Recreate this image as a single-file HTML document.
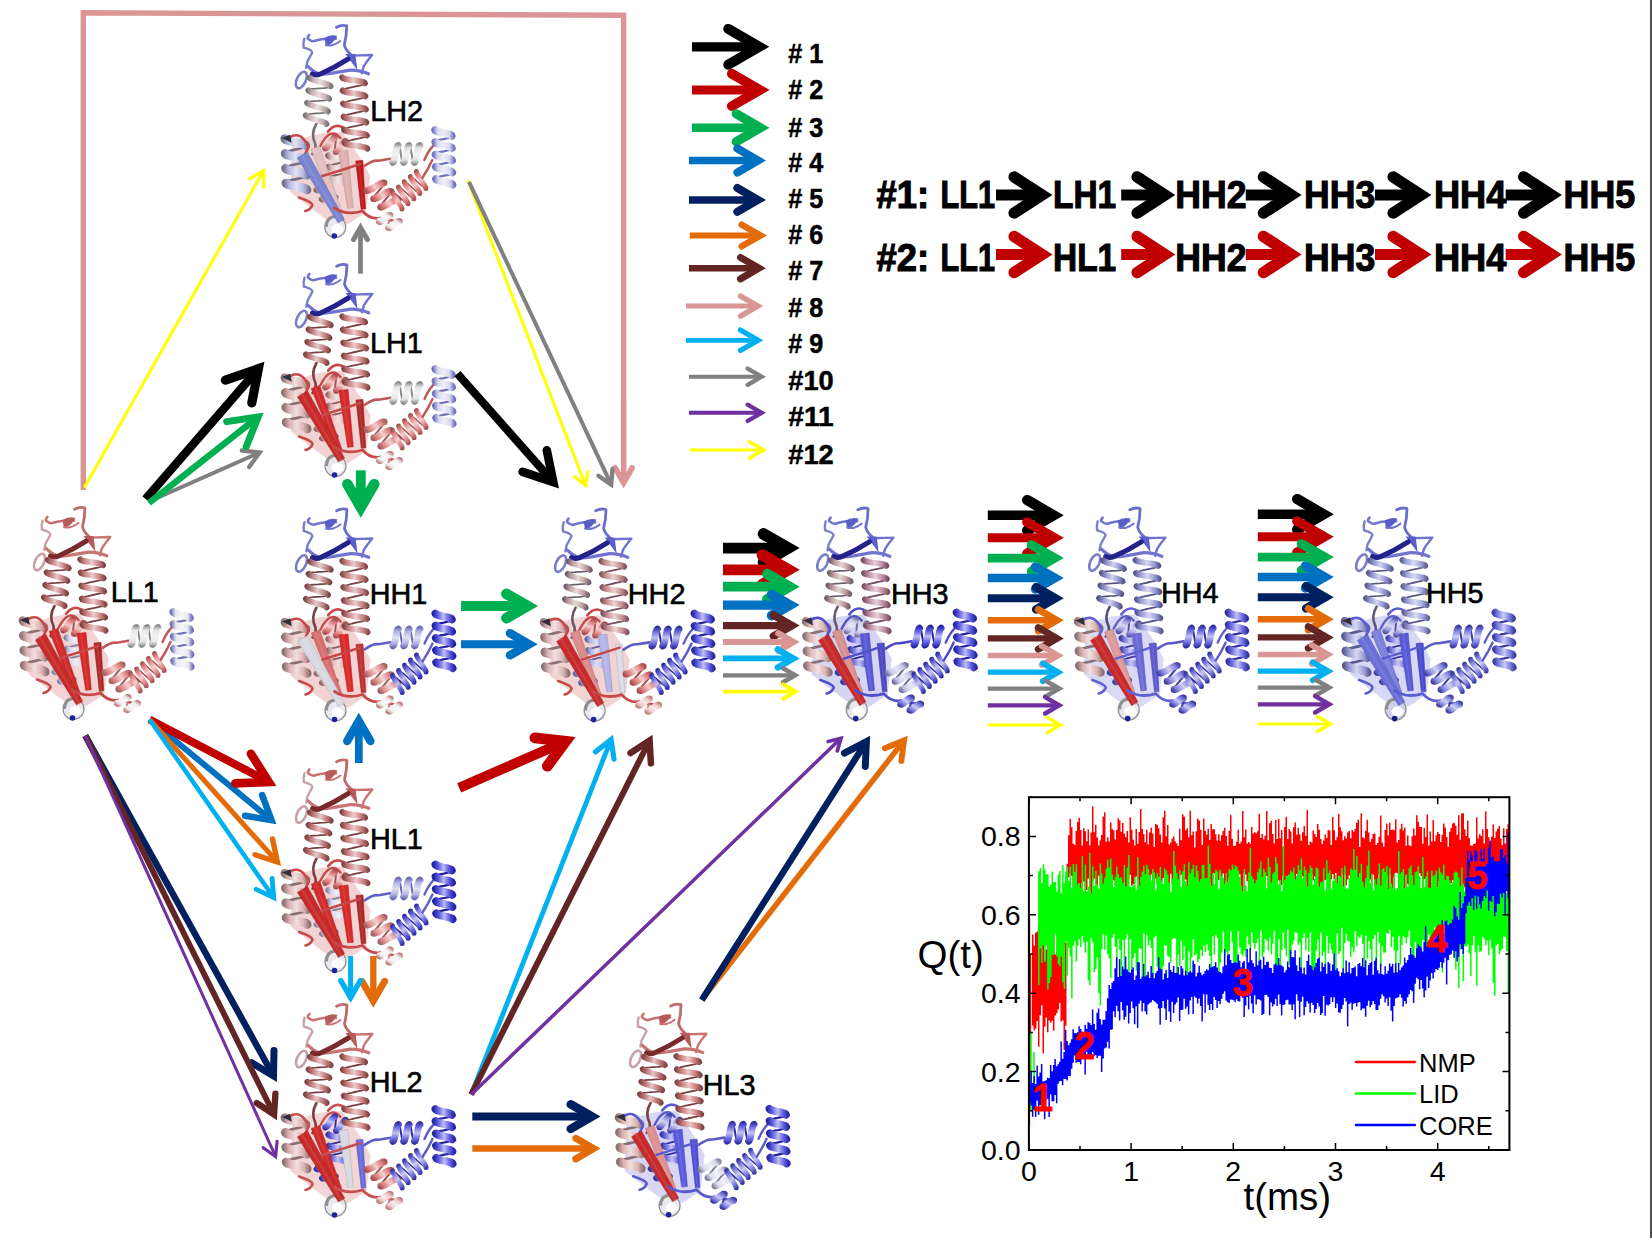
<!DOCTYPE html><html><head><meta charset="utf-8"><style>html,body{margin:0;padding:0;background:#fff;width:1652px;height:1238px;overflow:hidden}svg{display:block;font-family:"Liberation Sans",sans-serif}</style></head><body><svg width="1652" height="1238" viewBox="0 0 1652 1238"><defs><linearGradient id="h1" gradientUnits="userSpaceOnUse" x1="23.3" y1="76.2" x2="48.2" y2="78.8"><stop offset="0" stop-color="#707070"/><stop offset="0.22" stop-color="#c8b0b0"/><stop offset="0.5" stop-color="#e9dfdf"/><stop offset="0.78" stop-color="#c8b0b0"/><stop offset="1" stop-color="#707070"/></linearGradient><linearGradient id="h2" gradientUnits="userSpaceOnUse" x1="45" y1="148.5" x2="65" y2="147.5"><stop offset="0" stop-color="#806060"/><stop offset="0.22" stop-color="#dcc0c0"/><stop offset="0.5" stop-color="#f1e6e6"/><stop offset="0.78" stop-color="#dcc0c0"/><stop offset="1" stop-color="#806060"/></linearGradient><linearGradient id="h3" gradientUnits="userSpaceOnUse" x1="49.8" y1="128.6" x2="55.2" y2="112.4"><stop offset="0" stop-color="#a06060"/><stop offset="0.22" stop-color="#e09090"/><stop offset="0.5" stop-color="#f3d3d3"/><stop offset="0.78" stop-color="#e09090"/><stop offset="1" stop-color="#a06060"/></linearGradient><linearGradient id="h4" gradientUnits="userSpaceOnUse" x1="0.7" y1="144.4" x2="26.6" y2="143.6"><stop offset="0" stop-color="#70708a"/><stop offset="0.22" stop-color="#b4b8e0"/><stop offset="0.5" stop-color="#e1e3f3"/><stop offset="0.78" stop-color="#b4b8e0"/><stop offset="1" stop-color="#70708a"/></linearGradient><linearGradient id="h5" gradientUnits="userSpaceOnUse" x1="38.1" y1="176" x2="51.9" y2="168"><stop offset="0" stop-color="#806060"/><stop offset="0.22" stop-color="#dcc0c0"/><stop offset="0.5" stop-color="#f1e6e6"/><stop offset="0.78" stop-color="#dcc0c0"/><stop offset="1" stop-color="#806060"/></linearGradient><linearGradient id="h6" gradientUnits="userSpaceOnUse" x1="59.5" y1="91.5" x2="85.5" y2="90.5"><stop offset="0" stop-color="#7a4444"/><stop offset="0.22" stop-color="#c88080"/><stop offset="0.5" stop-color="#e9cccc"/><stop offset="0.78" stop-color="#c88080"/><stop offset="1" stop-color="#7a4444"/></linearGradient><linearGradient id="h7" gradientUnits="userSpaceOnUse" x1="91.6" y1="178.1" x2="108.4" y2="163.9"><stop offset="0" stop-color="#a05050"/><stop offset="0.22" stop-color="#e08080"/><stop offset="0.5" stop-color="#f3cccc"/><stop offset="0.78" stop-color="#e08080"/><stop offset="1" stop-color="#a05050"/></linearGradient><linearGradient id="h8" gradientUnits="userSpaceOnUse" x1="102.9" y1="203.8" x2="111.1" y2="191.2"><stop offset="0" stop-color="#c08080"/><stop offset="0.22" stop-color="#eeeeee"/><stop offset="0.5" stop-color="#f8f8f8"/><stop offset="0.78" stop-color="#eeeeee"/><stop offset="1" stop-color="#c08080"/></linearGradient><linearGradient id="h9" gradientUnits="userSpaceOnUse" x1="133.4" y1="175" x2="119.1" y2="158.4"><stop offset="0" stop-color="#a05050"/><stop offset="0.22" stop-color="#e47878"/><stop offset="0.5" stop-color="#f4c9c9"/><stop offset="0.78" stop-color="#e47878"/><stop offset="1" stop-color="#a05050"/></linearGradient><linearGradient id="h10" gradientUnits="userSpaceOnUse" x1="125" y1="140.5" x2="125" y2="119.5"><stop offset="0" stop-color="#8a8a8a"/><stop offset="0.22" stop-color="#e4e4e4"/><stop offset="0.5" stop-color="#f4f4f4"/><stop offset="0.78" stop-color="#e4e4e4"/><stop offset="1" stop-color="#8a8a8a"/></linearGradient><linearGradient id="h11" gradientUnits="userSpaceOnUse" x1="151" y1="134.2" x2="172" y2="133.8"><stop offset="0" stop-color="#7070c0"/><stop offset="0.22" stop-color="#d8d8f0"/><stop offset="0.5" stop-color="#efeff9"/><stop offset="0.78" stop-color="#d8d8f0"/><stop offset="1" stop-color="#7070c0"/></linearGradient><linearGradient id="h12" gradientUnits="userSpaceOnUse" x1="23.3" y1="76.2" x2="48.2" y2="78.8"><stop offset="0" stop-color="#7a4040"/><stop offset="0.22" stop-color="#c07a7a"/><stop offset="0.5" stop-color="#e6caca"/><stop offset="0.78" stop-color="#c07a7a"/><stop offset="1" stop-color="#7a4040"/></linearGradient><linearGradient id="h13" gradientUnits="userSpaceOnUse" x1="45" y1="148.5" x2="65" y2="147.5"><stop offset="0" stop-color="#906060"/><stop offset="0.22" stop-color="#e0b8b8"/><stop offset="0.5" stop-color="#f3e3e3"/><stop offset="0.78" stop-color="#e0b8b8"/><stop offset="1" stop-color="#906060"/></linearGradient><linearGradient id="h14" gradientUnits="userSpaceOnUse" x1="49.8" y1="128.6" x2="55.2" y2="112.4"><stop offset="0" stop-color="#a05050"/><stop offset="0.22" stop-color="#e07a7a"/><stop offset="0.5" stop-color="#f3caca"/><stop offset="0.78" stop-color="#e07a7a"/><stop offset="1" stop-color="#a05050"/></linearGradient><linearGradient id="h15" gradientUnits="userSpaceOnUse" x1="0.7" y1="144.4" x2="26.6" y2="143.6"><stop offset="0" stop-color="#8a7070"/><stop offset="0.22" stop-color="#dcb0b0"/><stop offset="0.5" stop-color="#f1dfdf"/><stop offset="0.78" stop-color="#dcb0b0"/><stop offset="1" stop-color="#8a7070"/></linearGradient><linearGradient id="h16" gradientUnits="userSpaceOnUse" x1="38.1" y1="176" x2="51.9" y2="168"><stop offset="0" stop-color="#906060"/><stop offset="0.22" stop-color="#e0b8b8"/><stop offset="0.5" stop-color="#f3e3e3"/><stop offset="0.78" stop-color="#e0b8b8"/><stop offset="1" stop-color="#906060"/></linearGradient><linearGradient id="h17" gradientUnits="userSpaceOnUse" x1="59.5" y1="91.5" x2="85.5" y2="90.5"><stop offset="0" stop-color="#7a4040"/><stop offset="0.22" stop-color="#cc7e7e"/><stop offset="0.5" stop-color="#ebcbcb"/><stop offset="0.78" stop-color="#cc7e7e"/><stop offset="1" stop-color="#7a4040"/></linearGradient><linearGradient id="h18" gradientUnits="userSpaceOnUse" x1="91.6" y1="178.1" x2="108.4" y2="163.9"><stop offset="0" stop-color="#a06060"/><stop offset="0.22" stop-color="#e08888"/><stop offset="0.5" stop-color="#f3cfcf"/><stop offset="0.78" stop-color="#e08888"/><stop offset="1" stop-color="#a06060"/></linearGradient><linearGradient id="h19" gradientUnits="userSpaceOnUse" x1="102.9" y1="203.8" x2="111.1" y2="191.2"><stop offset="0" stop-color="#c08080"/><stop offset="0.22" stop-color="#eeeeee"/><stop offset="0.5" stop-color="#f8f8f8"/><stop offset="0.78" stop-color="#eeeeee"/><stop offset="1" stop-color="#c08080"/></linearGradient><linearGradient id="h20" gradientUnits="userSpaceOnUse" x1="133.4" y1="175" x2="119.1" y2="158.4"><stop offset="0" stop-color="#a05050"/><stop offset="0.22" stop-color="#e48888"/><stop offset="0.5" stop-color="#f4cfcf"/><stop offset="0.78" stop-color="#e48888"/><stop offset="1" stop-color="#a05050"/></linearGradient><linearGradient id="h21" gradientUnits="userSpaceOnUse" x1="125" y1="140.5" x2="125" y2="119.5"><stop offset="0" stop-color="#8a8a8a"/><stop offset="0.22" stop-color="#e4e4e4"/><stop offset="0.5" stop-color="#f4f4f4"/><stop offset="0.78" stop-color="#e4e4e4"/><stop offset="1" stop-color="#8a8a8a"/></linearGradient><linearGradient id="h22" gradientUnits="userSpaceOnUse" x1="151" y1="134.2" x2="172" y2="133.8"><stop offset="0" stop-color="#7070c0"/><stop offset="0.22" stop-color="#d8d8f0"/><stop offset="0.5" stop-color="#efeff9"/><stop offset="0.78" stop-color="#d8d8f0"/><stop offset="1" stop-color="#7070c0"/></linearGradient><linearGradient id="h23" gradientUnits="userSpaceOnUse" x1="23.3" y1="76.2" x2="48.2" y2="78.8"><stop offset="0" stop-color="#7a4040"/><stop offset="0.22" stop-color="#c07676"/><stop offset="0.5" stop-color="#e6c8c8"/><stop offset="0.78" stop-color="#c07676"/><stop offset="1" stop-color="#7a4040"/></linearGradient><linearGradient id="h24" gradientUnits="userSpaceOnUse" x1="45" y1="148.5" x2="65" y2="147.5"><stop offset="0" stop-color="#8080a0"/><stop offset="0.22" stop-color="#d8d8ec"/><stop offset="0.5" stop-color="#efeff7"/><stop offset="0.78" stop-color="#d8d8ec"/><stop offset="1" stop-color="#8080a0"/></linearGradient><linearGradient id="h25" gradientUnits="userSpaceOnUse" x1="49.8" y1="128.6" x2="55.2" y2="112.4"><stop offset="0" stop-color="#a05050"/><stop offset="0.22" stop-color="#e07a7a"/><stop offset="0.5" stop-color="#f3caca"/><stop offset="0.78" stop-color="#e07a7a"/><stop offset="1" stop-color="#a05050"/></linearGradient><linearGradient id="h26" gradientUnits="userSpaceOnUse" x1="0.7" y1="144.4" x2="26.6" y2="143.6"><stop offset="0" stop-color="#8a7070"/><stop offset="0.22" stop-color="#dcb0b0"/><stop offset="0.5" stop-color="#f1dfdf"/><stop offset="0.78" stop-color="#dcb0b0"/><stop offset="1" stop-color="#8a7070"/></linearGradient><linearGradient id="h27" gradientUnits="userSpaceOnUse" x1="38.1" y1="176" x2="51.9" y2="168"><stop offset="0" stop-color="#8080a0"/><stop offset="0.22" stop-color="#d8d8ec"/><stop offset="0.5" stop-color="#efeff7"/><stop offset="0.78" stop-color="#d8d8ec"/><stop offset="1" stop-color="#8080a0"/></linearGradient><linearGradient id="h28" gradientUnits="userSpaceOnUse" x1="59.5" y1="91.5" x2="85.5" y2="90.5"><stop offset="0" stop-color="#7a4040"/><stop offset="0.22" stop-color="#cc8080"/><stop offset="0.5" stop-color="#ebcccc"/><stop offset="0.78" stop-color="#cc8080"/><stop offset="1" stop-color="#7a4040"/></linearGradient><linearGradient id="h29" gradientUnits="userSpaceOnUse" x1="91.6" y1="178.1" x2="108.4" y2="163.9"><stop offset="0" stop-color="#a06060"/><stop offset="0.22" stop-color="#e08888"/><stop offset="0.5" stop-color="#f3cfcf"/><stop offset="0.78" stop-color="#e08888"/><stop offset="1" stop-color="#a06060"/></linearGradient><linearGradient id="h30" gradientUnits="userSpaceOnUse" x1="102.9" y1="203.8" x2="111.1" y2="191.2"><stop offset="0" stop-color="#c08080"/><stop offset="0.22" stop-color="#eeeeee"/><stop offset="0.5" stop-color="#f8f8f8"/><stop offset="0.78" stop-color="#eeeeee"/><stop offset="1" stop-color="#c08080"/></linearGradient><linearGradient id="h31" gradientUnits="userSpaceOnUse" x1="133.4" y1="175" x2="119.1" y2="158.4"><stop offset="0" stop-color="#a05050"/><stop offset="0.22" stop-color="#e48888"/><stop offset="0.5" stop-color="#f4cfcf"/><stop offset="0.78" stop-color="#e48888"/><stop offset="1" stop-color="#a05050"/></linearGradient><linearGradient id="h32" gradientUnits="userSpaceOnUse" x1="125" y1="140.5" x2="125" y2="119.5"><stop offset="0" stop-color="#8a8a8a"/><stop offset="0.22" stop-color="#e4e4e4"/><stop offset="0.5" stop-color="#f4f4f4"/><stop offset="0.78" stop-color="#e4e4e4"/><stop offset="1" stop-color="#8a8a8a"/></linearGradient><linearGradient id="h33" gradientUnits="userSpaceOnUse" x1="151" y1="134.2" x2="172" y2="133.8"><stop offset="0" stop-color="#7070c0"/><stop offset="0.22" stop-color="#e8e8f0"/><stop offset="0.5" stop-color="#f6f6f9"/><stop offset="0.78" stop-color="#e8e8f0"/><stop offset="1" stop-color="#7070c0"/></linearGradient><linearGradient id="h34" gradientUnits="userSpaceOnUse" x1="23.3" y1="76.2" x2="48.2" y2="78.8"><stop offset="0" stop-color="#704444"/><stop offset="0.22" stop-color="#bc8282"/><stop offset="0.5" stop-color="#e4cdcd"/><stop offset="0.78" stop-color="#bc8282"/><stop offset="1" stop-color="#704444"/></linearGradient><linearGradient id="h35" gradientUnits="userSpaceOnUse" x1="45" y1="148.5" x2="65" y2="147.5"><stop offset="0" stop-color="#906060"/><stop offset="0.22" stop-color="#e0b0b0"/><stop offset="0.5" stop-color="#f3dfdf"/><stop offset="0.78" stop-color="#e0b0b0"/><stop offset="1" stop-color="#906060"/></linearGradient><linearGradient id="h36" gradientUnits="userSpaceOnUse" x1="49.8" y1="128.6" x2="55.2" y2="112.4"><stop offset="0" stop-color="#a05050"/><stop offset="0.22" stop-color="#e07a7a"/><stop offset="0.5" stop-color="#f3caca"/><stop offset="0.78" stop-color="#e07a7a"/><stop offset="1" stop-color="#a05050"/></linearGradient><linearGradient id="h37" gradientUnits="userSpaceOnUse" x1="0.7" y1="144.4" x2="26.6" y2="143.6"><stop offset="0" stop-color="#8a7070"/><stop offset="0.22" stop-color="#dcb0b0"/><stop offset="0.5" stop-color="#f1dfdf"/><stop offset="0.78" stop-color="#dcb0b0"/><stop offset="1" stop-color="#8a7070"/></linearGradient><linearGradient id="h38" gradientUnits="userSpaceOnUse" x1="38.1" y1="176" x2="51.9" y2="168"><stop offset="0" stop-color="#906060"/><stop offset="0.22" stop-color="#e0b0b0"/><stop offset="0.5" stop-color="#f3dfdf"/><stop offset="0.78" stop-color="#e0b0b0"/><stop offset="1" stop-color="#906060"/></linearGradient><linearGradient id="h39" gradientUnits="userSpaceOnUse" x1="59.5" y1="91.5" x2="85.5" y2="90.5"><stop offset="0" stop-color="#7a4444"/><stop offset="0.22" stop-color="#c88282"/><stop offset="0.5" stop-color="#e9cdcd"/><stop offset="0.78" stop-color="#c88282"/><stop offset="1" stop-color="#7a4444"/></linearGradient><linearGradient id="h40" gradientUnits="userSpaceOnUse" x1="91.6" y1="178.1" x2="108.4" y2="163.9"><stop offset="0" stop-color="#a06060"/><stop offset="0.22" stop-color="#e49090"/><stop offset="0.5" stop-color="#f4d3d3"/><stop offset="0.78" stop-color="#e49090"/><stop offset="1" stop-color="#a06060"/></linearGradient><linearGradient id="h41" gradientUnits="userSpaceOnUse" x1="102.9" y1="203.8" x2="111.1" y2="191.2"><stop offset="0" stop-color="#c08080"/><stop offset="0.22" stop-color="#eeeeee"/><stop offset="0.5" stop-color="#f8f8f8"/><stop offset="0.78" stop-color="#eeeeee"/><stop offset="1" stop-color="#c08080"/></linearGradient><linearGradient id="h42" gradientUnits="userSpaceOnUse" x1="133.4" y1="175" x2="119.1" y2="158.4"><stop offset="0" stop-color="#2a2aa0"/><stop offset="0.22" stop-color="#6464dc"/><stop offset="0.5" stop-color="#c1c1f1"/><stop offset="0.78" stop-color="#6464dc"/><stop offset="1" stop-color="#2a2aa0"/></linearGradient><linearGradient id="h43" gradientUnits="userSpaceOnUse" x1="125" y1="140.5" x2="125" y2="119.5"><stop offset="0" stop-color="#6a6ab0"/><stop offset="0.22" stop-color="#b4b4e6"/><stop offset="0.5" stop-color="#e1e1f5"/><stop offset="0.78" stop-color="#b4b4e6"/><stop offset="1" stop-color="#6a6ab0"/></linearGradient><linearGradient id="h44" gradientUnits="userSpaceOnUse" x1="151" y1="134.2" x2="172" y2="133.8"><stop offset="0" stop-color="#2020a0"/><stop offset="0.22" stop-color="#5a5ae0"/><stop offset="0.5" stop-color="#bdbdf3"/><stop offset="0.78" stop-color="#5a5ae0"/><stop offset="1" stop-color="#2020a0"/></linearGradient><linearGradient id="h45" gradientUnits="userSpaceOnUse" x1="23.3" y1="76.2" x2="48.2" y2="78.8"><stop offset="0" stop-color="#6a5a6a"/><stop offset="0.22" stop-color="#c0a0a0"/><stop offset="0.5" stop-color="#e6d9d9"/><stop offset="0.78" stop-color="#c0a0a0"/><stop offset="1" stop-color="#6a5a6a"/></linearGradient><linearGradient id="h46" gradientUnits="userSpaceOnUse" x1="45" y1="148.5" x2="65" y2="147.5"><stop offset="0" stop-color="#6060a0"/><stop offset="0.22" stop-color="#b0b4e8"/><stop offset="0.5" stop-color="#dfe1f6"/><stop offset="0.78" stop-color="#b0b4e8"/><stop offset="1" stop-color="#6060a0"/></linearGradient><linearGradient id="h47" gradientUnits="userSpaceOnUse" x1="49.8" y1="128.6" x2="55.2" y2="112.4"><stop offset="0" stop-color="#a05050"/><stop offset="0.22" stop-color="#e07a7a"/><stop offset="0.5" stop-color="#f3caca"/><stop offset="0.78" stop-color="#e07a7a"/><stop offset="1" stop-color="#a05050"/></linearGradient><linearGradient id="h48" gradientUnits="userSpaceOnUse" x1="0.7" y1="144.4" x2="26.6" y2="143.6"><stop offset="0" stop-color="#8a7070"/><stop offset="0.22" stop-color="#dcb4b4"/><stop offset="0.5" stop-color="#f1e1e1"/><stop offset="0.78" stop-color="#dcb4b4"/><stop offset="1" stop-color="#8a7070"/></linearGradient><linearGradient id="h49" gradientUnits="userSpaceOnUse" x1="38.1" y1="176" x2="51.9" y2="168"><stop offset="0" stop-color="#6060a0"/><stop offset="0.22" stop-color="#b0b4e8"/><stop offset="0.5" stop-color="#dfe1f6"/><stop offset="0.78" stop-color="#b0b4e8"/><stop offset="1" stop-color="#6060a0"/></linearGradient><linearGradient id="h50" gradientUnits="userSpaceOnUse" x1="59.5" y1="91.5" x2="85.5" y2="90.5"><stop offset="0" stop-color="#7a5060"/><stop offset="0.22" stop-color="#c89090"/><stop offset="0.5" stop-color="#e9d3d3"/><stop offset="0.78" stop-color="#c89090"/><stop offset="1" stop-color="#7a5060"/></linearGradient><linearGradient id="h51" gradientUnits="userSpaceOnUse" x1="91.6" y1="178.1" x2="108.4" y2="163.9"><stop offset="0" stop-color="#a05050"/><stop offset="0.22" stop-color="#e08080"/><stop offset="0.5" stop-color="#f3cccc"/><stop offset="0.78" stop-color="#e08080"/><stop offset="1" stop-color="#a05050"/></linearGradient><linearGradient id="h52" gradientUnits="userSpaceOnUse" x1="102.9" y1="203.8" x2="111.1" y2="191.2"><stop offset="0" stop-color="#c08080"/><stop offset="0.22" stop-color="#eecaca"/><stop offset="0.5" stop-color="#f8eaea"/><stop offset="0.78" stop-color="#eecaca"/><stop offset="1" stop-color="#c08080"/></linearGradient><linearGradient id="h53" gradientUnits="userSpaceOnUse" x1="133.4" y1="175" x2="119.1" y2="158.4"><stop offset="0" stop-color="#2a2aa0"/><stop offset="0.22" stop-color="#6a6ae0"/><stop offset="0.5" stop-color="#c3c3f3"/><stop offset="0.78" stop-color="#6a6ae0"/><stop offset="1" stop-color="#2a2aa0"/></linearGradient><linearGradient id="h54" gradientUnits="userSpaceOnUse" x1="125" y1="140.5" x2="125" y2="119.5"><stop offset="0" stop-color="#30309a"/><stop offset="0.22" stop-color="#6a6ad8"/><stop offset="0.5" stop-color="#c3c3ef"/><stop offset="0.78" stop-color="#6a6ad8"/><stop offset="1" stop-color="#30309a"/></linearGradient><linearGradient id="h55" gradientUnits="userSpaceOnUse" x1="151" y1="134.2" x2="172" y2="133.8"><stop offset="0" stop-color="#2525a0"/><stop offset="0.22" stop-color="#6060e0"/><stop offset="0.5" stop-color="#bfbff3"/><stop offset="0.78" stop-color="#6060e0"/><stop offset="1" stop-color="#2525a0"/></linearGradient><linearGradient id="h56" gradientUnits="userSpaceOnUse" x1="23.3" y1="76.2" x2="48.2" y2="78.8"><stop offset="0" stop-color="#6a5a6a"/><stop offset="0.22" stop-color="#bc9a9a"/><stop offset="0.5" stop-color="#e4d7d7"/><stop offset="0.78" stop-color="#bc9a9a"/><stop offset="1" stop-color="#6a5a6a"/></linearGradient><linearGradient id="h57" gradientUnits="userSpaceOnUse" x1="45" y1="148.5" x2="65" y2="147.5"><stop offset="0" stop-color="#3030a0"/><stop offset="0.22" stop-color="#6a6ae0"/><stop offset="0.5" stop-color="#c3c3f3"/><stop offset="0.78" stop-color="#6a6ae0"/><stop offset="1" stop-color="#3030a0"/></linearGradient><linearGradient id="h58" gradientUnits="userSpaceOnUse" x1="49.8" y1="128.6" x2="55.2" y2="112.4"><stop offset="0" stop-color="#7070a0"/><stop offset="0.22" stop-color="#c8c8e8"/><stop offset="0.5" stop-color="#e9e9f6"/><stop offset="0.78" stop-color="#c8c8e8"/><stop offset="1" stop-color="#7070a0"/></linearGradient><linearGradient id="h59" gradientUnits="userSpaceOnUse" x1="0.7" y1="144.4" x2="26.6" y2="143.6"><stop offset="0" stop-color="#8a7070"/><stop offset="0.22" stop-color="#dcb4b4"/><stop offset="0.5" stop-color="#f1e1e1"/><stop offset="0.78" stop-color="#dcb4b4"/><stop offset="1" stop-color="#8a7070"/></linearGradient><linearGradient id="h60" gradientUnits="userSpaceOnUse" x1="38.1" y1="176" x2="51.9" y2="168"><stop offset="0" stop-color="#3030a0"/><stop offset="0.22" stop-color="#6a6ae0"/><stop offset="0.5" stop-color="#c3c3f3"/><stop offset="0.78" stop-color="#6a6ae0"/><stop offset="1" stop-color="#3030a0"/></linearGradient><linearGradient id="h61" gradientUnits="userSpaceOnUse" x1="59.5" y1="91.5" x2="85.5" y2="90.5"><stop offset="0" stop-color="#704a60"/><stop offset="0.22" stop-color="#c08aa0"/><stop offset="0.5" stop-color="#e6d0d9"/><stop offset="0.78" stop-color="#c08aa0"/><stop offset="1" stop-color="#704a60"/></linearGradient><linearGradient id="h62" gradientUnits="userSpaceOnUse" x1="91.6" y1="178.1" x2="108.4" y2="163.9"><stop offset="0" stop-color="#7070a0"/><stop offset="0.22" stop-color="#c8c8ea"/><stop offset="0.5" stop-color="#e9e9f7"/><stop offset="0.78" stop-color="#c8c8ea"/><stop offset="1" stop-color="#7070a0"/></linearGradient><linearGradient id="h63" gradientUnits="userSpaceOnUse" x1="102.9" y1="203.8" x2="111.1" y2="191.2"><stop offset="0" stop-color="#3a3aa0"/><stop offset="0.22" stop-color="#7a7ae0"/><stop offset="0.5" stop-color="#cacaf3"/><stop offset="0.78" stop-color="#7a7ae0"/><stop offset="1" stop-color="#3a3aa0"/></linearGradient><linearGradient id="h64" gradientUnits="userSpaceOnUse" x1="133.4" y1="175" x2="119.1" y2="158.4"><stop offset="0" stop-color="#2a2aa0"/><stop offset="0.22" stop-color="#7070e0"/><stop offset="0.5" stop-color="#c6c6f3"/><stop offset="0.78" stop-color="#7070e0"/><stop offset="1" stop-color="#2a2aa0"/></linearGradient><linearGradient id="h65" gradientUnits="userSpaceOnUse" x1="125" y1="140.5" x2="125" y2="119.5"><stop offset="0" stop-color="#2525a0"/><stop offset="0.22" stop-color="#5a5ae0"/><stop offset="0.5" stop-color="#bdbdf3"/><stop offset="0.78" stop-color="#5a5ae0"/><stop offset="1" stop-color="#2525a0"/></linearGradient><linearGradient id="h66" gradientUnits="userSpaceOnUse" x1="151" y1="134.2" x2="172" y2="133.8"><stop offset="0" stop-color="#2525a0"/><stop offset="0.22" stop-color="#5a5ae0"/><stop offset="0.5" stop-color="#bdbdf3"/><stop offset="0.78" stop-color="#5a5ae0"/><stop offset="1" stop-color="#2525a0"/></linearGradient><linearGradient id="h67" gradientUnits="userSpaceOnUse" x1="23.3" y1="76.2" x2="48.2" y2="78.8"><stop offset="0" stop-color="#50507a"/><stop offset="0.22" stop-color="#8e90d0"/><stop offset="0.5" stop-color="#d2d3ec"/><stop offset="0.78" stop-color="#8e90d0"/><stop offset="1" stop-color="#50507a"/></linearGradient><linearGradient id="h68" gradientUnits="userSpaceOnUse" x1="45" y1="148.5" x2="65" y2="147.5"><stop offset="0" stop-color="#3a3aa0"/><stop offset="0.22" stop-color="#7a7ae0"/><stop offset="0.5" stop-color="#cacaf3"/><stop offset="0.78" stop-color="#7a7ae0"/><stop offset="1" stop-color="#3a3aa0"/></linearGradient><linearGradient id="h69" gradientUnits="userSpaceOnUse" x1="49.8" y1="128.6" x2="55.2" y2="112.4"><stop offset="0" stop-color="#5050a0"/><stop offset="0.22" stop-color="#9a9ae0"/><stop offset="0.5" stop-color="#d7d7f3"/><stop offset="0.78" stop-color="#9a9ae0"/><stop offset="1" stop-color="#5050a0"/></linearGradient><linearGradient id="h70" gradientUnits="userSpaceOnUse" x1="0.7" y1="144.4" x2="26.6" y2="143.6"><stop offset="0" stop-color="#8a7070"/><stop offset="0.22" stop-color="#dcb0b0"/><stop offset="0.5" stop-color="#f1dfdf"/><stop offset="0.78" stop-color="#dcb0b0"/><stop offset="1" stop-color="#8a7070"/></linearGradient><linearGradient id="h71" gradientUnits="userSpaceOnUse" x1="38.1" y1="176" x2="51.9" y2="168"><stop offset="0" stop-color="#3a3aa0"/><stop offset="0.22" stop-color="#7a7ae0"/><stop offset="0.5" stop-color="#cacaf3"/><stop offset="0.78" stop-color="#7a7ae0"/><stop offset="1" stop-color="#3a3aa0"/></linearGradient><linearGradient id="h72" gradientUnits="userSpaceOnUse" x1="59.5" y1="91.5" x2="85.5" y2="90.5"><stop offset="0" stop-color="#50508a"/><stop offset="0.22" stop-color="#9a9cd8"/><stop offset="0.5" stop-color="#d7d7ef"/><stop offset="0.78" stop-color="#9a9cd8"/><stop offset="1" stop-color="#50508a"/></linearGradient><linearGradient id="h73" gradientUnits="userSpaceOnUse" x1="91.6" y1="178.1" x2="108.4" y2="163.9"><stop offset="0" stop-color="#4040a0"/><stop offset="0.22" stop-color="#8a8ae0"/><stop offset="0.5" stop-color="#d0d0f3"/><stop offset="0.78" stop-color="#8a8ae0"/><stop offset="1" stop-color="#4040a0"/></linearGradient><linearGradient id="h74" gradientUnits="userSpaceOnUse" x1="102.9" y1="203.8" x2="111.1" y2="191.2"><stop offset="0" stop-color="#3a3aa0"/><stop offset="0.22" stop-color="#7a7ae0"/><stop offset="0.5" stop-color="#cacaf3"/><stop offset="0.78" stop-color="#7a7ae0"/><stop offset="1" stop-color="#3a3aa0"/></linearGradient><linearGradient id="h75" gradientUnits="userSpaceOnUse" x1="133.4" y1="175" x2="119.1" y2="158.4"><stop offset="0" stop-color="#3030a0"/><stop offset="0.22" stop-color="#7878e0"/><stop offset="0.5" stop-color="#c9c9f3"/><stop offset="0.78" stop-color="#7878e0"/><stop offset="1" stop-color="#3030a0"/></linearGradient><linearGradient id="h76" gradientUnits="userSpaceOnUse" x1="125" y1="140.5" x2="125" y2="119.5"><stop offset="0" stop-color="#3030a0"/><stop offset="0.22" stop-color="#6a6ae0"/><stop offset="0.5" stop-color="#c3c3f3"/><stop offset="0.78" stop-color="#6a6ae0"/><stop offset="1" stop-color="#3030a0"/></linearGradient><linearGradient id="h77" gradientUnits="userSpaceOnUse" x1="151" y1="134.2" x2="172" y2="133.8"><stop offset="0" stop-color="#3030a0"/><stop offset="0.22" stop-color="#6a6ae0"/><stop offset="0.5" stop-color="#c3c3f3"/><stop offset="0.78" stop-color="#6a6ae0"/><stop offset="1" stop-color="#3030a0"/></linearGradient><linearGradient id="h78" gradientUnits="userSpaceOnUse" x1="23.3" y1="76.2" x2="48.2" y2="78.8"><stop offset="0" stop-color="#5a5a80"/><stop offset="0.22" stop-color="#9094d4"/><stop offset="0.5" stop-color="#d3d4ee"/><stop offset="0.78" stop-color="#9094d4"/><stop offset="1" stop-color="#5a5a80"/></linearGradient><linearGradient id="h79" gradientUnits="userSpaceOnUse" x1="45" y1="148.5" x2="65" y2="147.5"><stop offset="0" stop-color="#3a3aa0"/><stop offset="0.22" stop-color="#7a7ee0"/><stop offset="0.5" stop-color="#cacbf3"/><stop offset="0.78" stop-color="#7a7ee0"/><stop offset="1" stop-color="#3a3aa0"/></linearGradient><linearGradient id="h80" gradientUnits="userSpaceOnUse" x1="49.8" y1="128.6" x2="55.2" y2="112.4"><stop offset="0" stop-color="#5050a0"/><stop offset="0.22" stop-color="#9a9ee0"/><stop offset="0.5" stop-color="#d7d8f3"/><stop offset="0.78" stop-color="#9a9ee0"/><stop offset="1" stop-color="#5050a0"/></linearGradient><linearGradient id="h81" gradientUnits="userSpaceOnUse" x1="0.7" y1="144.4" x2="26.6" y2="143.6"><stop offset="0" stop-color="#5a5a8a"/><stop offset="0.22" stop-color="#9a9ed8"/><stop offset="0.5" stop-color="#d7d8ef"/><stop offset="0.78" stop-color="#9a9ed8"/><stop offset="1" stop-color="#5a5a8a"/></linearGradient><linearGradient id="h82" gradientUnits="userSpaceOnUse" x1="38.1" y1="176" x2="51.9" y2="168"><stop offset="0" stop-color="#3a3aa0"/><stop offset="0.22" stop-color="#7a7ee0"/><stop offset="0.5" stop-color="#cacbf3"/><stop offset="0.78" stop-color="#7a7ee0"/><stop offset="1" stop-color="#3a3aa0"/></linearGradient><linearGradient id="h83" gradientUnits="userSpaceOnUse" x1="59.5" y1="91.5" x2="85.5" y2="90.5"><stop offset="0" stop-color="#5a5a8a"/><stop offset="0.22" stop-color="#a0a4dc"/><stop offset="0.5" stop-color="#d9dbf1"/><stop offset="0.78" stop-color="#a0a4dc"/><stop offset="1" stop-color="#5a5a8a"/></linearGradient><linearGradient id="h84" gradientUnits="userSpaceOnUse" x1="91.6" y1="178.1" x2="108.4" y2="163.9"><stop offset="0" stop-color="#4040a0"/><stop offset="0.22" stop-color="#8a8ee0"/><stop offset="0.5" stop-color="#d0d2f3"/><stop offset="0.78" stop-color="#8a8ee0"/><stop offset="1" stop-color="#4040a0"/></linearGradient><linearGradient id="h85" gradientUnits="userSpaceOnUse" x1="102.9" y1="203.8" x2="111.1" y2="191.2"><stop offset="0" stop-color="#4040a0"/><stop offset="0.22" stop-color="#8a8ee0"/><stop offset="0.5" stop-color="#d0d2f3"/><stop offset="0.78" stop-color="#8a8ee0"/><stop offset="1" stop-color="#4040a0"/></linearGradient><linearGradient id="h86" gradientUnits="userSpaceOnUse" x1="133.4" y1="175" x2="119.1" y2="158.4"><stop offset="0" stop-color="#3a3aa0"/><stop offset="0.22" stop-color="#7a7ee0"/><stop offset="0.5" stop-color="#cacbf3"/><stop offset="0.78" stop-color="#7a7ee0"/><stop offset="1" stop-color="#3a3aa0"/></linearGradient><linearGradient id="h87" gradientUnits="userSpaceOnUse" x1="125" y1="140.5" x2="125" y2="119.5"><stop offset="0" stop-color="#3a3aa0"/><stop offset="0.22" stop-color="#7a7ee0"/><stop offset="0.5" stop-color="#cacbf3"/><stop offset="0.78" stop-color="#7a7ee0"/><stop offset="1" stop-color="#3a3aa0"/></linearGradient><linearGradient id="h88" gradientUnits="userSpaceOnUse" x1="151" y1="134.2" x2="172" y2="133.8"><stop offset="0" stop-color="#3a3aa0"/><stop offset="0.22" stop-color="#7a7ee0"/><stop offset="0.5" stop-color="#cacbf3"/><stop offset="0.78" stop-color="#7a7ee0"/><stop offset="1" stop-color="#3a3aa0"/></linearGradient><linearGradient id="h89" gradientUnits="userSpaceOnUse" x1="23.3" y1="76.2" x2="48.2" y2="78.8"><stop offset="0" stop-color="#7a4040"/><stop offset="0.22" stop-color="#c07676"/><stop offset="0.5" stop-color="#e6c8c8"/><stop offset="0.78" stop-color="#c07676"/><stop offset="1" stop-color="#7a4040"/></linearGradient><linearGradient id="h90" gradientUnits="userSpaceOnUse" x1="45" y1="148.5" x2="65" y2="147.5"><stop offset="0" stop-color="#8080a0"/><stop offset="0.22" stop-color="#d8d8ec"/><stop offset="0.5" stop-color="#efeff7"/><stop offset="0.78" stop-color="#d8d8ec"/><stop offset="1" stop-color="#8080a0"/></linearGradient><linearGradient id="h91" gradientUnits="userSpaceOnUse" x1="49.8" y1="128.6" x2="55.2" y2="112.4"><stop offset="0" stop-color="#a05050"/><stop offset="0.22" stop-color="#e07a7a"/><stop offset="0.5" stop-color="#f3caca"/><stop offset="0.78" stop-color="#e07a7a"/><stop offset="1" stop-color="#a05050"/></linearGradient><linearGradient id="h92" gradientUnits="userSpaceOnUse" x1="0.7" y1="144.4" x2="26.6" y2="143.6"><stop offset="0" stop-color="#8a7070"/><stop offset="0.22" stop-color="#dcb0b0"/><stop offset="0.5" stop-color="#f1dfdf"/><stop offset="0.78" stop-color="#dcb0b0"/><stop offset="1" stop-color="#8a7070"/></linearGradient><linearGradient id="h93" gradientUnits="userSpaceOnUse" x1="38.1" y1="176" x2="51.9" y2="168"><stop offset="0" stop-color="#8080a0"/><stop offset="0.22" stop-color="#d8d8ec"/><stop offset="0.5" stop-color="#efeff7"/><stop offset="0.78" stop-color="#d8d8ec"/><stop offset="1" stop-color="#8080a0"/></linearGradient><linearGradient id="h94" gradientUnits="userSpaceOnUse" x1="59.5" y1="91.5" x2="85.5" y2="90.5"><stop offset="0" stop-color="#7a4040"/><stop offset="0.22" stop-color="#cc7e7e"/><stop offset="0.5" stop-color="#ebcbcb"/><stop offset="0.78" stop-color="#cc7e7e"/><stop offset="1" stop-color="#7a4040"/></linearGradient><linearGradient id="h95" gradientUnits="userSpaceOnUse" x1="91.6" y1="178.1" x2="108.4" y2="163.9"><stop offset="0" stop-color="#a06060"/><stop offset="0.22" stop-color="#e49090"/><stop offset="0.5" stop-color="#f4d3d3"/><stop offset="0.78" stop-color="#e49090"/><stop offset="1" stop-color="#a06060"/></linearGradient><linearGradient id="h96" gradientUnits="userSpaceOnUse" x1="102.9" y1="203.8" x2="111.1" y2="191.2"><stop offset="0" stop-color="#c08080"/><stop offset="0.22" stop-color="#eeeeee"/><stop offset="0.5" stop-color="#f8f8f8"/><stop offset="0.78" stop-color="#eeeeee"/><stop offset="1" stop-color="#c08080"/></linearGradient><linearGradient id="h97" gradientUnits="userSpaceOnUse" x1="133.4" y1="175" x2="119.1" y2="158.4"><stop offset="0" stop-color="#2a2aa0"/><stop offset="0.22" stop-color="#6a6ae0"/><stop offset="0.5" stop-color="#c3c3f3"/><stop offset="0.78" stop-color="#6a6ae0"/><stop offset="1" stop-color="#2a2aa0"/></linearGradient><linearGradient id="h98" gradientUnits="userSpaceOnUse" x1="125" y1="140.5" x2="125" y2="119.5"><stop offset="0" stop-color="#6a6ab0"/><stop offset="0.22" stop-color="#b4b4e6"/><stop offset="0.5" stop-color="#e1e1f5"/><stop offset="0.78" stop-color="#b4b4e6"/><stop offset="1" stop-color="#6a6ab0"/></linearGradient><linearGradient id="h99" gradientUnits="userSpaceOnUse" x1="151" y1="134.2" x2="172" y2="133.8"><stop offset="0" stop-color="#2020a0"/><stop offset="0.22" stop-color="#5050e0"/><stop offset="0.5" stop-color="#b9b9f3"/><stop offset="0.78" stop-color="#5050e0"/><stop offset="1" stop-color="#2020a0"/></linearGradient><linearGradient id="h100" gradientUnits="userSpaceOnUse" x1="23.3" y1="76.2" x2="48.2" y2="78.8"><stop offset="0" stop-color="#7a4040"/><stop offset="0.22" stop-color="#c07676"/><stop offset="0.5" stop-color="#e6c8c8"/><stop offset="0.78" stop-color="#c07676"/><stop offset="1" stop-color="#7a4040"/></linearGradient><linearGradient id="h101" gradientUnits="userSpaceOnUse" x1="45" y1="148.5" x2="65" y2="147.5"><stop offset="0" stop-color="#3030a0"/><stop offset="0.22" stop-color="#6a6ae0"/><stop offset="0.5" stop-color="#c3c3f3"/><stop offset="0.78" stop-color="#6a6ae0"/><stop offset="1" stop-color="#3030a0"/></linearGradient><linearGradient id="h102" gradientUnits="userSpaceOnUse" x1="49.8" y1="128.6" x2="55.2" y2="112.4"><stop offset="0" stop-color="#3030a0"/><stop offset="0.22" stop-color="#6a6ae0"/><stop offset="0.5" stop-color="#c3c3f3"/><stop offset="0.78" stop-color="#6a6ae0"/><stop offset="1" stop-color="#3030a0"/></linearGradient><linearGradient id="h103" gradientUnits="userSpaceOnUse" x1="0.7" y1="144.4" x2="26.6" y2="143.6"><stop offset="0" stop-color="#8a7070"/><stop offset="0.22" stop-color="#dcb0b0"/><stop offset="0.5" stop-color="#f1dfdf"/><stop offset="0.78" stop-color="#dcb0b0"/><stop offset="1" stop-color="#8a7070"/></linearGradient><linearGradient id="h104" gradientUnits="userSpaceOnUse" x1="38.1" y1="176" x2="51.9" y2="168"><stop offset="0" stop-color="#3030a0"/><stop offset="0.22" stop-color="#6a6ae0"/><stop offset="0.5" stop-color="#c3c3f3"/><stop offset="0.78" stop-color="#6a6ae0"/><stop offset="1" stop-color="#3030a0"/></linearGradient><linearGradient id="h105" gradientUnits="userSpaceOnUse" x1="59.5" y1="91.5" x2="85.5" y2="90.5"><stop offset="0" stop-color="#7a4040"/><stop offset="0.22" stop-color="#cc7e7e"/><stop offset="0.5" stop-color="#ebcbcb"/><stop offset="0.78" stop-color="#cc7e7e"/><stop offset="1" stop-color="#7a4040"/></linearGradient><linearGradient id="h106" gradientUnits="userSpaceOnUse" x1="91.6" y1="178.1" x2="108.4" y2="163.9"><stop offset="0" stop-color="#a05050"/><stop offset="0.22" stop-color="#e08080"/><stop offset="0.5" stop-color="#f3cccc"/><stop offset="0.78" stop-color="#e08080"/><stop offset="1" stop-color="#a05050"/></linearGradient><linearGradient id="h107" gradientUnits="userSpaceOnUse" x1="102.9" y1="203.8" x2="111.1" y2="191.2"><stop offset="0" stop-color="#c08080"/><stop offset="0.22" stop-color="#eecaca"/><stop offset="0.5" stop-color="#f8eaea"/><stop offset="0.78" stop-color="#eecaca"/><stop offset="1" stop-color="#c08080"/></linearGradient><linearGradient id="h108" gradientUnits="userSpaceOnUse" x1="133.4" y1="175" x2="119.1" y2="158.4"><stop offset="0" stop-color="#3030a0"/><stop offset="0.22" stop-color="#7a7ae0"/><stop offset="0.5" stop-color="#cacaf3"/><stop offset="0.78" stop-color="#7a7ae0"/><stop offset="1" stop-color="#3030a0"/></linearGradient><linearGradient id="h109" gradientUnits="userSpaceOnUse" x1="125" y1="140.5" x2="125" y2="119.5"><stop offset="0" stop-color="#3030a0"/><stop offset="0.22" stop-color="#6a6ae0"/><stop offset="0.5" stop-color="#c3c3f3"/><stop offset="0.78" stop-color="#6a6ae0"/><stop offset="1" stop-color="#3030a0"/></linearGradient><linearGradient id="h110" gradientUnits="userSpaceOnUse" x1="151" y1="134.2" x2="172" y2="133.8"><stop offset="0" stop-color="#2525a0"/><stop offset="0.22" stop-color="#5a5ae0"/><stop offset="0.5" stop-color="#bdbdf3"/><stop offset="0.78" stop-color="#5a5ae0"/><stop offset="1" stop-color="#2525a0"/></linearGradient><linearGradient id="h111" gradientUnits="userSpaceOnUse" x1="23.3" y1="76.2" x2="48.2" y2="78.8"><stop offset="0" stop-color="#7a4040"/><stop offset="0.22" stop-color="#bc7070"/><stop offset="0.5" stop-color="#e4c6c6"/><stop offset="0.78" stop-color="#bc7070"/><stop offset="1" stop-color="#7a4040"/></linearGradient><linearGradient id="h112" gradientUnits="userSpaceOnUse" x1="45" y1="148.5" x2="65" y2="147.5"><stop offset="0" stop-color="#3030a0"/><stop offset="0.22" stop-color="#6a6ae0"/><stop offset="0.5" stop-color="#c3c3f3"/><stop offset="0.78" stop-color="#6a6ae0"/><stop offset="1" stop-color="#3030a0"/></linearGradient><linearGradient id="h113" gradientUnits="userSpaceOnUse" x1="49.8" y1="128.6" x2="55.2" y2="112.4"><stop offset="0" stop-color="#4040a0"/><stop offset="0.22" stop-color="#8a8ae0"/><stop offset="0.5" stop-color="#d0d0f3"/><stop offset="0.78" stop-color="#8a8ae0"/><stop offset="1" stop-color="#4040a0"/></linearGradient><linearGradient id="h114" gradientUnits="userSpaceOnUse" x1="0.7" y1="144.4" x2="26.6" y2="143.6"><stop offset="0" stop-color="#8a7070"/><stop offset="0.22" stop-color="#dcb0b0"/><stop offset="0.5" stop-color="#f1dfdf"/><stop offset="0.78" stop-color="#dcb0b0"/><stop offset="1" stop-color="#8a7070"/></linearGradient><linearGradient id="h115" gradientUnits="userSpaceOnUse" x1="38.1" y1="176" x2="51.9" y2="168"><stop offset="0" stop-color="#3030a0"/><stop offset="0.22" stop-color="#6a6ae0"/><stop offset="0.5" stop-color="#c3c3f3"/><stop offset="0.78" stop-color="#6a6ae0"/><stop offset="1" stop-color="#3030a0"/></linearGradient><linearGradient id="h116" gradientUnits="userSpaceOnUse" x1="59.5" y1="91.5" x2="85.5" y2="90.5"><stop offset="0" stop-color="#7a4040"/><stop offset="0.22" stop-color="#cc7a7a"/><stop offset="0.5" stop-color="#ebcaca"/><stop offset="0.78" stop-color="#cc7a7a"/><stop offset="1" stop-color="#7a4040"/></linearGradient><linearGradient id="h117" gradientUnits="userSpaceOnUse" x1="91.6" y1="178.1" x2="108.4" y2="163.9"><stop offset="0" stop-color="#8080a0"/><stop offset="0.22" stop-color="#dcdcee"/><stop offset="0.5" stop-color="#f1f1f8"/><stop offset="0.78" stop-color="#dcdcee"/><stop offset="1" stop-color="#8080a0"/></linearGradient><linearGradient id="h118" gradientUnits="userSpaceOnUse" x1="102.9" y1="203.8" x2="111.1" y2="191.2"><stop offset="0" stop-color="#3a3aa0"/><stop offset="0.22" stop-color="#7a7ae0"/><stop offset="0.5" stop-color="#cacaf3"/><stop offset="0.78" stop-color="#7a7ae0"/><stop offset="1" stop-color="#3a3aa0"/></linearGradient><linearGradient id="h119" gradientUnits="userSpaceOnUse" x1="133.4" y1="175" x2="119.1" y2="158.4"><stop offset="0" stop-color="#3030a0"/><stop offset="0.22" stop-color="#7a7ae0"/><stop offset="0.5" stop-color="#cacaf3"/><stop offset="0.78" stop-color="#7a7ae0"/><stop offset="1" stop-color="#3030a0"/></linearGradient><linearGradient id="h120" gradientUnits="userSpaceOnUse" x1="125" y1="140.5" x2="125" y2="119.5"><stop offset="0" stop-color="#3030a0"/><stop offset="0.22" stop-color="#6a6ae0"/><stop offset="0.5" stop-color="#c3c3f3"/><stop offset="0.78" stop-color="#6a6ae0"/><stop offset="1" stop-color="#3030a0"/></linearGradient><linearGradient id="h121" gradientUnits="userSpaceOnUse" x1="151" y1="134.2" x2="172" y2="133.8"><stop offset="0" stop-color="#2525a0"/><stop offset="0.22" stop-color="#5a5ae0"/><stop offset="0.5" stop-color="#bdbdf3"/><stop offset="0.78" stop-color="#5a5ae0"/><stop offset="1" stop-color="#2525a0"/></linearGradient></defs><rect width="1652" height="1238" fill="#fff"/><g transform="translate(282.3 24)"><path d="M22 14.7Q20.5 20 21.4 23.7Q30 26 29.9 28.6Q27 34 25 37.7L23.8 43.7" fill="none" stroke="#7a7ec8" stroke-width="2.4" stroke-linecap="round" stroke-linejoin="round"/><ellipse cx="19" cy="56" rx="4.5" ry="8.8" fill="none" stroke="#7a7ec8" stroke-width="2.6" transform="rotate(25 19 56)"/><path d="M26.9 11Q24.5 14 25.7 14.7Q30 18 31.7 17.1Q38 15 43.8 14.7L53.5 14.7" fill="none" stroke="#7074d0" stroke-width="2.6" stroke-linecap="round" stroke-linejoin="round"/><path d="M42 14Q48 10 55 12Q50 21 43.5 22Z" fill="#5a5ec8"/><path d="M43.5 21Q50 23 58 17" fill="none" stroke="#7074d0" stroke-width="2.0" stroke-linecap="round" stroke-linejoin="round"/><path d="M54.1 3.2Q59 0.5 64.4 1.9L63.8 11.6L62 20.7Q63 26 69.8 31.6" fill="none" stroke="#6a6ec8" stroke-width="2.8" stroke-linecap="round" stroke-linejoin="round"/><path d="M69.8 31.6L89.8 31Q84 38 81.3 42.5L79.5 49.2" fill="none" stroke="#7074d0" stroke-width="2.4" stroke-linecap="round" stroke-linejoin="round"/><path d="M63 30L75 46L73 30Z" fill="#5a5ec8"/><path d="M25.7 42.5Q31 48 37.8 50.4Q44 50 49.9 49.2L68 46.1Q78 46 86.2 49.8" fill="none" stroke="#7074d0" stroke-width="3.2" stroke-linecap="round" stroke-linejoin="round"/><path d="M30 50Q34 52 38 50Q52 44 65.6 35.2" fill="none" stroke="#22228a" stroke-width="5.0" stroke-linecap="round" stroke-linejoin="round"/><path d="M10 120Q28 108 60 108L78 134L88 152L84 188L66 200L46 197L26 182L8 168Z" fill="#de9191" opacity="0.4"/><path d="M34 100Q28 110 33 120Q34 126 30 130" fill="none" stroke="#707070" stroke-width="2.6" stroke-linecap="round" stroke-linejoin="round"/><g stroke-linejoin="round"><path d="M48.9 62.4L48.3 63L46.6 63.4L44 63.8L40.8 64.1L37.2 64.3L33.6 64.6L30.3 64.8L27.7 65.2L26 65.6L25.4 66.2" fill="none" stroke="#707070" stroke-width="1.7"/><path d="M47.6 75L47 75.5L45.3 76L42.7 76.3L39.4 76.6L35.8 76.9L32.2 77.1L29 77.4L26.4 77.8L24.7 78.2L24 78.8" fill="none" stroke="#707070" stroke-width="1.7"/><path d="M46.2 87.5L45.6 88.1L43.9 88.5L41.3 88.9L38.1 89.2L34.5 89.4L30.9 89.7L27.6 90L25 90.3L23.3 90.8L22.7 91.3" fill="none" stroke="#707070" stroke-width="1.7"/><path d="M27.5 53.7L27.9 54.4L29.4 55.2L31.7 56.1L34.6 57L37.8 58L41.1 59L44 60L46.3 60.8L47.7 61.6L48.2 62.3" fill="none" stroke="url(#h1)" stroke-width="5.8" stroke-linecap="round"/><path d="M26.1 66.3L26.6 67L28 67.8L30.3 68.7L33.3 69.6L36.5 70.6L39.7 71.6L42.6 72.5L44.9 73.4L46.4 74.2L46.9 74.9" fill="none" stroke="url(#h1)" stroke-width="5.8" stroke-linecap="round"/><path d="M24.8 78.9L25.2 79.5L26.7 80.3L29 81.2L31.9 82.2L35.1 83.2L38.4 84.1L41.3 85.1L43.6 86L45 86.8L45.5 87.4" fill="none" stroke="url(#h1)" stroke-width="5.8" stroke-linecap="round"/><path d="M23.4 91.4L23.9 92.1L25.3 92.9L27.6 93.8L30.5 94.7L33.8 95.7L37 96.7L39.9 97.6L42.2 98.5L43.7 99.3L44.1 100" fill="none" stroke="url(#h1)" stroke-width="5.8" stroke-linecap="round"/></g><path d="M45.6 107.7Q55.3 96 65 107.7" fill="none" stroke="#c84848" stroke-width="2.6" stroke-linecap="round" stroke-linejoin="round"/><path d="M38 122Q48 102 58 114" fill="none" stroke="#c84848" stroke-width="2.4" stroke-linecap="round" stroke-linejoin="round"/><g stroke-linejoin="round"><path d="M63.6 136.3L63.2 136.9L61.9 137.5L59.9 138.2L57.4 138.9L54.6 139.6L51.8 140.3L49.2 141L47.2 141.6L46 142.3L45.5 142.8" fill="none" stroke="#806060" stroke-width="1.9"/><path d="M64.2 147.5L63.8 148.1L62.5 148.8L60.5 149.4L58 150.1L55.1 150.8L52.3 151.5L49.8 152.2L47.8 152.9L46.5 153.5L46.1 154.1" fill="none" stroke="#806060" stroke-width="1.9"/><path d="M46.1 131.6L46.5 132.1L47.7 132.6L49.5 133.1L51.8 133.5L54.3 134L56.8 134.4L59.1 134.8L60.9 135.3L62.1 135.8L62.5 136.4" fill="none" stroke="url(#h2)" stroke-width="6.3" stroke-linecap="round"/><path d="M46.6 142.8L47 143.3L48.2 143.8L50 144.3L52.3 144.8L54.9 145.2L57.4 145.6L59.7 146.1L61.5 146.5L62.7 147.1L63.1 147.6" fill="none" stroke="url(#h2)" stroke-width="6.3" stroke-linecap="round"/><path d="M47.2 154L47.6 154.6L48.8 155.1L50.6 155.5L52.9 156L55.4 156.4L58 156.9L60.2 157.3L62.1 157.8L63.2 158.3L63.7 158.8" fill="none" stroke="url(#h2)" stroke-width="6.3" stroke-linecap="round"/></g><g stroke-linejoin="round"><path d="M52.8 112.4L53.2 112.9L53.4 114.1L53.4 116L53.3 118.2L53 120.7L52.8 123.1L52.7 125.4L52.6 127.2L52.8 128.4L53.2 129" fill="none" stroke="#a06060" stroke-width="1.9"/><path d="M42.9 124.3L43.5 124.1L44.4 123.4L45.4 122.2L46.5 120.6L47.7 118.9L48.9 117.1L50 115.6L51 114.4L51.8 113.6L52.4 113.5" fill="none" stroke="url(#h3)" stroke-width="6.3" stroke-linecap="round"/><path d="M53.6 127.8L54.3 127.7L55.1 127L56.1 125.8L57.2 124.2L58.4 122.5L59.6 120.7L60.7 119.1L61.7 117.9L62.5 117.2L63.2 117.1" fill="none" stroke="url(#h3)" stroke-width="6.3" stroke-linecap="round"/></g><g stroke-linejoin="round"><path d="M25 121.5L24.4 122.2L22.7 123L20.1 123.8L16.8 124.7L13.1 125.5L9.5 126.4L6.1 127.2L3.5 128L1.8 128.8L1.3 129.6" fill="none" stroke="#70708a" stroke-width="2.7"/><path d="M25.4 136.3L24.8 137L23.2 137.8L20.5 138.6L17.2 139.5L13.5 140.3L9.9 141.1L6.6 142L3.9 142.8L2.3 143.6L1.7 144.3" fill="none" stroke="#70708a" stroke-width="2.7"/><path d="M25.8 151.1L25.2 151.8L23.6 152.6L20.9 153.4L17.6 154.2L14 155.1L10.3 155.9L7 156.8L4.3 157.6L2.7 158.4L2.1 159.1" fill="none" stroke="#70708a" stroke-width="2.7"/><path d="M2.5 114.7L3 115.4L4.5 116.1L6.8 116.8L9.7 117.5L12.9 118.1L16.1 118.8L19 119.4L21.3 120.1L22.8 120.8L23.4 121.5" fill="none" stroke="url(#h4)" stroke-width="8.9" stroke-linecap="round"/><path d="M2.9 129.5L3.4 130.2L4.9 130.9L7.2 131.6L10.1 132.3L13.3 132.9L16.6 133.6L19.5 134.2L21.8 134.9L23.3 135.6L23.8 136.3" fill="none" stroke="url(#h4)" stroke-width="8.9" stroke-linecap="round"/><path d="M3.3 144.3L3.8 145L5.3 145.7L7.6 146.4L10.5 147L13.8 147.7L17 148.3L19.9 149L22.2 149.7L23.7 150.4L24.2 151.1" fill="none" stroke="url(#h4)" stroke-width="8.9" stroke-linecap="round"/><path d="M3.7 159.1L4.3 159.8L5.7 160.5L8.1 161.2L11 161.8L14.2 162.5L17.4 163.1L20.3 163.8L22.6 164.5L24.1 165.2L24.6 165.9" fill="none" stroke="url(#h4)" stroke-width="8.9" stroke-linecap="round"/></g><path d="M6.9 113.5Q18.5 106 26.3 123.2L22.4 131" fill="none" stroke="#c84848" stroke-width="2.6" stroke-linecap="round" stroke-linejoin="round"/><path d="M2 114L7 112L8 117Z" fill="#303040" stroke="#303040" stroke-width="2"/><path d="M16.6 173.5Q30 178 30.1 181Q28 186 23 187" fill="none" stroke="#c84848" stroke-width="2.6" stroke-linecap="round" stroke-linejoin="round"/><circle cx="53" cy="203" r="10.5" fill="#e8e8ee" stroke="#909090" stroke-width="1.2"/><path d="M44 203Q44 193 53 192.5" fill="none" stroke="#909090" stroke-width="3"/><ellipse cx="55" cy="205" rx="6" ry="5" fill="#ffffff"/><circle cx="52" cy="212" r="2.8" fill="#2020a0"/><g stroke-linejoin="round"><path d="M48.7 163.7L48.6 164.3L48 165.3L46.9 166.6L45.3 168.1L43.7 169.7L42 171.3L40.5 172.8L39.3 174.1L38.7 175.1L38.6 175.7" fill="none" stroke="#806060" stroke-width="1.9"/><path d="M34.4 165.8L34.9 166.1L35.9 166.2L37.3 166L39.1 165.6L41 165.1L42.9 164.6L44.6 164.2L46 164L47 164L47.6 164.3" fill="none" stroke="url(#h5)" stroke-width="6.4" stroke-linecap="round"/><path d="M39.8 175.1L40.3 175.4L41.3 175.4L42.7 175.2L44.5 174.8L46.3 174.3L48.2 173.8L50 173.4L51.4 173.2L52.4 173.2L52.9 173.6" fill="none" stroke="url(#h5)" stroke-width="6.4" stroke-linecap="round"/></g><path d="M28.8 125.6L54.4 189L59.6 187L37.2 122.4Z" fill="#e4c0c0" stroke="#c2a3a3" stroke-width="0.6" stroke-linejoin="round"/><path d="M32.6 124.2L56.7 188.1" stroke="#ebd0d0" stroke-width="2" stroke-linecap="round" opacity="0.35"/><path d="M15 133.9L55.9 198.8L62.1 195.2L25 128.1Z" fill="#7a84d0" stroke="#6870b1" stroke-width="0.6" stroke-linejoin="round"/><path d="M19.5 131.3L58.7 197.2" stroke="#9ba3dc" stroke-width="2.5" stroke-linecap="round" opacity="0.35"/><path d="M56.5 127.5L65.2 184.3L70.8 183.7L65.5 126.5Z" fill="#e0b0b0" stroke="#be9696" stroke-width="0.6" stroke-linejoin="round"/><path d="M60.6 127.1L67.7 184" stroke="#e8c4c4" stroke-width="2" stroke-linecap="round" opacity="0.35"/><path d="M73.5 137L78.8 185.2L83.2 184.8L80.5 136.4Z" fill="#c01818" stroke="#a31414" stroke-width="0.6" stroke-linejoin="round"/><path d="M76.7 136.7L80.8 185" stroke="#d05252" stroke-width="1.5" stroke-linecap="round" opacity="0.35"/><path d="M40 152Q60 146 78 140" fill="none" stroke="#c84848" stroke-width="2.4" stroke-linecap="round" stroke-linejoin="round"/><path d="M52 184Q64 192 80 187Q88 196 98 194L112 197" fill="none" stroke="#c84848" stroke-width="2.8" stroke-linecap="round" stroke-linejoin="round"/><g stroke-linejoin="round"><path d="M83.3 59.1L82.7 59.8L81.1 60.5L78.4 61.3L75.1 62L71.5 62.8L67.8 63.6L64.5 64.4L61.9 65.2L60.2 65.9L59.6 66.5" fill="none" stroke="#7a4444" stroke-width="1.8"/><path d="M83.8 72.2L83.2 72.9L81.5 73.6L78.9 74.4L75.6 75.1L71.9 75.9L68.3 76.7L65 77.5L62.4 78.3L60.7 79L60.1 79.6" fill="none" stroke="#7a4444" stroke-width="1.8"/><path d="M84.3 85.3L83.7 86L82 86.7L79.4 87.5L76.1 88.2L72.4 89L68.8 89.8L65.5 90.6L62.8 91.4L61.2 92.1L60.6 92.7" fill="none" stroke="#7a4444" stroke-width="1.8"/><path d="M84.7 98.4L84.2 99.1L82.5 99.8L79.9 100.6L76.6 101.3L72.9 102.1L69.2 102.9L65.9 103.7L63.3 104.5L61.6 105.2L61.1 105.8" fill="none" stroke="#7a4444" stroke-width="1.8"/><path d="M85.2 111.5L84.7 112.2L83 112.9L80.4 113.7L77.1 114.4L73.4 115.2L69.7 116L66.4 116.8L63.8 117.6L62.1 118.3L61.6 118.9" fill="none" stroke="#7a4444" stroke-width="1.8"/><path d="M59.9 53.4L60.5 54.1L62.1 54.7L64.6 55.2L67.8 55.8L71.2 56.3L74.7 56.8L77.9 57.4L80.3 57.9L82 58.5L82.5 59.2" fill="none" stroke="url(#h6)" stroke-width="6" stroke-linecap="round"/><path d="M60.4 66.5L61 67.2L62.6 67.8L65.1 68.3L68.2 68.9L71.7 69.4L75.2 69.9L78.3 70.5L80.8 71L82.4 71.6L83 72.3" fill="none" stroke="url(#h6)" stroke-width="6" stroke-linecap="round"/><path d="M60.9 79.6L61.5 80.3L63.1 80.9L65.6 81.4L68.7 82L72.2 82.5L75.7 83L78.8 83.6L81.3 84.1L82.9 84.7L83.5 85.4" fill="none" stroke="url(#h6)" stroke-width="6" stroke-linecap="round"/><path d="M61.4 92.7L61.9 93.4L63.5 94L66 94.5L69.2 95.1L72.7 95.6L76.1 96.1L79.3 96.7L81.8 97.2L83.4 97.8L84 98.5" fill="none" stroke="url(#h6)" stroke-width="6" stroke-linecap="round"/><path d="M61.8 105.8L62.4 106.5L64 107L66.5 107.6L69.7 108.2L73.1 108.7L76.6 109.2L79.8 109.8L82.3 110.3L83.9 110.9L84.5 111.5" fill="none" stroke="url(#h6)" stroke-width="6" stroke-linecap="round"/><path d="M62.3 118.9L62.9 119.6L64.5 120.1L67 120.7L70.1 121.3L73.6 121.8L77.1 122.3L80.2 122.9L82.7 123.4L84.4 124L84.9 124.6" fill="none" stroke="url(#h6)" stroke-width="6" stroke-linecap="round"/></g><path d="M82 142Q90 136 96 136.7L108 134.8" fill="none" stroke="#c05858" stroke-width="2.6" stroke-linecap="round" stroke-linejoin="round"/><g stroke-linejoin="round"><path d="M102.5 158.3L102.4 159L101.7 160.3L100.3 162.2L98.5 164.4L96.5 166.9L94.5 169.3L92.7 171.5L91.3 173.4L90.6 174.7L90.5 175.5" fill="none" stroke="#a05050" stroke-width="2.1"/><path d="M109.5 166.5L109.4 167.3L108.7 168.6L107.3 170.5L105.5 172.7L103.5 175.1L101.5 177.6L99.7 179.8L98.3 181.7L97.6 183L97.5 183.7" fill="none" stroke="#a05050" stroke-width="2.1"/><path d="M84.4 166.4L85.1 166.5L86.4 166.1L88.3 165.3L90.5 164.1L93 162.7L95.4 161.4L97.7 160.2L99.6 159.3L100.9 158.9L101.6 159" fill="none" stroke="url(#h7)" stroke-width="6.9" stroke-linecap="round"/><path d="M91.4 174.7L92.1 174.8L93.4 174.4L95.3 173.6L97.5 172.4L100 171L102.5 169.6L104.7 168.4L106.6 167.6L107.9 167.2L108.6 167.3" fill="none" stroke="url(#h7)" stroke-width="6.9" stroke-linecap="round"/><path d="M98.4 183L99.1 183.1L100.4 182.7L102.3 181.8L104.6 180.6L107 179.3L109.5 177.9L111.7 176.7L113.6 175.9L114.9 175.5L115.6 175.6" fill="none" stroke="url(#h7)" stroke-width="6.9" stroke-linecap="round"/></g><g stroke-linejoin="round"><path d="M108.4 190.2L108.7 190.8L108.6 191.9L108.3 193.5L107.7 195.4L107 197.5L106.3 199.6L105.7 201.5L105.4 203.1L105.3 204.2L105.6 204.8" fill="none" stroke="#c08080" stroke-width="2.1"/><path d="M97.1 197.4L97.7 197.5L98.6 197.2L99.7 196.5L101 195.5L102.3 194.5L103.7 193.4L105 192.4L106.1 191.7L107 191.4L107.6 191.5" fill="none" stroke="url(#h8)" stroke-width="7.1" stroke-linecap="round"/><path d="M106.4 203.5L107 203.6L107.9 203.3L109 202.6L110.3 201.6L111.7 200.5L113 199.5L114.3 198.5L115.4 197.8L116.3 197.5L116.9 197.6" fill="none" stroke="url(#h8)" stroke-width="7.1" stroke-linecap="round"/></g><g stroke-linejoin="round"><path d="M109.8 167.5L110.4 167.6L111.7 168.5L113.4 169.9L115.6 171.8L117.9 173.9L120.2 176L122.4 177.9L124.1 179.3L125.4 180.2L126 180.3" fill="none" stroke="#a05050" stroke-width="1.5"/><path d="M115.8 162.4L116.4 162.5L117.6 163.3L119.4 164.8L121.5 166.6L123.9 168.8L126.2 170.9L128.3 172.8L130.1 174.2L131.3 175L132 175.1" fill="none" stroke="#a05050" stroke-width="1.5"/><path d="M121.7 157.2L122.4 157.3L123.6 158.2L125.4 159.6L127.5 161.5L129.8 163.6L132.2 165.7L134.3 167.6L136.1 169L137.3 169.9L137.9 170" fill="none" stroke="#a05050" stroke-width="1.5"/><path d="M127.7 152.1L128.3 152.2L129.6 153L131.3 154.5L133.5 156.4L135.8 158.5L138.1 160.6L140.3 162.5L142 163.9L143.3 164.7L143.9 164.9" fill="none" stroke="#a05050" stroke-width="1.5"/><path d="M119.6 184.9L119.6 184.3L119 183.1L117.9 181.2L116.5 178.9L114.9 176.5L113.3 174L111.9 171.7L110.8 169.9L110.2 168.6L110.2 168" fill="none" stroke="url(#h9)" stroke-width="5" stroke-linecap="round"/><path d="M125.6 179.8L125.6 179.2L125 177.9L123.9 176.1L122.5 173.8L120.9 171.3L119.3 168.8L117.8 166.6L116.8 164.7L116.2 163.5L116.2 162.9" fill="none" stroke="url(#h9)" stroke-width="5" stroke-linecap="round"/><path d="M131.5 174.7L131.5 174.1L131 172.8L129.9 170.9L128.5 168.7L126.8 166.2L125.2 163.7L123.8 161.4L122.7 159.6L122.2 158.3L122.1 157.7" fill="none" stroke="url(#h9)" stroke-width="5" stroke-linecap="round"/><path d="M137.5 169.5L137.5 168.9L136.9 167.6L135.9 165.8L134.4 163.5L132.8 161L131.2 158.6L129.8 156.3L128.7 154.5L128.1 153.2L128.1 152.6" fill="none" stroke="url(#h9)" stroke-width="5" stroke-linecap="round"/><path d="M143.5 164.4L143.5 163.8L142.9 162.5L141.8 160.6L140.4 158.4L138.8 155.9L137.2 153.4L135.7 151.2L134.7 149.3L134.1 148L134.1 147.4" fill="none" stroke="url(#h9)" stroke-width="5" stroke-linecap="round"/></g><path d="M140 154Q146 145 150 136" fill="none" stroke="#c05858" stroke-width="2.4" stroke-linecap="round" stroke-linejoin="round"/><g stroke-linejoin="round"><path d="M115.8 120.3L116.4 120.8L116.9 122.2L117.5 124.3L118 127L118.5 130L119.1 133L119.6 135.7L120.1 137.8L120.7 139.2L121.2 139.7" fill="none" stroke="#8a8a8a" stroke-width="2.1"/><path d="M126.6 120.3L127.2 120.8L127.7 122.2L128.2 124.3L128.8 127L129.3 130L129.9 133L130.4 135.7L130.9 137.8L131.5 139.2L132 139.7" fill="none" stroke="#8a8a8a" stroke-width="2.1"/><path d="M110.4 138.4L111 138L111.5 136.8L112.1 135L112.6 132.6L113.1 130L113.7 127.4L114.2 125L114.8 123.2L115.3 122L115.8 121.6" fill="none" stroke="url(#h10)" stroke-width="6.9" stroke-linecap="round"/><path d="M121.2 138.4L121.8 138L122.3 136.8L122.8 135L123.4 132.6L123.9 130L124.5 127.4L125 125L125.5 123.2L126.1 122L126.6 121.6" fill="none" stroke="url(#h10)" stroke-width="6.9" stroke-linecap="round"/><path d="M132 138.4L132.5 138L133.1 136.8L133.6 135L134.2 132.6L134.7 130L135.2 127.4L135.8 125L136.3 123.2L136.9 122L137.4 121.6" fill="none" stroke="url(#h10)" stroke-width="6.9" stroke-linecap="round"/></g><path d="M142 136Q147 124 155 118" fill="none" stroke="#c05858" stroke-width="2.4" stroke-linecap="round" stroke-linejoin="round"/><g stroke-linejoin="round"><path d="M170.8 111.9L170.4 112.5L169 113.1L166.9 113.8L164.2 114.4L161.2 115.1L158.2 115.7L155.5 116.4L153.4 117L152.1 117.7L151.6 118.3" fill="none" stroke="#7070c0" stroke-width="2.3"/><path d="M171 124.1L170.5 124.7L169.2 125.3L167.1 126L164.4 126.6L161.4 127.3L158.4 127.9L155.7 128.6L153.6 129.2L152.2 129.9L151.8 130.5" fill="none" stroke="#7070c0" stroke-width="2.3"/><path d="M171.2 136.3L170.7 136.9L169.4 137.5L167.2 138.2L164.6 138.8L161.6 139.5L158.6 140.2L155.9 140.8L153.8 141.5L152.4 142.1L152 142.7" fill="none" stroke="#7070c0" stroke-width="2.3"/><path d="M171.4 148.5L170.9 149.1L169.6 149.8L167.4 150.4L164.8 151.1L161.8 151.7L158.8 152.4L156.1 153L154 153.7L152.6 154.3L152.2 154.9" fill="none" stroke="#7070c0" stroke-width="2.3"/><path d="M152.9 106L153.3 106.6L154.5 107.2L156.3 107.8L158.6 108.4L161.1 109L163.6 109.5L165.9 110.1L167.7 110.7L168.9 111.3L169.3 111.9" fill="none" stroke="url(#h11)" stroke-width="7.8" stroke-linecap="round"/><path d="M153.1 118.2L153.5 118.9L154.7 119.4L156.5 120L158.8 120.6L161.3 121.2L163.8 121.7L166.1 122.3L167.9 122.9L169.1 123.5L169.5 124.1" fill="none" stroke="url(#h11)" stroke-width="7.8" stroke-linecap="round"/><path d="M153.3 130.5L153.7 131.1L154.9 131.7L156.7 132.2L159 132.8L161.5 133.4L164 134L166.3 134.5L168.1 135.1L169.3 135.7L169.7 136.3" fill="none" stroke="url(#h11)" stroke-width="7.8" stroke-linecap="round"/><path d="M153.5 142.7L153.9 143.3L155.1 143.9L156.9 144.5L159.2 145L161.7 145.6L164.2 146.2L166.5 146.7L168.3 147.3L169.5 147.9L169.9 148.5" fill="none" stroke="url(#h11)" stroke-width="7.8" stroke-linecap="round"/><path d="M153.7 154.9L154.1 155.5L155.2 156.1L157.1 156.7L159.3 157.2L161.9 157.8L164.4 158.4L166.7 159L168.5 159.5L169.7 160.1L170.1 160.7" fill="none" stroke="url(#h11)" stroke-width="7.8" stroke-linecap="round"/></g></g><g transform="translate(282.5 263)"><path d="M22 14.7Q20.5 20 21.4 23.7Q30 26 29.9 28.6Q27 34 25 37.7L23.8 43.7" fill="none" stroke="#7a7ec8" stroke-width="2.4" stroke-linecap="round" stroke-linejoin="round"/><ellipse cx="19" cy="56" rx="4.5" ry="8.8" fill="none" stroke="#7a7ec8" stroke-width="2.6" transform="rotate(25 19 56)"/><path d="M26.9 11Q24.5 14 25.7 14.7Q30 18 31.7 17.1Q38 15 43.8 14.7L53.5 14.7" fill="none" stroke="#7074d0" stroke-width="2.6" stroke-linecap="round" stroke-linejoin="round"/><path d="M42 14Q48 10 55 12Q50 21 43.5 22Z" fill="#5a5ec8"/><path d="M43.5 21Q50 23 58 17" fill="none" stroke="#7074d0" stroke-width="2.0" stroke-linecap="round" stroke-linejoin="round"/><path d="M54.1 3.2Q59 0.5 64.4 1.9L63.8 11.6L62 20.7Q63 26 69.8 31.6" fill="none" stroke="#6a6ec8" stroke-width="2.8" stroke-linecap="round" stroke-linejoin="round"/><path d="M69.8 31.6L89.8 31Q84 38 81.3 42.5L79.5 49.2" fill="none" stroke="#7074d0" stroke-width="2.4" stroke-linecap="round" stroke-linejoin="round"/><path d="M63 30L75 46L73 30Z" fill="#5a5ec8"/><path d="M25.7 42.5Q31 48 37.8 50.4Q44 50 49.9 49.2L68 46.1Q78 46 86.2 49.8" fill="none" stroke="#7074d0" stroke-width="3.2" stroke-linecap="round" stroke-linejoin="round"/><path d="M30 50Q34 52 38 50Q52 44 65.6 35.2" fill="none" stroke="#22228a" stroke-width="5.0" stroke-linecap="round" stroke-linejoin="round"/><path d="M10 120Q28 108 60 108L78 134L88 152L84 188L66 200L46 197L26 182L8 168Z" fill="#de9191" opacity="0.4"/><path d="M34 100Q28 110 33 120Q34 126 30 130" fill="none" stroke="#7a4040" stroke-width="2.6" stroke-linecap="round" stroke-linejoin="round"/><g stroke-linejoin="round"><path d="M48.9 62.4L48.3 63L46.6 63.4L44 63.8L40.8 64.1L37.2 64.3L33.6 64.6L30.3 64.8L27.7 65.2L26 65.6L25.4 66.2" fill="none" stroke="#7a4040" stroke-width="1.7"/><path d="M47.6 75L47 75.5L45.3 76L42.7 76.3L39.4 76.6L35.8 76.9L32.2 77.1L29 77.4L26.4 77.8L24.7 78.2L24 78.8" fill="none" stroke="#7a4040" stroke-width="1.7"/><path d="M46.2 87.5L45.6 88.1L43.9 88.5L41.3 88.9L38.1 89.2L34.5 89.4L30.9 89.7L27.6 90L25 90.3L23.3 90.8L22.7 91.3" fill="none" stroke="#7a4040" stroke-width="1.7"/><path d="M27.5 53.7L27.9 54.4L29.4 55.2L31.7 56.1L34.6 57L37.8 58L41.1 59L44 60L46.3 60.8L47.7 61.6L48.2 62.3" fill="none" stroke="url(#h12)" stroke-width="5.8" stroke-linecap="round"/><path d="M26.1 66.3L26.6 67L28 67.8L30.3 68.7L33.3 69.6L36.5 70.6L39.7 71.6L42.6 72.5L44.9 73.4L46.4 74.2L46.9 74.9" fill="none" stroke="url(#h12)" stroke-width="5.8" stroke-linecap="round"/><path d="M24.8 78.9L25.2 79.5L26.7 80.3L29 81.2L31.9 82.2L35.1 83.2L38.4 84.1L41.3 85.1L43.6 86L45 86.8L45.5 87.4" fill="none" stroke="url(#h12)" stroke-width="5.8" stroke-linecap="round"/><path d="M23.4 91.4L23.9 92.1L25.3 92.9L27.6 93.8L30.5 94.7L33.8 95.7L37 96.7L39.9 97.6L42.2 98.5L43.7 99.3L44.1 100" fill="none" stroke="url(#h12)" stroke-width="5.8" stroke-linecap="round"/></g><path d="M45.6 107.7Q55.3 96 65 107.7" fill="none" stroke="#c84848" stroke-width="2.6" stroke-linecap="round" stroke-linejoin="round"/><path d="M38 122Q48 102 58 114" fill="none" stroke="#c84848" stroke-width="2.4" stroke-linecap="round" stroke-linejoin="round"/><g stroke-linejoin="round"><path d="M63.6 136.3L63.2 136.9L61.9 137.5L59.9 138.2L57.4 138.9L54.6 139.6L51.8 140.3L49.2 141L47.2 141.6L46 142.3L45.5 142.8" fill="none" stroke="#906060" stroke-width="1.9"/><path d="M64.2 147.5L63.8 148.1L62.5 148.8L60.5 149.4L58 150.1L55.1 150.8L52.3 151.5L49.8 152.2L47.8 152.9L46.5 153.5L46.1 154.1" fill="none" stroke="#906060" stroke-width="1.9"/><path d="M46.1 131.6L46.5 132.1L47.7 132.6L49.5 133.1L51.8 133.5L54.3 134L56.8 134.4L59.1 134.8L60.9 135.3L62.1 135.8L62.5 136.4" fill="none" stroke="url(#h13)" stroke-width="6.3" stroke-linecap="round"/><path d="M46.6 142.8L47 143.3L48.2 143.8L50 144.3L52.3 144.8L54.9 145.2L57.4 145.6L59.7 146.1L61.5 146.5L62.7 147.1L63.1 147.6" fill="none" stroke="url(#h13)" stroke-width="6.3" stroke-linecap="round"/><path d="M47.2 154L47.6 154.6L48.8 155.1L50.6 155.5L52.9 156L55.4 156.4L58 156.9L60.2 157.3L62.1 157.8L63.2 158.3L63.7 158.8" fill="none" stroke="url(#h13)" stroke-width="6.3" stroke-linecap="round"/></g><g stroke-linejoin="round"><path d="M52.8 112.4L53.2 112.9L53.4 114.1L53.4 116L53.3 118.2L53 120.7L52.8 123.1L52.7 125.4L52.6 127.2L52.8 128.4L53.2 129" fill="none" stroke="#a05050" stroke-width="1.9"/><path d="M42.9 124.3L43.5 124.1L44.4 123.4L45.4 122.2L46.5 120.6L47.7 118.9L48.9 117.1L50 115.6L51 114.4L51.8 113.6L52.4 113.5" fill="none" stroke="url(#h14)" stroke-width="6.3" stroke-linecap="round"/><path d="M53.6 127.8L54.3 127.7L55.1 127L56.1 125.8L57.2 124.2L58.4 122.5L59.6 120.7L60.7 119.1L61.7 117.9L62.5 117.2L63.2 117.1" fill="none" stroke="url(#h14)" stroke-width="6.3" stroke-linecap="round"/></g><g stroke-linejoin="round"><path d="M25 121.5L24.4 122.2L22.7 123L20.1 123.8L16.8 124.7L13.1 125.5L9.5 126.4L6.1 127.2L3.5 128L1.8 128.8L1.3 129.6" fill="none" stroke="#8a7070" stroke-width="2.7"/><path d="M25.4 136.3L24.8 137L23.2 137.8L20.5 138.6L17.2 139.5L13.5 140.3L9.9 141.1L6.6 142L3.9 142.8L2.3 143.6L1.7 144.3" fill="none" stroke="#8a7070" stroke-width="2.7"/><path d="M25.8 151.1L25.2 151.8L23.6 152.6L20.9 153.4L17.6 154.2L14 155.1L10.3 155.9L7 156.8L4.3 157.6L2.7 158.4L2.1 159.1" fill="none" stroke="#8a7070" stroke-width="2.7"/><path d="M2.5 114.7L3 115.4L4.5 116.1L6.8 116.8L9.7 117.5L12.9 118.1L16.1 118.8L19 119.4L21.3 120.1L22.8 120.8L23.4 121.5" fill="none" stroke="url(#h15)" stroke-width="8.9" stroke-linecap="round"/><path d="M2.9 129.5L3.4 130.2L4.9 130.9L7.2 131.6L10.1 132.3L13.3 132.9L16.6 133.6L19.5 134.2L21.8 134.9L23.3 135.6L23.8 136.3" fill="none" stroke="url(#h15)" stroke-width="8.9" stroke-linecap="round"/><path d="M3.3 144.3L3.8 145L5.3 145.7L7.6 146.4L10.5 147L13.8 147.7L17 148.3L19.9 149L22.2 149.7L23.7 150.4L24.2 151.1" fill="none" stroke="url(#h15)" stroke-width="8.9" stroke-linecap="round"/><path d="M3.7 159.1L4.3 159.8L5.7 160.5L8.1 161.2L11 161.8L14.2 162.5L17.4 163.1L20.3 163.8L22.6 164.5L24.1 165.2L24.6 165.9" fill="none" stroke="url(#h15)" stroke-width="8.9" stroke-linecap="round"/></g><path d="M6.9 113.5Q18.5 106 26.3 123.2L22.4 131" fill="none" stroke="#c84848" stroke-width="2.6" stroke-linecap="round" stroke-linejoin="round"/><path d="M2 114L7 112L8 117Z" fill="#303040" stroke="#303040" stroke-width="2"/><path d="M16.6 173.5Q30 178 30.1 181Q28 186 23 187" fill="none" stroke="#c84848" stroke-width="2.6" stroke-linecap="round" stroke-linejoin="round"/><circle cx="53" cy="203" r="10.5" fill="#e8e8ee" stroke="#909090" stroke-width="1.2"/><path d="M44 203Q44 193 53 192.5" fill="none" stroke="#909090" stroke-width="3"/><ellipse cx="55" cy="205" rx="6" ry="5" fill="#ffffff"/><circle cx="52" cy="212" r="2.8" fill="#2020a0"/><g stroke-linejoin="round"><path d="M48.7 163.7L48.6 164.3L48 165.3L46.9 166.6L45.3 168.1L43.7 169.7L42 171.3L40.5 172.8L39.3 174.1L38.7 175.1L38.6 175.7" fill="none" stroke="#906060" stroke-width="1.9"/><path d="M34.4 165.8L34.9 166.1L35.9 166.2L37.3 166L39.1 165.6L41 165.1L42.9 164.6L44.6 164.2L46 164L47 164L47.6 164.3" fill="none" stroke="url(#h16)" stroke-width="6.4" stroke-linecap="round"/><path d="M39.8 175.1L40.3 175.4L41.3 175.4L42.7 175.2L44.5 174.8L46.3 174.3L48.2 173.8L50 173.4L51.4 173.2L52.4 173.2L52.9 173.6" fill="none" stroke="url(#h16)" stroke-width="6.4" stroke-linecap="round"/></g><path d="M28.8 125.6L54.4 189L59.6 187L37.2 122.4Z" fill="#d22a2a" stroke="#b22424" stroke-width="0.6" stroke-linejoin="round"/><path d="M32.6 124.2L56.7 188.1" stroke="#dd5f5f" stroke-width="2" stroke-linecap="round" opacity="0.35"/><path d="M15 133.9L55.9 198.8L62.1 195.2L25 128.1Z" fill="#c82a2a" stroke="#aa2424" stroke-width="0.6" stroke-linejoin="round"/><path d="M19.5 131.3L58.7 197.2" stroke="#d65f5f" stroke-width="2.5" stroke-linecap="round" opacity="0.35"/><path d="M56.5 127.5L65.2 184.3L70.8 183.7L65.5 126.5Z" fill="#d82828" stroke="#b82222" stroke-width="0.6" stroke-linejoin="round"/><path d="M60.6 127.1L67.7 184" stroke="#e25e5e" stroke-width="2" stroke-linecap="round" opacity="0.35"/><path d="M73.5 137L78.8 185.2L83.2 184.8L80.5 136.4Z" fill="#b02828" stroke="#962222" stroke-width="0.6" stroke-linejoin="round"/><path d="M76.7 136.7L80.8 185" stroke="#c45e5e" stroke-width="1.5" stroke-linecap="round" opacity="0.35"/><path d="M40 152Q60 146 78 140" fill="none" stroke="#c84848" stroke-width="2.4" stroke-linecap="round" stroke-linejoin="round"/><path d="M52 184Q64 192 80 187Q88 196 98 194L112 197" fill="none" stroke="#c84848" stroke-width="2.8" stroke-linecap="round" stroke-linejoin="round"/><g stroke-linejoin="round"><path d="M83.3 59.1L82.7 59.8L81.1 60.5L78.4 61.3L75.1 62L71.5 62.8L67.8 63.6L64.5 64.4L61.9 65.2L60.2 65.9L59.6 66.5" fill="none" stroke="#7a4040" stroke-width="1.8"/><path d="M83.8 72.2L83.2 72.9L81.5 73.6L78.9 74.4L75.6 75.1L71.9 75.9L68.3 76.7L65 77.5L62.4 78.3L60.7 79L60.1 79.6" fill="none" stroke="#7a4040" stroke-width="1.8"/><path d="M84.3 85.3L83.7 86L82 86.7L79.4 87.5L76.1 88.2L72.4 89L68.8 89.8L65.5 90.6L62.8 91.4L61.2 92.1L60.6 92.7" fill="none" stroke="#7a4040" stroke-width="1.8"/><path d="M84.7 98.4L84.2 99.1L82.5 99.8L79.9 100.6L76.6 101.3L72.9 102.1L69.2 102.9L65.9 103.7L63.3 104.5L61.6 105.2L61.1 105.8" fill="none" stroke="#7a4040" stroke-width="1.8"/><path d="M85.2 111.5L84.7 112.2L83 112.9L80.4 113.7L77.1 114.4L73.4 115.2L69.7 116L66.4 116.8L63.8 117.6L62.1 118.3L61.6 118.9" fill="none" stroke="#7a4040" stroke-width="1.8"/><path d="M59.9 53.4L60.5 54.1L62.1 54.7L64.6 55.2L67.8 55.8L71.2 56.3L74.7 56.8L77.9 57.4L80.3 57.9L82 58.5L82.5 59.2" fill="none" stroke="url(#h17)" stroke-width="6" stroke-linecap="round"/><path d="M60.4 66.5L61 67.2L62.6 67.8L65.1 68.3L68.2 68.9L71.7 69.4L75.2 69.9L78.3 70.5L80.8 71L82.4 71.6L83 72.3" fill="none" stroke="url(#h17)" stroke-width="6" stroke-linecap="round"/><path d="M60.9 79.6L61.5 80.3L63.1 80.9L65.6 81.4L68.7 82L72.2 82.5L75.7 83L78.8 83.6L81.3 84.1L82.9 84.7L83.5 85.4" fill="none" stroke="url(#h17)" stroke-width="6" stroke-linecap="round"/><path d="M61.4 92.7L61.9 93.4L63.5 94L66 94.5L69.2 95.1L72.7 95.6L76.1 96.1L79.3 96.7L81.8 97.2L83.4 97.8L84 98.5" fill="none" stroke="url(#h17)" stroke-width="6" stroke-linecap="round"/><path d="M61.8 105.8L62.4 106.5L64 107L66.5 107.6L69.7 108.2L73.1 108.7L76.6 109.2L79.8 109.8L82.3 110.3L83.9 110.9L84.5 111.5" fill="none" stroke="url(#h17)" stroke-width="6" stroke-linecap="round"/><path d="M62.3 118.9L62.9 119.6L64.5 120.1L67 120.7L70.1 121.3L73.6 121.8L77.1 122.3L80.2 122.9L82.7 123.4L84.4 124L84.9 124.6" fill="none" stroke="url(#h17)" stroke-width="6" stroke-linecap="round"/></g><path d="M82 142Q90 136 96 136.7L108 134.8" fill="none" stroke="#c05858" stroke-width="2.6" stroke-linecap="round" stroke-linejoin="round"/><g stroke-linejoin="round"><path d="M102.5 158.3L102.4 159L101.7 160.3L100.3 162.2L98.5 164.4L96.5 166.9L94.5 169.3L92.7 171.5L91.3 173.4L90.6 174.7L90.5 175.5" fill="none" stroke="#a06060" stroke-width="2.1"/><path d="M109.5 166.5L109.4 167.3L108.7 168.6L107.3 170.5L105.5 172.7L103.5 175.1L101.5 177.6L99.7 179.8L98.3 181.7L97.6 183L97.5 183.7" fill="none" stroke="#a06060" stroke-width="2.1"/><path d="M84.4 166.4L85.1 166.5L86.4 166.1L88.3 165.3L90.5 164.1L93 162.7L95.4 161.4L97.7 160.2L99.6 159.3L100.9 158.9L101.6 159" fill="none" stroke="url(#h18)" stroke-width="6.9" stroke-linecap="round"/><path d="M91.4 174.7L92.1 174.8L93.4 174.4L95.3 173.6L97.5 172.4L100 171L102.5 169.6L104.7 168.4L106.6 167.6L107.9 167.2L108.6 167.3" fill="none" stroke="url(#h18)" stroke-width="6.9" stroke-linecap="round"/><path d="M98.4 183L99.1 183.1L100.4 182.7L102.3 181.8L104.6 180.6L107 179.3L109.5 177.9L111.7 176.7L113.6 175.9L114.9 175.5L115.6 175.6" fill="none" stroke="url(#h18)" stroke-width="6.9" stroke-linecap="round"/></g><g stroke-linejoin="round"><path d="M108.4 190.2L108.7 190.8L108.6 191.9L108.3 193.5L107.7 195.4L107 197.5L106.3 199.6L105.7 201.5L105.4 203.1L105.3 204.2L105.6 204.8" fill="none" stroke="#c08080" stroke-width="2.1"/><path d="M97.1 197.4L97.7 197.5L98.6 197.2L99.7 196.5L101 195.5L102.3 194.5L103.7 193.4L105 192.4L106.1 191.7L107 191.4L107.6 191.5" fill="none" stroke="url(#h19)" stroke-width="7.1" stroke-linecap="round"/><path d="M106.4 203.5L107 203.6L107.9 203.3L109 202.6L110.3 201.6L111.7 200.5L113 199.5L114.3 198.5L115.4 197.8L116.3 197.5L116.9 197.6" fill="none" stroke="url(#h19)" stroke-width="7.1" stroke-linecap="round"/></g><g stroke-linejoin="round"><path d="M109.8 167.5L110.4 167.6L111.7 168.5L113.4 169.9L115.6 171.8L117.9 173.9L120.2 176L122.4 177.9L124.1 179.3L125.4 180.2L126 180.3" fill="none" stroke="#a05050" stroke-width="1.5"/><path d="M115.8 162.4L116.4 162.5L117.6 163.3L119.4 164.8L121.5 166.6L123.9 168.8L126.2 170.9L128.3 172.8L130.1 174.2L131.3 175L132 175.1" fill="none" stroke="#a05050" stroke-width="1.5"/><path d="M121.7 157.2L122.4 157.3L123.6 158.2L125.4 159.6L127.5 161.5L129.8 163.6L132.2 165.7L134.3 167.6L136.1 169L137.3 169.9L137.9 170" fill="none" stroke="#a05050" stroke-width="1.5"/><path d="M127.7 152.1L128.3 152.2L129.6 153L131.3 154.5L133.5 156.4L135.8 158.5L138.1 160.6L140.3 162.5L142 163.9L143.3 164.7L143.9 164.9" fill="none" stroke="#a05050" stroke-width="1.5"/><path d="M119.6 184.9L119.6 184.3L119 183.1L117.9 181.2L116.5 178.9L114.9 176.5L113.3 174L111.9 171.7L110.8 169.9L110.2 168.6L110.2 168" fill="none" stroke="url(#h20)" stroke-width="5" stroke-linecap="round"/><path d="M125.6 179.8L125.6 179.2L125 177.9L123.9 176.1L122.5 173.8L120.9 171.3L119.3 168.8L117.8 166.6L116.8 164.7L116.2 163.5L116.2 162.9" fill="none" stroke="url(#h20)" stroke-width="5" stroke-linecap="round"/><path d="M131.5 174.7L131.5 174.1L131 172.8L129.9 170.9L128.5 168.7L126.8 166.2L125.2 163.7L123.8 161.4L122.7 159.6L122.2 158.3L122.1 157.7" fill="none" stroke="url(#h20)" stroke-width="5" stroke-linecap="round"/><path d="M137.5 169.5L137.5 168.9L136.9 167.6L135.9 165.8L134.4 163.5L132.8 161L131.2 158.6L129.8 156.3L128.7 154.5L128.1 153.2L128.1 152.6" fill="none" stroke="url(#h20)" stroke-width="5" stroke-linecap="round"/><path d="M143.5 164.4L143.5 163.8L142.9 162.5L141.8 160.6L140.4 158.4L138.8 155.9L137.2 153.4L135.7 151.2L134.7 149.3L134.1 148L134.1 147.4" fill="none" stroke="url(#h20)" stroke-width="5" stroke-linecap="round"/></g><path d="M140 154Q146 145 150 136" fill="none" stroke="#c05858" stroke-width="2.4" stroke-linecap="round" stroke-linejoin="round"/><g stroke-linejoin="round"><path d="M115.8 120.3L116.4 120.8L116.9 122.2L117.5 124.3L118 127L118.5 130L119.1 133L119.6 135.7L120.1 137.8L120.7 139.2L121.2 139.7" fill="none" stroke="#8a8a8a" stroke-width="2.1"/><path d="M126.6 120.3L127.2 120.8L127.7 122.2L128.2 124.3L128.8 127L129.3 130L129.9 133L130.4 135.7L130.9 137.8L131.5 139.2L132 139.7" fill="none" stroke="#8a8a8a" stroke-width="2.1"/><path d="M110.4 138.4L111 138L111.5 136.8L112.1 135L112.6 132.6L113.1 130L113.7 127.4L114.2 125L114.8 123.2L115.3 122L115.8 121.6" fill="none" stroke="url(#h21)" stroke-width="6.9" stroke-linecap="round"/><path d="M121.2 138.4L121.8 138L122.3 136.8L122.8 135L123.4 132.6L123.9 130L124.5 127.4L125 125L125.5 123.2L126.1 122L126.6 121.6" fill="none" stroke="url(#h21)" stroke-width="6.9" stroke-linecap="round"/><path d="M132 138.4L132.5 138L133.1 136.8L133.6 135L134.2 132.6L134.7 130L135.2 127.4L135.8 125L136.3 123.2L136.9 122L137.4 121.6" fill="none" stroke="url(#h21)" stroke-width="6.9" stroke-linecap="round"/></g><path d="M142 136Q147 124 155 118" fill="none" stroke="#c05858" stroke-width="2.4" stroke-linecap="round" stroke-linejoin="round"/><g stroke-linejoin="round"><path d="M170.8 111.9L170.4 112.5L169 113.1L166.9 113.8L164.2 114.4L161.2 115.1L158.2 115.7L155.5 116.4L153.4 117L152.1 117.7L151.6 118.3" fill="none" stroke="#7070c0" stroke-width="2.3"/><path d="M171 124.1L170.5 124.7L169.2 125.3L167.1 126L164.4 126.6L161.4 127.3L158.4 127.9L155.7 128.6L153.6 129.2L152.2 129.9L151.8 130.5" fill="none" stroke="#7070c0" stroke-width="2.3"/><path d="M171.2 136.3L170.7 136.9L169.4 137.5L167.2 138.2L164.6 138.8L161.6 139.5L158.6 140.2L155.9 140.8L153.8 141.5L152.4 142.1L152 142.7" fill="none" stroke="#7070c0" stroke-width="2.3"/><path d="M171.4 148.5L170.9 149.1L169.6 149.8L167.4 150.4L164.8 151.1L161.8 151.7L158.8 152.4L156.1 153L154 153.7L152.6 154.3L152.2 154.9" fill="none" stroke="#7070c0" stroke-width="2.3"/><path d="M152.9 106L153.3 106.6L154.5 107.2L156.3 107.8L158.6 108.4L161.1 109L163.6 109.5L165.9 110.1L167.7 110.7L168.9 111.3L169.3 111.9" fill="none" stroke="url(#h22)" stroke-width="7.8" stroke-linecap="round"/><path d="M153.1 118.2L153.5 118.9L154.7 119.4L156.5 120L158.8 120.6L161.3 121.2L163.8 121.7L166.1 122.3L167.9 122.9L169.1 123.5L169.5 124.1" fill="none" stroke="url(#h22)" stroke-width="7.8" stroke-linecap="round"/><path d="M153.3 130.5L153.7 131.1L154.9 131.7L156.7 132.2L159 132.8L161.5 133.4L164 134L166.3 134.5L168.1 135.1L169.3 135.7L169.7 136.3" fill="none" stroke="url(#h22)" stroke-width="7.8" stroke-linecap="round"/><path d="M153.5 142.7L153.9 143.3L155.1 143.9L156.9 144.5L159.2 145L161.7 145.6L164.2 146.2L166.5 146.7L168.3 147.3L169.5 147.9L169.9 148.5" fill="none" stroke="url(#h22)" stroke-width="7.8" stroke-linecap="round"/><path d="M153.7 154.9L154.1 155.5L155.2 156.1L157.1 156.7L159.3 157.2L161.9 157.8L164.4 158.4L166.7 159L168.5 159.5L169.7 160.1L170.1 160.7" fill="none" stroke="url(#h22)" stroke-width="7.8" stroke-linecap="round"/></g></g><g transform="translate(20.5 506)"><path d="M22 14.7Q20.5 20 21.4 23.7Q30 26 29.9 28.6Q27 34 25 37.7L23.8 43.7" fill="none" stroke="#c8a0a8" stroke-width="2.4" stroke-linecap="round" stroke-linejoin="round"/><ellipse cx="19" cy="56" rx="4.5" ry="8.8" fill="none" stroke="#c8a0a8" stroke-width="2.6" transform="rotate(25 19 56)"/><path d="M26.9 11Q24.5 14 25.7 14.7Q30 18 31.7 17.1Q38 15 43.8 14.7L53.5 14.7" fill="none" stroke="#c87272" stroke-width="2.6" stroke-linecap="round" stroke-linejoin="round"/><path d="M42 14Q48 10 55 12Q50 21 43.5 22Z" fill="#b85a5a"/><path d="M43.5 21Q50 23 58 17" fill="none" stroke="#c87272" stroke-width="2.0" stroke-linecap="round" stroke-linejoin="round"/><path d="M54.1 3.2Q59 0.5 64.4 1.9L63.8 11.6L62 20.7Q63 26 69.8 31.6" fill="none" stroke="#c06a6a" stroke-width="2.8" stroke-linecap="round" stroke-linejoin="round"/><path d="M69.8 31.6L89.8 31Q84 38 81.3 42.5L79.5 49.2" fill="none" stroke="#c87272" stroke-width="2.4" stroke-linecap="round" stroke-linejoin="round"/><path d="M63 30L75 46L73 30Z" fill="#b85a5a"/><path d="M25.7 42.5Q31 48 37.8 50.4Q44 50 49.9 49.2L68 46.1Q78 46 86.2 49.8" fill="none" stroke="#c87272" stroke-width="3.2" stroke-linecap="round" stroke-linejoin="round"/><path d="M30 50Q34 52 38 50Q52 44 65.6 35.2" fill="none" stroke="#7a2a2a" stroke-width="5.0" stroke-linecap="round" stroke-linejoin="round"/><path d="M10 120Q28 108 60 108L78 134L88 152L84 188L66 200L46 197L26 182L8 168Z" fill="#de9191" opacity="0.4"/><path d="M34 100Q28 110 33 120Q34 126 30 130" fill="none" stroke="#7a4040" stroke-width="2.6" stroke-linecap="round" stroke-linejoin="round"/><g stroke-linejoin="round"><path d="M48.9 62.4L48.3 63L46.6 63.4L44 63.8L40.8 64.1L37.2 64.3L33.6 64.6L30.3 64.8L27.7 65.2L26 65.6L25.4 66.2" fill="none" stroke="#7a4040" stroke-width="1.7"/><path d="M47.6 75L47 75.5L45.3 76L42.7 76.3L39.4 76.6L35.8 76.9L32.2 77.1L29 77.4L26.4 77.8L24.7 78.2L24 78.8" fill="none" stroke="#7a4040" stroke-width="1.7"/><path d="M46.2 87.5L45.6 88.1L43.9 88.5L41.3 88.9L38.1 89.2L34.5 89.4L30.9 89.7L27.6 90L25 90.3L23.3 90.8L22.7 91.3" fill="none" stroke="#7a4040" stroke-width="1.7"/><path d="M27.5 53.7L27.9 54.4L29.4 55.2L31.7 56.1L34.6 57L37.8 58L41.1 59L44 60L46.3 60.8L47.7 61.6L48.2 62.3" fill="none" stroke="url(#h23)" stroke-width="5.8" stroke-linecap="round"/><path d="M26.1 66.3L26.6 67L28 67.8L30.3 68.7L33.3 69.6L36.5 70.6L39.7 71.6L42.6 72.5L44.9 73.4L46.4 74.2L46.9 74.9" fill="none" stroke="url(#h23)" stroke-width="5.8" stroke-linecap="round"/><path d="M24.8 78.9L25.2 79.5L26.7 80.3L29 81.2L31.9 82.2L35.1 83.2L38.4 84.1L41.3 85.1L43.6 86L45 86.8L45.5 87.4" fill="none" stroke="url(#h23)" stroke-width="5.8" stroke-linecap="round"/><path d="M23.4 91.4L23.9 92.1L25.3 92.9L27.6 93.8L30.5 94.7L33.8 95.7L37 96.7L39.9 97.6L42.2 98.5L43.7 99.3L44.1 100" fill="none" stroke="url(#h23)" stroke-width="5.8" stroke-linecap="round"/></g><path d="M45.6 107.7Q55.3 96 65 107.7" fill="none" stroke="#c84848" stroke-width="2.6" stroke-linecap="round" stroke-linejoin="round"/><path d="M38 122Q48 102 58 114" fill="none" stroke="#c84848" stroke-width="2.4" stroke-linecap="round" stroke-linejoin="round"/><g stroke-linejoin="round"><path d="M63.6 136.3L63.2 136.9L61.9 137.5L59.9 138.2L57.4 138.9L54.6 139.6L51.8 140.3L49.2 141L47.2 141.6L46 142.3L45.5 142.8" fill="none" stroke="#8080a0" stroke-width="1.9"/><path d="M64.2 147.5L63.8 148.1L62.5 148.8L60.5 149.4L58 150.1L55.1 150.8L52.3 151.5L49.8 152.2L47.8 152.9L46.5 153.5L46.1 154.1" fill="none" stroke="#8080a0" stroke-width="1.9"/><path d="M46.1 131.6L46.5 132.1L47.7 132.6L49.5 133.1L51.8 133.5L54.3 134L56.8 134.4L59.1 134.8L60.9 135.3L62.1 135.8L62.5 136.4" fill="none" stroke="url(#h24)" stroke-width="6.3" stroke-linecap="round"/><path d="M46.6 142.8L47 143.3L48.2 143.8L50 144.3L52.3 144.8L54.9 145.2L57.4 145.6L59.7 146.1L61.5 146.5L62.7 147.1L63.1 147.6" fill="none" stroke="url(#h24)" stroke-width="6.3" stroke-linecap="round"/><path d="M47.2 154L47.6 154.6L48.8 155.1L50.6 155.5L52.9 156L55.4 156.4L58 156.9L60.2 157.3L62.1 157.8L63.2 158.3L63.7 158.8" fill="none" stroke="url(#h24)" stroke-width="6.3" stroke-linecap="round"/></g><g stroke-linejoin="round"><path d="M52.8 112.4L53.2 112.9L53.4 114.1L53.4 116L53.3 118.2L53 120.7L52.8 123.1L52.7 125.4L52.6 127.2L52.8 128.4L53.2 129" fill="none" stroke="#a05050" stroke-width="1.9"/><path d="M42.9 124.3L43.5 124.1L44.4 123.4L45.4 122.2L46.5 120.6L47.7 118.9L48.9 117.1L50 115.6L51 114.4L51.8 113.6L52.4 113.5" fill="none" stroke="url(#h25)" stroke-width="6.3" stroke-linecap="round"/><path d="M53.6 127.8L54.3 127.7L55.1 127L56.1 125.8L57.2 124.2L58.4 122.5L59.6 120.7L60.7 119.1L61.7 117.9L62.5 117.2L63.2 117.1" fill="none" stroke="url(#h25)" stroke-width="6.3" stroke-linecap="round"/></g><g stroke-linejoin="round"><path d="M25 121.5L24.4 122.2L22.7 123L20.1 123.8L16.8 124.7L13.1 125.5L9.5 126.4L6.1 127.2L3.5 128L1.8 128.8L1.3 129.6" fill="none" stroke="#8a7070" stroke-width="2.7"/><path d="M25.4 136.3L24.8 137L23.2 137.8L20.5 138.6L17.2 139.5L13.5 140.3L9.9 141.1L6.6 142L3.9 142.8L2.3 143.6L1.7 144.3" fill="none" stroke="#8a7070" stroke-width="2.7"/><path d="M25.8 151.1L25.2 151.8L23.6 152.6L20.9 153.4L17.6 154.2L14 155.1L10.3 155.9L7 156.8L4.3 157.6L2.7 158.4L2.1 159.1" fill="none" stroke="#8a7070" stroke-width="2.7"/><path d="M2.5 114.7L3 115.4L4.5 116.1L6.8 116.8L9.7 117.5L12.9 118.1L16.1 118.8L19 119.4L21.3 120.1L22.8 120.8L23.4 121.5" fill="none" stroke="url(#h26)" stroke-width="8.9" stroke-linecap="round"/><path d="M2.9 129.5L3.4 130.2L4.9 130.9L7.2 131.6L10.1 132.3L13.3 132.9L16.6 133.6L19.5 134.2L21.8 134.9L23.3 135.6L23.8 136.3" fill="none" stroke="url(#h26)" stroke-width="8.9" stroke-linecap="round"/><path d="M3.3 144.3L3.8 145L5.3 145.7L7.6 146.4L10.5 147L13.8 147.7L17 148.3L19.9 149L22.2 149.7L23.7 150.4L24.2 151.1" fill="none" stroke="url(#h26)" stroke-width="8.9" stroke-linecap="round"/><path d="M3.7 159.1L4.3 159.8L5.7 160.5L8.1 161.2L11 161.8L14.2 162.5L17.4 163.1L20.3 163.8L22.6 164.5L24.1 165.2L24.6 165.9" fill="none" stroke="url(#h26)" stroke-width="8.9" stroke-linecap="round"/></g><path d="M6.9 113.5Q18.5 106 26.3 123.2L22.4 131" fill="none" stroke="#c84848" stroke-width="2.6" stroke-linecap="round" stroke-linejoin="round"/><path d="M2 114L7 112L8 117Z" fill="#303040" stroke="#303040" stroke-width="2"/><path d="M16.6 173.5Q30 178 30.1 181Q28 186 23 187" fill="none" stroke="#c84848" stroke-width="2.6" stroke-linecap="round" stroke-linejoin="round"/><circle cx="53" cy="203" r="10.5" fill="#e8e8ee" stroke="#909090" stroke-width="1.2"/><path d="M44 203Q44 193 53 192.5" fill="none" stroke="#909090" stroke-width="3"/><ellipse cx="55" cy="205" rx="6" ry="5" fill="#ffffff"/><circle cx="52" cy="212" r="2.8" fill="#2020a0"/><g stroke-linejoin="round"><path d="M48.7 163.7L48.6 164.3L48 165.3L46.9 166.6L45.3 168.1L43.7 169.7L42 171.3L40.5 172.8L39.3 174.1L38.7 175.1L38.6 175.7" fill="none" stroke="#8080a0" stroke-width="1.9"/><path d="M34.4 165.8L34.9 166.1L35.9 166.2L37.3 166L39.1 165.6L41 165.1L42.9 164.6L44.6 164.2L46 164L47 164L47.6 164.3" fill="none" stroke="url(#h27)" stroke-width="6.4" stroke-linecap="round"/><path d="M39.8 175.1L40.3 175.4L41.3 175.4L42.7 175.2L44.5 174.8L46.3 174.3L48.2 173.8L50 173.4L51.4 173.2L52.4 173.2L52.9 173.6" fill="none" stroke="url(#h27)" stroke-width="6.4" stroke-linecap="round"/></g><path d="M28.8 125.6L54.4 189L59.6 187L37.2 122.4Z" fill="#d22a2a" stroke="#b22424" stroke-width="0.6" stroke-linejoin="round"/><path d="M32.6 124.2L56.7 188.1" stroke="#dd5f5f" stroke-width="2" stroke-linecap="round" opacity="0.35"/><path d="M15 133.9L55.9 198.8L62.1 195.2L25 128.1Z" fill="#c82a2a" stroke="#aa2424" stroke-width="0.6" stroke-linejoin="round"/><path d="M19.5 131.3L58.7 197.2" stroke="#d65f5f" stroke-width="2.5" stroke-linecap="round" opacity="0.35"/><path d="M56.5 127.5L65.2 184.3L70.8 183.7L65.5 126.5Z" fill="#d82828" stroke="#b82222" stroke-width="0.6" stroke-linejoin="round"/><path d="M60.6 127.1L67.7 184" stroke="#e25e5e" stroke-width="2" stroke-linecap="round" opacity="0.35"/><path d="M73.5 137L78.8 185.2L83.2 184.8L80.5 136.4Z" fill="#b02828" stroke="#962222" stroke-width="0.6" stroke-linejoin="round"/><path d="M76.7 136.7L80.8 185" stroke="#c45e5e" stroke-width="1.5" stroke-linecap="round" opacity="0.35"/><path d="M40 152Q60 146 78 140" fill="none" stroke="#c84848" stroke-width="2.4" stroke-linecap="round" stroke-linejoin="round"/><path d="M52 184Q64 192 80 187Q88 196 98 194L112 197" fill="none" stroke="#c84848" stroke-width="2.8" stroke-linecap="round" stroke-linejoin="round"/><g stroke-linejoin="round"><path d="M83.3 59.1L82.7 59.8L81.1 60.5L78.4 61.3L75.1 62L71.5 62.8L67.8 63.6L64.5 64.4L61.9 65.2L60.2 65.9L59.6 66.5" fill="none" stroke="#7a4040" stroke-width="1.8"/><path d="M83.8 72.2L83.2 72.9L81.5 73.6L78.9 74.4L75.6 75.1L71.9 75.9L68.3 76.7L65 77.5L62.4 78.3L60.7 79L60.1 79.6" fill="none" stroke="#7a4040" stroke-width="1.8"/><path d="M84.3 85.3L83.7 86L82 86.7L79.4 87.5L76.1 88.2L72.4 89L68.8 89.8L65.5 90.6L62.8 91.4L61.2 92.1L60.6 92.7" fill="none" stroke="#7a4040" stroke-width="1.8"/><path d="M84.7 98.4L84.2 99.1L82.5 99.8L79.9 100.6L76.6 101.3L72.9 102.1L69.2 102.9L65.9 103.7L63.3 104.5L61.6 105.2L61.1 105.8" fill="none" stroke="#7a4040" stroke-width="1.8"/><path d="M85.2 111.5L84.7 112.2L83 112.9L80.4 113.7L77.1 114.4L73.4 115.2L69.7 116L66.4 116.8L63.8 117.6L62.1 118.3L61.6 118.9" fill="none" stroke="#7a4040" stroke-width="1.8"/><path d="M59.9 53.4L60.5 54.1L62.1 54.7L64.6 55.2L67.8 55.8L71.2 56.3L74.7 56.8L77.9 57.4L80.3 57.9L82 58.5L82.5 59.2" fill="none" stroke="url(#h28)" stroke-width="6" stroke-linecap="round"/><path d="M60.4 66.5L61 67.2L62.6 67.8L65.1 68.3L68.2 68.9L71.7 69.4L75.2 69.9L78.3 70.5L80.8 71L82.4 71.6L83 72.3" fill="none" stroke="url(#h28)" stroke-width="6" stroke-linecap="round"/><path d="M60.9 79.6L61.5 80.3L63.1 80.9L65.6 81.4L68.7 82L72.2 82.5L75.7 83L78.8 83.6L81.3 84.1L82.9 84.7L83.5 85.4" fill="none" stroke="url(#h28)" stroke-width="6" stroke-linecap="round"/><path d="M61.4 92.7L61.9 93.4L63.5 94L66 94.5L69.2 95.1L72.7 95.6L76.1 96.1L79.3 96.7L81.8 97.2L83.4 97.8L84 98.5" fill="none" stroke="url(#h28)" stroke-width="6" stroke-linecap="round"/><path d="M61.8 105.8L62.4 106.5L64 107L66.5 107.6L69.7 108.2L73.1 108.7L76.6 109.2L79.8 109.8L82.3 110.3L83.9 110.9L84.5 111.5" fill="none" stroke="url(#h28)" stroke-width="6" stroke-linecap="round"/><path d="M62.3 118.9L62.9 119.6L64.5 120.1L67 120.7L70.1 121.3L73.6 121.8L77.1 122.3L80.2 122.9L82.7 123.4L84.4 124L84.9 124.6" fill="none" stroke="url(#h28)" stroke-width="6" stroke-linecap="round"/></g><path d="M82 142Q90 136 96 136.7L108 134.8" fill="none" stroke="#c05858" stroke-width="2.6" stroke-linecap="round" stroke-linejoin="round"/><g stroke-linejoin="round"><path d="M102.5 158.3L102.4 159L101.7 160.3L100.3 162.2L98.5 164.4L96.5 166.9L94.5 169.3L92.7 171.5L91.3 173.4L90.6 174.7L90.5 175.5" fill="none" stroke="#a06060" stroke-width="2.1"/><path d="M109.5 166.5L109.4 167.3L108.7 168.6L107.3 170.5L105.5 172.7L103.5 175.1L101.5 177.6L99.7 179.8L98.3 181.7L97.6 183L97.5 183.7" fill="none" stroke="#a06060" stroke-width="2.1"/><path d="M84.4 166.4L85.1 166.5L86.4 166.1L88.3 165.3L90.5 164.1L93 162.7L95.4 161.4L97.7 160.2L99.6 159.3L100.9 158.9L101.6 159" fill="none" stroke="url(#h29)" stroke-width="6.9" stroke-linecap="round"/><path d="M91.4 174.7L92.1 174.8L93.4 174.4L95.3 173.6L97.5 172.4L100 171L102.5 169.6L104.7 168.4L106.6 167.6L107.9 167.2L108.6 167.3" fill="none" stroke="url(#h29)" stroke-width="6.9" stroke-linecap="round"/><path d="M98.4 183L99.1 183.1L100.4 182.7L102.3 181.8L104.6 180.6L107 179.3L109.5 177.9L111.7 176.7L113.6 175.9L114.9 175.5L115.6 175.6" fill="none" stroke="url(#h29)" stroke-width="6.9" stroke-linecap="round"/></g><g stroke-linejoin="round"><path d="M108.4 190.2L108.7 190.8L108.6 191.9L108.3 193.5L107.7 195.4L107 197.5L106.3 199.6L105.7 201.5L105.4 203.1L105.3 204.2L105.6 204.8" fill="none" stroke="#c08080" stroke-width="2.1"/><path d="M97.1 197.4L97.7 197.5L98.6 197.2L99.7 196.5L101 195.5L102.3 194.5L103.7 193.4L105 192.4L106.1 191.7L107 191.4L107.6 191.5" fill="none" stroke="url(#h30)" stroke-width="7.1" stroke-linecap="round"/><path d="M106.4 203.5L107 203.6L107.9 203.3L109 202.6L110.3 201.6L111.7 200.5L113 199.5L114.3 198.5L115.4 197.8L116.3 197.5L116.9 197.6" fill="none" stroke="url(#h30)" stroke-width="7.1" stroke-linecap="round"/></g><g stroke-linejoin="round"><path d="M109.8 167.5L110.4 167.6L111.7 168.5L113.4 169.9L115.6 171.8L117.9 173.9L120.2 176L122.4 177.9L124.1 179.3L125.4 180.2L126 180.3" fill="none" stroke="#a05050" stroke-width="1.5"/><path d="M115.8 162.4L116.4 162.5L117.6 163.3L119.4 164.8L121.5 166.6L123.9 168.8L126.2 170.9L128.3 172.8L130.1 174.2L131.3 175L132 175.1" fill="none" stroke="#a05050" stroke-width="1.5"/><path d="M121.7 157.2L122.4 157.3L123.6 158.2L125.4 159.6L127.5 161.5L129.8 163.6L132.2 165.7L134.3 167.6L136.1 169L137.3 169.9L137.9 170" fill="none" stroke="#a05050" stroke-width="1.5"/><path d="M127.7 152.1L128.3 152.2L129.6 153L131.3 154.5L133.5 156.4L135.8 158.5L138.1 160.6L140.3 162.5L142 163.9L143.3 164.7L143.9 164.9" fill="none" stroke="#a05050" stroke-width="1.5"/><path d="M119.6 184.9L119.6 184.3L119 183.1L117.9 181.2L116.5 178.9L114.9 176.5L113.3 174L111.9 171.7L110.8 169.9L110.2 168.6L110.2 168" fill="none" stroke="url(#h31)" stroke-width="5" stroke-linecap="round"/><path d="M125.6 179.8L125.6 179.2L125 177.9L123.9 176.1L122.5 173.8L120.9 171.3L119.3 168.8L117.8 166.6L116.8 164.7L116.2 163.5L116.2 162.9" fill="none" stroke="url(#h31)" stroke-width="5" stroke-linecap="round"/><path d="M131.5 174.7L131.5 174.1L131 172.8L129.9 170.9L128.5 168.7L126.8 166.2L125.2 163.7L123.8 161.4L122.7 159.6L122.2 158.3L122.1 157.7" fill="none" stroke="url(#h31)" stroke-width="5" stroke-linecap="round"/><path d="M137.5 169.5L137.5 168.9L136.9 167.6L135.9 165.8L134.4 163.5L132.8 161L131.2 158.6L129.8 156.3L128.7 154.5L128.1 153.2L128.1 152.6" fill="none" stroke="url(#h31)" stroke-width="5" stroke-linecap="round"/><path d="M143.5 164.4L143.5 163.8L142.9 162.5L141.8 160.6L140.4 158.4L138.8 155.9L137.2 153.4L135.7 151.2L134.7 149.3L134.1 148L134.1 147.4" fill="none" stroke="url(#h31)" stroke-width="5" stroke-linecap="round"/></g><path d="M140 154Q146 145 150 136" fill="none" stroke="#c05858" stroke-width="2.4" stroke-linecap="round" stroke-linejoin="round"/><g stroke-linejoin="round"><path d="M115.8 120.3L116.4 120.8L116.9 122.2L117.5 124.3L118 127L118.5 130L119.1 133L119.6 135.7L120.1 137.8L120.7 139.2L121.2 139.7" fill="none" stroke="#8a8a8a" stroke-width="2.1"/><path d="M126.6 120.3L127.2 120.8L127.7 122.2L128.2 124.3L128.8 127L129.3 130L129.9 133L130.4 135.7L130.9 137.8L131.5 139.2L132 139.7" fill="none" stroke="#8a8a8a" stroke-width="2.1"/><path d="M110.4 138.4L111 138L111.5 136.8L112.1 135L112.6 132.6L113.1 130L113.7 127.4L114.2 125L114.8 123.2L115.3 122L115.8 121.6" fill="none" stroke="url(#h32)" stroke-width="6.9" stroke-linecap="round"/><path d="M121.2 138.4L121.8 138L122.3 136.8L122.8 135L123.4 132.6L123.9 130L124.5 127.4L125 125L125.5 123.2L126.1 122L126.6 121.6" fill="none" stroke="url(#h32)" stroke-width="6.9" stroke-linecap="round"/><path d="M132 138.4L132.5 138L133.1 136.8L133.6 135L134.2 132.6L134.7 130L135.2 127.4L135.8 125L136.3 123.2L136.9 122L137.4 121.6" fill="none" stroke="url(#h32)" stroke-width="6.9" stroke-linecap="round"/></g><path d="M142 136Q147 124 155 118" fill="none" stroke="#c05858" stroke-width="2.4" stroke-linecap="round" stroke-linejoin="round"/><g stroke-linejoin="round"><path d="M170.8 111.9L170.4 112.5L169 113.1L166.9 113.8L164.2 114.4L161.2 115.1L158.2 115.7L155.5 116.4L153.4 117L152.1 117.7L151.6 118.3" fill="none" stroke="#7070c0" stroke-width="2.3"/><path d="M171 124.1L170.5 124.7L169.2 125.3L167.1 126L164.4 126.6L161.4 127.3L158.4 127.9L155.7 128.6L153.6 129.2L152.2 129.9L151.8 130.5" fill="none" stroke="#7070c0" stroke-width="2.3"/><path d="M171.2 136.3L170.7 136.9L169.4 137.5L167.2 138.2L164.6 138.8L161.6 139.5L158.6 140.2L155.9 140.8L153.8 141.5L152.4 142.1L152 142.7" fill="none" stroke="#7070c0" stroke-width="2.3"/><path d="M171.4 148.5L170.9 149.1L169.6 149.8L167.4 150.4L164.8 151.1L161.8 151.7L158.8 152.4L156.1 153L154 153.7L152.6 154.3L152.2 154.9" fill="none" stroke="#7070c0" stroke-width="2.3"/><path d="M152.9 106L153.3 106.6L154.5 107.2L156.3 107.8L158.6 108.4L161.1 109L163.6 109.5L165.9 110.1L167.7 110.7L168.9 111.3L169.3 111.9" fill="none" stroke="url(#h33)" stroke-width="7.8" stroke-linecap="round"/><path d="M153.1 118.2L153.5 118.9L154.7 119.4L156.5 120L158.8 120.6L161.3 121.2L163.8 121.7L166.1 122.3L167.9 122.9L169.1 123.5L169.5 124.1" fill="none" stroke="url(#h33)" stroke-width="7.8" stroke-linecap="round"/><path d="M153.3 130.5L153.7 131.1L154.9 131.7L156.7 132.2L159 132.8L161.5 133.4L164 134L166.3 134.5L168.1 135.1L169.3 135.7L169.7 136.3" fill="none" stroke="url(#h33)" stroke-width="7.8" stroke-linecap="round"/><path d="M153.5 142.7L153.9 143.3L155.1 143.9L156.9 144.5L159.2 145L161.7 145.6L164.2 146.2L166.5 146.7L168.3 147.3L169.5 147.9L169.9 148.5" fill="none" stroke="url(#h33)" stroke-width="7.8" stroke-linecap="round"/><path d="M153.7 154.9L154.1 155.5L155.2 156.1L157.1 156.7L159.3 157.2L161.9 157.8L164.4 158.4L166.7 159L168.5 159.5L169.7 160.1L170.1 160.7" fill="none" stroke="url(#h33)" stroke-width="7.8" stroke-linecap="round"/></g></g><g transform="translate(282.5 507.5)"><path d="M22 14.7Q20.5 20 21.4 23.7Q30 26 29.9 28.6Q27 34 25 37.7L23.8 43.7" fill="none" stroke="#7a7ec8" stroke-width="2.4" stroke-linecap="round" stroke-linejoin="round"/><ellipse cx="19" cy="56" rx="4.5" ry="8.8" fill="none" stroke="#7a7ec8" stroke-width="2.6" transform="rotate(25 19 56)"/><path d="M26.9 11Q24.5 14 25.7 14.7Q30 18 31.7 17.1Q38 15 43.8 14.7L53.5 14.7" fill="none" stroke="#7074d0" stroke-width="2.6" stroke-linecap="round" stroke-linejoin="round"/><path d="M42 14Q48 10 55 12Q50 21 43.5 22Z" fill="#5a5ec8"/><path d="M43.5 21Q50 23 58 17" fill="none" stroke="#7074d0" stroke-width="2.0" stroke-linecap="round" stroke-linejoin="round"/><path d="M54.1 3.2Q59 0.5 64.4 1.9L63.8 11.6L62 20.7Q63 26 69.8 31.6" fill="none" stroke="#6a6ec8" stroke-width="2.8" stroke-linecap="round" stroke-linejoin="round"/><path d="M69.8 31.6L89.8 31Q84 38 81.3 42.5L79.5 49.2" fill="none" stroke="#7074d0" stroke-width="2.4" stroke-linecap="round" stroke-linejoin="round"/><path d="M63 30L75 46L73 30Z" fill="#5a5ec8"/><path d="M25.7 42.5Q31 48 37.8 50.4Q44 50 49.9 49.2L68 46.1Q78 46 86.2 49.8" fill="none" stroke="#7074d0" stroke-width="3.2" stroke-linecap="round" stroke-linejoin="round"/><path d="M30 50Q34 52 38 50Q52 44 65.6 35.2" fill="none" stroke="#22228a" stroke-width="5.0" stroke-linecap="round" stroke-linejoin="round"/><path d="M10 120Q28 108 60 108L78 134L88 152L84 188L66 200L46 197L26 182L8 168Z" fill="#de9191" opacity="0.4"/><path d="M34 100Q28 110 33 120Q34 126 30 130" fill="none" stroke="#704444" stroke-width="2.6" stroke-linecap="round" stroke-linejoin="round"/><g stroke-linejoin="round"><path d="M48.9 62.4L48.3 63L46.6 63.4L44 63.8L40.8 64.1L37.2 64.3L33.6 64.6L30.3 64.8L27.7 65.2L26 65.6L25.4 66.2" fill="none" stroke="#704444" stroke-width="1.7"/><path d="M47.6 75L47 75.5L45.3 76L42.7 76.3L39.4 76.6L35.8 76.9L32.2 77.1L29 77.4L26.4 77.8L24.7 78.2L24 78.8" fill="none" stroke="#704444" stroke-width="1.7"/><path d="M46.2 87.5L45.6 88.1L43.9 88.5L41.3 88.9L38.1 89.2L34.5 89.4L30.9 89.7L27.6 90L25 90.3L23.3 90.8L22.7 91.3" fill="none" stroke="#704444" stroke-width="1.7"/><path d="M27.5 53.7L27.9 54.4L29.4 55.2L31.7 56.1L34.6 57L37.8 58L41.1 59L44 60L46.3 60.8L47.7 61.6L48.2 62.3" fill="none" stroke="url(#h34)" stroke-width="5.8" stroke-linecap="round"/><path d="M26.1 66.3L26.6 67L28 67.8L30.3 68.7L33.3 69.6L36.5 70.6L39.7 71.6L42.6 72.5L44.9 73.4L46.4 74.2L46.9 74.9" fill="none" stroke="url(#h34)" stroke-width="5.8" stroke-linecap="round"/><path d="M24.8 78.9L25.2 79.5L26.7 80.3L29 81.2L31.9 82.2L35.1 83.2L38.4 84.1L41.3 85.1L43.6 86L45 86.8L45.5 87.4" fill="none" stroke="url(#h34)" stroke-width="5.8" stroke-linecap="round"/><path d="M23.4 91.4L23.9 92.1L25.3 92.9L27.6 93.8L30.5 94.7L33.8 95.7L37 96.7L39.9 97.6L42.2 98.5L43.7 99.3L44.1 100" fill="none" stroke="url(#h34)" stroke-width="5.8" stroke-linecap="round"/></g><path d="M45.6 107.7Q55.3 96 65 107.7" fill="none" stroke="#c84848" stroke-width="2.6" stroke-linecap="round" stroke-linejoin="round"/><path d="M38 122Q48 102 58 114" fill="none" stroke="#c84848" stroke-width="2.4" stroke-linecap="round" stroke-linejoin="round"/><g stroke-linejoin="round"><path d="M63.6 136.3L63.2 136.9L61.9 137.5L59.9 138.2L57.4 138.9L54.6 139.6L51.8 140.3L49.2 141L47.2 141.6L46 142.3L45.5 142.8" fill="none" stroke="#906060" stroke-width="1.9"/><path d="M64.2 147.5L63.8 148.1L62.5 148.8L60.5 149.4L58 150.1L55.1 150.8L52.3 151.5L49.8 152.2L47.8 152.9L46.5 153.5L46.1 154.1" fill="none" stroke="#906060" stroke-width="1.9"/><path d="M46.1 131.6L46.5 132.1L47.7 132.6L49.5 133.1L51.8 133.5L54.3 134L56.8 134.4L59.1 134.8L60.9 135.3L62.1 135.8L62.5 136.4" fill="none" stroke="url(#h35)" stroke-width="6.3" stroke-linecap="round"/><path d="M46.6 142.8L47 143.3L48.2 143.8L50 144.3L52.3 144.8L54.9 145.2L57.4 145.6L59.7 146.1L61.5 146.5L62.7 147.1L63.1 147.6" fill="none" stroke="url(#h35)" stroke-width="6.3" stroke-linecap="round"/><path d="M47.2 154L47.6 154.6L48.8 155.1L50.6 155.5L52.9 156L55.4 156.4L58 156.9L60.2 157.3L62.1 157.8L63.2 158.3L63.7 158.8" fill="none" stroke="url(#h35)" stroke-width="6.3" stroke-linecap="round"/></g><g stroke-linejoin="round"><path d="M52.8 112.4L53.2 112.9L53.4 114.1L53.4 116L53.3 118.2L53 120.7L52.8 123.1L52.7 125.4L52.6 127.2L52.8 128.4L53.2 129" fill="none" stroke="#a05050" stroke-width="1.9"/><path d="M42.9 124.3L43.5 124.1L44.4 123.4L45.4 122.2L46.5 120.6L47.7 118.9L48.9 117.1L50 115.6L51 114.4L51.8 113.6L52.4 113.5" fill="none" stroke="url(#h36)" stroke-width="6.3" stroke-linecap="round"/><path d="M53.6 127.8L54.3 127.7L55.1 127L56.1 125.8L57.2 124.2L58.4 122.5L59.6 120.7L60.7 119.1L61.7 117.9L62.5 117.2L63.2 117.1" fill="none" stroke="url(#h36)" stroke-width="6.3" stroke-linecap="round"/></g><g stroke-linejoin="round"><path d="M25 121.5L24.4 122.2L22.7 123L20.1 123.8L16.8 124.7L13.1 125.5L9.5 126.4L6.1 127.2L3.5 128L1.8 128.8L1.3 129.6" fill="none" stroke="#8a7070" stroke-width="2.7"/><path d="M25.4 136.3L24.8 137L23.2 137.8L20.5 138.6L17.2 139.5L13.5 140.3L9.9 141.1L6.6 142L3.9 142.8L2.3 143.6L1.7 144.3" fill="none" stroke="#8a7070" stroke-width="2.7"/><path d="M25.8 151.1L25.2 151.8L23.6 152.6L20.9 153.4L17.6 154.2L14 155.1L10.3 155.9L7 156.8L4.3 157.6L2.7 158.4L2.1 159.1" fill="none" stroke="#8a7070" stroke-width="2.7"/><path d="M2.5 114.7L3 115.4L4.5 116.1L6.8 116.8L9.7 117.5L12.9 118.1L16.1 118.8L19 119.4L21.3 120.1L22.8 120.8L23.4 121.5" fill="none" stroke="url(#h37)" stroke-width="8.9" stroke-linecap="round"/><path d="M2.9 129.5L3.4 130.2L4.9 130.9L7.2 131.6L10.1 132.3L13.3 132.9L16.6 133.6L19.5 134.2L21.8 134.9L23.3 135.6L23.8 136.3" fill="none" stroke="url(#h37)" stroke-width="8.9" stroke-linecap="round"/><path d="M3.3 144.3L3.8 145L5.3 145.7L7.6 146.4L10.5 147L13.8 147.7L17 148.3L19.9 149L22.2 149.7L23.7 150.4L24.2 151.1" fill="none" stroke="url(#h37)" stroke-width="8.9" stroke-linecap="round"/><path d="M3.7 159.1L4.3 159.8L5.7 160.5L8.1 161.2L11 161.8L14.2 162.5L17.4 163.1L20.3 163.8L22.6 164.5L24.1 165.2L24.6 165.9" fill="none" stroke="url(#h37)" stroke-width="8.9" stroke-linecap="round"/></g><path d="M6.9 113.5Q18.5 106 26.3 123.2L22.4 131" fill="none" stroke="#c84848" stroke-width="2.6" stroke-linecap="round" stroke-linejoin="round"/><path d="M2 114L7 112L8 117Z" fill="#303040" stroke="#303040" stroke-width="2"/><path d="M16.6 173.5Q30 178 30.1 181Q28 186 23 187" fill="none" stroke="#c84848" stroke-width="2.6" stroke-linecap="round" stroke-linejoin="round"/><circle cx="53" cy="203" r="10.5" fill="#e8e8ee" stroke="#909090" stroke-width="1.2"/><path d="M44 203Q44 193 53 192.5" fill="none" stroke="#909090" stroke-width="3"/><ellipse cx="55" cy="205" rx="6" ry="5" fill="#ffffff"/><circle cx="52" cy="212" r="2.8" fill="#2020a0"/><g stroke-linejoin="round"><path d="M48.7 163.7L48.6 164.3L48 165.3L46.9 166.6L45.3 168.1L43.7 169.7L42 171.3L40.5 172.8L39.3 174.1L38.7 175.1L38.6 175.7" fill="none" stroke="#906060" stroke-width="1.9"/><path d="M34.4 165.8L34.9 166.1L35.9 166.2L37.3 166L39.1 165.6L41 165.1L42.9 164.6L44.6 164.2L46 164L47 164L47.6 164.3" fill="none" stroke="url(#h38)" stroke-width="6.4" stroke-linecap="round"/><path d="M39.8 175.1L40.3 175.4L41.3 175.4L42.7 175.2L44.5 174.8L46.3 174.3L48.2 173.8L50 173.4L51.4 173.2L52.4 173.2L52.9 173.6" fill="none" stroke="url(#h38)" stroke-width="6.4" stroke-linecap="round"/></g><path d="M28.8 125.6L54.4 189L59.6 187L37.2 122.4Z" fill="#d87070" stroke="#b85f5f" stroke-width="0.6" stroke-linejoin="round"/><path d="M32.6 124.2L56.7 188.1" stroke="#e29494" stroke-width="2" stroke-linecap="round" opacity="0.35"/><path d="M15 133.9L55.9 198.8L62.1 195.2L25 128.1Z" fill="#d8d8e2" stroke="#b8b8c0" stroke-width="0.6" stroke-linejoin="round"/><path d="M19.5 131.3L58.7 197.2" stroke="#e2e2e9" stroke-width="2.5" stroke-linecap="round" opacity="0.35"/><path d="M56.5 127.5L65.2 184.3L70.8 183.7L65.5 126.5Z" fill="#dc2828" stroke="#bb2222" stroke-width="0.6" stroke-linejoin="round"/><path d="M60.6 127.1L67.7 184" stroke="#e55e5e" stroke-width="2" stroke-linecap="round" opacity="0.35"/><path d="M73.5 137L78.8 185.2L83.2 184.8L80.5 136.4Z" fill="#c03030" stroke="#a32929" stroke-width="0.6" stroke-linejoin="round"/><path d="M76.7 136.7L80.8 185" stroke="#d06464" stroke-width="1.5" stroke-linecap="round" opacity="0.35"/><path d="M40 152Q60 146 78 140" fill="none" stroke="#c84848" stroke-width="2.4" stroke-linecap="round" stroke-linejoin="round"/><path d="M52 184Q64 192 80 187Q88 196 98 194L112 197" fill="none" stroke="#c84848" stroke-width="2.8" stroke-linecap="round" stroke-linejoin="round"/><g stroke-linejoin="round"><path d="M83.3 59.1L82.7 59.8L81.1 60.5L78.4 61.3L75.1 62L71.5 62.8L67.8 63.6L64.5 64.4L61.9 65.2L60.2 65.9L59.6 66.5" fill="none" stroke="#7a4444" stroke-width="1.8"/><path d="M83.8 72.2L83.2 72.9L81.5 73.6L78.9 74.4L75.6 75.1L71.9 75.9L68.3 76.7L65 77.5L62.4 78.3L60.7 79L60.1 79.6" fill="none" stroke="#7a4444" stroke-width="1.8"/><path d="M84.3 85.3L83.7 86L82 86.7L79.4 87.5L76.1 88.2L72.4 89L68.8 89.8L65.5 90.6L62.8 91.4L61.2 92.1L60.6 92.7" fill="none" stroke="#7a4444" stroke-width="1.8"/><path d="M84.7 98.4L84.2 99.1L82.5 99.8L79.9 100.6L76.6 101.3L72.9 102.1L69.2 102.9L65.9 103.7L63.3 104.5L61.6 105.2L61.1 105.8" fill="none" stroke="#7a4444" stroke-width="1.8"/><path d="M85.2 111.5L84.7 112.2L83 112.9L80.4 113.7L77.1 114.4L73.4 115.2L69.7 116L66.4 116.8L63.8 117.6L62.1 118.3L61.6 118.9" fill="none" stroke="#7a4444" stroke-width="1.8"/><path d="M59.9 53.4L60.5 54.1L62.1 54.7L64.6 55.2L67.8 55.8L71.2 56.3L74.7 56.8L77.9 57.4L80.3 57.9L82 58.5L82.5 59.2" fill="none" stroke="url(#h39)" stroke-width="6" stroke-linecap="round"/><path d="M60.4 66.5L61 67.2L62.6 67.8L65.1 68.3L68.2 68.9L71.7 69.4L75.2 69.9L78.3 70.5L80.8 71L82.4 71.6L83 72.3" fill="none" stroke="url(#h39)" stroke-width="6" stroke-linecap="round"/><path d="M60.9 79.6L61.5 80.3L63.1 80.9L65.6 81.4L68.7 82L72.2 82.5L75.7 83L78.8 83.6L81.3 84.1L82.9 84.7L83.5 85.4" fill="none" stroke="url(#h39)" stroke-width="6" stroke-linecap="round"/><path d="M61.4 92.7L61.9 93.4L63.5 94L66 94.5L69.2 95.1L72.7 95.6L76.1 96.1L79.3 96.7L81.8 97.2L83.4 97.8L84 98.5" fill="none" stroke="url(#h39)" stroke-width="6" stroke-linecap="round"/><path d="M61.8 105.8L62.4 106.5L64 107L66.5 107.6L69.7 108.2L73.1 108.7L76.6 109.2L79.8 109.8L82.3 110.3L83.9 110.9L84.5 111.5" fill="none" stroke="url(#h39)" stroke-width="6" stroke-linecap="round"/><path d="M62.3 118.9L62.9 119.6L64.5 120.1L67 120.7L70.1 121.3L73.6 121.8L77.1 122.3L80.2 122.9L82.7 123.4L84.4 124L84.9 124.6" fill="none" stroke="url(#h39)" stroke-width="6" stroke-linecap="round"/></g><path d="M82 142Q90 136 96 136.7L108 134.8" fill="none" stroke="#6060c8" stroke-width="2.6" stroke-linecap="round" stroke-linejoin="round"/><g stroke-linejoin="round"><path d="M102.5 158.3L102.4 159L101.7 160.3L100.3 162.2L98.5 164.4L96.5 166.9L94.5 169.3L92.7 171.5L91.3 173.4L90.6 174.7L90.5 175.5" fill="none" stroke="#a06060" stroke-width="2.1"/><path d="M109.5 166.5L109.4 167.3L108.7 168.6L107.3 170.5L105.5 172.7L103.5 175.1L101.5 177.6L99.7 179.8L98.3 181.7L97.6 183L97.5 183.7" fill="none" stroke="#a06060" stroke-width="2.1"/><path d="M84.4 166.4L85.1 166.5L86.4 166.1L88.3 165.3L90.5 164.1L93 162.7L95.4 161.4L97.7 160.2L99.6 159.3L100.9 158.9L101.6 159" fill="none" stroke="url(#h40)" stroke-width="6.9" stroke-linecap="round"/><path d="M91.4 174.7L92.1 174.8L93.4 174.4L95.3 173.6L97.5 172.4L100 171L102.5 169.6L104.7 168.4L106.6 167.6L107.9 167.2L108.6 167.3" fill="none" stroke="url(#h40)" stroke-width="6.9" stroke-linecap="round"/><path d="M98.4 183L99.1 183.1L100.4 182.7L102.3 181.8L104.6 180.6L107 179.3L109.5 177.9L111.7 176.7L113.6 175.9L114.9 175.5L115.6 175.6" fill="none" stroke="url(#h40)" stroke-width="6.9" stroke-linecap="round"/></g><g stroke-linejoin="round"><path d="M108.4 190.2L108.7 190.8L108.6 191.9L108.3 193.5L107.7 195.4L107 197.5L106.3 199.6L105.7 201.5L105.4 203.1L105.3 204.2L105.6 204.8" fill="none" stroke="#c08080" stroke-width="2.1"/><path d="M97.1 197.4L97.7 197.5L98.6 197.2L99.7 196.5L101 195.5L102.3 194.5L103.7 193.4L105 192.4L106.1 191.7L107 191.4L107.6 191.5" fill="none" stroke="url(#h41)" stroke-width="7.1" stroke-linecap="round"/><path d="M106.4 203.5L107 203.6L107.9 203.3L109 202.6L110.3 201.6L111.7 200.5L113 199.5L114.3 198.5L115.4 197.8L116.3 197.5L116.9 197.6" fill="none" stroke="url(#h41)" stroke-width="7.1" stroke-linecap="round"/></g><g stroke-linejoin="round"><path d="M109.8 167.5L110.4 167.6L111.7 168.5L113.4 169.9L115.6 171.8L117.9 173.9L120.2 176L122.4 177.9L124.1 179.3L125.4 180.2L126 180.3" fill="none" stroke="#2a2aa0" stroke-width="1.5"/><path d="M115.8 162.4L116.4 162.5L117.6 163.3L119.4 164.8L121.5 166.6L123.9 168.8L126.2 170.9L128.3 172.8L130.1 174.2L131.3 175L132 175.1" fill="none" stroke="#2a2aa0" stroke-width="1.5"/><path d="M121.7 157.2L122.4 157.3L123.6 158.2L125.4 159.6L127.5 161.5L129.8 163.6L132.2 165.7L134.3 167.6L136.1 169L137.3 169.9L137.9 170" fill="none" stroke="#2a2aa0" stroke-width="1.5"/><path d="M127.7 152.1L128.3 152.2L129.6 153L131.3 154.5L133.5 156.4L135.8 158.5L138.1 160.6L140.3 162.5L142 163.9L143.3 164.7L143.9 164.9" fill="none" stroke="#2a2aa0" stroke-width="1.5"/><path d="M119.6 184.9L119.6 184.3L119 183.1L117.9 181.2L116.5 178.9L114.9 176.5L113.3 174L111.9 171.7L110.8 169.9L110.2 168.6L110.2 168" fill="none" stroke="url(#h42)" stroke-width="5" stroke-linecap="round"/><path d="M125.6 179.8L125.6 179.2L125 177.9L123.9 176.1L122.5 173.8L120.9 171.3L119.3 168.8L117.8 166.6L116.8 164.7L116.2 163.5L116.2 162.9" fill="none" stroke="url(#h42)" stroke-width="5" stroke-linecap="round"/><path d="M131.5 174.7L131.5 174.1L131 172.8L129.9 170.9L128.5 168.7L126.8 166.2L125.2 163.7L123.8 161.4L122.7 159.6L122.2 158.3L122.1 157.7" fill="none" stroke="url(#h42)" stroke-width="5" stroke-linecap="round"/><path d="M137.5 169.5L137.5 168.9L136.9 167.6L135.9 165.8L134.4 163.5L132.8 161L131.2 158.6L129.8 156.3L128.7 154.5L128.1 153.2L128.1 152.6" fill="none" stroke="url(#h42)" stroke-width="5" stroke-linecap="round"/><path d="M143.5 164.4L143.5 163.8L142.9 162.5L141.8 160.6L140.4 158.4L138.8 155.9L137.2 153.4L135.7 151.2L134.7 149.3L134.1 148L134.1 147.4" fill="none" stroke="url(#h42)" stroke-width="5" stroke-linecap="round"/></g><path d="M140 154Q146 145 150 136" fill="none" stroke="#6060c8" stroke-width="2.4" stroke-linecap="round" stroke-linejoin="round"/><g stroke-linejoin="round"><path d="M115.8 120.3L116.4 120.8L116.9 122.2L117.5 124.3L118 127L118.5 130L119.1 133L119.6 135.7L120.1 137.8L120.7 139.2L121.2 139.7" fill="none" stroke="#6a6ab0" stroke-width="2.1"/><path d="M126.6 120.3L127.2 120.8L127.7 122.2L128.2 124.3L128.8 127L129.3 130L129.9 133L130.4 135.7L130.9 137.8L131.5 139.2L132 139.7" fill="none" stroke="#6a6ab0" stroke-width="2.1"/><path d="M110.4 138.4L111 138L111.5 136.8L112.1 135L112.6 132.6L113.1 130L113.7 127.4L114.2 125L114.8 123.2L115.3 122L115.8 121.6" fill="none" stroke="url(#h43)" stroke-width="6.9" stroke-linecap="round"/><path d="M121.2 138.4L121.8 138L122.3 136.8L122.8 135L123.4 132.6L123.9 130L124.5 127.4L125 125L125.5 123.2L126.1 122L126.6 121.6" fill="none" stroke="url(#h43)" stroke-width="6.9" stroke-linecap="round"/><path d="M132 138.4L132.5 138L133.1 136.8L133.6 135L134.2 132.6L134.7 130L135.2 127.4L135.8 125L136.3 123.2L136.9 122L137.4 121.6" fill="none" stroke="url(#h43)" stroke-width="6.9" stroke-linecap="round"/></g><path d="M142 136Q147 124 155 118" fill="none" stroke="#6060c8" stroke-width="2.4" stroke-linecap="round" stroke-linejoin="round"/><g stroke-linejoin="round"><path d="M170.8 111.9L170.4 112.5L169 113.1L166.9 113.8L164.2 114.4L161.2 115.1L158.2 115.7L155.5 116.4L153.4 117L152.1 117.7L151.6 118.3" fill="none" stroke="#2020a0" stroke-width="2.3"/><path d="M171 124.1L170.5 124.7L169.2 125.3L167.1 126L164.4 126.6L161.4 127.3L158.4 127.9L155.7 128.6L153.6 129.2L152.2 129.9L151.8 130.5" fill="none" stroke="#2020a0" stroke-width="2.3"/><path d="M171.2 136.3L170.7 136.9L169.4 137.5L167.2 138.2L164.6 138.8L161.6 139.5L158.6 140.2L155.9 140.8L153.8 141.5L152.4 142.1L152 142.7" fill="none" stroke="#2020a0" stroke-width="2.3"/><path d="M171.4 148.5L170.9 149.1L169.6 149.8L167.4 150.4L164.8 151.1L161.8 151.7L158.8 152.4L156.1 153L154 153.7L152.6 154.3L152.2 154.9" fill="none" stroke="#2020a0" stroke-width="2.3"/><path d="M152.9 106L153.3 106.6L154.5 107.2L156.3 107.8L158.6 108.4L161.1 109L163.6 109.5L165.9 110.1L167.7 110.7L168.9 111.3L169.3 111.9" fill="none" stroke="url(#h44)" stroke-width="7.8" stroke-linecap="round"/><path d="M153.1 118.2L153.5 118.9L154.7 119.4L156.5 120L158.8 120.6L161.3 121.2L163.8 121.7L166.1 122.3L167.9 122.9L169.1 123.5L169.5 124.1" fill="none" stroke="url(#h44)" stroke-width="7.8" stroke-linecap="round"/><path d="M153.3 130.5L153.7 131.1L154.9 131.7L156.7 132.2L159 132.8L161.5 133.4L164 134L166.3 134.5L168.1 135.1L169.3 135.7L169.7 136.3" fill="none" stroke="url(#h44)" stroke-width="7.8" stroke-linecap="round"/><path d="M153.5 142.7L153.9 143.3L155.1 143.9L156.9 144.5L159.2 145L161.7 145.6L164.2 146.2L166.5 146.7L168.3 147.3L169.5 147.9L169.9 148.5" fill="none" stroke="url(#h44)" stroke-width="7.8" stroke-linecap="round"/><path d="M153.7 154.9L154.1 155.5L155.2 156.1L157.1 156.7L159.3 157.2L161.9 157.8L164.4 158.4L166.7 159L168.5 159.5L169.7 160.1L170.1 160.7" fill="none" stroke="url(#h44)" stroke-width="7.8" stroke-linecap="round"/></g></g><g transform="translate(541.6 507.6)"><path d="M22 14.7Q20.5 20 21.4 23.7Q30 26 29.9 28.6Q27 34 25 37.7L23.8 43.7" fill="none" stroke="#7a7ec8" stroke-width="2.4" stroke-linecap="round" stroke-linejoin="round"/><ellipse cx="19" cy="56" rx="4.5" ry="8.8" fill="none" stroke="#7a7ec8" stroke-width="2.6" transform="rotate(25 19 56)"/><path d="M26.9 11Q24.5 14 25.7 14.7Q30 18 31.7 17.1Q38 15 43.8 14.7L53.5 14.7" fill="none" stroke="#7074d0" stroke-width="2.6" stroke-linecap="round" stroke-linejoin="round"/><path d="M42 14Q48 10 55 12Q50 21 43.5 22Z" fill="#5a5ec8"/><path d="M43.5 21Q50 23 58 17" fill="none" stroke="#7074d0" stroke-width="2.0" stroke-linecap="round" stroke-linejoin="round"/><path d="M54.1 3.2Q59 0.5 64.4 1.9L63.8 11.6L62 20.7Q63 26 69.8 31.6" fill="none" stroke="#6a6ec8" stroke-width="2.8" stroke-linecap="round" stroke-linejoin="round"/><path d="M69.8 31.6L89.8 31Q84 38 81.3 42.5L79.5 49.2" fill="none" stroke="#7074d0" stroke-width="2.4" stroke-linecap="round" stroke-linejoin="round"/><path d="M63 30L75 46L73 30Z" fill="#5a5ec8"/><path d="M25.7 42.5Q31 48 37.8 50.4Q44 50 49.9 49.2L68 46.1Q78 46 86.2 49.8" fill="none" stroke="#7074d0" stroke-width="3.2" stroke-linecap="round" stroke-linejoin="round"/><path d="M30 50Q34 52 38 50Q52 44 65.6 35.2" fill="none" stroke="#22228a" stroke-width="5.0" stroke-linecap="round" stroke-linejoin="round"/><path d="M10 120Q28 108 60 108L78 134L88 152L84 188L66 200L46 197L26 182L8 168Z" fill="#de9191" opacity="0.4"/><path d="M34 100Q28 110 33 120Q34 126 30 130" fill="none" stroke="#6a5a6a" stroke-width="2.6" stroke-linecap="round" stroke-linejoin="round"/><g stroke-linejoin="round"><path d="M48.9 62.4L48.3 63L46.6 63.4L44 63.8L40.8 64.1L37.2 64.3L33.6 64.6L30.3 64.8L27.7 65.2L26 65.6L25.4 66.2" fill="none" stroke="#6a5a6a" stroke-width="1.7"/><path d="M47.6 75L47 75.5L45.3 76L42.7 76.3L39.4 76.6L35.8 76.9L32.2 77.1L29 77.4L26.4 77.8L24.7 78.2L24 78.8" fill="none" stroke="#6a5a6a" stroke-width="1.7"/><path d="M46.2 87.5L45.6 88.1L43.9 88.5L41.3 88.9L38.1 89.2L34.5 89.4L30.9 89.7L27.6 90L25 90.3L23.3 90.8L22.7 91.3" fill="none" stroke="#6a5a6a" stroke-width="1.7"/><path d="M27.5 53.7L27.9 54.4L29.4 55.2L31.7 56.1L34.6 57L37.8 58L41.1 59L44 60L46.3 60.8L47.7 61.6L48.2 62.3" fill="none" stroke="url(#h45)" stroke-width="5.8" stroke-linecap="round"/><path d="M26.1 66.3L26.6 67L28 67.8L30.3 68.7L33.3 69.6L36.5 70.6L39.7 71.6L42.6 72.5L44.9 73.4L46.4 74.2L46.9 74.9" fill="none" stroke="url(#h45)" stroke-width="5.8" stroke-linecap="round"/><path d="M24.8 78.9L25.2 79.5L26.7 80.3L29 81.2L31.9 82.2L35.1 83.2L38.4 84.1L41.3 85.1L43.6 86L45 86.8L45.5 87.4" fill="none" stroke="url(#h45)" stroke-width="5.8" stroke-linecap="round"/><path d="M23.4 91.4L23.9 92.1L25.3 92.9L27.6 93.8L30.5 94.7L33.8 95.7L37 96.7L39.9 97.6L42.2 98.5L43.7 99.3L44.1 100" fill="none" stroke="url(#h45)" stroke-width="5.8" stroke-linecap="round"/></g><path d="M45.6 107.7Q55.3 96 65 107.7" fill="none" stroke="#c84848" stroke-width="2.6" stroke-linecap="round" stroke-linejoin="round"/><path d="M38 122Q48 102 58 114" fill="none" stroke="#c84848" stroke-width="2.4" stroke-linecap="round" stroke-linejoin="round"/><g stroke-linejoin="round"><path d="M63.6 136.3L63.2 136.9L61.9 137.5L59.9 138.2L57.4 138.9L54.6 139.6L51.8 140.3L49.2 141L47.2 141.6L46 142.3L45.5 142.8" fill="none" stroke="#6060a0" stroke-width="1.9"/><path d="M64.2 147.5L63.8 148.1L62.5 148.8L60.5 149.4L58 150.1L55.1 150.8L52.3 151.5L49.8 152.2L47.8 152.9L46.5 153.5L46.1 154.1" fill="none" stroke="#6060a0" stroke-width="1.9"/><path d="M46.1 131.6L46.5 132.1L47.7 132.6L49.5 133.1L51.8 133.5L54.3 134L56.8 134.4L59.1 134.8L60.9 135.3L62.1 135.8L62.5 136.4" fill="none" stroke="url(#h46)" stroke-width="6.3" stroke-linecap="round"/><path d="M46.6 142.8L47 143.3L48.2 143.8L50 144.3L52.3 144.8L54.9 145.2L57.4 145.6L59.7 146.1L61.5 146.5L62.7 147.1L63.1 147.6" fill="none" stroke="url(#h46)" stroke-width="6.3" stroke-linecap="round"/><path d="M47.2 154L47.6 154.6L48.8 155.1L50.6 155.5L52.9 156L55.4 156.4L58 156.9L60.2 157.3L62.1 157.8L63.2 158.3L63.7 158.8" fill="none" stroke="url(#h46)" stroke-width="6.3" stroke-linecap="round"/></g><g stroke-linejoin="round"><path d="M52.8 112.4L53.2 112.9L53.4 114.1L53.4 116L53.3 118.2L53 120.7L52.8 123.1L52.7 125.4L52.6 127.2L52.8 128.4L53.2 129" fill="none" stroke="#a05050" stroke-width="1.9"/><path d="M42.9 124.3L43.5 124.1L44.4 123.4L45.4 122.2L46.5 120.6L47.7 118.9L48.9 117.1L50 115.6L51 114.4L51.8 113.6L52.4 113.5" fill="none" stroke="url(#h47)" stroke-width="6.3" stroke-linecap="round"/><path d="M53.6 127.8L54.3 127.7L55.1 127L56.1 125.8L57.2 124.2L58.4 122.5L59.6 120.7L60.7 119.1L61.7 117.9L62.5 117.2L63.2 117.1" fill="none" stroke="url(#h47)" stroke-width="6.3" stroke-linecap="round"/></g><g stroke-linejoin="round"><path d="M25 121.5L24.4 122.2L22.7 123L20.1 123.8L16.8 124.7L13.1 125.5L9.5 126.4L6.1 127.2L3.5 128L1.8 128.8L1.3 129.6" fill="none" stroke="#8a7070" stroke-width="2.7"/><path d="M25.4 136.3L24.8 137L23.2 137.8L20.5 138.6L17.2 139.5L13.5 140.3L9.9 141.1L6.6 142L3.9 142.8L2.3 143.6L1.7 144.3" fill="none" stroke="#8a7070" stroke-width="2.7"/><path d="M25.8 151.1L25.2 151.8L23.6 152.6L20.9 153.4L17.6 154.2L14 155.1L10.3 155.9L7 156.8L4.3 157.6L2.7 158.4L2.1 159.1" fill="none" stroke="#8a7070" stroke-width="2.7"/><path d="M2.5 114.7L3 115.4L4.5 116.1L6.8 116.8L9.7 117.5L12.9 118.1L16.1 118.8L19 119.4L21.3 120.1L22.8 120.8L23.4 121.5" fill="none" stroke="url(#h48)" stroke-width="8.9" stroke-linecap="round"/><path d="M2.9 129.5L3.4 130.2L4.9 130.9L7.2 131.6L10.1 132.3L13.3 132.9L16.6 133.6L19.5 134.2L21.8 134.9L23.3 135.6L23.8 136.3" fill="none" stroke="url(#h48)" stroke-width="8.9" stroke-linecap="round"/><path d="M3.3 144.3L3.8 145L5.3 145.7L7.6 146.4L10.5 147L13.8 147.7L17 148.3L19.9 149L22.2 149.7L23.7 150.4L24.2 151.1" fill="none" stroke="url(#h48)" stroke-width="8.9" stroke-linecap="round"/><path d="M3.7 159.1L4.3 159.8L5.7 160.5L8.1 161.2L11 161.8L14.2 162.5L17.4 163.1L20.3 163.8L22.6 164.5L24.1 165.2L24.6 165.9" fill="none" stroke="url(#h48)" stroke-width="8.9" stroke-linecap="round"/></g><path d="M6.9 113.5Q18.5 106 26.3 123.2L22.4 131" fill="none" stroke="#c84848" stroke-width="2.6" stroke-linecap="round" stroke-linejoin="round"/><path d="M2 114L7 112L8 117Z" fill="#303040" stroke="#303040" stroke-width="2"/><path d="M16.6 173.5Q30 178 30.1 181Q28 186 23 187" fill="none" stroke="#c84848" stroke-width="2.6" stroke-linecap="round" stroke-linejoin="round"/><circle cx="53" cy="203" r="10.5" fill="#e8e8ee" stroke="#909090" stroke-width="1.2"/><path d="M44 203Q44 193 53 192.5" fill="none" stroke="#909090" stroke-width="3"/><ellipse cx="55" cy="205" rx="6" ry="5" fill="#ffffff"/><circle cx="52" cy="212" r="2.8" fill="#2020a0"/><g stroke-linejoin="round"><path d="M48.7 163.7L48.6 164.3L48 165.3L46.9 166.6L45.3 168.1L43.7 169.7L42 171.3L40.5 172.8L39.3 174.1L38.7 175.1L38.6 175.7" fill="none" stroke="#6060a0" stroke-width="1.9"/><path d="M34.4 165.8L34.9 166.1L35.9 166.2L37.3 166L39.1 165.6L41 165.1L42.9 164.6L44.6 164.2L46 164L47 164L47.6 164.3" fill="none" stroke="url(#h49)" stroke-width="6.4" stroke-linecap="round"/><path d="M39.8 175.1L40.3 175.4L41.3 175.4L42.7 175.2L44.5 174.8L46.3 174.3L48.2 173.8L50 173.4L51.4 173.2L52.4 173.2L52.9 173.6" fill="none" stroke="url(#h49)" stroke-width="6.4" stroke-linecap="round"/></g><path d="M28.8 125.6L54.4 189L59.6 187L37.2 122.4Z" fill="#dc8a8a" stroke="#bb7575" stroke-width="0.6" stroke-linejoin="round"/><path d="M32.6 124.2L56.7 188.1" stroke="#e5a7a7" stroke-width="2" stroke-linecap="round" opacity="0.35"/><path d="M15 133.9L55.9 198.8L62.1 195.2L25 128.1Z" fill="#c82a2a" stroke="#aa2424" stroke-width="0.6" stroke-linejoin="round"/><path d="M19.5 131.3L58.7 197.2" stroke="#d65f5f" stroke-width="2.5" stroke-linecap="round" opacity="0.35"/><path d="M56.5 127.5L65.2 184.3L70.8 183.7L65.5 126.5Z" fill="#b4b4e6" stroke="#9999c4" stroke-width="0.6" stroke-linejoin="round"/><path d="M60.6 127.1L67.7 184" stroke="#c7c7ec" stroke-width="2" stroke-linecap="round" opacity="0.35"/><path d="M73.5 137L78.8 185.2L83.2 184.8L80.5 136.4Z" fill="#dcdce6" stroke="#bbbbc4" stroke-width="0.6" stroke-linejoin="round"/><path d="M76.7 136.7L80.8 185" stroke="#e5e5ec" stroke-width="1.5" stroke-linecap="round" opacity="0.35"/><path d="M40 152Q60 146 78 140" fill="none" stroke="#c84848" stroke-width="2.4" stroke-linecap="round" stroke-linejoin="round"/><path d="M52 184Q64 192 80 187Q88 196 98 194L112 197" fill="none" stroke="#c84848" stroke-width="2.8" stroke-linecap="round" stroke-linejoin="round"/><g stroke-linejoin="round"><path d="M83.3 59.1L82.7 59.8L81.1 60.5L78.4 61.3L75.1 62L71.5 62.8L67.8 63.6L64.5 64.4L61.9 65.2L60.2 65.9L59.6 66.5" fill="none" stroke="#7a5060" stroke-width="1.8"/><path d="M83.8 72.2L83.2 72.9L81.5 73.6L78.9 74.4L75.6 75.1L71.9 75.9L68.3 76.7L65 77.5L62.4 78.3L60.7 79L60.1 79.6" fill="none" stroke="#7a5060" stroke-width="1.8"/><path d="M84.3 85.3L83.7 86L82 86.7L79.4 87.5L76.1 88.2L72.4 89L68.8 89.8L65.5 90.6L62.8 91.4L61.2 92.1L60.6 92.7" fill="none" stroke="#7a5060" stroke-width="1.8"/><path d="M84.7 98.4L84.2 99.1L82.5 99.8L79.9 100.6L76.6 101.3L72.9 102.1L69.2 102.9L65.9 103.7L63.3 104.5L61.6 105.2L61.1 105.8" fill="none" stroke="#7a5060" stroke-width="1.8"/><path d="M85.2 111.5L84.7 112.2L83 112.9L80.4 113.7L77.1 114.4L73.4 115.2L69.7 116L66.4 116.8L63.8 117.6L62.1 118.3L61.6 118.9" fill="none" stroke="#7a5060" stroke-width="1.8"/><path d="M59.9 53.4L60.5 54.1L62.1 54.7L64.6 55.2L67.8 55.8L71.2 56.3L74.7 56.8L77.9 57.4L80.3 57.9L82 58.5L82.5 59.2" fill="none" stroke="url(#h50)" stroke-width="6" stroke-linecap="round"/><path d="M60.4 66.5L61 67.2L62.6 67.8L65.1 68.3L68.2 68.9L71.7 69.4L75.2 69.9L78.3 70.5L80.8 71L82.4 71.6L83 72.3" fill="none" stroke="url(#h50)" stroke-width="6" stroke-linecap="round"/><path d="M60.9 79.6L61.5 80.3L63.1 80.9L65.6 81.4L68.7 82L72.2 82.5L75.7 83L78.8 83.6L81.3 84.1L82.9 84.7L83.5 85.4" fill="none" stroke="url(#h50)" stroke-width="6" stroke-linecap="round"/><path d="M61.4 92.7L61.9 93.4L63.5 94L66 94.5L69.2 95.1L72.7 95.6L76.1 96.1L79.3 96.7L81.8 97.2L83.4 97.8L84 98.5" fill="none" stroke="url(#h50)" stroke-width="6" stroke-linecap="round"/><path d="M61.8 105.8L62.4 106.5L64 107L66.5 107.6L69.7 108.2L73.1 108.7L76.6 109.2L79.8 109.8L82.3 110.3L83.9 110.9L84.5 111.5" fill="none" stroke="url(#h50)" stroke-width="6" stroke-linecap="round"/><path d="M62.3 118.9L62.9 119.6L64.5 120.1L67 120.7L70.1 121.3L73.6 121.8L77.1 122.3L80.2 122.9L82.7 123.4L84.4 124L84.9 124.6" fill="none" stroke="url(#h50)" stroke-width="6" stroke-linecap="round"/></g><path d="M82 142Q90 136 96 136.7L108 134.8" fill="none" stroke="#5a5ac8" stroke-width="2.6" stroke-linecap="round" stroke-linejoin="round"/><g stroke-linejoin="round"><path d="M102.5 158.3L102.4 159L101.7 160.3L100.3 162.2L98.5 164.4L96.5 166.9L94.5 169.3L92.7 171.5L91.3 173.4L90.6 174.7L90.5 175.5" fill="none" stroke="#a05050" stroke-width="2.1"/><path d="M109.5 166.5L109.4 167.3L108.7 168.6L107.3 170.5L105.5 172.7L103.5 175.1L101.5 177.6L99.7 179.8L98.3 181.7L97.6 183L97.5 183.7" fill="none" stroke="#a05050" stroke-width="2.1"/><path d="M84.4 166.4L85.1 166.5L86.4 166.1L88.3 165.3L90.5 164.1L93 162.7L95.4 161.4L97.7 160.2L99.6 159.3L100.9 158.9L101.6 159" fill="none" stroke="url(#h51)" stroke-width="6.9" stroke-linecap="round"/><path d="M91.4 174.7L92.1 174.8L93.4 174.4L95.3 173.6L97.5 172.4L100 171L102.5 169.6L104.7 168.4L106.6 167.6L107.9 167.2L108.6 167.3" fill="none" stroke="url(#h51)" stroke-width="6.9" stroke-linecap="round"/><path d="M98.4 183L99.1 183.1L100.4 182.7L102.3 181.8L104.6 180.6L107 179.3L109.5 177.9L111.7 176.7L113.6 175.9L114.9 175.5L115.6 175.6" fill="none" stroke="url(#h51)" stroke-width="6.9" stroke-linecap="round"/></g><g stroke-linejoin="round"><path d="M108.4 190.2L108.7 190.8L108.6 191.9L108.3 193.5L107.7 195.4L107 197.5L106.3 199.6L105.7 201.5L105.4 203.1L105.3 204.2L105.6 204.8" fill="none" stroke="#c08080" stroke-width="2.1"/><path d="M97.1 197.4L97.7 197.5L98.6 197.2L99.7 196.5L101 195.5L102.3 194.5L103.7 193.4L105 192.4L106.1 191.7L107 191.4L107.6 191.5" fill="none" stroke="url(#h52)" stroke-width="7.1" stroke-linecap="round"/><path d="M106.4 203.5L107 203.6L107.9 203.3L109 202.6L110.3 201.6L111.7 200.5L113 199.5L114.3 198.5L115.4 197.8L116.3 197.5L116.9 197.6" fill="none" stroke="url(#h52)" stroke-width="7.1" stroke-linecap="round"/></g><g stroke-linejoin="round"><path d="M109.8 167.5L110.4 167.6L111.7 168.5L113.4 169.9L115.6 171.8L117.9 173.9L120.2 176L122.4 177.9L124.1 179.3L125.4 180.2L126 180.3" fill="none" stroke="#2a2aa0" stroke-width="1.5"/><path d="M115.8 162.4L116.4 162.5L117.6 163.3L119.4 164.8L121.5 166.6L123.9 168.8L126.2 170.9L128.3 172.8L130.1 174.2L131.3 175L132 175.1" fill="none" stroke="#2a2aa0" stroke-width="1.5"/><path d="M121.7 157.2L122.4 157.3L123.6 158.2L125.4 159.6L127.5 161.5L129.8 163.6L132.2 165.7L134.3 167.6L136.1 169L137.3 169.9L137.9 170" fill="none" stroke="#2a2aa0" stroke-width="1.5"/><path d="M127.7 152.1L128.3 152.2L129.6 153L131.3 154.5L133.5 156.4L135.8 158.5L138.1 160.6L140.3 162.5L142 163.9L143.3 164.7L143.9 164.9" fill="none" stroke="#2a2aa0" stroke-width="1.5"/><path d="M119.6 184.9L119.6 184.3L119 183.1L117.9 181.2L116.5 178.9L114.9 176.5L113.3 174L111.9 171.7L110.8 169.9L110.2 168.6L110.2 168" fill="none" stroke="url(#h53)" stroke-width="5" stroke-linecap="round"/><path d="M125.6 179.8L125.6 179.2L125 177.9L123.9 176.1L122.5 173.8L120.9 171.3L119.3 168.8L117.8 166.6L116.8 164.7L116.2 163.5L116.2 162.9" fill="none" stroke="url(#h53)" stroke-width="5" stroke-linecap="round"/><path d="M131.5 174.7L131.5 174.1L131 172.8L129.9 170.9L128.5 168.7L126.8 166.2L125.2 163.7L123.8 161.4L122.7 159.6L122.2 158.3L122.1 157.7" fill="none" stroke="url(#h53)" stroke-width="5" stroke-linecap="round"/><path d="M137.5 169.5L137.5 168.9L136.9 167.6L135.9 165.8L134.4 163.5L132.8 161L131.2 158.6L129.8 156.3L128.7 154.5L128.1 153.2L128.1 152.6" fill="none" stroke="url(#h53)" stroke-width="5" stroke-linecap="round"/><path d="M143.5 164.4L143.5 163.8L142.9 162.5L141.8 160.6L140.4 158.4L138.8 155.9L137.2 153.4L135.7 151.2L134.7 149.3L134.1 148L134.1 147.4" fill="none" stroke="url(#h53)" stroke-width="5" stroke-linecap="round"/></g><path d="M140 154Q146 145 150 136" fill="none" stroke="#5a5ac8" stroke-width="2.4" stroke-linecap="round" stroke-linejoin="round"/><g stroke-linejoin="round"><path d="M115.8 120.3L116.4 120.8L116.9 122.2L117.5 124.3L118 127L118.5 130L119.1 133L119.6 135.7L120.1 137.8L120.7 139.2L121.2 139.7" fill="none" stroke="#30309a" stroke-width="2.1"/><path d="M126.6 120.3L127.2 120.8L127.7 122.2L128.2 124.3L128.8 127L129.3 130L129.9 133L130.4 135.7L130.9 137.8L131.5 139.2L132 139.7" fill="none" stroke="#30309a" stroke-width="2.1"/><path d="M110.4 138.4L111 138L111.5 136.8L112.1 135L112.6 132.6L113.1 130L113.7 127.4L114.2 125L114.8 123.2L115.3 122L115.8 121.6" fill="none" stroke="url(#h54)" stroke-width="6.9" stroke-linecap="round"/><path d="M121.2 138.4L121.8 138L122.3 136.8L122.8 135L123.4 132.6L123.9 130L124.5 127.4L125 125L125.5 123.2L126.1 122L126.6 121.6" fill="none" stroke="url(#h54)" stroke-width="6.9" stroke-linecap="round"/><path d="M132 138.4L132.5 138L133.1 136.8L133.6 135L134.2 132.6L134.7 130L135.2 127.4L135.8 125L136.3 123.2L136.9 122L137.4 121.6" fill="none" stroke="url(#h54)" stroke-width="6.9" stroke-linecap="round"/></g><path d="M142 136Q147 124 155 118" fill="none" stroke="#5a5ac8" stroke-width="2.4" stroke-linecap="round" stroke-linejoin="round"/><g stroke-linejoin="round"><path d="M170.8 111.9L170.4 112.5L169 113.1L166.9 113.8L164.2 114.4L161.2 115.1L158.2 115.7L155.5 116.4L153.4 117L152.1 117.7L151.6 118.3" fill="none" stroke="#2525a0" stroke-width="2.3"/><path d="M171 124.1L170.5 124.7L169.2 125.3L167.1 126L164.4 126.6L161.4 127.3L158.4 127.9L155.7 128.6L153.6 129.2L152.2 129.9L151.8 130.5" fill="none" stroke="#2525a0" stroke-width="2.3"/><path d="M171.2 136.3L170.7 136.9L169.4 137.5L167.2 138.2L164.6 138.8L161.6 139.5L158.6 140.2L155.9 140.8L153.8 141.5L152.4 142.1L152 142.7" fill="none" stroke="#2525a0" stroke-width="2.3"/><path d="M171.4 148.5L170.9 149.1L169.6 149.8L167.4 150.4L164.8 151.1L161.8 151.7L158.8 152.4L156.1 153L154 153.7L152.6 154.3L152.2 154.9" fill="none" stroke="#2525a0" stroke-width="2.3"/><path d="M152.9 106L153.3 106.6L154.5 107.2L156.3 107.8L158.6 108.4L161.1 109L163.6 109.5L165.9 110.1L167.7 110.7L168.9 111.3L169.3 111.9" fill="none" stroke="url(#h55)" stroke-width="7.8" stroke-linecap="round"/><path d="M153.1 118.2L153.5 118.9L154.7 119.4L156.5 120L158.8 120.6L161.3 121.2L163.8 121.7L166.1 122.3L167.9 122.9L169.1 123.5L169.5 124.1" fill="none" stroke="url(#h55)" stroke-width="7.8" stroke-linecap="round"/><path d="M153.3 130.5L153.7 131.1L154.9 131.7L156.7 132.2L159 132.8L161.5 133.4L164 134L166.3 134.5L168.1 135.1L169.3 135.7L169.7 136.3" fill="none" stroke="url(#h55)" stroke-width="7.8" stroke-linecap="round"/><path d="M153.5 142.7L153.9 143.3L155.1 143.9L156.9 144.5L159.2 145L161.7 145.6L164.2 146.2L166.5 146.7L168.3 147.3L169.5 147.9L169.9 148.5" fill="none" stroke="url(#h55)" stroke-width="7.8" stroke-linecap="round"/><path d="M153.7 154.9L154.1 155.5L155.2 156.1L157.1 156.7L159.3 157.2L161.9 157.8L164.4 158.4L166.7 159L168.5 159.5L169.7 160.1L170.1 160.7" fill="none" stroke="url(#h55)" stroke-width="7.8" stroke-linecap="round"/></g></g><g transform="translate(803.7 506.6)"><path d="M22 14.7Q20.5 20 21.4 23.7Q30 26 29.9 28.6Q27 34 25 37.7L23.8 43.7" fill="none" stroke="#7a7ec8" stroke-width="2.4" stroke-linecap="round" stroke-linejoin="round"/><ellipse cx="19" cy="56" rx="4.5" ry="8.8" fill="none" stroke="#7a7ec8" stroke-width="2.6" transform="rotate(25 19 56)"/><path d="M26.9 11Q24.5 14 25.7 14.7Q30 18 31.7 17.1Q38 15 43.8 14.7L53.5 14.7" fill="none" stroke="#7074d0" stroke-width="2.6" stroke-linecap="round" stroke-linejoin="round"/><path d="M42 14Q48 10 55 12Q50 21 43.5 22Z" fill="#5a5ec8"/><path d="M43.5 21Q50 23 58 17" fill="none" stroke="#7074d0" stroke-width="2.0" stroke-linecap="round" stroke-linejoin="round"/><path d="M54.1 3.2Q59 0.5 64.4 1.9L63.8 11.6L62 20.7Q63 26 69.8 31.6" fill="none" stroke="#6a6ec8" stroke-width="2.8" stroke-linecap="round" stroke-linejoin="round"/><path d="M69.8 31.6L89.8 31Q84 38 81.3 42.5L79.5 49.2" fill="none" stroke="#7074d0" stroke-width="2.4" stroke-linecap="round" stroke-linejoin="round"/><path d="M63 30L75 46L73 30Z" fill="#5a5ec8"/><path d="M25.7 42.5Q31 48 37.8 50.4Q44 50 49.9 49.2L68 46.1Q78 46 86.2 49.8" fill="none" stroke="#7074d0" stroke-width="3.2" stroke-linecap="round" stroke-linejoin="round"/><path d="M30 50Q34 52 38 50Q52 44 65.6 35.2" fill="none" stroke="#22228a" stroke-width="5.0" stroke-linecap="round" stroke-linejoin="round"/><path d="M10 120Q28 108 60 108L78 134L88 152L84 188L66 200L46 197L26 182L8 168Z" fill="#9696de" opacity="0.4"/><path d="M34 100Q28 110 33 120Q34 126 30 130" fill="none" stroke="#6a5a6a" stroke-width="2.6" stroke-linecap="round" stroke-linejoin="round"/><g stroke-linejoin="round"><path d="M48.9 62.4L48.3 63L46.6 63.4L44 63.8L40.8 64.1L37.2 64.3L33.6 64.6L30.3 64.8L27.7 65.2L26 65.6L25.4 66.2" fill="none" stroke="#6a5a6a" stroke-width="1.7"/><path d="M47.6 75L47 75.5L45.3 76L42.7 76.3L39.4 76.6L35.8 76.9L32.2 77.1L29 77.4L26.4 77.8L24.7 78.2L24 78.8" fill="none" stroke="#6a5a6a" stroke-width="1.7"/><path d="M46.2 87.5L45.6 88.1L43.9 88.5L41.3 88.9L38.1 89.2L34.5 89.4L30.9 89.7L27.6 90L25 90.3L23.3 90.8L22.7 91.3" fill="none" stroke="#6a5a6a" stroke-width="1.7"/><path d="M27.5 53.7L27.9 54.4L29.4 55.2L31.7 56.1L34.6 57L37.8 58L41.1 59L44 60L46.3 60.8L47.7 61.6L48.2 62.3" fill="none" stroke="url(#h56)" stroke-width="5.8" stroke-linecap="round"/><path d="M26.1 66.3L26.6 67L28 67.8L30.3 68.7L33.3 69.6L36.5 70.6L39.7 71.6L42.6 72.5L44.9 73.4L46.4 74.2L46.9 74.9" fill="none" stroke="url(#h56)" stroke-width="5.8" stroke-linecap="round"/><path d="M24.8 78.9L25.2 79.5L26.7 80.3L29 81.2L31.9 82.2L35.1 83.2L38.4 84.1L41.3 85.1L43.6 86L45 86.8L45.5 87.4" fill="none" stroke="url(#h56)" stroke-width="5.8" stroke-linecap="round"/><path d="M23.4 91.4L23.9 92.1L25.3 92.9L27.6 93.8L30.5 94.7L33.8 95.7L37 96.7L39.9 97.6L42.2 98.5L43.7 99.3L44.1 100" fill="none" stroke="url(#h56)" stroke-width="5.8" stroke-linecap="round"/></g><path d="M45.6 107.7Q55.3 96 65 107.7" fill="none" stroke="#5050c8" stroke-width="2.6" stroke-linecap="round" stroke-linejoin="round"/><path d="M38 122Q48 102 58 114" fill="none" stroke="#5050c8" stroke-width="2.4" stroke-linecap="round" stroke-linejoin="round"/><g stroke-linejoin="round"><path d="M63.6 136.3L63.2 136.9L61.9 137.5L59.9 138.2L57.4 138.9L54.6 139.6L51.8 140.3L49.2 141L47.2 141.6L46 142.3L45.5 142.8" fill="none" stroke="#3030a0" stroke-width="1.9"/><path d="M64.2 147.5L63.8 148.1L62.5 148.8L60.5 149.4L58 150.1L55.1 150.8L52.3 151.5L49.8 152.2L47.8 152.9L46.5 153.5L46.1 154.1" fill="none" stroke="#3030a0" stroke-width="1.9"/><path d="M46.1 131.6L46.5 132.1L47.7 132.6L49.5 133.1L51.8 133.5L54.3 134L56.8 134.4L59.1 134.8L60.9 135.3L62.1 135.8L62.5 136.4" fill="none" stroke="url(#h57)" stroke-width="6.3" stroke-linecap="round"/><path d="M46.6 142.8L47 143.3L48.2 143.8L50 144.3L52.3 144.8L54.9 145.2L57.4 145.6L59.7 146.1L61.5 146.5L62.7 147.1L63.1 147.6" fill="none" stroke="url(#h57)" stroke-width="6.3" stroke-linecap="round"/><path d="M47.2 154L47.6 154.6L48.8 155.1L50.6 155.5L52.9 156L55.4 156.4L58 156.9L60.2 157.3L62.1 157.8L63.2 158.3L63.7 158.8" fill="none" stroke="url(#h57)" stroke-width="6.3" stroke-linecap="round"/></g><g stroke-linejoin="round"><path d="M52.8 112.4L53.2 112.9L53.4 114.1L53.4 116L53.3 118.2L53 120.7L52.8 123.1L52.7 125.4L52.6 127.2L52.8 128.4L53.2 129" fill="none" stroke="#7070a0" stroke-width="1.9"/><path d="M42.9 124.3L43.5 124.1L44.4 123.4L45.4 122.2L46.5 120.6L47.7 118.9L48.9 117.1L50 115.6L51 114.4L51.8 113.6L52.4 113.5" fill="none" stroke="url(#h58)" stroke-width="6.3" stroke-linecap="round"/><path d="M53.6 127.8L54.3 127.7L55.1 127L56.1 125.8L57.2 124.2L58.4 122.5L59.6 120.7L60.7 119.1L61.7 117.9L62.5 117.2L63.2 117.1" fill="none" stroke="url(#h58)" stroke-width="6.3" stroke-linecap="round"/></g><g stroke-linejoin="round"><path d="M25 121.5L24.4 122.2L22.7 123L20.1 123.8L16.8 124.7L13.1 125.5L9.5 126.4L6.1 127.2L3.5 128L1.8 128.8L1.3 129.6" fill="none" stroke="#8a7070" stroke-width="2.7"/><path d="M25.4 136.3L24.8 137L23.2 137.8L20.5 138.6L17.2 139.5L13.5 140.3L9.9 141.1L6.6 142L3.9 142.8L2.3 143.6L1.7 144.3" fill="none" stroke="#8a7070" stroke-width="2.7"/><path d="M25.8 151.1L25.2 151.8L23.6 152.6L20.9 153.4L17.6 154.2L14 155.1L10.3 155.9L7 156.8L4.3 157.6L2.7 158.4L2.1 159.1" fill="none" stroke="#8a7070" stroke-width="2.7"/><path d="M2.5 114.7L3 115.4L4.5 116.1L6.8 116.8L9.7 117.5L12.9 118.1L16.1 118.8L19 119.4L21.3 120.1L22.8 120.8L23.4 121.5" fill="none" stroke="url(#h59)" stroke-width="8.9" stroke-linecap="round"/><path d="M2.9 129.5L3.4 130.2L4.9 130.9L7.2 131.6L10.1 132.3L13.3 132.9L16.6 133.6L19.5 134.2L21.8 134.9L23.3 135.6L23.8 136.3" fill="none" stroke="url(#h59)" stroke-width="8.9" stroke-linecap="round"/><path d="M3.3 144.3L3.8 145L5.3 145.7L7.6 146.4L10.5 147L13.8 147.7L17 148.3L19.9 149L22.2 149.7L23.7 150.4L24.2 151.1" fill="none" stroke="url(#h59)" stroke-width="8.9" stroke-linecap="round"/><path d="M3.7 159.1L4.3 159.8L5.7 160.5L8.1 161.2L11 161.8L14.2 162.5L17.4 163.1L20.3 163.8L22.6 164.5L24.1 165.2L24.6 165.9" fill="none" stroke="url(#h59)" stroke-width="8.9" stroke-linecap="round"/></g><path d="M6.9 113.5Q18.5 106 26.3 123.2L22.4 131" fill="none" stroke="#5050c8" stroke-width="2.6" stroke-linecap="round" stroke-linejoin="round"/><path d="M2 114L7 112L8 117Z" fill="#303040" stroke="#303040" stroke-width="2"/><path d="M16.6 173.5Q30 178 30.1 181Q28 186 23 187" fill="none" stroke="#5050c8" stroke-width="2.6" stroke-linecap="round" stroke-linejoin="round"/><circle cx="53" cy="203" r="10.5" fill="#e8e8ee" stroke="#909090" stroke-width="1.2"/><path d="M44 203Q44 193 53 192.5" fill="none" stroke="#909090" stroke-width="3"/><ellipse cx="55" cy="205" rx="6" ry="5" fill="#ffffff"/><circle cx="52" cy="212" r="2.8" fill="#2020a0"/><g stroke-linejoin="round"><path d="M48.7 163.7L48.6 164.3L48 165.3L46.9 166.6L45.3 168.1L43.7 169.7L42 171.3L40.5 172.8L39.3 174.1L38.7 175.1L38.6 175.7" fill="none" stroke="#3030a0" stroke-width="1.9"/><path d="M34.4 165.8L34.9 166.1L35.9 166.2L37.3 166L39.1 165.6L41 165.1L42.9 164.6L44.6 164.2L46 164L47 164L47.6 164.3" fill="none" stroke="url(#h60)" stroke-width="6.4" stroke-linecap="round"/><path d="M39.8 175.1L40.3 175.4L41.3 175.4L42.7 175.2L44.5 174.8L46.3 174.3L48.2 173.8L50 173.4L51.4 173.2L52.4 173.2L52.9 173.6" fill="none" stroke="url(#h60)" stroke-width="6.4" stroke-linecap="round"/></g><path d="M28.8 125.6L54.4 189L59.6 187L37.2 122.4Z" fill="#d89090" stroke="#b87a7a" stroke-width="0.6" stroke-linejoin="round"/><path d="M32.6 124.2L56.7 188.1" stroke="#e2acac" stroke-width="2" stroke-linecap="round" opacity="0.35"/><path d="M15 133.9L55.9 198.8L62.1 195.2L25 128.1Z" fill="#c82a2a" stroke="#aa2424" stroke-width="0.6" stroke-linejoin="round"/><path d="M19.5 131.3L58.7 197.2" stroke="#d65f5f" stroke-width="2.5" stroke-linecap="round" opacity="0.35"/><path d="M56.5 127.5L65.2 184.3L70.8 183.7L65.5 126.5Z" fill="#5a5ad8" stroke="#4c4cb8" stroke-width="0.6" stroke-linejoin="round"/><path d="M60.6 127.1L67.7 184" stroke="#8383e2" stroke-width="2" stroke-linecap="round" opacity="0.35"/><path d="M73.5 137L78.8 185.2L83.2 184.8L80.5 136.4Z" fill="#4a4ac8" stroke="#3f3faa" stroke-width="0.6" stroke-linejoin="round"/><path d="M76.7 136.7L80.8 185" stroke="#7777d6" stroke-width="1.5" stroke-linecap="round" opacity="0.35"/><path d="M40 152Q60 146 78 140" fill="none" stroke="#5050c8" stroke-width="2.4" stroke-linecap="round" stroke-linejoin="round"/><path d="M52 184Q64 192 80 187Q88 196 98 194L112 197" fill="none" stroke="#5050c8" stroke-width="2.8" stroke-linecap="round" stroke-linejoin="round"/><g stroke-linejoin="round"><path d="M83.3 59.1L82.7 59.8L81.1 60.5L78.4 61.3L75.1 62L71.5 62.8L67.8 63.6L64.5 64.4L61.9 65.2L60.2 65.9L59.6 66.5" fill="none" stroke="#704a60" stroke-width="1.8"/><path d="M83.8 72.2L83.2 72.9L81.5 73.6L78.9 74.4L75.6 75.1L71.9 75.9L68.3 76.7L65 77.5L62.4 78.3L60.7 79L60.1 79.6" fill="none" stroke="#704a60" stroke-width="1.8"/><path d="M84.3 85.3L83.7 86L82 86.7L79.4 87.5L76.1 88.2L72.4 89L68.8 89.8L65.5 90.6L62.8 91.4L61.2 92.1L60.6 92.7" fill="none" stroke="#704a60" stroke-width="1.8"/><path d="M84.7 98.4L84.2 99.1L82.5 99.8L79.9 100.6L76.6 101.3L72.9 102.1L69.2 102.9L65.9 103.7L63.3 104.5L61.6 105.2L61.1 105.8" fill="none" stroke="#704a60" stroke-width="1.8"/><path d="M85.2 111.5L84.7 112.2L83 112.9L80.4 113.7L77.1 114.4L73.4 115.2L69.7 116L66.4 116.8L63.8 117.6L62.1 118.3L61.6 118.9" fill="none" stroke="#704a60" stroke-width="1.8"/><path d="M59.9 53.4L60.5 54.1L62.1 54.7L64.6 55.2L67.8 55.8L71.2 56.3L74.7 56.8L77.9 57.4L80.3 57.9L82 58.5L82.5 59.2" fill="none" stroke="url(#h61)" stroke-width="6" stroke-linecap="round"/><path d="M60.4 66.5L61 67.2L62.6 67.8L65.1 68.3L68.2 68.9L71.7 69.4L75.2 69.9L78.3 70.5L80.8 71L82.4 71.6L83 72.3" fill="none" stroke="url(#h61)" stroke-width="6" stroke-linecap="round"/><path d="M60.9 79.6L61.5 80.3L63.1 80.9L65.6 81.4L68.7 82L72.2 82.5L75.7 83L78.8 83.6L81.3 84.1L82.9 84.7L83.5 85.4" fill="none" stroke="url(#h61)" stroke-width="6" stroke-linecap="round"/><path d="M61.4 92.7L61.9 93.4L63.5 94L66 94.5L69.2 95.1L72.7 95.6L76.1 96.1L79.3 96.7L81.8 97.2L83.4 97.8L84 98.5" fill="none" stroke="url(#h61)" stroke-width="6" stroke-linecap="round"/><path d="M61.8 105.8L62.4 106.5L64 107L66.5 107.6L69.7 108.2L73.1 108.7L76.6 109.2L79.8 109.8L82.3 110.3L83.9 110.9L84.5 111.5" fill="none" stroke="url(#h61)" stroke-width="6" stroke-linecap="round"/><path d="M62.3 118.9L62.9 119.6L64.5 120.1L67 120.7L70.1 121.3L73.6 121.8L77.1 122.3L80.2 122.9L82.7 123.4L84.4 124L84.9 124.6" fill="none" stroke="url(#h61)" stroke-width="6" stroke-linecap="round"/></g><path d="M82 142Q90 136 96 136.7L108 134.8" fill="none" stroke="#4a4ac8" stroke-width="2.6" stroke-linecap="round" stroke-linejoin="round"/><g stroke-linejoin="round"><path d="M102.5 158.3L102.4 159L101.7 160.3L100.3 162.2L98.5 164.4L96.5 166.9L94.5 169.3L92.7 171.5L91.3 173.4L90.6 174.7L90.5 175.5" fill="none" stroke="#7070a0" stroke-width="2.1"/><path d="M109.5 166.5L109.4 167.3L108.7 168.6L107.3 170.5L105.5 172.7L103.5 175.1L101.5 177.6L99.7 179.8L98.3 181.7L97.6 183L97.5 183.7" fill="none" stroke="#7070a0" stroke-width="2.1"/><path d="M84.4 166.4L85.1 166.5L86.4 166.1L88.3 165.3L90.5 164.1L93 162.7L95.4 161.4L97.7 160.2L99.6 159.3L100.9 158.9L101.6 159" fill="none" stroke="url(#h62)" stroke-width="6.9" stroke-linecap="round"/><path d="M91.4 174.7L92.1 174.8L93.4 174.4L95.3 173.6L97.5 172.4L100 171L102.5 169.6L104.7 168.4L106.6 167.6L107.9 167.2L108.6 167.3" fill="none" stroke="url(#h62)" stroke-width="6.9" stroke-linecap="round"/><path d="M98.4 183L99.1 183.1L100.4 182.7L102.3 181.8L104.6 180.6L107 179.3L109.5 177.9L111.7 176.7L113.6 175.9L114.9 175.5L115.6 175.6" fill="none" stroke="url(#h62)" stroke-width="6.9" stroke-linecap="round"/></g><g stroke-linejoin="round"><path d="M108.4 190.2L108.7 190.8L108.6 191.9L108.3 193.5L107.7 195.4L107 197.5L106.3 199.6L105.7 201.5L105.4 203.1L105.3 204.2L105.6 204.8" fill="none" stroke="#3a3aa0" stroke-width="2.1"/><path d="M97.1 197.4L97.7 197.5L98.6 197.2L99.7 196.5L101 195.5L102.3 194.5L103.7 193.4L105 192.4L106.1 191.7L107 191.4L107.6 191.5" fill="none" stroke="url(#h63)" stroke-width="7.1" stroke-linecap="round"/><path d="M106.4 203.5L107 203.6L107.9 203.3L109 202.6L110.3 201.6L111.7 200.5L113 199.5L114.3 198.5L115.4 197.8L116.3 197.5L116.9 197.6" fill="none" stroke="url(#h63)" stroke-width="7.1" stroke-linecap="round"/></g><g stroke-linejoin="round"><path d="M109.8 167.5L110.4 167.6L111.7 168.5L113.4 169.9L115.6 171.8L117.9 173.9L120.2 176L122.4 177.9L124.1 179.3L125.4 180.2L126 180.3" fill="none" stroke="#2a2aa0" stroke-width="1.5"/><path d="M115.8 162.4L116.4 162.5L117.6 163.3L119.4 164.8L121.5 166.6L123.9 168.8L126.2 170.9L128.3 172.8L130.1 174.2L131.3 175L132 175.1" fill="none" stroke="#2a2aa0" stroke-width="1.5"/><path d="M121.7 157.2L122.4 157.3L123.6 158.2L125.4 159.6L127.5 161.5L129.8 163.6L132.2 165.7L134.3 167.6L136.1 169L137.3 169.9L137.9 170" fill="none" stroke="#2a2aa0" stroke-width="1.5"/><path d="M127.7 152.1L128.3 152.2L129.6 153L131.3 154.5L133.5 156.4L135.8 158.5L138.1 160.6L140.3 162.5L142 163.9L143.3 164.7L143.9 164.9" fill="none" stroke="#2a2aa0" stroke-width="1.5"/><path d="M119.6 184.9L119.6 184.3L119 183.1L117.9 181.2L116.5 178.9L114.9 176.5L113.3 174L111.9 171.7L110.8 169.9L110.2 168.6L110.2 168" fill="none" stroke="url(#h64)" stroke-width="5" stroke-linecap="round"/><path d="M125.6 179.8L125.6 179.2L125 177.9L123.9 176.1L122.5 173.8L120.9 171.3L119.3 168.8L117.8 166.6L116.8 164.7L116.2 163.5L116.2 162.9" fill="none" stroke="url(#h64)" stroke-width="5" stroke-linecap="round"/><path d="M131.5 174.7L131.5 174.1L131 172.8L129.9 170.9L128.5 168.7L126.8 166.2L125.2 163.7L123.8 161.4L122.7 159.6L122.2 158.3L122.1 157.7" fill="none" stroke="url(#h64)" stroke-width="5" stroke-linecap="round"/><path d="M137.5 169.5L137.5 168.9L136.9 167.6L135.9 165.8L134.4 163.5L132.8 161L131.2 158.6L129.8 156.3L128.7 154.5L128.1 153.2L128.1 152.6" fill="none" stroke="url(#h64)" stroke-width="5" stroke-linecap="round"/><path d="M143.5 164.4L143.5 163.8L142.9 162.5L141.8 160.6L140.4 158.4L138.8 155.9L137.2 153.4L135.7 151.2L134.7 149.3L134.1 148L134.1 147.4" fill="none" stroke="url(#h64)" stroke-width="5" stroke-linecap="round"/></g><path d="M140 154Q146 145 150 136" fill="none" stroke="#4a4ac8" stroke-width="2.4" stroke-linecap="round" stroke-linejoin="round"/><g stroke-linejoin="round"><path d="M115.8 120.3L116.4 120.8L116.9 122.2L117.5 124.3L118 127L118.5 130L119.1 133L119.6 135.7L120.1 137.8L120.7 139.2L121.2 139.7" fill="none" stroke="#2525a0" stroke-width="2.1"/><path d="M126.6 120.3L127.2 120.8L127.7 122.2L128.2 124.3L128.8 127L129.3 130L129.9 133L130.4 135.7L130.9 137.8L131.5 139.2L132 139.7" fill="none" stroke="#2525a0" stroke-width="2.1"/><path d="M110.4 138.4L111 138L111.5 136.8L112.1 135L112.6 132.6L113.1 130L113.7 127.4L114.2 125L114.8 123.2L115.3 122L115.8 121.6" fill="none" stroke="url(#h65)" stroke-width="6.9" stroke-linecap="round"/><path d="M121.2 138.4L121.8 138L122.3 136.8L122.8 135L123.4 132.6L123.9 130L124.5 127.4L125 125L125.5 123.2L126.1 122L126.6 121.6" fill="none" stroke="url(#h65)" stroke-width="6.9" stroke-linecap="round"/><path d="M132 138.4L132.5 138L133.1 136.8L133.6 135L134.2 132.6L134.7 130L135.2 127.4L135.8 125L136.3 123.2L136.9 122L137.4 121.6" fill="none" stroke="url(#h65)" stroke-width="6.9" stroke-linecap="round"/></g><path d="M142 136Q147 124 155 118" fill="none" stroke="#4a4ac8" stroke-width="2.4" stroke-linecap="round" stroke-linejoin="round"/><g stroke-linejoin="round"><path d="M170.8 111.9L170.4 112.5L169 113.1L166.9 113.8L164.2 114.4L161.2 115.1L158.2 115.7L155.5 116.4L153.4 117L152.1 117.7L151.6 118.3" fill="none" stroke="#2525a0" stroke-width="2.3"/><path d="M171 124.1L170.5 124.7L169.2 125.3L167.1 126L164.4 126.6L161.4 127.3L158.4 127.9L155.7 128.6L153.6 129.2L152.2 129.9L151.8 130.5" fill="none" stroke="#2525a0" stroke-width="2.3"/><path d="M171.2 136.3L170.7 136.9L169.4 137.5L167.2 138.2L164.6 138.8L161.6 139.5L158.6 140.2L155.9 140.8L153.8 141.5L152.4 142.1L152 142.7" fill="none" stroke="#2525a0" stroke-width="2.3"/><path d="M171.4 148.5L170.9 149.1L169.6 149.8L167.4 150.4L164.8 151.1L161.8 151.7L158.8 152.4L156.1 153L154 153.7L152.6 154.3L152.2 154.9" fill="none" stroke="#2525a0" stroke-width="2.3"/><path d="M152.9 106L153.3 106.6L154.5 107.2L156.3 107.8L158.6 108.4L161.1 109L163.6 109.5L165.9 110.1L167.7 110.7L168.9 111.3L169.3 111.9" fill="none" stroke="url(#h66)" stroke-width="7.8" stroke-linecap="round"/><path d="M153.1 118.2L153.5 118.9L154.7 119.4L156.5 120L158.8 120.6L161.3 121.2L163.8 121.7L166.1 122.3L167.9 122.9L169.1 123.5L169.5 124.1" fill="none" stroke="url(#h66)" stroke-width="7.8" stroke-linecap="round"/><path d="M153.3 130.5L153.7 131.1L154.9 131.7L156.7 132.2L159 132.8L161.5 133.4L164 134L166.3 134.5L168.1 135.1L169.3 135.7L169.7 136.3" fill="none" stroke="url(#h66)" stroke-width="7.8" stroke-linecap="round"/><path d="M153.5 142.7L153.9 143.3L155.1 143.9L156.9 144.5L159.2 145L161.7 145.6L164.2 146.2L166.5 146.7L168.3 147.3L169.5 147.9L169.9 148.5" fill="none" stroke="url(#h66)" stroke-width="7.8" stroke-linecap="round"/><path d="M153.7 154.9L154.1 155.5L155.2 156.1L157.1 156.7L159.3 157.2L161.9 157.8L164.4 158.4L166.7 159L168.5 159.5L169.7 160.1L170.1 160.7" fill="none" stroke="url(#h66)" stroke-width="7.8" stroke-linecap="round"/></g></g><g transform="translate(1075.7 506.6)"><path d="M22 14.7Q20.5 20 21.4 23.7Q30 26 29.9 28.6Q27 34 25 37.7L23.8 43.7" fill="none" stroke="#7a7ec8" stroke-width="2.4" stroke-linecap="round" stroke-linejoin="round"/><ellipse cx="19" cy="56" rx="4.5" ry="8.8" fill="none" stroke="#7a7ec8" stroke-width="2.6" transform="rotate(25 19 56)"/><path d="M26.9 11Q24.5 14 25.7 14.7Q30 18 31.7 17.1Q38 15 43.8 14.7L53.5 14.7" fill="none" stroke="#7074d0" stroke-width="2.6" stroke-linecap="round" stroke-linejoin="round"/><path d="M42 14Q48 10 55 12Q50 21 43.5 22Z" fill="#5a5ec8"/><path d="M43.5 21Q50 23 58 17" fill="none" stroke="#7074d0" stroke-width="2.0" stroke-linecap="round" stroke-linejoin="round"/><path d="M54.1 3.2Q59 0.5 64.4 1.9L63.8 11.6L62 20.7Q63 26 69.8 31.6" fill="none" stroke="#6a6ec8" stroke-width="2.8" stroke-linecap="round" stroke-linejoin="round"/><path d="M69.8 31.6L89.8 31Q84 38 81.3 42.5L79.5 49.2" fill="none" stroke="#7074d0" stroke-width="2.4" stroke-linecap="round" stroke-linejoin="round"/><path d="M63 30L75 46L73 30Z" fill="#5a5ec8"/><path d="M25.7 42.5Q31 48 37.8 50.4Q44 50 49.9 49.2L68 46.1Q78 46 86.2 49.8" fill="none" stroke="#7074d0" stroke-width="3.2" stroke-linecap="round" stroke-linejoin="round"/><path d="M30 50Q34 52 38 50Q52 44 65.6 35.2" fill="none" stroke="#22228a" stroke-width="5.0" stroke-linecap="round" stroke-linejoin="round"/><path d="M10 120Q28 108 60 108L78 134L88 152L84 188L66 200L46 197L26 182L8 168Z" fill="#a0a0e3" opacity="0.4"/><path d="M34 100Q28 110 33 120Q34 126 30 130" fill="none" stroke="#50507a" stroke-width="2.6" stroke-linecap="round" stroke-linejoin="round"/><g stroke-linejoin="round"><path d="M48.9 62.4L48.3 63L46.6 63.4L44 63.8L40.8 64.1L37.2 64.3L33.6 64.6L30.3 64.8L27.7 65.2L26 65.6L25.4 66.2" fill="none" stroke="#50507a" stroke-width="1.7"/><path d="M47.6 75L47 75.5L45.3 76L42.7 76.3L39.4 76.6L35.8 76.9L32.2 77.1L29 77.4L26.4 77.8L24.7 78.2L24 78.8" fill="none" stroke="#50507a" stroke-width="1.7"/><path d="M46.2 87.5L45.6 88.1L43.9 88.5L41.3 88.9L38.1 89.2L34.5 89.4L30.9 89.7L27.6 90L25 90.3L23.3 90.8L22.7 91.3" fill="none" stroke="#50507a" stroke-width="1.7"/><path d="M27.5 53.7L27.9 54.4L29.4 55.2L31.7 56.1L34.6 57L37.8 58L41.1 59L44 60L46.3 60.8L47.7 61.6L48.2 62.3" fill="none" stroke="url(#h67)" stroke-width="5.8" stroke-linecap="round"/><path d="M26.1 66.3L26.6 67L28 67.8L30.3 68.7L33.3 69.6L36.5 70.6L39.7 71.6L42.6 72.5L44.9 73.4L46.4 74.2L46.9 74.9" fill="none" stroke="url(#h67)" stroke-width="5.8" stroke-linecap="round"/><path d="M24.8 78.9L25.2 79.5L26.7 80.3L29 81.2L31.9 82.2L35.1 83.2L38.4 84.1L41.3 85.1L43.6 86L45 86.8L45.5 87.4" fill="none" stroke="url(#h67)" stroke-width="5.8" stroke-linecap="round"/><path d="M23.4 91.4L23.9 92.1L25.3 92.9L27.6 93.8L30.5 94.7L33.8 95.7L37 96.7L39.9 97.6L42.2 98.5L43.7 99.3L44.1 100" fill="none" stroke="url(#h67)" stroke-width="5.8" stroke-linecap="round"/></g><path d="M45.6 107.7Q55.3 96 65 107.7" fill="none" stroke="#6060d0" stroke-width="2.6" stroke-linecap="round" stroke-linejoin="round"/><path d="M38 122Q48 102 58 114" fill="none" stroke="#6060d0" stroke-width="2.4" stroke-linecap="round" stroke-linejoin="round"/><g stroke-linejoin="round"><path d="M63.6 136.3L63.2 136.9L61.9 137.5L59.9 138.2L57.4 138.9L54.6 139.6L51.8 140.3L49.2 141L47.2 141.6L46 142.3L45.5 142.8" fill="none" stroke="#3a3aa0" stroke-width="1.9"/><path d="M64.2 147.5L63.8 148.1L62.5 148.8L60.5 149.4L58 150.1L55.1 150.8L52.3 151.5L49.8 152.2L47.8 152.9L46.5 153.5L46.1 154.1" fill="none" stroke="#3a3aa0" stroke-width="1.9"/><path d="M46.1 131.6L46.5 132.1L47.7 132.6L49.5 133.1L51.8 133.5L54.3 134L56.8 134.4L59.1 134.8L60.9 135.3L62.1 135.8L62.5 136.4" fill="none" stroke="url(#h68)" stroke-width="6.3" stroke-linecap="round"/><path d="M46.6 142.8L47 143.3L48.2 143.8L50 144.3L52.3 144.8L54.9 145.2L57.4 145.6L59.7 146.1L61.5 146.5L62.7 147.1L63.1 147.6" fill="none" stroke="url(#h68)" stroke-width="6.3" stroke-linecap="round"/><path d="M47.2 154L47.6 154.6L48.8 155.1L50.6 155.5L52.9 156L55.4 156.4L58 156.9L60.2 157.3L62.1 157.8L63.2 158.3L63.7 158.8" fill="none" stroke="url(#h68)" stroke-width="6.3" stroke-linecap="round"/></g><g stroke-linejoin="round"><path d="M52.8 112.4L53.2 112.9L53.4 114.1L53.4 116L53.3 118.2L53 120.7L52.8 123.1L52.7 125.4L52.6 127.2L52.8 128.4L53.2 129" fill="none" stroke="#5050a0" stroke-width="1.9"/><path d="M42.9 124.3L43.5 124.1L44.4 123.4L45.4 122.2L46.5 120.6L47.7 118.9L48.9 117.1L50 115.6L51 114.4L51.8 113.6L52.4 113.5" fill="none" stroke="url(#h69)" stroke-width="6.3" stroke-linecap="round"/><path d="M53.6 127.8L54.3 127.7L55.1 127L56.1 125.8L57.2 124.2L58.4 122.5L59.6 120.7L60.7 119.1L61.7 117.9L62.5 117.2L63.2 117.1" fill="none" stroke="url(#h69)" stroke-width="6.3" stroke-linecap="round"/></g><g stroke-linejoin="round"><path d="M25 121.5L24.4 122.2L22.7 123L20.1 123.8L16.8 124.7L13.1 125.5L9.5 126.4L6.1 127.2L3.5 128L1.8 128.8L1.3 129.6" fill="none" stroke="#8a7070" stroke-width="2.7"/><path d="M25.4 136.3L24.8 137L23.2 137.8L20.5 138.6L17.2 139.5L13.5 140.3L9.9 141.1L6.6 142L3.9 142.8L2.3 143.6L1.7 144.3" fill="none" stroke="#8a7070" stroke-width="2.7"/><path d="M25.8 151.1L25.2 151.8L23.6 152.6L20.9 153.4L17.6 154.2L14 155.1L10.3 155.9L7 156.8L4.3 157.6L2.7 158.4L2.1 159.1" fill="none" stroke="#8a7070" stroke-width="2.7"/><path d="M2.5 114.7L3 115.4L4.5 116.1L6.8 116.8L9.7 117.5L12.9 118.1L16.1 118.8L19 119.4L21.3 120.1L22.8 120.8L23.4 121.5" fill="none" stroke="url(#h70)" stroke-width="8.9" stroke-linecap="round"/><path d="M2.9 129.5L3.4 130.2L4.9 130.9L7.2 131.6L10.1 132.3L13.3 132.9L16.6 133.6L19.5 134.2L21.8 134.9L23.3 135.6L23.8 136.3" fill="none" stroke="url(#h70)" stroke-width="8.9" stroke-linecap="round"/><path d="M3.3 144.3L3.8 145L5.3 145.7L7.6 146.4L10.5 147L13.8 147.7L17 148.3L19.9 149L22.2 149.7L23.7 150.4L24.2 151.1" fill="none" stroke="url(#h70)" stroke-width="8.9" stroke-linecap="round"/><path d="M3.7 159.1L4.3 159.8L5.7 160.5L8.1 161.2L11 161.8L14.2 162.5L17.4 163.1L20.3 163.8L22.6 164.5L24.1 165.2L24.6 165.9" fill="none" stroke="url(#h70)" stroke-width="8.9" stroke-linecap="round"/></g><path d="M6.9 113.5Q18.5 106 26.3 123.2L22.4 131" fill="none" stroke="#6060d0" stroke-width="2.6" stroke-linecap="round" stroke-linejoin="round"/><path d="M2 114L7 112L8 117Z" fill="#303040" stroke="#303040" stroke-width="2"/><path d="M16.6 173.5Q30 178 30.1 181Q28 186 23 187" fill="none" stroke="#6060d0" stroke-width="2.6" stroke-linecap="round" stroke-linejoin="round"/><circle cx="53" cy="203" r="10.5" fill="#e8e8ee" stroke="#909090" stroke-width="1.2"/><path d="M44 203Q44 193 53 192.5" fill="none" stroke="#909090" stroke-width="3"/><ellipse cx="55" cy="205" rx="6" ry="5" fill="#ffffff"/><circle cx="52" cy="212" r="2.8" fill="#2020a0"/><g stroke-linejoin="round"><path d="M48.7 163.7L48.6 164.3L48 165.3L46.9 166.6L45.3 168.1L43.7 169.7L42 171.3L40.5 172.8L39.3 174.1L38.7 175.1L38.6 175.7" fill="none" stroke="#3a3aa0" stroke-width="1.9"/><path d="M34.4 165.8L34.9 166.1L35.9 166.2L37.3 166L39.1 165.6L41 165.1L42.9 164.6L44.6 164.2L46 164L47 164L47.6 164.3" fill="none" stroke="url(#h71)" stroke-width="6.4" stroke-linecap="round"/><path d="M39.8 175.1L40.3 175.4L41.3 175.4L42.7 175.2L44.5 174.8L46.3 174.3L48.2 173.8L50 173.4L51.4 173.2L52.4 173.2L52.9 173.6" fill="none" stroke="url(#h71)" stroke-width="6.4" stroke-linecap="round"/></g><path d="M28.8 125.6L54.4 189L59.6 187L37.2 122.4Z" fill="#dc9a9a" stroke="#bb8383" stroke-width="0.6" stroke-linejoin="round"/><path d="M32.6 124.2L56.7 188.1" stroke="#e5b3b3" stroke-width="2" stroke-linecap="round" opacity="0.35"/><path d="M15 133.9L55.9 198.8L62.1 195.2L25 128.1Z" fill="#c82a2a" stroke="#aa2424" stroke-width="0.6" stroke-linejoin="round"/><path d="M19.5 131.3L58.7 197.2" stroke="#d65f5f" stroke-width="2.5" stroke-linecap="round" opacity="0.35"/><path d="M56.5 127.5L65.2 184.3L70.8 183.7L65.5 126.5Z" fill="#6a6ad8" stroke="#5a5ab8" stroke-width="0.6" stroke-linejoin="round"/><path d="M60.6 127.1L67.7 184" stroke="#8f8fe2" stroke-width="2" stroke-linecap="round" opacity="0.35"/><path d="M73.5 137L78.8 185.2L83.2 184.8L80.5 136.4Z" fill="#5a5ad0" stroke="#4c4cb1" stroke-width="0.6" stroke-linejoin="round"/><path d="M76.7 136.7L80.8 185" stroke="#8383dc" stroke-width="1.5" stroke-linecap="round" opacity="0.35"/><path d="M40 152Q60 146 78 140" fill="none" stroke="#6060d0" stroke-width="2.4" stroke-linecap="round" stroke-linejoin="round"/><path d="M52 184Q64 192 80 187Q88 196 98 194L112 197" fill="none" stroke="#6060d0" stroke-width="2.8" stroke-linecap="round" stroke-linejoin="round"/><g stroke-linejoin="round"><path d="M83.3 59.1L82.7 59.8L81.1 60.5L78.4 61.3L75.1 62L71.5 62.8L67.8 63.6L64.5 64.4L61.9 65.2L60.2 65.9L59.6 66.5" fill="none" stroke="#50508a" stroke-width="1.8"/><path d="M83.8 72.2L83.2 72.9L81.5 73.6L78.9 74.4L75.6 75.1L71.9 75.9L68.3 76.7L65 77.5L62.4 78.3L60.7 79L60.1 79.6" fill="none" stroke="#50508a" stroke-width="1.8"/><path d="M84.3 85.3L83.7 86L82 86.7L79.4 87.5L76.1 88.2L72.4 89L68.8 89.8L65.5 90.6L62.8 91.4L61.2 92.1L60.6 92.7" fill="none" stroke="#50508a" stroke-width="1.8"/><path d="M84.7 98.4L84.2 99.1L82.5 99.8L79.9 100.6L76.6 101.3L72.9 102.1L69.2 102.9L65.9 103.7L63.3 104.5L61.6 105.2L61.1 105.8" fill="none" stroke="#50508a" stroke-width="1.8"/><path d="M85.2 111.5L84.7 112.2L83 112.9L80.4 113.7L77.1 114.4L73.4 115.2L69.7 116L66.4 116.8L63.8 117.6L62.1 118.3L61.6 118.9" fill="none" stroke="#50508a" stroke-width="1.8"/><path d="M59.9 53.4L60.5 54.1L62.1 54.7L64.6 55.2L67.8 55.8L71.2 56.3L74.7 56.8L77.9 57.4L80.3 57.9L82 58.5L82.5 59.2" fill="none" stroke="url(#h72)" stroke-width="6" stroke-linecap="round"/><path d="M60.4 66.5L61 67.2L62.6 67.8L65.1 68.3L68.2 68.9L71.7 69.4L75.2 69.9L78.3 70.5L80.8 71L82.4 71.6L83 72.3" fill="none" stroke="url(#h72)" stroke-width="6" stroke-linecap="round"/><path d="M60.9 79.6L61.5 80.3L63.1 80.9L65.6 81.4L68.7 82L72.2 82.5L75.7 83L78.8 83.6L81.3 84.1L82.9 84.7L83.5 85.4" fill="none" stroke="url(#h72)" stroke-width="6" stroke-linecap="round"/><path d="M61.4 92.7L61.9 93.4L63.5 94L66 94.5L69.2 95.1L72.7 95.6L76.1 96.1L79.3 96.7L81.8 97.2L83.4 97.8L84 98.5" fill="none" stroke="url(#h72)" stroke-width="6" stroke-linecap="round"/><path d="M61.8 105.8L62.4 106.5L64 107L66.5 107.6L69.7 108.2L73.1 108.7L76.6 109.2L79.8 109.8L82.3 110.3L83.9 110.9L84.5 111.5" fill="none" stroke="url(#h72)" stroke-width="6" stroke-linecap="round"/><path d="M62.3 118.9L62.9 119.6L64.5 120.1L67 120.7L70.1 121.3L73.6 121.8L77.1 122.3L80.2 122.9L82.7 123.4L84.4 124L84.9 124.6" fill="none" stroke="url(#h72)" stroke-width="6" stroke-linecap="round"/></g><path d="M82 142Q90 136 96 136.7L108 134.8" fill="none" stroke="#5a5ac8" stroke-width="2.6" stroke-linecap="round" stroke-linejoin="round"/><g stroke-linejoin="round"><path d="M102.5 158.3L102.4 159L101.7 160.3L100.3 162.2L98.5 164.4L96.5 166.9L94.5 169.3L92.7 171.5L91.3 173.4L90.6 174.7L90.5 175.5" fill="none" stroke="#4040a0" stroke-width="2.1"/><path d="M109.5 166.5L109.4 167.3L108.7 168.6L107.3 170.5L105.5 172.7L103.5 175.1L101.5 177.6L99.7 179.8L98.3 181.7L97.6 183L97.5 183.7" fill="none" stroke="#4040a0" stroke-width="2.1"/><path d="M84.4 166.4L85.1 166.5L86.4 166.1L88.3 165.3L90.5 164.1L93 162.7L95.4 161.4L97.7 160.2L99.6 159.3L100.9 158.9L101.6 159" fill="none" stroke="url(#h73)" stroke-width="6.9" stroke-linecap="round"/><path d="M91.4 174.7L92.1 174.8L93.4 174.4L95.3 173.6L97.5 172.4L100 171L102.5 169.6L104.7 168.4L106.6 167.6L107.9 167.2L108.6 167.3" fill="none" stroke="url(#h73)" stroke-width="6.9" stroke-linecap="round"/><path d="M98.4 183L99.1 183.1L100.4 182.7L102.3 181.8L104.6 180.6L107 179.3L109.5 177.9L111.7 176.7L113.6 175.9L114.9 175.5L115.6 175.6" fill="none" stroke="url(#h73)" stroke-width="6.9" stroke-linecap="round"/></g><g stroke-linejoin="round"><path d="M108.4 190.2L108.7 190.8L108.6 191.9L108.3 193.5L107.7 195.4L107 197.5L106.3 199.6L105.7 201.5L105.4 203.1L105.3 204.2L105.6 204.8" fill="none" stroke="#3a3aa0" stroke-width="2.1"/><path d="M97.1 197.4L97.7 197.5L98.6 197.2L99.7 196.5L101 195.5L102.3 194.5L103.7 193.4L105 192.4L106.1 191.7L107 191.4L107.6 191.5" fill="none" stroke="url(#h74)" stroke-width="7.1" stroke-linecap="round"/><path d="M106.4 203.5L107 203.6L107.9 203.3L109 202.6L110.3 201.6L111.7 200.5L113 199.5L114.3 198.5L115.4 197.8L116.3 197.5L116.9 197.6" fill="none" stroke="url(#h74)" stroke-width="7.1" stroke-linecap="round"/></g><g stroke-linejoin="round"><path d="M109.8 167.5L110.4 167.6L111.7 168.5L113.4 169.9L115.6 171.8L117.9 173.9L120.2 176L122.4 177.9L124.1 179.3L125.4 180.2L126 180.3" fill="none" stroke="#3030a0" stroke-width="1.5"/><path d="M115.8 162.4L116.4 162.5L117.6 163.3L119.4 164.8L121.5 166.6L123.9 168.8L126.2 170.9L128.3 172.8L130.1 174.2L131.3 175L132 175.1" fill="none" stroke="#3030a0" stroke-width="1.5"/><path d="M121.7 157.2L122.4 157.3L123.6 158.2L125.4 159.6L127.5 161.5L129.8 163.6L132.2 165.7L134.3 167.6L136.1 169L137.3 169.9L137.9 170" fill="none" stroke="#3030a0" stroke-width="1.5"/><path d="M127.7 152.1L128.3 152.2L129.6 153L131.3 154.5L133.5 156.4L135.8 158.5L138.1 160.6L140.3 162.5L142 163.9L143.3 164.7L143.9 164.9" fill="none" stroke="#3030a0" stroke-width="1.5"/><path d="M119.6 184.9L119.6 184.3L119 183.1L117.9 181.2L116.5 178.9L114.9 176.5L113.3 174L111.9 171.7L110.8 169.9L110.2 168.6L110.2 168" fill="none" stroke="url(#h75)" stroke-width="5" stroke-linecap="round"/><path d="M125.6 179.8L125.6 179.2L125 177.9L123.9 176.1L122.5 173.8L120.9 171.3L119.3 168.8L117.8 166.6L116.8 164.7L116.2 163.5L116.2 162.9" fill="none" stroke="url(#h75)" stroke-width="5" stroke-linecap="round"/><path d="M131.5 174.7L131.5 174.1L131 172.8L129.9 170.9L128.5 168.7L126.8 166.2L125.2 163.7L123.8 161.4L122.7 159.6L122.2 158.3L122.1 157.7" fill="none" stroke="url(#h75)" stroke-width="5" stroke-linecap="round"/><path d="M137.5 169.5L137.5 168.9L136.9 167.6L135.9 165.8L134.4 163.5L132.8 161L131.2 158.6L129.8 156.3L128.7 154.5L128.1 153.2L128.1 152.6" fill="none" stroke="url(#h75)" stroke-width="5" stroke-linecap="round"/><path d="M143.5 164.4L143.5 163.8L142.9 162.5L141.8 160.6L140.4 158.4L138.8 155.9L137.2 153.4L135.7 151.2L134.7 149.3L134.1 148L134.1 147.4" fill="none" stroke="url(#h75)" stroke-width="5" stroke-linecap="round"/></g><path d="M140 154Q146 145 150 136" fill="none" stroke="#5a5ac8" stroke-width="2.4" stroke-linecap="round" stroke-linejoin="round"/><g stroke-linejoin="round"><path d="M115.8 120.3L116.4 120.8L116.9 122.2L117.5 124.3L118 127L118.5 130L119.1 133L119.6 135.7L120.1 137.8L120.7 139.2L121.2 139.7" fill="none" stroke="#3030a0" stroke-width="2.1"/><path d="M126.6 120.3L127.2 120.8L127.7 122.2L128.2 124.3L128.8 127L129.3 130L129.9 133L130.4 135.7L130.9 137.8L131.5 139.2L132 139.7" fill="none" stroke="#3030a0" stroke-width="2.1"/><path d="M110.4 138.4L111 138L111.5 136.8L112.1 135L112.6 132.6L113.1 130L113.7 127.4L114.2 125L114.8 123.2L115.3 122L115.8 121.6" fill="none" stroke="url(#h76)" stroke-width="6.9" stroke-linecap="round"/><path d="M121.2 138.4L121.8 138L122.3 136.8L122.8 135L123.4 132.6L123.9 130L124.5 127.4L125 125L125.5 123.2L126.1 122L126.6 121.6" fill="none" stroke="url(#h76)" stroke-width="6.9" stroke-linecap="round"/><path d="M132 138.4L132.5 138L133.1 136.8L133.6 135L134.2 132.6L134.7 130L135.2 127.4L135.8 125L136.3 123.2L136.9 122L137.4 121.6" fill="none" stroke="url(#h76)" stroke-width="6.9" stroke-linecap="round"/></g><path d="M142 136Q147 124 155 118" fill="none" stroke="#5a5ac8" stroke-width="2.4" stroke-linecap="round" stroke-linejoin="round"/><g stroke-linejoin="round"><path d="M170.8 111.9L170.4 112.5L169 113.1L166.9 113.8L164.2 114.4L161.2 115.1L158.2 115.7L155.5 116.4L153.4 117L152.1 117.7L151.6 118.3" fill="none" stroke="#3030a0" stroke-width="2.3"/><path d="M171 124.1L170.5 124.7L169.2 125.3L167.1 126L164.4 126.6L161.4 127.3L158.4 127.9L155.7 128.6L153.6 129.2L152.2 129.9L151.8 130.5" fill="none" stroke="#3030a0" stroke-width="2.3"/><path d="M171.2 136.3L170.7 136.9L169.4 137.5L167.2 138.2L164.6 138.8L161.6 139.5L158.6 140.2L155.9 140.8L153.8 141.5L152.4 142.1L152 142.7" fill="none" stroke="#3030a0" stroke-width="2.3"/><path d="M171.4 148.5L170.9 149.1L169.6 149.8L167.4 150.4L164.8 151.1L161.8 151.7L158.8 152.4L156.1 153L154 153.7L152.6 154.3L152.2 154.9" fill="none" stroke="#3030a0" stroke-width="2.3"/><path d="M152.9 106L153.3 106.6L154.5 107.2L156.3 107.8L158.6 108.4L161.1 109L163.6 109.5L165.9 110.1L167.7 110.7L168.9 111.3L169.3 111.9" fill="none" stroke="url(#h77)" stroke-width="7.8" stroke-linecap="round"/><path d="M153.1 118.2L153.5 118.9L154.7 119.4L156.5 120L158.8 120.6L161.3 121.2L163.8 121.7L166.1 122.3L167.9 122.9L169.1 123.5L169.5 124.1" fill="none" stroke="url(#h77)" stroke-width="7.8" stroke-linecap="round"/><path d="M153.3 130.5L153.7 131.1L154.9 131.7L156.7 132.2L159 132.8L161.5 133.4L164 134L166.3 134.5L168.1 135.1L169.3 135.7L169.7 136.3" fill="none" stroke="url(#h77)" stroke-width="7.8" stroke-linecap="round"/><path d="M153.5 142.7L153.9 143.3L155.1 143.9L156.9 144.5L159.2 145L161.7 145.6L164.2 146.2L166.5 146.7L168.3 147.3L169.5 147.9L169.9 148.5" fill="none" stroke="url(#h77)" stroke-width="7.8" stroke-linecap="round"/><path d="M153.7 154.9L154.1 155.5L155.2 156.1L157.1 156.7L159.3 157.2L161.9 157.8L164.4 158.4L166.7 159L168.5 159.5L169.7 160.1L170.1 160.7" fill="none" stroke="url(#h77)" stroke-width="7.8" stroke-linecap="round"/></g></g><g transform="translate(1342.6 506.6)"><path d="M22 14.7Q20.5 20 21.4 23.7Q30 26 29.9 28.6Q27 34 25 37.7L23.8 43.7" fill="none" stroke="#7a7ec8" stroke-width="2.4" stroke-linecap="round" stroke-linejoin="round"/><ellipse cx="19" cy="56" rx="4.5" ry="8.8" fill="none" stroke="#7a7ec8" stroke-width="2.6" transform="rotate(25 19 56)"/><path d="M26.9 11Q24.5 14 25.7 14.7Q30 18 31.7 17.1Q38 15 43.8 14.7L53.5 14.7" fill="none" stroke="#7074d0" stroke-width="2.6" stroke-linecap="round" stroke-linejoin="round"/><path d="M42 14Q48 10 55 12Q50 21 43.5 22Z" fill="#5a5ec8"/><path d="M43.5 21Q50 23 58 17" fill="none" stroke="#7074d0" stroke-width="2.0" stroke-linecap="round" stroke-linejoin="round"/><path d="M54.1 3.2Q59 0.5 64.4 1.9L63.8 11.6L62 20.7Q63 26 69.8 31.6" fill="none" stroke="#6a6ec8" stroke-width="2.8" stroke-linecap="round" stroke-linejoin="round"/><path d="M69.8 31.6L89.8 31Q84 38 81.3 42.5L79.5 49.2" fill="none" stroke="#7074d0" stroke-width="2.4" stroke-linecap="round" stroke-linejoin="round"/><path d="M63 30L75 46L73 30Z" fill="#5a5ec8"/><path d="M25.7 42.5Q31 48 37.8 50.4Q44 50 49.9 49.2L68 46.1Q78 46 86.2 49.8" fill="none" stroke="#7074d0" stroke-width="3.2" stroke-linecap="round" stroke-linejoin="round"/><path d="M30 50Q34 52 38 50Q52 44 65.6 35.2" fill="none" stroke="#22228a" stroke-width="5.0" stroke-linecap="round" stroke-linejoin="round"/><path d="M10 120Q28 108 60 108L78 134L88 152L84 188L66 200L46 197L26 182L8 168Z" fill="#9c9ee3" opacity="0.4"/><path d="M34 100Q28 110 33 120Q34 126 30 130" fill="none" stroke="#5a5a80" stroke-width="2.6" stroke-linecap="round" stroke-linejoin="round"/><g stroke-linejoin="round"><path d="M48.9 62.4L48.3 63L46.6 63.4L44 63.8L40.8 64.1L37.2 64.3L33.6 64.6L30.3 64.8L27.7 65.2L26 65.6L25.4 66.2" fill="none" stroke="#5a5a80" stroke-width="1.7"/><path d="M47.6 75L47 75.5L45.3 76L42.7 76.3L39.4 76.6L35.8 76.9L32.2 77.1L29 77.4L26.4 77.8L24.7 78.2L24 78.8" fill="none" stroke="#5a5a80" stroke-width="1.7"/><path d="M46.2 87.5L45.6 88.1L43.9 88.5L41.3 88.9L38.1 89.2L34.5 89.4L30.9 89.7L27.6 90L25 90.3L23.3 90.8L22.7 91.3" fill="none" stroke="#5a5a80" stroke-width="1.7"/><path d="M27.5 53.7L27.9 54.4L29.4 55.2L31.7 56.1L34.6 57L37.8 58L41.1 59L44 60L46.3 60.8L47.7 61.6L48.2 62.3" fill="none" stroke="url(#h78)" stroke-width="5.8" stroke-linecap="round"/><path d="M26.1 66.3L26.6 67L28 67.8L30.3 68.7L33.3 69.6L36.5 70.6L39.7 71.6L42.6 72.5L44.9 73.4L46.4 74.2L46.9 74.9" fill="none" stroke="url(#h78)" stroke-width="5.8" stroke-linecap="round"/><path d="M24.8 78.9L25.2 79.5L26.7 80.3L29 81.2L31.9 82.2L35.1 83.2L38.4 84.1L41.3 85.1L43.6 86L45 86.8L45.5 87.4" fill="none" stroke="url(#h78)" stroke-width="5.8" stroke-linecap="round"/><path d="M23.4 91.4L23.9 92.1L25.3 92.9L27.6 93.8L30.5 94.7L33.8 95.7L37 96.7L39.9 97.6L42.2 98.5L43.7 99.3L44.1 100" fill="none" stroke="url(#h78)" stroke-width="5.8" stroke-linecap="round"/></g><path d="M45.6 107.7Q55.3 96 65 107.7" fill="none" stroke="#5a5ed0" stroke-width="2.6" stroke-linecap="round" stroke-linejoin="round"/><path d="M38 122Q48 102 58 114" fill="none" stroke="#5a5ed0" stroke-width="2.4" stroke-linecap="round" stroke-linejoin="round"/><g stroke-linejoin="round"><path d="M63.6 136.3L63.2 136.9L61.9 137.5L59.9 138.2L57.4 138.9L54.6 139.6L51.8 140.3L49.2 141L47.2 141.6L46 142.3L45.5 142.8" fill="none" stroke="#3a3aa0" stroke-width="1.9"/><path d="M64.2 147.5L63.8 148.1L62.5 148.8L60.5 149.4L58 150.1L55.1 150.8L52.3 151.5L49.8 152.2L47.8 152.9L46.5 153.5L46.1 154.1" fill="none" stroke="#3a3aa0" stroke-width="1.9"/><path d="M46.1 131.6L46.5 132.1L47.7 132.6L49.5 133.1L51.8 133.5L54.3 134L56.8 134.4L59.1 134.8L60.9 135.3L62.1 135.8L62.5 136.4" fill="none" stroke="url(#h79)" stroke-width="6.3" stroke-linecap="round"/><path d="M46.6 142.8L47 143.3L48.2 143.8L50 144.3L52.3 144.8L54.9 145.2L57.4 145.6L59.7 146.1L61.5 146.5L62.7 147.1L63.1 147.6" fill="none" stroke="url(#h79)" stroke-width="6.3" stroke-linecap="round"/><path d="M47.2 154L47.6 154.6L48.8 155.1L50.6 155.5L52.9 156L55.4 156.4L58 156.9L60.2 157.3L62.1 157.8L63.2 158.3L63.7 158.8" fill="none" stroke="url(#h79)" stroke-width="6.3" stroke-linecap="round"/></g><g stroke-linejoin="round"><path d="M52.8 112.4L53.2 112.9L53.4 114.1L53.4 116L53.3 118.2L53 120.7L52.8 123.1L52.7 125.4L52.6 127.2L52.8 128.4L53.2 129" fill="none" stroke="#5050a0" stroke-width="1.9"/><path d="M42.9 124.3L43.5 124.1L44.4 123.4L45.4 122.2L46.5 120.6L47.7 118.9L48.9 117.1L50 115.6L51 114.4L51.8 113.6L52.4 113.5" fill="none" stroke="url(#h80)" stroke-width="6.3" stroke-linecap="round"/><path d="M53.6 127.8L54.3 127.7L55.1 127L56.1 125.8L57.2 124.2L58.4 122.5L59.6 120.7L60.7 119.1L61.7 117.9L62.5 117.2L63.2 117.1" fill="none" stroke="url(#h80)" stroke-width="6.3" stroke-linecap="round"/></g><g stroke-linejoin="round"><path d="M25 121.5L24.4 122.2L22.7 123L20.1 123.8L16.8 124.7L13.1 125.5L9.5 126.4L6.1 127.2L3.5 128L1.8 128.8L1.3 129.6" fill="none" stroke="#5a5a8a" stroke-width="2.7"/><path d="M25.4 136.3L24.8 137L23.2 137.8L20.5 138.6L17.2 139.5L13.5 140.3L9.9 141.1L6.6 142L3.9 142.8L2.3 143.6L1.7 144.3" fill="none" stroke="#5a5a8a" stroke-width="2.7"/><path d="M25.8 151.1L25.2 151.8L23.6 152.6L20.9 153.4L17.6 154.2L14 155.1L10.3 155.9L7 156.8L4.3 157.6L2.7 158.4L2.1 159.1" fill="none" stroke="#5a5a8a" stroke-width="2.7"/><path d="M2.5 114.7L3 115.4L4.5 116.1L6.8 116.8L9.7 117.5L12.9 118.1L16.1 118.8L19 119.4L21.3 120.1L22.8 120.8L23.4 121.5" fill="none" stroke="url(#h81)" stroke-width="8.9" stroke-linecap="round"/><path d="M2.9 129.5L3.4 130.2L4.9 130.9L7.2 131.6L10.1 132.3L13.3 132.9L16.6 133.6L19.5 134.2L21.8 134.9L23.3 135.6L23.8 136.3" fill="none" stroke="url(#h81)" stroke-width="8.9" stroke-linecap="round"/><path d="M3.3 144.3L3.8 145L5.3 145.7L7.6 146.4L10.5 147L13.8 147.7L17 148.3L19.9 149L22.2 149.7L23.7 150.4L24.2 151.1" fill="none" stroke="url(#h81)" stroke-width="8.9" stroke-linecap="round"/><path d="M3.7 159.1L4.3 159.8L5.7 160.5L8.1 161.2L11 161.8L14.2 162.5L17.4 163.1L20.3 163.8L22.6 164.5L24.1 165.2L24.6 165.9" fill="none" stroke="url(#h81)" stroke-width="8.9" stroke-linecap="round"/></g><path d="M6.9 113.5Q18.5 106 26.3 123.2L22.4 131" fill="none" stroke="#5a5ed0" stroke-width="2.6" stroke-linecap="round" stroke-linejoin="round"/><path d="M2 114L7 112L8 117Z" fill="#303040" stroke="#303040" stroke-width="2"/><path d="M16.6 173.5Q30 178 30.1 181Q28 186 23 187" fill="none" stroke="#5a5ed0" stroke-width="2.6" stroke-linecap="round" stroke-linejoin="round"/><circle cx="53" cy="203" r="10.5" fill="#d0d0ea" stroke="#909090" stroke-width="1.2"/><path d="M44 203Q44 193 53 192.5" fill="none" stroke="#909090" stroke-width="3"/><ellipse cx="55" cy="205" rx="6" ry="5" fill="#ffffff"/><circle cx="52" cy="212" r="2.8" fill="#1a1a80"/><g stroke-linejoin="round"><path d="M48.7 163.7L48.6 164.3L48 165.3L46.9 166.6L45.3 168.1L43.7 169.7L42 171.3L40.5 172.8L39.3 174.1L38.7 175.1L38.6 175.7" fill="none" stroke="#3a3aa0" stroke-width="1.9"/><path d="M34.4 165.8L34.9 166.1L35.9 166.2L37.3 166L39.1 165.6L41 165.1L42.9 164.6L44.6 164.2L46 164L47 164L47.6 164.3" fill="none" stroke="url(#h82)" stroke-width="6.4" stroke-linecap="round"/><path d="M39.8 175.1L40.3 175.4L41.3 175.4L42.7 175.2L44.5 174.8L46.3 174.3L48.2 173.8L50 173.4L51.4 173.2L52.4 173.2L52.9 173.6" fill="none" stroke="url(#h82)" stroke-width="6.4" stroke-linecap="round"/></g><path d="M28.8 125.6L54.4 189L59.6 187L37.2 122.4Z" fill="#7a80dc" stroke="#686dbb" stroke-width="0.6" stroke-linejoin="round"/><path d="M32.6 124.2L56.7 188.1" stroke="#9ba0e5" stroke-width="2" stroke-linecap="round" opacity="0.35"/><path d="M15 133.9L55.9 198.8L62.1 195.2L25 128.1Z" fill="#6a70d8" stroke="#5a5fb8" stroke-width="0.6" stroke-linejoin="round"/><path d="M19.5 131.3L58.7 197.2" stroke="#8f94e2" stroke-width="2.5" stroke-linecap="round" opacity="0.35"/><path d="M56.5 127.5L65.2 184.3L70.8 183.7L65.5 126.5Z" fill="#5a5ad8" stroke="#4c4cb8" stroke-width="0.6" stroke-linejoin="round"/><path d="M60.6 127.1L67.7 184" stroke="#8383e2" stroke-width="2" stroke-linecap="round" opacity="0.35"/><path d="M73.5 137L78.8 185.2L83.2 184.8L80.5 136.4Z" fill="#4a4ad0" stroke="#3f3fb1" stroke-width="0.6" stroke-linejoin="round"/><path d="M76.7 136.7L80.8 185" stroke="#7777dc" stroke-width="1.5" stroke-linecap="round" opacity="0.35"/><path d="M40 152Q60 146 78 140" fill="none" stroke="#5a5ed0" stroke-width="2.4" stroke-linecap="round" stroke-linejoin="round"/><path d="M52 184Q64 192 80 187Q88 196 98 194L112 197" fill="none" stroke="#5a5ed0" stroke-width="2.8" stroke-linecap="round" stroke-linejoin="round"/><g stroke-linejoin="round"><path d="M83.3 59.1L82.7 59.8L81.1 60.5L78.4 61.3L75.1 62L71.5 62.8L67.8 63.6L64.5 64.4L61.9 65.2L60.2 65.9L59.6 66.5" fill="none" stroke="#5a5a8a" stroke-width="1.8"/><path d="M83.8 72.2L83.2 72.9L81.5 73.6L78.9 74.4L75.6 75.1L71.9 75.9L68.3 76.7L65 77.5L62.4 78.3L60.7 79L60.1 79.6" fill="none" stroke="#5a5a8a" stroke-width="1.8"/><path d="M84.3 85.3L83.7 86L82 86.7L79.4 87.5L76.1 88.2L72.4 89L68.8 89.8L65.5 90.6L62.8 91.4L61.2 92.1L60.6 92.7" fill="none" stroke="#5a5a8a" stroke-width="1.8"/><path d="M84.7 98.4L84.2 99.1L82.5 99.8L79.9 100.6L76.6 101.3L72.9 102.1L69.2 102.9L65.9 103.7L63.3 104.5L61.6 105.2L61.1 105.8" fill="none" stroke="#5a5a8a" stroke-width="1.8"/><path d="M85.2 111.5L84.7 112.2L83 112.9L80.4 113.7L77.1 114.4L73.4 115.2L69.7 116L66.4 116.8L63.8 117.6L62.1 118.3L61.6 118.9" fill="none" stroke="#5a5a8a" stroke-width="1.8"/><path d="M59.9 53.4L60.5 54.1L62.1 54.7L64.6 55.2L67.8 55.8L71.2 56.3L74.7 56.8L77.9 57.4L80.3 57.9L82 58.5L82.5 59.2" fill="none" stroke="url(#h83)" stroke-width="6" stroke-linecap="round"/><path d="M60.4 66.5L61 67.2L62.6 67.8L65.1 68.3L68.2 68.9L71.7 69.4L75.2 69.9L78.3 70.5L80.8 71L82.4 71.6L83 72.3" fill="none" stroke="url(#h83)" stroke-width="6" stroke-linecap="round"/><path d="M60.9 79.6L61.5 80.3L63.1 80.9L65.6 81.4L68.7 82L72.2 82.5L75.7 83L78.8 83.6L81.3 84.1L82.9 84.7L83.5 85.4" fill="none" stroke="url(#h83)" stroke-width="6" stroke-linecap="round"/><path d="M61.4 92.7L61.9 93.4L63.5 94L66 94.5L69.2 95.1L72.7 95.6L76.1 96.1L79.3 96.7L81.8 97.2L83.4 97.8L84 98.5" fill="none" stroke="url(#h83)" stroke-width="6" stroke-linecap="round"/><path d="M61.8 105.8L62.4 106.5L64 107L66.5 107.6L69.7 108.2L73.1 108.7L76.6 109.2L79.8 109.8L82.3 110.3L83.9 110.9L84.5 111.5" fill="none" stroke="url(#h83)" stroke-width="6" stroke-linecap="round"/><path d="M62.3 118.9L62.9 119.6L64.5 120.1L67 120.7L70.1 121.3L73.6 121.8L77.1 122.3L80.2 122.9L82.7 123.4L84.4 124L84.9 124.6" fill="none" stroke="url(#h83)" stroke-width="6" stroke-linecap="round"/></g><path d="M82 142Q90 136 96 136.7L108 134.8" fill="none" stroke="#5a5ec8" stroke-width="2.6" stroke-linecap="round" stroke-linejoin="round"/><g stroke-linejoin="round"><path d="M102.5 158.3L102.4 159L101.7 160.3L100.3 162.2L98.5 164.4L96.5 166.9L94.5 169.3L92.7 171.5L91.3 173.4L90.6 174.7L90.5 175.5" fill="none" stroke="#4040a0" stroke-width="2.1"/><path d="M109.5 166.5L109.4 167.3L108.7 168.6L107.3 170.5L105.5 172.7L103.5 175.1L101.5 177.6L99.7 179.8L98.3 181.7L97.6 183L97.5 183.7" fill="none" stroke="#4040a0" stroke-width="2.1"/><path d="M84.4 166.4L85.1 166.5L86.4 166.1L88.3 165.3L90.5 164.1L93 162.7L95.4 161.4L97.7 160.2L99.6 159.3L100.9 158.9L101.6 159" fill="none" stroke="url(#h84)" stroke-width="6.9" stroke-linecap="round"/><path d="M91.4 174.7L92.1 174.8L93.4 174.4L95.3 173.6L97.5 172.4L100 171L102.5 169.6L104.7 168.4L106.6 167.6L107.9 167.2L108.6 167.3" fill="none" stroke="url(#h84)" stroke-width="6.9" stroke-linecap="round"/><path d="M98.4 183L99.1 183.1L100.4 182.7L102.3 181.8L104.6 180.6L107 179.3L109.5 177.9L111.7 176.7L113.6 175.9L114.9 175.5L115.6 175.6" fill="none" stroke="url(#h84)" stroke-width="6.9" stroke-linecap="round"/></g><g stroke-linejoin="round"><path d="M108.4 190.2L108.7 190.8L108.6 191.9L108.3 193.5L107.7 195.4L107 197.5L106.3 199.6L105.7 201.5L105.4 203.1L105.3 204.2L105.6 204.8" fill="none" stroke="#4040a0" stroke-width="2.1"/><path d="M97.1 197.4L97.7 197.5L98.6 197.2L99.7 196.5L101 195.5L102.3 194.5L103.7 193.4L105 192.4L106.1 191.7L107 191.4L107.6 191.5" fill="none" stroke="url(#h85)" stroke-width="7.1" stroke-linecap="round"/><path d="M106.4 203.5L107 203.6L107.9 203.3L109 202.6L110.3 201.6L111.7 200.5L113 199.5L114.3 198.5L115.4 197.8L116.3 197.5L116.9 197.6" fill="none" stroke="url(#h85)" stroke-width="7.1" stroke-linecap="round"/></g><g stroke-linejoin="round"><path d="M109.8 167.5L110.4 167.6L111.7 168.5L113.4 169.9L115.6 171.8L117.9 173.9L120.2 176L122.4 177.9L124.1 179.3L125.4 180.2L126 180.3" fill="none" stroke="#3a3aa0" stroke-width="1.5"/><path d="M115.8 162.4L116.4 162.5L117.6 163.3L119.4 164.8L121.5 166.6L123.9 168.8L126.2 170.9L128.3 172.8L130.1 174.2L131.3 175L132 175.1" fill="none" stroke="#3a3aa0" stroke-width="1.5"/><path d="M121.7 157.2L122.4 157.3L123.6 158.2L125.4 159.6L127.5 161.5L129.8 163.6L132.2 165.7L134.3 167.6L136.1 169L137.3 169.9L137.9 170" fill="none" stroke="#3a3aa0" stroke-width="1.5"/><path d="M127.7 152.1L128.3 152.2L129.6 153L131.3 154.5L133.5 156.4L135.8 158.5L138.1 160.6L140.3 162.5L142 163.9L143.3 164.7L143.9 164.9" fill="none" stroke="#3a3aa0" stroke-width="1.5"/><path d="M119.6 184.9L119.6 184.3L119 183.1L117.9 181.2L116.5 178.9L114.9 176.5L113.3 174L111.9 171.7L110.8 169.9L110.2 168.6L110.2 168" fill="none" stroke="url(#h86)" stroke-width="5" stroke-linecap="round"/><path d="M125.6 179.8L125.6 179.2L125 177.9L123.9 176.1L122.5 173.8L120.9 171.3L119.3 168.8L117.8 166.6L116.8 164.7L116.2 163.5L116.2 162.9" fill="none" stroke="url(#h86)" stroke-width="5" stroke-linecap="round"/><path d="M131.5 174.7L131.5 174.1L131 172.8L129.9 170.9L128.5 168.7L126.8 166.2L125.2 163.7L123.8 161.4L122.7 159.6L122.2 158.3L122.1 157.7" fill="none" stroke="url(#h86)" stroke-width="5" stroke-linecap="round"/><path d="M137.5 169.5L137.5 168.9L136.9 167.6L135.9 165.8L134.4 163.5L132.8 161L131.2 158.6L129.8 156.3L128.7 154.5L128.1 153.2L128.1 152.6" fill="none" stroke="url(#h86)" stroke-width="5" stroke-linecap="round"/><path d="M143.5 164.4L143.5 163.8L142.9 162.5L141.8 160.6L140.4 158.4L138.8 155.9L137.2 153.4L135.7 151.2L134.7 149.3L134.1 148L134.1 147.4" fill="none" stroke="url(#h86)" stroke-width="5" stroke-linecap="round"/></g><path d="M140 154Q146 145 150 136" fill="none" stroke="#5a5ec8" stroke-width="2.4" stroke-linecap="round" stroke-linejoin="round"/><g stroke-linejoin="round"><path d="M115.8 120.3L116.4 120.8L116.9 122.2L117.5 124.3L118 127L118.5 130L119.1 133L119.6 135.7L120.1 137.8L120.7 139.2L121.2 139.7" fill="none" stroke="#3a3aa0" stroke-width="2.1"/><path d="M126.6 120.3L127.2 120.8L127.7 122.2L128.2 124.3L128.8 127L129.3 130L129.9 133L130.4 135.7L130.9 137.8L131.5 139.2L132 139.7" fill="none" stroke="#3a3aa0" stroke-width="2.1"/><path d="M110.4 138.4L111 138L111.5 136.8L112.1 135L112.6 132.6L113.1 130L113.7 127.4L114.2 125L114.8 123.2L115.3 122L115.8 121.6" fill="none" stroke="url(#h87)" stroke-width="6.9" stroke-linecap="round"/><path d="M121.2 138.4L121.8 138L122.3 136.8L122.8 135L123.4 132.6L123.9 130L124.5 127.4L125 125L125.5 123.2L126.1 122L126.6 121.6" fill="none" stroke="url(#h87)" stroke-width="6.9" stroke-linecap="round"/><path d="M132 138.4L132.5 138L133.1 136.8L133.6 135L134.2 132.6L134.7 130L135.2 127.4L135.8 125L136.3 123.2L136.9 122L137.4 121.6" fill="none" stroke="url(#h87)" stroke-width="6.9" stroke-linecap="round"/></g><path d="M142 136Q147 124 155 118" fill="none" stroke="#5a5ec8" stroke-width="2.4" stroke-linecap="round" stroke-linejoin="round"/><g stroke-linejoin="round"><path d="M170.8 111.9L170.4 112.5L169 113.1L166.9 113.8L164.2 114.4L161.2 115.1L158.2 115.7L155.5 116.4L153.4 117L152.1 117.7L151.6 118.3" fill="none" stroke="#3a3aa0" stroke-width="2.3"/><path d="M171 124.1L170.5 124.7L169.2 125.3L167.1 126L164.4 126.6L161.4 127.3L158.4 127.9L155.7 128.6L153.6 129.2L152.2 129.9L151.8 130.5" fill="none" stroke="#3a3aa0" stroke-width="2.3"/><path d="M171.2 136.3L170.7 136.9L169.4 137.5L167.2 138.2L164.6 138.8L161.6 139.5L158.6 140.2L155.9 140.8L153.8 141.5L152.4 142.1L152 142.7" fill="none" stroke="#3a3aa0" stroke-width="2.3"/><path d="M171.4 148.5L170.9 149.1L169.6 149.8L167.4 150.4L164.8 151.1L161.8 151.7L158.8 152.4L156.1 153L154 153.7L152.6 154.3L152.2 154.9" fill="none" stroke="#3a3aa0" stroke-width="2.3"/><path d="M152.9 106L153.3 106.6L154.5 107.2L156.3 107.8L158.6 108.4L161.1 109L163.6 109.5L165.9 110.1L167.7 110.7L168.9 111.3L169.3 111.9" fill="none" stroke="url(#h88)" stroke-width="7.8" stroke-linecap="round"/><path d="M153.1 118.2L153.5 118.9L154.7 119.4L156.5 120L158.8 120.6L161.3 121.2L163.8 121.7L166.1 122.3L167.9 122.9L169.1 123.5L169.5 124.1" fill="none" stroke="url(#h88)" stroke-width="7.8" stroke-linecap="round"/><path d="M153.3 130.5L153.7 131.1L154.9 131.7L156.7 132.2L159 132.8L161.5 133.4L164 134L166.3 134.5L168.1 135.1L169.3 135.7L169.7 136.3" fill="none" stroke="url(#h88)" stroke-width="7.8" stroke-linecap="round"/><path d="M153.5 142.7L153.9 143.3L155.1 143.9L156.9 144.5L159.2 145L161.7 145.6L164.2 146.2L166.5 146.7L168.3 147.3L169.5 147.9L169.9 148.5" fill="none" stroke="url(#h88)" stroke-width="7.8" stroke-linecap="round"/><path d="M153.7 154.9L154.1 155.5L155.2 156.1L157.1 156.7L159.3 157.2L161.9 157.8L164.4 158.4L166.7 159L168.5 159.5L169.7 160.1L170.1 160.7" fill="none" stroke="url(#h88)" stroke-width="7.8" stroke-linecap="round"/></g></g><g transform="translate(282.5 758.5)"><path d="M22 14.7Q20.5 20 21.4 23.7Q30 26 29.9 28.6Q27 34 25 37.7L23.8 43.7" fill="none" stroke="#c8a0a8" stroke-width="2.4" stroke-linecap="round" stroke-linejoin="round"/><ellipse cx="19" cy="56" rx="4.5" ry="8.8" fill="none" stroke="#c8a0a8" stroke-width="2.6" transform="rotate(25 19 56)"/><path d="M26.9 11Q24.5 14 25.7 14.7Q30 18 31.7 17.1Q38 15 43.8 14.7L53.5 14.7" fill="none" stroke="#c87272" stroke-width="2.6" stroke-linecap="round" stroke-linejoin="round"/><path d="M42 14Q48 10 55 12Q50 21 43.5 22Z" fill="#b85a5a"/><path d="M43.5 21Q50 23 58 17" fill="none" stroke="#c87272" stroke-width="2.0" stroke-linecap="round" stroke-linejoin="round"/><path d="M54.1 3.2Q59 0.5 64.4 1.9L63.8 11.6L62 20.7Q63 26 69.8 31.6" fill="none" stroke="#c06a6a" stroke-width="2.8" stroke-linecap="round" stroke-linejoin="round"/><path d="M69.8 31.6L89.8 31Q84 38 81.3 42.5L79.5 49.2" fill="none" stroke="#c87272" stroke-width="2.4" stroke-linecap="round" stroke-linejoin="round"/><path d="M63 30L75 46L73 30Z" fill="#b85a5a"/><path d="M25.7 42.5Q31 48 37.8 50.4Q44 50 49.9 49.2L68 46.1Q78 46 86.2 49.8" fill="none" stroke="#c87272" stroke-width="3.2" stroke-linecap="round" stroke-linejoin="round"/><path d="M30 50Q34 52 38 50Q52 44 65.6 35.2" fill="none" stroke="#7a2a2a" stroke-width="5.0" stroke-linecap="round" stroke-linejoin="round"/><path d="M10 120Q28 108 60 108L78 134L88 152L84 188L66 200L46 197L26 182L8 168Z" fill="#de9191" opacity="0.4"/><path d="M34 100Q28 110 33 120Q34 126 30 130" fill="none" stroke="#7a4040" stroke-width="2.6" stroke-linecap="round" stroke-linejoin="round"/><g stroke-linejoin="round"><path d="M48.9 62.4L48.3 63L46.6 63.4L44 63.8L40.8 64.1L37.2 64.3L33.6 64.6L30.3 64.8L27.7 65.2L26 65.6L25.4 66.2" fill="none" stroke="#7a4040" stroke-width="1.7"/><path d="M47.6 75L47 75.5L45.3 76L42.7 76.3L39.4 76.6L35.8 76.9L32.2 77.1L29 77.4L26.4 77.8L24.7 78.2L24 78.8" fill="none" stroke="#7a4040" stroke-width="1.7"/><path d="M46.2 87.5L45.6 88.1L43.9 88.5L41.3 88.9L38.1 89.2L34.5 89.4L30.9 89.7L27.6 90L25 90.3L23.3 90.8L22.7 91.3" fill="none" stroke="#7a4040" stroke-width="1.7"/><path d="M27.5 53.7L27.9 54.4L29.4 55.2L31.7 56.1L34.6 57L37.8 58L41.1 59L44 60L46.3 60.8L47.7 61.6L48.2 62.3" fill="none" stroke="url(#h89)" stroke-width="5.8" stroke-linecap="round"/><path d="M26.1 66.3L26.6 67L28 67.8L30.3 68.7L33.3 69.6L36.5 70.6L39.7 71.6L42.6 72.5L44.9 73.4L46.4 74.2L46.9 74.9" fill="none" stroke="url(#h89)" stroke-width="5.8" stroke-linecap="round"/><path d="M24.8 78.9L25.2 79.5L26.7 80.3L29 81.2L31.9 82.2L35.1 83.2L38.4 84.1L41.3 85.1L43.6 86L45 86.8L45.5 87.4" fill="none" stroke="url(#h89)" stroke-width="5.8" stroke-linecap="round"/><path d="M23.4 91.4L23.9 92.1L25.3 92.9L27.6 93.8L30.5 94.7L33.8 95.7L37 96.7L39.9 97.6L42.2 98.5L43.7 99.3L44.1 100" fill="none" stroke="url(#h89)" stroke-width="5.8" stroke-linecap="round"/></g><path d="M45.6 107.7Q55.3 96 65 107.7" fill="none" stroke="#c84848" stroke-width="2.6" stroke-linecap="round" stroke-linejoin="round"/><path d="M38 122Q48 102 58 114" fill="none" stroke="#c84848" stroke-width="2.4" stroke-linecap="round" stroke-linejoin="round"/><g stroke-linejoin="round"><path d="M63.6 136.3L63.2 136.9L61.9 137.5L59.9 138.2L57.4 138.9L54.6 139.6L51.8 140.3L49.2 141L47.2 141.6L46 142.3L45.5 142.8" fill="none" stroke="#8080a0" stroke-width="1.9"/><path d="M64.2 147.5L63.8 148.1L62.5 148.8L60.5 149.4L58 150.1L55.1 150.8L52.3 151.5L49.8 152.2L47.8 152.9L46.5 153.5L46.1 154.1" fill="none" stroke="#8080a0" stroke-width="1.9"/><path d="M46.1 131.6L46.5 132.1L47.7 132.6L49.5 133.1L51.8 133.5L54.3 134L56.8 134.4L59.1 134.8L60.9 135.3L62.1 135.8L62.5 136.4" fill="none" stroke="url(#h90)" stroke-width="6.3" stroke-linecap="round"/><path d="M46.6 142.8L47 143.3L48.2 143.8L50 144.3L52.3 144.8L54.9 145.2L57.4 145.6L59.7 146.1L61.5 146.5L62.7 147.1L63.1 147.6" fill="none" stroke="url(#h90)" stroke-width="6.3" stroke-linecap="round"/><path d="M47.2 154L47.6 154.6L48.8 155.1L50.6 155.5L52.9 156L55.4 156.4L58 156.9L60.2 157.3L62.1 157.8L63.2 158.3L63.7 158.8" fill="none" stroke="url(#h90)" stroke-width="6.3" stroke-linecap="round"/></g><g stroke-linejoin="round"><path d="M52.8 112.4L53.2 112.9L53.4 114.1L53.4 116L53.3 118.2L53 120.7L52.8 123.1L52.7 125.4L52.6 127.2L52.8 128.4L53.2 129" fill="none" stroke="#a05050" stroke-width="1.9"/><path d="M42.9 124.3L43.5 124.1L44.4 123.4L45.4 122.2L46.5 120.6L47.7 118.9L48.9 117.1L50 115.6L51 114.4L51.8 113.6L52.4 113.5" fill="none" stroke="url(#h91)" stroke-width="6.3" stroke-linecap="round"/><path d="M53.6 127.8L54.3 127.7L55.1 127L56.1 125.8L57.2 124.2L58.4 122.5L59.6 120.7L60.7 119.1L61.7 117.9L62.5 117.2L63.2 117.1" fill="none" stroke="url(#h91)" stroke-width="6.3" stroke-linecap="round"/></g><g stroke-linejoin="round"><path d="M25 121.5L24.4 122.2L22.7 123L20.1 123.8L16.8 124.7L13.1 125.5L9.5 126.4L6.1 127.2L3.5 128L1.8 128.8L1.3 129.6" fill="none" stroke="#8a7070" stroke-width="2.7"/><path d="M25.4 136.3L24.8 137L23.2 137.8L20.5 138.6L17.2 139.5L13.5 140.3L9.9 141.1L6.6 142L3.9 142.8L2.3 143.6L1.7 144.3" fill="none" stroke="#8a7070" stroke-width="2.7"/><path d="M25.8 151.1L25.2 151.8L23.6 152.6L20.9 153.4L17.6 154.2L14 155.1L10.3 155.9L7 156.8L4.3 157.6L2.7 158.4L2.1 159.1" fill="none" stroke="#8a7070" stroke-width="2.7"/><path d="M2.5 114.7L3 115.4L4.5 116.1L6.8 116.8L9.7 117.5L12.9 118.1L16.1 118.8L19 119.4L21.3 120.1L22.8 120.8L23.4 121.5" fill="none" stroke="url(#h92)" stroke-width="8.9" stroke-linecap="round"/><path d="M2.9 129.5L3.4 130.2L4.9 130.9L7.2 131.6L10.1 132.3L13.3 132.9L16.6 133.6L19.5 134.2L21.8 134.9L23.3 135.6L23.8 136.3" fill="none" stroke="url(#h92)" stroke-width="8.9" stroke-linecap="round"/><path d="M3.3 144.3L3.8 145L5.3 145.7L7.6 146.4L10.5 147L13.8 147.7L17 148.3L19.9 149L22.2 149.7L23.7 150.4L24.2 151.1" fill="none" stroke="url(#h92)" stroke-width="8.9" stroke-linecap="round"/><path d="M3.7 159.1L4.3 159.8L5.7 160.5L8.1 161.2L11 161.8L14.2 162.5L17.4 163.1L20.3 163.8L22.6 164.5L24.1 165.2L24.6 165.9" fill="none" stroke="url(#h92)" stroke-width="8.9" stroke-linecap="round"/></g><path d="M6.9 113.5Q18.5 106 26.3 123.2L22.4 131" fill="none" stroke="#c84848" stroke-width="2.6" stroke-linecap="round" stroke-linejoin="round"/><path d="M2 114L7 112L8 117Z" fill="#303040" stroke="#303040" stroke-width="2"/><path d="M16.6 173.5Q30 178 30.1 181Q28 186 23 187" fill="none" stroke="#c84848" stroke-width="2.6" stroke-linecap="round" stroke-linejoin="round"/><circle cx="53" cy="203" r="10.5" fill="#e8e8ee" stroke="#909090" stroke-width="1.2"/><path d="M44 203Q44 193 53 192.5" fill="none" stroke="#909090" stroke-width="3"/><ellipse cx="55" cy="205" rx="6" ry="5" fill="#ffffff"/><circle cx="52" cy="212" r="2.8" fill="#2020a0"/><g stroke-linejoin="round"><path d="M48.7 163.7L48.6 164.3L48 165.3L46.9 166.6L45.3 168.1L43.7 169.7L42 171.3L40.5 172.8L39.3 174.1L38.7 175.1L38.6 175.7" fill="none" stroke="#8080a0" stroke-width="1.9"/><path d="M34.4 165.8L34.9 166.1L35.9 166.2L37.3 166L39.1 165.6L41 165.1L42.9 164.6L44.6 164.2L46 164L47 164L47.6 164.3" fill="none" stroke="url(#h93)" stroke-width="6.4" stroke-linecap="round"/><path d="M39.8 175.1L40.3 175.4L41.3 175.4L42.7 175.2L44.5 174.8L46.3 174.3L48.2 173.8L50 173.4L51.4 173.2L52.4 173.2L52.9 173.6" fill="none" stroke="url(#h93)" stroke-width="6.4" stroke-linecap="round"/></g><path d="M28.8 125.6L54.4 189L59.6 187L37.2 122.4Z" fill="#d22a2a" stroke="#b22424" stroke-width="0.6" stroke-linejoin="round"/><path d="M32.6 124.2L56.7 188.1" stroke="#dd5f5f" stroke-width="2" stroke-linecap="round" opacity="0.35"/><path d="M15 133.9L55.9 198.8L62.1 195.2L25 128.1Z" fill="#c82a2a" stroke="#aa2424" stroke-width="0.6" stroke-linejoin="round"/><path d="M19.5 131.3L58.7 197.2" stroke="#d65f5f" stroke-width="2.5" stroke-linecap="round" opacity="0.35"/><path d="M56.5 127.5L65.2 184.3L70.8 183.7L65.5 126.5Z" fill="#d82828" stroke="#b82222" stroke-width="0.6" stroke-linejoin="round"/><path d="M60.6 127.1L67.7 184" stroke="#e25e5e" stroke-width="2" stroke-linecap="round" opacity="0.35"/><path d="M73.5 137L78.8 185.2L83.2 184.8L80.5 136.4Z" fill="#b02828" stroke="#962222" stroke-width="0.6" stroke-linejoin="round"/><path d="M76.7 136.7L80.8 185" stroke="#c45e5e" stroke-width="1.5" stroke-linecap="round" opacity="0.35"/><path d="M40 152Q60 146 78 140" fill="none" stroke="#c84848" stroke-width="2.4" stroke-linecap="round" stroke-linejoin="round"/><path d="M52 184Q64 192 80 187Q88 196 98 194L112 197" fill="none" stroke="#c84848" stroke-width="2.8" stroke-linecap="round" stroke-linejoin="round"/><g stroke-linejoin="round"><path d="M83.3 59.1L82.7 59.8L81.1 60.5L78.4 61.3L75.1 62L71.5 62.8L67.8 63.6L64.5 64.4L61.9 65.2L60.2 65.9L59.6 66.5" fill="none" stroke="#7a4040" stroke-width="1.8"/><path d="M83.8 72.2L83.2 72.9L81.5 73.6L78.9 74.4L75.6 75.1L71.9 75.9L68.3 76.7L65 77.5L62.4 78.3L60.7 79L60.1 79.6" fill="none" stroke="#7a4040" stroke-width="1.8"/><path d="M84.3 85.3L83.7 86L82 86.7L79.4 87.5L76.1 88.2L72.4 89L68.8 89.8L65.5 90.6L62.8 91.4L61.2 92.1L60.6 92.7" fill="none" stroke="#7a4040" stroke-width="1.8"/><path d="M84.7 98.4L84.2 99.1L82.5 99.8L79.9 100.6L76.6 101.3L72.9 102.1L69.2 102.9L65.9 103.7L63.3 104.5L61.6 105.2L61.1 105.8" fill="none" stroke="#7a4040" stroke-width="1.8"/><path d="M85.2 111.5L84.7 112.2L83 112.9L80.4 113.7L77.1 114.4L73.4 115.2L69.7 116L66.4 116.8L63.8 117.6L62.1 118.3L61.6 118.9" fill="none" stroke="#7a4040" stroke-width="1.8"/><path d="M59.9 53.4L60.5 54.1L62.1 54.7L64.6 55.2L67.8 55.8L71.2 56.3L74.7 56.8L77.9 57.4L80.3 57.9L82 58.5L82.5 59.2" fill="none" stroke="url(#h94)" stroke-width="6" stroke-linecap="round"/><path d="M60.4 66.5L61 67.2L62.6 67.8L65.1 68.3L68.2 68.9L71.7 69.4L75.2 69.9L78.3 70.5L80.8 71L82.4 71.6L83 72.3" fill="none" stroke="url(#h94)" stroke-width="6" stroke-linecap="round"/><path d="M60.9 79.6L61.5 80.3L63.1 80.9L65.6 81.4L68.7 82L72.2 82.5L75.7 83L78.8 83.6L81.3 84.1L82.9 84.7L83.5 85.4" fill="none" stroke="url(#h94)" stroke-width="6" stroke-linecap="round"/><path d="M61.4 92.7L61.9 93.4L63.5 94L66 94.5L69.2 95.1L72.7 95.6L76.1 96.1L79.3 96.7L81.8 97.2L83.4 97.8L84 98.5" fill="none" stroke="url(#h94)" stroke-width="6" stroke-linecap="round"/><path d="M61.8 105.8L62.4 106.5L64 107L66.5 107.6L69.7 108.2L73.1 108.7L76.6 109.2L79.8 109.8L82.3 110.3L83.9 110.9L84.5 111.5" fill="none" stroke="url(#h94)" stroke-width="6" stroke-linecap="round"/><path d="M62.3 118.9L62.9 119.6L64.5 120.1L67 120.7L70.1 121.3L73.6 121.8L77.1 122.3L80.2 122.9L82.7 123.4L84.4 124L84.9 124.6" fill="none" stroke="url(#h94)" stroke-width="6" stroke-linecap="round"/></g><path d="M82 142Q90 136 96 136.7L108 134.8" fill="none" stroke="#6060c8" stroke-width="2.6" stroke-linecap="round" stroke-linejoin="round"/><g stroke-linejoin="round"><path d="M102.5 158.3L102.4 159L101.7 160.3L100.3 162.2L98.5 164.4L96.5 166.9L94.5 169.3L92.7 171.5L91.3 173.4L90.6 174.7L90.5 175.5" fill="none" stroke="#a06060" stroke-width="2.1"/><path d="M109.5 166.5L109.4 167.3L108.7 168.6L107.3 170.5L105.5 172.7L103.5 175.1L101.5 177.6L99.7 179.8L98.3 181.7L97.6 183L97.5 183.7" fill="none" stroke="#a06060" stroke-width="2.1"/><path d="M84.4 166.4L85.1 166.5L86.4 166.1L88.3 165.3L90.5 164.1L93 162.7L95.4 161.4L97.7 160.2L99.6 159.3L100.9 158.9L101.6 159" fill="none" stroke="url(#h95)" stroke-width="6.9" stroke-linecap="round"/><path d="M91.4 174.7L92.1 174.8L93.4 174.4L95.3 173.6L97.5 172.4L100 171L102.5 169.6L104.7 168.4L106.6 167.6L107.9 167.2L108.6 167.3" fill="none" stroke="url(#h95)" stroke-width="6.9" stroke-linecap="round"/><path d="M98.4 183L99.1 183.1L100.4 182.7L102.3 181.8L104.6 180.6L107 179.3L109.5 177.9L111.7 176.7L113.6 175.9L114.9 175.5L115.6 175.6" fill="none" stroke="url(#h95)" stroke-width="6.9" stroke-linecap="round"/></g><g stroke-linejoin="round"><path d="M108.4 190.2L108.7 190.8L108.6 191.9L108.3 193.5L107.7 195.4L107 197.5L106.3 199.6L105.7 201.5L105.4 203.1L105.3 204.2L105.6 204.8" fill="none" stroke="#c08080" stroke-width="2.1"/><path d="M97.1 197.4L97.7 197.5L98.6 197.2L99.7 196.5L101 195.5L102.3 194.5L103.7 193.4L105 192.4L106.1 191.7L107 191.4L107.6 191.5" fill="none" stroke="url(#h96)" stroke-width="7.1" stroke-linecap="round"/><path d="M106.4 203.5L107 203.6L107.9 203.3L109 202.6L110.3 201.6L111.7 200.5L113 199.5L114.3 198.5L115.4 197.8L116.3 197.5L116.9 197.6" fill="none" stroke="url(#h96)" stroke-width="7.1" stroke-linecap="round"/></g><g stroke-linejoin="round"><path d="M109.8 167.5L110.4 167.6L111.7 168.5L113.4 169.9L115.6 171.8L117.9 173.9L120.2 176L122.4 177.9L124.1 179.3L125.4 180.2L126 180.3" fill="none" stroke="#2a2aa0" stroke-width="1.5"/><path d="M115.8 162.4L116.4 162.5L117.6 163.3L119.4 164.8L121.5 166.6L123.9 168.8L126.2 170.9L128.3 172.8L130.1 174.2L131.3 175L132 175.1" fill="none" stroke="#2a2aa0" stroke-width="1.5"/><path d="M121.7 157.2L122.4 157.3L123.6 158.2L125.4 159.6L127.5 161.5L129.8 163.6L132.2 165.7L134.3 167.6L136.1 169L137.3 169.9L137.9 170" fill="none" stroke="#2a2aa0" stroke-width="1.5"/><path d="M127.7 152.1L128.3 152.2L129.6 153L131.3 154.5L133.5 156.4L135.8 158.5L138.1 160.6L140.3 162.5L142 163.9L143.3 164.7L143.9 164.9" fill="none" stroke="#2a2aa0" stroke-width="1.5"/><path d="M119.6 184.9L119.6 184.3L119 183.1L117.9 181.2L116.5 178.9L114.9 176.5L113.3 174L111.9 171.7L110.8 169.9L110.2 168.6L110.2 168" fill="none" stroke="url(#h97)" stroke-width="5" stroke-linecap="round"/><path d="M125.6 179.8L125.6 179.2L125 177.9L123.9 176.1L122.5 173.8L120.9 171.3L119.3 168.8L117.8 166.6L116.8 164.7L116.2 163.5L116.2 162.9" fill="none" stroke="url(#h97)" stroke-width="5" stroke-linecap="round"/><path d="M131.5 174.7L131.5 174.1L131 172.8L129.9 170.9L128.5 168.7L126.8 166.2L125.2 163.7L123.8 161.4L122.7 159.6L122.2 158.3L122.1 157.7" fill="none" stroke="url(#h97)" stroke-width="5" stroke-linecap="round"/><path d="M137.5 169.5L137.5 168.9L136.9 167.6L135.9 165.8L134.4 163.5L132.8 161L131.2 158.6L129.8 156.3L128.7 154.5L128.1 153.2L128.1 152.6" fill="none" stroke="url(#h97)" stroke-width="5" stroke-linecap="round"/><path d="M143.5 164.4L143.5 163.8L142.9 162.5L141.8 160.6L140.4 158.4L138.8 155.9L137.2 153.4L135.7 151.2L134.7 149.3L134.1 148L134.1 147.4" fill="none" stroke="url(#h97)" stroke-width="5" stroke-linecap="round"/></g><path d="M140 154Q146 145 150 136" fill="none" stroke="#6060c8" stroke-width="2.4" stroke-linecap="round" stroke-linejoin="round"/><g stroke-linejoin="round"><path d="M115.8 120.3L116.4 120.8L116.9 122.2L117.5 124.3L118 127L118.5 130L119.1 133L119.6 135.7L120.1 137.8L120.7 139.2L121.2 139.7" fill="none" stroke="#6a6ab0" stroke-width="2.1"/><path d="M126.6 120.3L127.2 120.8L127.7 122.2L128.2 124.3L128.8 127L129.3 130L129.9 133L130.4 135.7L130.9 137.8L131.5 139.2L132 139.7" fill="none" stroke="#6a6ab0" stroke-width="2.1"/><path d="M110.4 138.4L111 138L111.5 136.8L112.1 135L112.6 132.6L113.1 130L113.7 127.4L114.2 125L114.8 123.2L115.3 122L115.8 121.6" fill="none" stroke="url(#h98)" stroke-width="6.9" stroke-linecap="round"/><path d="M121.2 138.4L121.8 138L122.3 136.8L122.8 135L123.4 132.6L123.9 130L124.5 127.4L125 125L125.5 123.2L126.1 122L126.6 121.6" fill="none" stroke="url(#h98)" stroke-width="6.9" stroke-linecap="round"/><path d="M132 138.4L132.5 138L133.1 136.8L133.6 135L134.2 132.6L134.7 130L135.2 127.4L135.8 125L136.3 123.2L136.9 122L137.4 121.6" fill="none" stroke="url(#h98)" stroke-width="6.9" stroke-linecap="round"/></g><path d="M142 136Q147 124 155 118" fill="none" stroke="#6060c8" stroke-width="2.4" stroke-linecap="round" stroke-linejoin="round"/><g stroke-linejoin="round"><path d="M170.8 111.9L170.4 112.5L169 113.1L166.9 113.8L164.2 114.4L161.2 115.1L158.2 115.7L155.5 116.4L153.4 117L152.1 117.7L151.6 118.3" fill="none" stroke="#2020a0" stroke-width="2.3"/><path d="M171 124.1L170.5 124.7L169.2 125.3L167.1 126L164.4 126.6L161.4 127.3L158.4 127.9L155.7 128.6L153.6 129.2L152.2 129.9L151.8 130.5" fill="none" stroke="#2020a0" stroke-width="2.3"/><path d="M171.2 136.3L170.7 136.9L169.4 137.5L167.2 138.2L164.6 138.8L161.6 139.5L158.6 140.2L155.9 140.8L153.8 141.5L152.4 142.1L152 142.7" fill="none" stroke="#2020a0" stroke-width="2.3"/><path d="M171.4 148.5L170.9 149.1L169.6 149.8L167.4 150.4L164.8 151.1L161.8 151.7L158.8 152.4L156.1 153L154 153.7L152.6 154.3L152.2 154.9" fill="none" stroke="#2020a0" stroke-width="2.3"/><path d="M152.9 106L153.3 106.6L154.5 107.2L156.3 107.8L158.6 108.4L161.1 109L163.6 109.5L165.9 110.1L167.7 110.7L168.9 111.3L169.3 111.9" fill="none" stroke="url(#h99)" stroke-width="7.8" stroke-linecap="round"/><path d="M153.1 118.2L153.5 118.9L154.7 119.4L156.5 120L158.8 120.6L161.3 121.2L163.8 121.7L166.1 122.3L167.9 122.9L169.1 123.5L169.5 124.1" fill="none" stroke="url(#h99)" stroke-width="7.8" stroke-linecap="round"/><path d="M153.3 130.5L153.7 131.1L154.9 131.7L156.7 132.2L159 132.8L161.5 133.4L164 134L166.3 134.5L168.1 135.1L169.3 135.7L169.7 136.3" fill="none" stroke="url(#h99)" stroke-width="7.8" stroke-linecap="round"/><path d="M153.5 142.7L153.9 143.3L155.1 143.9L156.9 144.5L159.2 145L161.7 145.6L164.2 146.2L166.5 146.7L168.3 147.3L169.5 147.9L169.9 148.5" fill="none" stroke="url(#h99)" stroke-width="7.8" stroke-linecap="round"/><path d="M153.7 154.9L154.1 155.5L155.2 156.1L157.1 156.7L159.3 157.2L161.9 157.8L164.4 158.4L166.7 159L168.5 159.5L169.7 160.1L170.1 160.7" fill="none" stroke="url(#h99)" stroke-width="7.8" stroke-linecap="round"/></g></g><g transform="translate(282.5 1003)"><path d="M22 14.7Q20.5 20 21.4 23.7Q30 26 29.9 28.6Q27 34 25 37.7L23.8 43.7" fill="none" stroke="#c8a0a8" stroke-width="2.4" stroke-linecap="round" stroke-linejoin="round"/><ellipse cx="19" cy="56" rx="4.5" ry="8.8" fill="none" stroke="#c8a0a8" stroke-width="2.6" transform="rotate(25 19 56)"/><path d="M26.9 11Q24.5 14 25.7 14.7Q30 18 31.7 17.1Q38 15 43.8 14.7L53.5 14.7" fill="none" stroke="#c87272" stroke-width="2.6" stroke-linecap="round" stroke-linejoin="round"/><path d="M42 14Q48 10 55 12Q50 21 43.5 22Z" fill="#b85a5a"/><path d="M43.5 21Q50 23 58 17" fill="none" stroke="#c87272" stroke-width="2.0" stroke-linecap="round" stroke-linejoin="round"/><path d="M54.1 3.2Q59 0.5 64.4 1.9L63.8 11.6L62 20.7Q63 26 69.8 31.6" fill="none" stroke="#c06a6a" stroke-width="2.8" stroke-linecap="round" stroke-linejoin="round"/><path d="M69.8 31.6L89.8 31Q84 38 81.3 42.5L79.5 49.2" fill="none" stroke="#c87272" stroke-width="2.4" stroke-linecap="round" stroke-linejoin="round"/><path d="M63 30L75 46L73 30Z" fill="#b85a5a"/><path d="M25.7 42.5Q31 48 37.8 50.4Q44 50 49.9 49.2L68 46.1Q78 46 86.2 49.8" fill="none" stroke="#c87272" stroke-width="3.2" stroke-linecap="round" stroke-linejoin="round"/><path d="M30 50Q34 52 38 50Q52 44 65.6 35.2" fill="none" stroke="#7a2a2a" stroke-width="5.0" stroke-linecap="round" stroke-linejoin="round"/><path d="M10 120Q28 108 60 108L78 134L88 152L84 188L66 200L46 197L26 182L8 168Z" fill="#de9696" opacity="0.4"/><path d="M34 100Q28 110 33 120Q34 126 30 130" fill="none" stroke="#7a4040" stroke-width="2.6" stroke-linecap="round" stroke-linejoin="round"/><g stroke-linejoin="round"><path d="M48.9 62.4L48.3 63L46.6 63.4L44 63.8L40.8 64.1L37.2 64.3L33.6 64.6L30.3 64.8L27.7 65.2L26 65.6L25.4 66.2" fill="none" stroke="#7a4040" stroke-width="1.7"/><path d="M47.6 75L47 75.5L45.3 76L42.7 76.3L39.4 76.6L35.8 76.9L32.2 77.1L29 77.4L26.4 77.8L24.7 78.2L24 78.8" fill="none" stroke="#7a4040" stroke-width="1.7"/><path d="M46.2 87.5L45.6 88.1L43.9 88.5L41.3 88.9L38.1 89.2L34.5 89.4L30.9 89.7L27.6 90L25 90.3L23.3 90.8L22.7 91.3" fill="none" stroke="#7a4040" stroke-width="1.7"/><path d="M27.5 53.7L27.9 54.4L29.4 55.2L31.7 56.1L34.6 57L37.8 58L41.1 59L44 60L46.3 60.8L47.7 61.6L48.2 62.3" fill="none" stroke="url(#h100)" stroke-width="5.8" stroke-linecap="round"/><path d="M26.1 66.3L26.6 67L28 67.8L30.3 68.7L33.3 69.6L36.5 70.6L39.7 71.6L42.6 72.5L44.9 73.4L46.4 74.2L46.9 74.9" fill="none" stroke="url(#h100)" stroke-width="5.8" stroke-linecap="round"/><path d="M24.8 78.9L25.2 79.5L26.7 80.3L29 81.2L31.9 82.2L35.1 83.2L38.4 84.1L41.3 85.1L43.6 86L45 86.8L45.5 87.4" fill="none" stroke="url(#h100)" stroke-width="5.8" stroke-linecap="round"/><path d="M23.4 91.4L23.9 92.1L25.3 92.9L27.6 93.8L30.5 94.7L33.8 95.7L37 96.7L39.9 97.6L42.2 98.5L43.7 99.3L44.1 100" fill="none" stroke="url(#h100)" stroke-width="5.8" stroke-linecap="round"/></g><path d="M45.6 107.7Q55.3 96 65 107.7" fill="none" stroke="#c85050" stroke-width="2.6" stroke-linecap="round" stroke-linejoin="round"/><path d="M38 122Q48 102 58 114" fill="none" stroke="#c85050" stroke-width="2.4" stroke-linecap="round" stroke-linejoin="round"/><g stroke-linejoin="round"><path d="M63.6 136.3L63.2 136.9L61.9 137.5L59.9 138.2L57.4 138.9L54.6 139.6L51.8 140.3L49.2 141L47.2 141.6L46 142.3L45.5 142.8" fill="none" stroke="#3030a0" stroke-width="1.9"/><path d="M64.2 147.5L63.8 148.1L62.5 148.8L60.5 149.4L58 150.1L55.1 150.8L52.3 151.5L49.8 152.2L47.8 152.9L46.5 153.5L46.1 154.1" fill="none" stroke="#3030a0" stroke-width="1.9"/><path d="M46.1 131.6L46.5 132.1L47.7 132.6L49.5 133.1L51.8 133.5L54.3 134L56.8 134.4L59.1 134.8L60.9 135.3L62.1 135.8L62.5 136.4" fill="none" stroke="url(#h101)" stroke-width="6.3" stroke-linecap="round"/><path d="M46.6 142.8L47 143.3L48.2 143.8L50 144.3L52.3 144.8L54.9 145.2L57.4 145.6L59.7 146.1L61.5 146.5L62.7 147.1L63.1 147.6" fill="none" stroke="url(#h101)" stroke-width="6.3" stroke-linecap="round"/><path d="M47.2 154L47.6 154.6L48.8 155.1L50.6 155.5L52.9 156L55.4 156.4L58 156.9L60.2 157.3L62.1 157.8L63.2 158.3L63.7 158.8" fill="none" stroke="url(#h101)" stroke-width="6.3" stroke-linecap="round"/></g><g stroke-linejoin="round"><path d="M52.8 112.4L53.2 112.9L53.4 114.1L53.4 116L53.3 118.2L53 120.7L52.8 123.1L52.7 125.4L52.6 127.2L52.8 128.4L53.2 129" fill="none" stroke="#3030a0" stroke-width="1.9"/><path d="M42.9 124.3L43.5 124.1L44.4 123.4L45.4 122.2L46.5 120.6L47.7 118.9L48.9 117.1L50 115.6L51 114.4L51.8 113.6L52.4 113.5" fill="none" stroke="url(#h102)" stroke-width="6.3" stroke-linecap="round"/><path d="M53.6 127.8L54.3 127.7L55.1 127L56.1 125.8L57.2 124.2L58.4 122.5L59.6 120.7L60.7 119.1L61.7 117.9L62.5 117.2L63.2 117.1" fill="none" stroke="url(#h102)" stroke-width="6.3" stroke-linecap="round"/></g><g stroke-linejoin="round"><path d="M25 121.5L24.4 122.2L22.7 123L20.1 123.8L16.8 124.7L13.1 125.5L9.5 126.4L6.1 127.2L3.5 128L1.8 128.8L1.3 129.6" fill="none" stroke="#8a7070" stroke-width="2.7"/><path d="M25.4 136.3L24.8 137L23.2 137.8L20.5 138.6L17.2 139.5L13.5 140.3L9.9 141.1L6.6 142L3.9 142.8L2.3 143.6L1.7 144.3" fill="none" stroke="#8a7070" stroke-width="2.7"/><path d="M25.8 151.1L25.2 151.8L23.6 152.6L20.9 153.4L17.6 154.2L14 155.1L10.3 155.9L7 156.8L4.3 157.6L2.7 158.4L2.1 159.1" fill="none" stroke="#8a7070" stroke-width="2.7"/><path d="M2.5 114.7L3 115.4L4.5 116.1L6.8 116.8L9.7 117.5L12.9 118.1L16.1 118.8L19 119.4L21.3 120.1L22.8 120.8L23.4 121.5" fill="none" stroke="url(#h103)" stroke-width="8.9" stroke-linecap="round"/><path d="M2.9 129.5L3.4 130.2L4.9 130.9L7.2 131.6L10.1 132.3L13.3 132.9L16.6 133.6L19.5 134.2L21.8 134.9L23.3 135.6L23.8 136.3" fill="none" stroke="url(#h103)" stroke-width="8.9" stroke-linecap="round"/><path d="M3.3 144.3L3.8 145L5.3 145.7L7.6 146.4L10.5 147L13.8 147.7L17 148.3L19.9 149L22.2 149.7L23.7 150.4L24.2 151.1" fill="none" stroke="url(#h103)" stroke-width="8.9" stroke-linecap="round"/><path d="M3.7 159.1L4.3 159.8L5.7 160.5L8.1 161.2L11 161.8L14.2 162.5L17.4 163.1L20.3 163.8L22.6 164.5L24.1 165.2L24.6 165.9" fill="none" stroke="url(#h103)" stroke-width="8.9" stroke-linecap="round"/></g><path d="M6.9 113.5Q18.5 106 26.3 123.2L22.4 131" fill="none" stroke="#c85050" stroke-width="2.6" stroke-linecap="round" stroke-linejoin="round"/><path d="M2 114L7 112L8 117Z" fill="#303040" stroke="#303040" stroke-width="2"/><path d="M16.6 173.5Q30 178 30.1 181Q28 186 23 187" fill="none" stroke="#c85050" stroke-width="2.6" stroke-linecap="round" stroke-linejoin="round"/><circle cx="53" cy="203" r="10.5" fill="#e8e8ee" stroke="#909090" stroke-width="1.2"/><path d="M44 203Q44 193 53 192.5" fill="none" stroke="#909090" stroke-width="3"/><ellipse cx="55" cy="205" rx="6" ry="5" fill="#ffffff"/><circle cx="52" cy="212" r="2.8" fill="#2020a0"/><g stroke-linejoin="round"><path d="M48.7 163.7L48.6 164.3L48 165.3L46.9 166.6L45.3 168.1L43.7 169.7L42 171.3L40.5 172.8L39.3 174.1L38.7 175.1L38.6 175.7" fill="none" stroke="#3030a0" stroke-width="1.9"/><path d="M34.4 165.8L34.9 166.1L35.9 166.2L37.3 166L39.1 165.6L41 165.1L42.9 164.6L44.6 164.2L46 164L47 164L47.6 164.3" fill="none" stroke="url(#h104)" stroke-width="6.4" stroke-linecap="round"/><path d="M39.8 175.1L40.3 175.4L41.3 175.4L42.7 175.2L44.5 174.8L46.3 174.3L48.2 173.8L50 173.4L51.4 173.2L52.4 173.2L52.9 173.6" fill="none" stroke="url(#h104)" stroke-width="6.4" stroke-linecap="round"/></g><path d="M28.8 125.6L54.4 189L59.6 187L37.2 122.4Z" fill="#d22a2a" stroke="#b22424" stroke-width="0.6" stroke-linejoin="round"/><path d="M32.6 124.2L56.7 188.1" stroke="#dd5f5f" stroke-width="2" stroke-linecap="round" opacity="0.35"/><path d="M15 133.9L55.9 198.8L62.1 195.2L25 128.1Z" fill="#c82a2a" stroke="#aa2424" stroke-width="0.6" stroke-linejoin="round"/><path d="M19.5 131.3L58.7 197.2" stroke="#d65f5f" stroke-width="2.5" stroke-linecap="round" opacity="0.35"/><path d="M56.5 127.5L65.2 184.3L70.8 183.7L65.5 126.5Z" fill="#d8d8e0" stroke="#b8b8be" stroke-width="0.6" stroke-linejoin="round"/><path d="M60.6 127.1L67.7 184" stroke="#e2e2e8" stroke-width="2" stroke-linecap="round" opacity="0.35"/><path d="M73.5 137L78.8 185.2L83.2 184.8L80.5 136.4Z" fill="#6a6ae0" stroke="#5a5abe" stroke-width="0.6" stroke-linejoin="round"/><path d="M76.7 136.7L80.8 185" stroke="#8f8fe8" stroke-width="1.5" stroke-linecap="round" opacity="0.35"/><path d="M40 152Q60 146 78 140" fill="none" stroke="#c85050" stroke-width="2.4" stroke-linecap="round" stroke-linejoin="round"/><path d="M52 184Q64 192 80 187Q88 196 98 194L112 197" fill="none" stroke="#c85050" stroke-width="2.8" stroke-linecap="round" stroke-linejoin="round"/><g stroke-linejoin="round"><path d="M83.3 59.1L82.7 59.8L81.1 60.5L78.4 61.3L75.1 62L71.5 62.8L67.8 63.6L64.5 64.4L61.9 65.2L60.2 65.9L59.6 66.5" fill="none" stroke="#7a4040" stroke-width="1.8"/><path d="M83.8 72.2L83.2 72.9L81.5 73.6L78.9 74.4L75.6 75.1L71.9 75.9L68.3 76.7L65 77.5L62.4 78.3L60.7 79L60.1 79.6" fill="none" stroke="#7a4040" stroke-width="1.8"/><path d="M84.3 85.3L83.7 86L82 86.7L79.4 87.5L76.1 88.2L72.4 89L68.8 89.8L65.5 90.6L62.8 91.4L61.2 92.1L60.6 92.7" fill="none" stroke="#7a4040" stroke-width="1.8"/><path d="M84.7 98.4L84.2 99.1L82.5 99.8L79.9 100.6L76.6 101.3L72.9 102.1L69.2 102.9L65.9 103.7L63.3 104.5L61.6 105.2L61.1 105.8" fill="none" stroke="#7a4040" stroke-width="1.8"/><path d="M85.2 111.5L84.7 112.2L83 112.9L80.4 113.7L77.1 114.4L73.4 115.2L69.7 116L66.4 116.8L63.8 117.6L62.1 118.3L61.6 118.9" fill="none" stroke="#7a4040" stroke-width="1.8"/><path d="M59.9 53.4L60.5 54.1L62.1 54.7L64.6 55.2L67.8 55.8L71.2 56.3L74.7 56.8L77.9 57.4L80.3 57.9L82 58.5L82.5 59.2" fill="none" stroke="url(#h105)" stroke-width="6" stroke-linecap="round"/><path d="M60.4 66.5L61 67.2L62.6 67.8L65.1 68.3L68.2 68.9L71.7 69.4L75.2 69.9L78.3 70.5L80.8 71L82.4 71.6L83 72.3" fill="none" stroke="url(#h105)" stroke-width="6" stroke-linecap="round"/><path d="M60.9 79.6L61.5 80.3L63.1 80.9L65.6 81.4L68.7 82L72.2 82.5L75.7 83L78.8 83.6L81.3 84.1L82.9 84.7L83.5 85.4" fill="none" stroke="url(#h105)" stroke-width="6" stroke-linecap="round"/><path d="M61.4 92.7L61.9 93.4L63.5 94L66 94.5L69.2 95.1L72.7 95.6L76.1 96.1L79.3 96.7L81.8 97.2L83.4 97.8L84 98.5" fill="none" stroke="url(#h105)" stroke-width="6" stroke-linecap="round"/><path d="M61.8 105.8L62.4 106.5L64 107L66.5 107.6L69.7 108.2L73.1 108.7L76.6 109.2L79.8 109.8L82.3 110.3L83.9 110.9L84.5 111.5" fill="none" stroke="url(#h105)" stroke-width="6" stroke-linecap="round"/><path d="M62.3 118.9L62.9 119.6L64.5 120.1L67 120.7L70.1 121.3L73.6 121.8L77.1 122.3L80.2 122.9L82.7 123.4L84.4 124L84.9 124.6" fill="none" stroke="url(#h105)" stroke-width="6" stroke-linecap="round"/></g><path d="M82 142Q90 136 96 136.7L108 134.8" fill="none" stroke="#5a5ac8" stroke-width="2.6" stroke-linecap="round" stroke-linejoin="round"/><g stroke-linejoin="round"><path d="M102.5 158.3L102.4 159L101.7 160.3L100.3 162.2L98.5 164.4L96.5 166.9L94.5 169.3L92.7 171.5L91.3 173.4L90.6 174.7L90.5 175.5" fill="none" stroke="#a05050" stroke-width="2.1"/><path d="M109.5 166.5L109.4 167.3L108.7 168.6L107.3 170.5L105.5 172.7L103.5 175.1L101.5 177.6L99.7 179.8L98.3 181.7L97.6 183L97.5 183.7" fill="none" stroke="#a05050" stroke-width="2.1"/><path d="M84.4 166.4L85.1 166.5L86.4 166.1L88.3 165.3L90.5 164.1L93 162.7L95.4 161.4L97.7 160.2L99.6 159.3L100.9 158.9L101.6 159" fill="none" stroke="url(#h106)" stroke-width="6.9" stroke-linecap="round"/><path d="M91.4 174.7L92.1 174.8L93.4 174.4L95.3 173.6L97.5 172.4L100 171L102.5 169.6L104.7 168.4L106.6 167.6L107.9 167.2L108.6 167.3" fill="none" stroke="url(#h106)" stroke-width="6.9" stroke-linecap="round"/><path d="M98.4 183L99.1 183.1L100.4 182.7L102.3 181.8L104.6 180.6L107 179.3L109.5 177.9L111.7 176.7L113.6 175.9L114.9 175.5L115.6 175.6" fill="none" stroke="url(#h106)" stroke-width="6.9" stroke-linecap="round"/></g><g stroke-linejoin="round"><path d="M108.4 190.2L108.7 190.8L108.6 191.9L108.3 193.5L107.7 195.4L107 197.5L106.3 199.6L105.7 201.5L105.4 203.1L105.3 204.2L105.6 204.8" fill="none" stroke="#c08080" stroke-width="2.1"/><path d="M97.1 197.4L97.7 197.5L98.6 197.2L99.7 196.5L101 195.5L102.3 194.5L103.7 193.4L105 192.4L106.1 191.7L107 191.4L107.6 191.5" fill="none" stroke="url(#h107)" stroke-width="7.1" stroke-linecap="round"/><path d="M106.4 203.5L107 203.6L107.9 203.3L109 202.6L110.3 201.6L111.7 200.5L113 199.5L114.3 198.5L115.4 197.8L116.3 197.5L116.9 197.6" fill="none" stroke="url(#h107)" stroke-width="7.1" stroke-linecap="round"/></g><g stroke-linejoin="round"><path d="M109.8 167.5L110.4 167.6L111.7 168.5L113.4 169.9L115.6 171.8L117.9 173.9L120.2 176L122.4 177.9L124.1 179.3L125.4 180.2L126 180.3" fill="none" stroke="#3030a0" stroke-width="1.5"/><path d="M115.8 162.4L116.4 162.5L117.6 163.3L119.4 164.8L121.5 166.6L123.9 168.8L126.2 170.9L128.3 172.8L130.1 174.2L131.3 175L132 175.1" fill="none" stroke="#3030a0" stroke-width="1.5"/><path d="M121.7 157.2L122.4 157.3L123.6 158.2L125.4 159.6L127.5 161.5L129.8 163.6L132.2 165.7L134.3 167.6L136.1 169L137.3 169.9L137.9 170" fill="none" stroke="#3030a0" stroke-width="1.5"/><path d="M127.7 152.1L128.3 152.2L129.6 153L131.3 154.5L133.5 156.4L135.8 158.5L138.1 160.6L140.3 162.5L142 163.9L143.3 164.7L143.9 164.9" fill="none" stroke="#3030a0" stroke-width="1.5"/><path d="M119.6 184.9L119.6 184.3L119 183.1L117.9 181.2L116.5 178.9L114.9 176.5L113.3 174L111.9 171.7L110.8 169.9L110.2 168.6L110.2 168" fill="none" stroke="url(#h108)" stroke-width="5" stroke-linecap="round"/><path d="M125.6 179.8L125.6 179.2L125 177.9L123.9 176.1L122.5 173.8L120.9 171.3L119.3 168.8L117.8 166.6L116.8 164.7L116.2 163.5L116.2 162.9" fill="none" stroke="url(#h108)" stroke-width="5" stroke-linecap="round"/><path d="M131.5 174.7L131.5 174.1L131 172.8L129.9 170.9L128.5 168.7L126.8 166.2L125.2 163.7L123.8 161.4L122.7 159.6L122.2 158.3L122.1 157.7" fill="none" stroke="url(#h108)" stroke-width="5" stroke-linecap="round"/><path d="M137.5 169.5L137.5 168.9L136.9 167.6L135.9 165.8L134.4 163.5L132.8 161L131.2 158.6L129.8 156.3L128.7 154.5L128.1 153.2L128.1 152.6" fill="none" stroke="url(#h108)" stroke-width="5" stroke-linecap="round"/><path d="M143.5 164.4L143.5 163.8L142.9 162.5L141.8 160.6L140.4 158.4L138.8 155.9L137.2 153.4L135.7 151.2L134.7 149.3L134.1 148L134.1 147.4" fill="none" stroke="url(#h108)" stroke-width="5" stroke-linecap="round"/></g><path d="M140 154Q146 145 150 136" fill="none" stroke="#5a5ac8" stroke-width="2.4" stroke-linecap="round" stroke-linejoin="round"/><g stroke-linejoin="round"><path d="M115.8 120.3L116.4 120.8L116.9 122.2L117.5 124.3L118 127L118.5 130L119.1 133L119.6 135.7L120.1 137.8L120.7 139.2L121.2 139.7" fill="none" stroke="#3030a0" stroke-width="2.1"/><path d="M126.6 120.3L127.2 120.8L127.7 122.2L128.2 124.3L128.8 127L129.3 130L129.9 133L130.4 135.7L130.9 137.8L131.5 139.2L132 139.7" fill="none" stroke="#3030a0" stroke-width="2.1"/><path d="M110.4 138.4L111 138L111.5 136.8L112.1 135L112.6 132.6L113.1 130L113.7 127.4L114.2 125L114.8 123.2L115.3 122L115.8 121.6" fill="none" stroke="url(#h109)" stroke-width="6.9" stroke-linecap="round"/><path d="M121.2 138.4L121.8 138L122.3 136.8L122.8 135L123.4 132.6L123.9 130L124.5 127.4L125 125L125.5 123.2L126.1 122L126.6 121.6" fill="none" stroke="url(#h109)" stroke-width="6.9" stroke-linecap="round"/><path d="M132 138.4L132.5 138L133.1 136.8L133.6 135L134.2 132.6L134.7 130L135.2 127.4L135.8 125L136.3 123.2L136.9 122L137.4 121.6" fill="none" stroke="url(#h109)" stroke-width="6.9" stroke-linecap="round"/></g><path d="M142 136Q147 124 155 118" fill="none" stroke="#5a5ac8" stroke-width="2.4" stroke-linecap="round" stroke-linejoin="round"/><g stroke-linejoin="round"><path d="M170.8 111.9L170.4 112.5L169 113.1L166.9 113.8L164.2 114.4L161.2 115.1L158.2 115.7L155.5 116.4L153.4 117L152.1 117.7L151.6 118.3" fill="none" stroke="#2525a0" stroke-width="2.3"/><path d="M171 124.1L170.5 124.7L169.2 125.3L167.1 126L164.4 126.6L161.4 127.3L158.4 127.9L155.7 128.6L153.6 129.2L152.2 129.9L151.8 130.5" fill="none" stroke="#2525a0" stroke-width="2.3"/><path d="M171.2 136.3L170.7 136.9L169.4 137.5L167.2 138.2L164.6 138.8L161.6 139.5L158.6 140.2L155.9 140.8L153.8 141.5L152.4 142.1L152 142.7" fill="none" stroke="#2525a0" stroke-width="2.3"/><path d="M171.4 148.5L170.9 149.1L169.6 149.8L167.4 150.4L164.8 151.1L161.8 151.7L158.8 152.4L156.1 153L154 153.7L152.6 154.3L152.2 154.9" fill="none" stroke="#2525a0" stroke-width="2.3"/><path d="M152.9 106L153.3 106.6L154.5 107.2L156.3 107.8L158.6 108.4L161.1 109L163.6 109.5L165.9 110.1L167.7 110.7L168.9 111.3L169.3 111.9" fill="none" stroke="url(#h110)" stroke-width="7.8" stroke-linecap="round"/><path d="M153.1 118.2L153.5 118.9L154.7 119.4L156.5 120L158.8 120.6L161.3 121.2L163.8 121.7L166.1 122.3L167.9 122.9L169.1 123.5L169.5 124.1" fill="none" stroke="url(#h110)" stroke-width="7.8" stroke-linecap="round"/><path d="M153.3 130.5L153.7 131.1L154.9 131.7L156.7 132.2L159 132.8L161.5 133.4L164 134L166.3 134.5L168.1 135.1L169.3 135.7L169.7 136.3" fill="none" stroke="url(#h110)" stroke-width="7.8" stroke-linecap="round"/><path d="M153.5 142.7L153.9 143.3L155.1 143.9L156.9 144.5L159.2 145L161.7 145.6L164.2 146.2L166.5 146.7L168.3 147.3L169.5 147.9L169.9 148.5" fill="none" stroke="url(#h110)" stroke-width="7.8" stroke-linecap="round"/><path d="M153.7 154.9L154.1 155.5L155.2 156.1L157.1 156.7L159.3 157.2L161.9 157.8L164.4 158.4L166.7 159L168.5 159.5L169.7 160.1L170.1 160.7" fill="none" stroke="url(#h110)" stroke-width="7.8" stroke-linecap="round"/></g></g><g transform="translate(616.6 1002.8)"><path d="M22 14.7Q20.5 20 21.4 23.7Q30 26 29.9 28.6Q27 34 25 37.7L23.8 43.7" fill="none" stroke="#c8a0a8" stroke-width="2.4" stroke-linecap="round" stroke-linejoin="round"/><ellipse cx="19" cy="56" rx="4.5" ry="8.8" fill="none" stroke="#c8a0a8" stroke-width="2.6" transform="rotate(25 19 56)"/><path d="M26.9 11Q24.5 14 25.7 14.7Q30 18 31.7 17.1Q38 15 43.8 14.7L53.5 14.7" fill="none" stroke="#c87272" stroke-width="2.6" stroke-linecap="round" stroke-linejoin="round"/><path d="M42 14Q48 10 55 12Q50 21 43.5 22Z" fill="#b85a5a"/><path d="M43.5 21Q50 23 58 17" fill="none" stroke="#c87272" stroke-width="2.0" stroke-linecap="round" stroke-linejoin="round"/><path d="M54.1 3.2Q59 0.5 64.4 1.9L63.8 11.6L62 20.7Q63 26 69.8 31.6" fill="none" stroke="#c06a6a" stroke-width="2.8" stroke-linecap="round" stroke-linejoin="round"/><path d="M69.8 31.6L89.8 31Q84 38 81.3 42.5L79.5 49.2" fill="none" stroke="#c87272" stroke-width="2.4" stroke-linecap="round" stroke-linejoin="round"/><path d="M63 30L75 46L73 30Z" fill="#b85a5a"/><path d="M25.7 42.5Q31 48 37.8 50.4Q44 50 49.9 49.2L68 46.1Q78 46 86.2 49.8" fill="none" stroke="#c87272" stroke-width="3.2" stroke-linecap="round" stroke-linejoin="round"/><path d="M30 50Q34 52 38 50Q52 44 65.6 35.2" fill="none" stroke="#7a2a2a" stroke-width="5.0" stroke-linecap="round" stroke-linejoin="round"/><path d="M10 120Q28 108 60 108L78 134L88 152L84 188L66 200L46 197L26 182L8 168Z" fill="#9c9ce3" opacity="0.4"/><path d="M34 100Q28 110 33 120Q34 126 30 130" fill="none" stroke="#7a4040" stroke-width="2.6" stroke-linecap="round" stroke-linejoin="round"/><g stroke-linejoin="round"><path d="M48.9 62.4L48.3 63L46.6 63.4L44 63.8L40.8 64.1L37.2 64.3L33.6 64.6L30.3 64.8L27.7 65.2L26 65.6L25.4 66.2" fill="none" stroke="#7a4040" stroke-width="1.7"/><path d="M47.6 75L47 75.5L45.3 76L42.7 76.3L39.4 76.6L35.8 76.9L32.2 77.1L29 77.4L26.4 77.8L24.7 78.2L24 78.8" fill="none" stroke="#7a4040" stroke-width="1.7"/><path d="M46.2 87.5L45.6 88.1L43.9 88.5L41.3 88.9L38.1 89.2L34.5 89.4L30.9 89.7L27.6 90L25 90.3L23.3 90.8L22.7 91.3" fill="none" stroke="#7a4040" stroke-width="1.7"/><path d="M27.5 53.7L27.9 54.4L29.4 55.2L31.7 56.1L34.6 57L37.8 58L41.1 59L44 60L46.3 60.8L47.7 61.6L48.2 62.3" fill="none" stroke="url(#h111)" stroke-width="5.8" stroke-linecap="round"/><path d="M26.1 66.3L26.6 67L28 67.8L30.3 68.7L33.3 69.6L36.5 70.6L39.7 71.6L42.6 72.5L44.9 73.4L46.4 74.2L46.9 74.9" fill="none" stroke="url(#h111)" stroke-width="5.8" stroke-linecap="round"/><path d="M24.8 78.9L25.2 79.5L26.7 80.3L29 81.2L31.9 82.2L35.1 83.2L38.4 84.1L41.3 85.1L43.6 86L45 86.8L45.5 87.4" fill="none" stroke="url(#h111)" stroke-width="5.8" stroke-linecap="round"/><path d="M23.4 91.4L23.9 92.1L25.3 92.9L27.6 93.8L30.5 94.7L33.8 95.7L37 96.7L39.9 97.6L42.2 98.5L43.7 99.3L44.1 100" fill="none" stroke="url(#h111)" stroke-width="5.8" stroke-linecap="round"/></g><path d="M45.6 107.7Q55.3 96 65 107.7" fill="none" stroke="#5a5ad0" stroke-width="2.6" stroke-linecap="round" stroke-linejoin="round"/><path d="M38 122Q48 102 58 114" fill="none" stroke="#5a5ad0" stroke-width="2.4" stroke-linecap="round" stroke-linejoin="round"/><g stroke-linejoin="round"><path d="M63.6 136.3L63.2 136.9L61.9 137.5L59.9 138.2L57.4 138.9L54.6 139.6L51.8 140.3L49.2 141L47.2 141.6L46 142.3L45.5 142.8" fill="none" stroke="#3030a0" stroke-width="1.9"/><path d="M64.2 147.5L63.8 148.1L62.5 148.8L60.5 149.4L58 150.1L55.1 150.8L52.3 151.5L49.8 152.2L47.8 152.9L46.5 153.5L46.1 154.1" fill="none" stroke="#3030a0" stroke-width="1.9"/><path d="M46.1 131.6L46.5 132.1L47.7 132.6L49.5 133.1L51.8 133.5L54.3 134L56.8 134.4L59.1 134.8L60.9 135.3L62.1 135.8L62.5 136.4" fill="none" stroke="url(#h112)" stroke-width="6.3" stroke-linecap="round"/><path d="M46.6 142.8L47 143.3L48.2 143.8L50 144.3L52.3 144.8L54.9 145.2L57.4 145.6L59.7 146.1L61.5 146.5L62.7 147.1L63.1 147.6" fill="none" stroke="url(#h112)" stroke-width="6.3" stroke-linecap="round"/><path d="M47.2 154L47.6 154.6L48.8 155.1L50.6 155.5L52.9 156L55.4 156.4L58 156.9L60.2 157.3L62.1 157.8L63.2 158.3L63.7 158.8" fill="none" stroke="url(#h112)" stroke-width="6.3" stroke-linecap="round"/></g><g stroke-linejoin="round"><path d="M52.8 112.4L53.2 112.9L53.4 114.1L53.4 116L53.3 118.2L53 120.7L52.8 123.1L52.7 125.4L52.6 127.2L52.8 128.4L53.2 129" fill="none" stroke="#4040a0" stroke-width="1.9"/><path d="M42.9 124.3L43.5 124.1L44.4 123.4L45.4 122.2L46.5 120.6L47.7 118.9L48.9 117.1L50 115.6L51 114.4L51.8 113.6L52.4 113.5" fill="none" stroke="url(#h113)" stroke-width="6.3" stroke-linecap="round"/><path d="M53.6 127.8L54.3 127.7L55.1 127L56.1 125.8L57.2 124.2L58.4 122.5L59.6 120.7L60.7 119.1L61.7 117.9L62.5 117.2L63.2 117.1" fill="none" stroke="url(#h113)" stroke-width="6.3" stroke-linecap="round"/></g><g stroke-linejoin="round"><path d="M25 121.5L24.4 122.2L22.7 123L20.1 123.8L16.8 124.7L13.1 125.5L9.5 126.4L6.1 127.2L3.5 128L1.8 128.8L1.3 129.6" fill="none" stroke="#8a7070" stroke-width="2.7"/><path d="M25.4 136.3L24.8 137L23.2 137.8L20.5 138.6L17.2 139.5L13.5 140.3L9.9 141.1L6.6 142L3.9 142.8L2.3 143.6L1.7 144.3" fill="none" stroke="#8a7070" stroke-width="2.7"/><path d="M25.8 151.1L25.2 151.8L23.6 152.6L20.9 153.4L17.6 154.2L14 155.1L10.3 155.9L7 156.8L4.3 157.6L2.7 158.4L2.1 159.1" fill="none" stroke="#8a7070" stroke-width="2.7"/><path d="M2.5 114.7L3 115.4L4.5 116.1L6.8 116.8L9.7 117.5L12.9 118.1L16.1 118.8L19 119.4L21.3 120.1L22.8 120.8L23.4 121.5" fill="none" stroke="url(#h114)" stroke-width="8.9" stroke-linecap="round"/><path d="M2.9 129.5L3.4 130.2L4.9 130.9L7.2 131.6L10.1 132.3L13.3 132.9L16.6 133.6L19.5 134.2L21.8 134.9L23.3 135.6L23.8 136.3" fill="none" stroke="url(#h114)" stroke-width="8.9" stroke-linecap="round"/><path d="M3.3 144.3L3.8 145L5.3 145.7L7.6 146.4L10.5 147L13.8 147.7L17 148.3L19.9 149L22.2 149.7L23.7 150.4L24.2 151.1" fill="none" stroke="url(#h114)" stroke-width="8.9" stroke-linecap="round"/><path d="M3.7 159.1L4.3 159.8L5.7 160.5L8.1 161.2L11 161.8L14.2 162.5L17.4 163.1L20.3 163.8L22.6 164.5L24.1 165.2L24.6 165.9" fill="none" stroke="url(#h114)" stroke-width="8.9" stroke-linecap="round"/></g><path d="M6.9 113.5Q18.5 106 26.3 123.2L22.4 131" fill="none" stroke="#5a5ad0" stroke-width="2.6" stroke-linecap="round" stroke-linejoin="round"/><path d="M2 114L7 112L8 117Z" fill="#303040" stroke="#303040" stroke-width="2"/><path d="M16.6 173.5Q30 178 30.1 181Q28 186 23 187" fill="none" stroke="#5a5ad0" stroke-width="2.6" stroke-linecap="round" stroke-linejoin="round"/><circle cx="53" cy="203" r="10.5" fill="#e8e8ee" stroke="#909090" stroke-width="1.2"/><path d="M44 203Q44 193 53 192.5" fill="none" stroke="#909090" stroke-width="3"/><ellipse cx="55" cy="205" rx="6" ry="5" fill="#ffffff"/><circle cx="52" cy="212" r="2.8" fill="#2020a0"/><g stroke-linejoin="round"><path d="M48.7 163.7L48.6 164.3L48 165.3L46.9 166.6L45.3 168.1L43.7 169.7L42 171.3L40.5 172.8L39.3 174.1L38.7 175.1L38.6 175.7" fill="none" stroke="#3030a0" stroke-width="1.9"/><path d="M34.4 165.8L34.9 166.1L35.9 166.2L37.3 166L39.1 165.6L41 165.1L42.9 164.6L44.6 164.2L46 164L47 164L47.6 164.3" fill="none" stroke="url(#h115)" stroke-width="6.4" stroke-linecap="round"/><path d="M39.8 175.1L40.3 175.4L41.3 175.4L42.7 175.2L44.5 174.8L46.3 174.3L48.2 173.8L50 173.4L51.4 173.2L52.4 173.2L52.9 173.6" fill="none" stroke="url(#h115)" stroke-width="6.4" stroke-linecap="round"/></g><path d="M28.8 125.6L54.4 189L59.6 187L37.2 122.4Z" fill="#dc9090" stroke="#bb7a7a" stroke-width="0.6" stroke-linejoin="round"/><path d="M32.6 124.2L56.7 188.1" stroke="#e5acac" stroke-width="2" stroke-linecap="round" opacity="0.35"/><path d="M15 133.9L55.9 198.8L62.1 195.2L25 128.1Z" fill="#c82a2a" stroke="#aa2424" stroke-width="0.6" stroke-linejoin="round"/><path d="M19.5 131.3L58.7 197.2" stroke="#d65f5f" stroke-width="2.5" stroke-linecap="round" opacity="0.35"/><path d="M56.5 127.5L65.2 184.3L70.8 183.7L65.5 126.5Z" fill="#5a5ae0" stroke="#4c4cbe" stroke-width="0.6" stroke-linejoin="round"/><path d="M60.6 127.1L67.7 184" stroke="#8383e8" stroke-width="2" stroke-linecap="round" opacity="0.35"/><path d="M73.5 137L78.8 185.2L83.2 184.8L80.5 136.4Z" fill="#5050d8" stroke="#4444b8" stroke-width="0.6" stroke-linejoin="round"/><path d="M76.7 136.7L80.8 185" stroke="#7c7ce2" stroke-width="1.5" stroke-linecap="round" opacity="0.35"/><path d="M40 152Q60 146 78 140" fill="none" stroke="#5a5ad0" stroke-width="2.4" stroke-linecap="round" stroke-linejoin="round"/><path d="M52 184Q64 192 80 187Q88 196 98 194L112 197" fill="none" stroke="#5a5ad0" stroke-width="2.8" stroke-linecap="round" stroke-linejoin="round"/><g stroke-linejoin="round"><path d="M83.3 59.1L82.7 59.8L81.1 60.5L78.4 61.3L75.1 62L71.5 62.8L67.8 63.6L64.5 64.4L61.9 65.2L60.2 65.9L59.6 66.5" fill="none" stroke="#7a4040" stroke-width="1.8"/><path d="M83.8 72.2L83.2 72.9L81.5 73.6L78.9 74.4L75.6 75.1L71.9 75.9L68.3 76.7L65 77.5L62.4 78.3L60.7 79L60.1 79.6" fill="none" stroke="#7a4040" stroke-width="1.8"/><path d="M84.3 85.3L83.7 86L82 86.7L79.4 87.5L76.1 88.2L72.4 89L68.8 89.8L65.5 90.6L62.8 91.4L61.2 92.1L60.6 92.7" fill="none" stroke="#7a4040" stroke-width="1.8"/><path d="M84.7 98.4L84.2 99.1L82.5 99.8L79.9 100.6L76.6 101.3L72.9 102.1L69.2 102.9L65.9 103.7L63.3 104.5L61.6 105.2L61.1 105.8" fill="none" stroke="#7a4040" stroke-width="1.8"/><path d="M85.2 111.5L84.7 112.2L83 112.9L80.4 113.7L77.1 114.4L73.4 115.2L69.7 116L66.4 116.8L63.8 117.6L62.1 118.3L61.6 118.9" fill="none" stroke="#7a4040" stroke-width="1.8"/><path d="M59.9 53.4L60.5 54.1L62.1 54.7L64.6 55.2L67.8 55.8L71.2 56.3L74.7 56.8L77.9 57.4L80.3 57.9L82 58.5L82.5 59.2" fill="none" stroke="url(#h116)" stroke-width="6" stroke-linecap="round"/><path d="M60.4 66.5L61 67.2L62.6 67.8L65.1 68.3L68.2 68.9L71.7 69.4L75.2 69.9L78.3 70.5L80.8 71L82.4 71.6L83 72.3" fill="none" stroke="url(#h116)" stroke-width="6" stroke-linecap="round"/><path d="M60.9 79.6L61.5 80.3L63.1 80.9L65.6 81.4L68.7 82L72.2 82.5L75.7 83L78.8 83.6L81.3 84.1L82.9 84.7L83.5 85.4" fill="none" stroke="url(#h116)" stroke-width="6" stroke-linecap="round"/><path d="M61.4 92.7L61.9 93.4L63.5 94L66 94.5L69.2 95.1L72.7 95.6L76.1 96.1L79.3 96.7L81.8 97.2L83.4 97.8L84 98.5" fill="none" stroke="url(#h116)" stroke-width="6" stroke-linecap="round"/><path d="M61.8 105.8L62.4 106.5L64 107L66.5 107.6L69.7 108.2L73.1 108.7L76.6 109.2L79.8 109.8L82.3 110.3L83.9 110.9L84.5 111.5" fill="none" stroke="url(#h116)" stroke-width="6" stroke-linecap="round"/><path d="M62.3 118.9L62.9 119.6L64.5 120.1L67 120.7L70.1 121.3L73.6 121.8L77.1 122.3L80.2 122.9L82.7 123.4L84.4 124L84.9 124.6" fill="none" stroke="url(#h116)" stroke-width="6" stroke-linecap="round"/></g><path d="M82 142Q90 136 96 136.7L108 134.8" fill="none" stroke="#5a5ac8" stroke-width="2.6" stroke-linecap="round" stroke-linejoin="round"/><g stroke-linejoin="round"><path d="M102.5 158.3L102.4 159L101.7 160.3L100.3 162.2L98.5 164.4L96.5 166.9L94.5 169.3L92.7 171.5L91.3 173.4L90.6 174.7L90.5 175.5" fill="none" stroke="#8080a0" stroke-width="2.1"/><path d="M109.5 166.5L109.4 167.3L108.7 168.6L107.3 170.5L105.5 172.7L103.5 175.1L101.5 177.6L99.7 179.8L98.3 181.7L97.6 183L97.5 183.7" fill="none" stroke="#8080a0" stroke-width="2.1"/><path d="M84.4 166.4L85.1 166.5L86.4 166.1L88.3 165.3L90.5 164.1L93 162.7L95.4 161.4L97.7 160.2L99.6 159.3L100.9 158.9L101.6 159" fill="none" stroke="url(#h117)" stroke-width="6.9" stroke-linecap="round"/><path d="M91.4 174.7L92.1 174.8L93.4 174.4L95.3 173.6L97.5 172.4L100 171L102.5 169.6L104.7 168.4L106.6 167.6L107.9 167.2L108.6 167.3" fill="none" stroke="url(#h117)" stroke-width="6.9" stroke-linecap="round"/><path d="M98.4 183L99.1 183.1L100.4 182.7L102.3 181.8L104.6 180.6L107 179.3L109.5 177.9L111.7 176.7L113.6 175.9L114.9 175.5L115.6 175.6" fill="none" stroke="url(#h117)" stroke-width="6.9" stroke-linecap="round"/></g><g stroke-linejoin="round"><path d="M108.4 190.2L108.7 190.8L108.6 191.9L108.3 193.5L107.7 195.4L107 197.5L106.3 199.6L105.7 201.5L105.4 203.1L105.3 204.2L105.6 204.8" fill="none" stroke="#3a3aa0" stroke-width="2.1"/><path d="M97.1 197.4L97.7 197.5L98.6 197.2L99.7 196.5L101 195.5L102.3 194.5L103.7 193.4L105 192.4L106.1 191.7L107 191.4L107.6 191.5" fill="none" stroke="url(#h118)" stroke-width="7.1" stroke-linecap="round"/><path d="M106.4 203.5L107 203.6L107.9 203.3L109 202.6L110.3 201.6L111.7 200.5L113 199.5L114.3 198.5L115.4 197.8L116.3 197.5L116.9 197.6" fill="none" stroke="url(#h118)" stroke-width="7.1" stroke-linecap="round"/></g><g stroke-linejoin="round"><path d="M109.8 167.5L110.4 167.6L111.7 168.5L113.4 169.9L115.6 171.8L117.9 173.9L120.2 176L122.4 177.9L124.1 179.3L125.4 180.2L126 180.3" fill="none" stroke="#3030a0" stroke-width="1.5"/><path d="M115.8 162.4L116.4 162.5L117.6 163.3L119.4 164.8L121.5 166.6L123.9 168.8L126.2 170.9L128.3 172.8L130.1 174.2L131.3 175L132 175.1" fill="none" stroke="#3030a0" stroke-width="1.5"/><path d="M121.7 157.2L122.4 157.3L123.6 158.2L125.4 159.6L127.5 161.5L129.8 163.6L132.2 165.7L134.3 167.6L136.1 169L137.3 169.9L137.9 170" fill="none" stroke="#3030a0" stroke-width="1.5"/><path d="M127.7 152.1L128.3 152.2L129.6 153L131.3 154.5L133.5 156.4L135.8 158.5L138.1 160.6L140.3 162.5L142 163.9L143.3 164.7L143.9 164.9" fill="none" stroke="#3030a0" stroke-width="1.5"/><path d="M119.6 184.9L119.6 184.3L119 183.1L117.9 181.2L116.5 178.9L114.9 176.5L113.3 174L111.9 171.7L110.8 169.9L110.2 168.6L110.2 168" fill="none" stroke="url(#h119)" stroke-width="5" stroke-linecap="round"/><path d="M125.6 179.8L125.6 179.2L125 177.9L123.9 176.1L122.5 173.8L120.9 171.3L119.3 168.8L117.8 166.6L116.8 164.7L116.2 163.5L116.2 162.9" fill="none" stroke="url(#h119)" stroke-width="5" stroke-linecap="round"/><path d="M131.5 174.7L131.5 174.1L131 172.8L129.9 170.9L128.5 168.7L126.8 166.2L125.2 163.7L123.8 161.4L122.7 159.6L122.2 158.3L122.1 157.7" fill="none" stroke="url(#h119)" stroke-width="5" stroke-linecap="round"/><path d="M137.5 169.5L137.5 168.9L136.9 167.6L135.9 165.8L134.4 163.5L132.8 161L131.2 158.6L129.8 156.3L128.7 154.5L128.1 153.2L128.1 152.6" fill="none" stroke="url(#h119)" stroke-width="5" stroke-linecap="round"/><path d="M143.5 164.4L143.5 163.8L142.9 162.5L141.8 160.6L140.4 158.4L138.8 155.9L137.2 153.4L135.7 151.2L134.7 149.3L134.1 148L134.1 147.4" fill="none" stroke="url(#h119)" stroke-width="5" stroke-linecap="round"/></g><path d="M140 154Q146 145 150 136" fill="none" stroke="#5a5ac8" stroke-width="2.4" stroke-linecap="round" stroke-linejoin="round"/><g stroke-linejoin="round"><path d="M115.8 120.3L116.4 120.8L116.9 122.2L117.5 124.3L118 127L118.5 130L119.1 133L119.6 135.7L120.1 137.8L120.7 139.2L121.2 139.7" fill="none" stroke="#3030a0" stroke-width="2.1"/><path d="M126.6 120.3L127.2 120.8L127.7 122.2L128.2 124.3L128.8 127L129.3 130L129.9 133L130.4 135.7L130.9 137.8L131.5 139.2L132 139.7" fill="none" stroke="#3030a0" stroke-width="2.1"/><path d="M110.4 138.4L111 138L111.5 136.8L112.1 135L112.6 132.6L113.1 130L113.7 127.4L114.2 125L114.8 123.2L115.3 122L115.8 121.6" fill="none" stroke="url(#h120)" stroke-width="6.9" stroke-linecap="round"/><path d="M121.2 138.4L121.8 138L122.3 136.8L122.8 135L123.4 132.6L123.9 130L124.5 127.4L125 125L125.5 123.2L126.1 122L126.6 121.6" fill="none" stroke="url(#h120)" stroke-width="6.9" stroke-linecap="round"/><path d="M132 138.4L132.5 138L133.1 136.8L133.6 135L134.2 132.6L134.7 130L135.2 127.4L135.8 125L136.3 123.2L136.9 122L137.4 121.6" fill="none" stroke="url(#h120)" stroke-width="6.9" stroke-linecap="round"/></g><path d="M142 136Q147 124 155 118" fill="none" stroke="#5a5ac8" stroke-width="2.4" stroke-linecap="round" stroke-linejoin="round"/><g stroke-linejoin="round"><path d="M170.8 111.9L170.4 112.5L169 113.1L166.9 113.8L164.2 114.4L161.2 115.1L158.2 115.7L155.5 116.4L153.4 117L152.1 117.7L151.6 118.3" fill="none" stroke="#2525a0" stroke-width="2.3"/><path d="M171 124.1L170.5 124.7L169.2 125.3L167.1 126L164.4 126.6L161.4 127.3L158.4 127.9L155.7 128.6L153.6 129.2L152.2 129.9L151.8 130.5" fill="none" stroke="#2525a0" stroke-width="2.3"/><path d="M171.2 136.3L170.7 136.9L169.4 137.5L167.2 138.2L164.6 138.8L161.6 139.5L158.6 140.2L155.9 140.8L153.8 141.5L152.4 142.1L152 142.7" fill="none" stroke="#2525a0" stroke-width="2.3"/><path d="M171.4 148.5L170.9 149.1L169.6 149.8L167.4 150.4L164.8 151.1L161.8 151.7L158.8 152.4L156.1 153L154 153.7L152.6 154.3L152.2 154.9" fill="none" stroke="#2525a0" stroke-width="2.3"/><path d="M152.9 106L153.3 106.6L154.5 107.2L156.3 107.8L158.6 108.4L161.1 109L163.6 109.5L165.9 110.1L167.7 110.7L168.9 111.3L169.3 111.9" fill="none" stroke="url(#h121)" stroke-width="7.8" stroke-linecap="round"/><path d="M153.1 118.2L153.5 118.9L154.7 119.4L156.5 120L158.8 120.6L161.3 121.2L163.8 121.7L166.1 122.3L167.9 122.9L169.1 123.5L169.5 124.1" fill="none" stroke="url(#h121)" stroke-width="7.8" stroke-linecap="round"/><path d="M153.3 130.5L153.7 131.1L154.9 131.7L156.7 132.2L159 132.8L161.5 133.4L164 134L166.3 134.5L168.1 135.1L169.3 135.7L169.7 136.3" fill="none" stroke="url(#h121)" stroke-width="7.8" stroke-linecap="round"/><path d="M153.5 142.7L153.9 143.3L155.1 143.9L156.9 144.5L159.2 145L161.7 145.6L164.2 146.2L166.5 146.7L168.3 147.3L169.5 147.9L169.9 148.5" fill="none" stroke="url(#h121)" stroke-width="7.8" stroke-linecap="round"/><path d="M153.7 154.9L154.1 155.5L155.2 156.1L157.1 156.7L159.3 157.2L161.9 157.8L164.4 158.4L166.7 159L168.5 159.5L169.7 160.1L170.1 160.7" fill="none" stroke="url(#h121)" stroke-width="7.8" stroke-linecap="round"/></g></g><path d="M83.3 490V12.8L623.6 15.3V470" stroke="#D99694" stroke-width="5.4" fill="none"/><path d="M623.6 400L623.6 482.7" stroke="#D99694" stroke-width="5.4" fill="none"/><path d="M615.1 467.9L623.6 482.7L632.1 467.9" stroke="#D99694" stroke-width="5.8" fill="none" stroke-linejoin="miter" stroke-miterlimit="8" stroke-linecap="round"/><path d="M84.2 487.8L263.6 170.6" stroke="#FFFF00" stroke-width="3" fill="none"/><path d="M263.7 186.9L263.6 170.6L249.5 178.9" stroke="#FFFF00" stroke-width="3.2" fill="none" stroke-linejoin="miter" stroke-miterlimit="8" stroke-linecap="round"/><path d="M467.6 180.3L585.6 485.5" stroke="#FFFF00" stroke-width="3" fill="none"/><path d="M574.7 476.7L585.6 485.5L587.8 471.6" stroke="#FFFF00" stroke-width="3.2" fill="none" stroke-linejoin="miter" stroke-miterlimit="8" stroke-linecap="round"/><path d="M149 501.5L259.7 452.5" stroke="#808080" stroke-width="4" fill="none"/><path d="M249.1 466.9L259.7 452.5L241.8 450.5" stroke="#808080" stroke-width="4.3" fill="none" stroke-linejoin="miter" stroke-miterlimit="8" stroke-linecap="round"/><path d="M360.5 273.7L360.5 227.6" stroke="#808080" stroke-width="4.7" fill="none"/><path d="M367.4 239.5L360.5 227.6L353.6 239.5" stroke="#808080" stroke-width="5.1" fill="none" stroke-linejoin="miter" stroke-miterlimit="8" stroke-linecap="round"/><path d="M469 181.8L611.2 484.6" stroke="#808080" stroke-width="4" fill="none"/><path d="M598.4 475.7L611.2 484.6L612.5 469" stroke="#808080" stroke-width="4.3" fill="none" stroke-linejoin="miter" stroke-miterlimit="8" stroke-linecap="round"/><path d="M145.6 499L258.4 368.7" stroke="#000000" stroke-width="8.5" fill="none"/><path d="M251.8 403L258.4 368.7L225.4 380.2" stroke="#000000" stroke-width="9.2" fill="none" stroke-linejoin="miter" stroke-miterlimit="8" stroke-linecap="round"/><path d="M457.4 373.7L553.3 482" stroke="#000000" stroke-width="8" fill="none"/><path d="M522.6 471.8L553.3 482L546.8 450.3" stroke="#000000" stroke-width="8.6" fill="none" stroke-linejoin="miter" stroke-miterlimit="8" stroke-linecap="round"/><path d="M148.9 503L258.1 417" stroke="#00B050" stroke-width="6.5" fill="none"/><path d="M246.3 446.5L258.1 417L226.7 421.6" stroke="#00B050" stroke-width="7" fill="none" stroke-linejoin="miter" stroke-miterlimit="8" stroke-linecap="round"/><path d="M360.8 470.3L360.8 507.3" stroke="#00B050" stroke-width="9.8" fill="none"/><path d="M347.4 484.2L360.8 507.3L374.2 484.2" stroke="#00B050" stroke-width="10.6" fill="none" stroke-linejoin="miter" stroke-miterlimit="8" stroke-linecap="round"/><path d="M461.1 606L527.5 606" stroke="#00B050" stroke-width="9.8" fill="none"/><path d="M506.4 618.2L527.5 606L506.4 593.8" stroke="#00B050" stroke-width="10.6" fill="none" stroke-linejoin="miter" stroke-miterlimit="8" stroke-linecap="round"/><path d="M149.5 719.5L271.5 820.2" stroke="#0070C0" stroke-width="6" fill="none"/><path d="M245 815.7L271.5 820.2L262.1 795" stroke="#0070C0" stroke-width="6.5" fill="none" stroke-linejoin="miter" stroke-miterlimit="8" stroke-linecap="round"/><path d="M358.8 763L358.8 721" stroke="#0070C0" stroke-width="7.8" fill="none"/><path d="M370.4 741L358.8 721L347.2 741" stroke="#0070C0" stroke-width="8.4" fill="none" stroke-linejoin="miter" stroke-miterlimit="8" stroke-linecap="round"/><path d="M461 644.2L529.1 644.2" stroke="#0070C0" stroke-width="8" fill="none"/><path d="M510 655.2L529.1 644.2L510 633.2" stroke="#0070C0" stroke-width="8.6" fill="none" stroke-linejoin="miter" stroke-miterlimit="8" stroke-linecap="round"/><path d="M149.5 719.5L268.8 782" stroke="#C00000" stroke-width="8" fill="none"/><path d="M235.3 783.4L268.8 782L250.9 753.7" stroke="#C00000" stroke-width="8.6" fill="none" stroke-linejoin="miter" stroke-miterlimit="8" stroke-linecap="round"/><path d="M459.2 787.8L565.7 741.3" stroke="#C00000" stroke-width="10" fill="none"/><path d="M547.3 766.2L565.7 741.3L534.9 737.9" stroke="#C00000" stroke-width="10.8" fill="none" stroke-linejoin="miter" stroke-miterlimit="8" stroke-linecap="round"/><path d="M149.5 719.5L277.4 862" stroke="#E36C09" stroke-width="5" fill="none"/><path d="M255 854.7L277.4 862L272.5 838.9" stroke="#E36C09" stroke-width="5.4" fill="none" stroke-linejoin="miter" stroke-miterlimit="8" stroke-linecap="round"/><path d="M373.3 956L373.3 1001" stroke="#E36C09" stroke-width="6.3" fill="none"/><path d="M361.9 981.2L373.3 1001L384.7 981.2" stroke="#E36C09" stroke-width="6.8" fill="none" stroke-linejoin="miter" stroke-miterlimit="8" stroke-linecap="round"/><path d="M472.3 1148.6L593.6 1148.6" stroke="#E36C09" stroke-width="6.5" fill="none"/><path d="M575.8 1158.9L593.6 1148.6L575.8 1138.3" stroke="#E36C09" stroke-width="7" fill="none" stroke-linejoin="miter" stroke-miterlimit="8" stroke-linecap="round"/><path d="M701.8 999.9L904.1 740.4" stroke="#E36C09" stroke-width="5.5" fill="none"/><path d="M901.3 761.1L904.1 740.4L884.8 748.2" stroke="#E36C09" stroke-width="5.9" fill="none" stroke-linejoin="miter" stroke-miterlimit="8" stroke-linecap="round"/><path d="M149.5 719.5L273.7 897.6" stroke="#00B0F0" stroke-width="4.5" fill="none"/><path d="M256.2 889.4L273.7 897.6L272.1 878.4" stroke="#00B0F0" stroke-width="4.9" fill="none" stroke-linejoin="miter" stroke-miterlimit="8" stroke-linecap="round"/><path d="M350.6 956L350.6 997.6" stroke="#00B0F0" stroke-width="5" fill="none"/><path d="M340.8 980.7L350.6 997.6L360.4 980.7" stroke="#00B0F0" stroke-width="5.4" fill="none" stroke-linejoin="miter" stroke-miterlimit="8" stroke-linecap="round"/><path d="M471.2 1094.5L611.1 739.5" stroke="#00B0F0" stroke-width="4.8" fill="none"/><path d="M614 759.2L611.1 739.5L595.5 751.9" stroke="#00B0F0" stroke-width="5.2" fill="none" stroke-linejoin="miter" stroke-miterlimit="8" stroke-linecap="round"/><path d="M85.3 735.6L273.5 1075.9" stroke="#002060" stroke-width="6.5" fill="none"/><path d="M251.8 1062.8L273.5 1075.9L274 1050.5" stroke="#002060" stroke-width="7" fill="none" stroke-linejoin="miter" stroke-miterlimit="8" stroke-linecap="round"/><path d="M472.3 1116.6L592 1116.6" stroke="#002060" stroke-width="8" fill="none"/><path d="M570.7 1128.9L592 1116.6L570.7 1104.3" stroke="#002060" stroke-width="8.6" fill="none" stroke-linejoin="miter" stroke-miterlimit="8" stroke-linecap="round"/><path d="M701.8 999.9L866.4 741.6" stroke="#002060" stroke-width="6.5" fill="none"/><path d="M865.3 766.4L866.4 741.6L844.4 753.1" stroke="#002060" stroke-width="7" fill="none" stroke-linejoin="miter" stroke-miterlimit="8" stroke-linecap="round"/><path d="M85.3 735.6L274.1 1114.5" stroke="#632523" stroke-width="5.8" fill="none"/><path d="M256.7 1103L274.1 1114.5L275.4 1093.6" stroke="#632523" stroke-width="6.3" fill="none" stroke-linejoin="miter" stroke-miterlimit="8" stroke-linecap="round"/><path d="M471.2 1094.5L649.6 740.5" stroke="#632523" stroke-width="6" fill="none"/><path d="M650.9 763.3L649.6 740.5L630.5 753" stroke="#632523" stroke-width="6.5" fill="none" stroke-linejoin="miter" stroke-miterlimit="8" stroke-linecap="round"/><path d="M85.3 735.6L275.6 1156.5" stroke="#7030A0" stroke-width="3" fill="none"/><path d="M263.2 1147.7L275.6 1156.5L277.1 1141.4" stroke="#7030A0" stroke-width="3.2" fill="none" stroke-linejoin="miter" stroke-miterlimit="8" stroke-linecap="round"/><path d="M471.2 1094.5L840.9 738.3" stroke="#7030A0" stroke-width="3.5" fill="none"/><path d="M837.3 750.9L840.9 738.3L828.2 741.5" stroke="#7030A0" stroke-width="3.8" fill="none" stroke-linejoin="miter" stroke-miterlimit="8" stroke-linecap="round"/><path d="M723 548.1L788.1 548.1" stroke="#000000" stroke-width="10.7" fill="none"/><path d="M763.5 562.3L788.1 548.1L763.5 533.9" stroke="#000000" stroke-width="11.6" fill="none" stroke-linejoin="miter" stroke-miterlimit="8" stroke-linecap="round"/><path d="M723 569.8L788.1 569.8" stroke="#C00000" stroke-width="10.7" fill="none"/><path d="M762.5 584.6L788.1 569.8L762.5 555" stroke="#C00000" stroke-width="11.6" fill="none" stroke-linejoin="miter" stroke-miterlimit="8" stroke-linecap="round"/><path d="M723 586.7L789.2 586.7" stroke="#00B050" stroke-width="9.7" fill="none"/><path d="M767.3 599.3L789.2 586.7L767.3 574.1" stroke="#00B050" stroke-width="10.5" fill="none" stroke-linejoin="miter" stroke-miterlimit="8" stroke-linecap="round"/><path d="M723 605.1L789.8 605.1" stroke="#0070C0" stroke-width="9.2" fill="none"/><path d="M771.7 615.5L789.8 605.1L771.7 594.7" stroke="#0070C0" stroke-width="9.9" fill="none" stroke-linejoin="miter" stroke-miterlimit="8" stroke-linecap="round"/><path d="M723 625.6L791.8 625.6" stroke="#632523" stroke-width="7.3" fill="none"/><path d="M773.6 636.1L791.8 625.6L773.6 615.1" stroke="#632523" stroke-width="7.9" fill="none" stroke-linejoin="miter" stroke-miterlimit="8" stroke-linecap="round"/><path d="M723 642L793.4 642" stroke="#D99694" stroke-width="5.8" fill="none"/><path d="M778.3 650.7L793.4 642L778.3 633.3" stroke="#D99694" stroke-width="6.3" fill="none" stroke-linejoin="miter" stroke-miterlimit="8" stroke-linecap="round"/><path d="M723 658.4L793.4 658.4" stroke="#00B0F0" stroke-width="5.8" fill="none"/><path d="M777.8 667.4L793.4 658.4L777.8 649.4" stroke="#00B0F0" stroke-width="6.3" fill="none" stroke-linejoin="miter" stroke-miterlimit="8" stroke-linecap="round"/><path d="M723 675.3L795.2 675.3" stroke="#808080" stroke-width="4.2" fill="none"/><path d="M783 682.3L795.2 675.3L783 668.3" stroke="#808080" stroke-width="4.5" fill="none" stroke-linejoin="miter" stroke-miterlimit="8" stroke-linecap="round"/><path d="M723 691.6L795.6 691.6" stroke="#FFFF00" stroke-width="3.8" fill="none"/><path d="M783.3 698.7L795.6 691.6L783.3 684.5" stroke="#FFFF00" stroke-width="4.1" fill="none" stroke-linejoin="miter" stroke-miterlimit="8" stroke-linecap="round"/><path d="M987.8 515.3L1053.4 515.3" stroke="#000000" stroke-width="9.6" fill="none"/><path d="M1027.2 530.5L1053.4 515.3L1027.2 500.1" stroke="#000000" stroke-width="10.4" fill="none" stroke-linejoin="miter" stroke-miterlimit="8" stroke-linecap="round"/><path d="M1257.8 514.3L1323.4 514.3" stroke="#000000" stroke-width="9.6" fill="none"/><path d="M1297.2 529.5L1323.4 514.3L1297.2 499.1" stroke="#000000" stroke-width="10.4" fill="none" stroke-linejoin="miter" stroke-miterlimit="8" stroke-linecap="round"/><path d="M987.8 537.8L1054.1 537.8" stroke="#C00000" stroke-width="9" fill="none"/><path d="M1026.9 553.5L1054.1 537.8L1026.9 522.1" stroke="#C00000" stroke-width="9.7" fill="none" stroke-linejoin="miter" stroke-miterlimit="8" stroke-linecap="round"/><path d="M1257.8 536.8L1324.1 536.8" stroke="#C00000" stroke-width="9" fill="none"/><path d="M1296.9 552.5L1324.1 536.8L1296.9 521.1" stroke="#C00000" stroke-width="9.7" fill="none" stroke-linejoin="miter" stroke-miterlimit="8" stroke-linecap="round"/><path d="M987.8 558.1L1054.5 558.1" stroke="#00B050" stroke-width="8.6" fill="none"/><path d="M1031.4 571.4L1054.5 558.1L1031.4 544.8" stroke="#00B050" stroke-width="9.3" fill="none" stroke-linejoin="miter" stroke-miterlimit="8" stroke-linecap="round"/><path d="M1257.8 557.1L1324.5 557.1" stroke="#00B050" stroke-width="8.6" fill="none"/><path d="M1301.4 570.4L1324.5 557.1L1301.4 543.8" stroke="#00B050" stroke-width="9.3" fill="none" stroke-linejoin="miter" stroke-miterlimit="8" stroke-linecap="round"/><path d="M987.8 578L1054.5 578" stroke="#0070C0" stroke-width="8.6" fill="none"/><path d="M1035.4 589L1054.5 578L1035.4 567" stroke="#0070C0" stroke-width="9.3" fill="none" stroke-linejoin="miter" stroke-miterlimit="8" stroke-linecap="round"/><path d="M1257.8 577L1324.5 577" stroke="#0070C0" stroke-width="8.6" fill="none"/><path d="M1305.4 588L1324.5 577L1305.4 566" stroke="#0070C0" stroke-width="9.3" fill="none" stroke-linejoin="miter" stroke-miterlimit="8" stroke-linecap="round"/><path d="M987.8 598.3L1055.3 598.3" stroke="#002060" stroke-width="7.9" fill="none"/><path d="M1036.1 609.4L1055.3 598.3L1036.1 587.2" stroke="#002060" stroke-width="8.5" fill="none" stroke-linejoin="miter" stroke-miterlimit="8" stroke-linecap="round"/><path d="M1257.8 597.3L1325.3 597.3" stroke="#002060" stroke-width="7.9" fill="none"/><path d="M1306.1 608.4L1325.3 597.3L1306.1 586.2" stroke="#002060" stroke-width="8.5" fill="none" stroke-linejoin="miter" stroke-miterlimit="8" stroke-linecap="round"/><path d="M987.8 620.2L1056.8 620.2" stroke="#E36C09" stroke-width="6.5" fill="none"/><path d="M1038.3 630.9L1056.8 620.2L1038.3 609.5" stroke="#E36C09" stroke-width="7" fill="none" stroke-linejoin="miter" stroke-miterlimit="8" stroke-linecap="round"/><path d="M1257.8 619.2L1326.8 619.2" stroke="#E36C09" stroke-width="6.5" fill="none"/><path d="M1308.3 629.9L1326.8 619.2L1308.3 608.5" stroke="#E36C09" stroke-width="7" fill="none" stroke-linejoin="miter" stroke-miterlimit="8" stroke-linecap="round"/><path d="M987.8 638.4L1057 638.4" stroke="#632523" stroke-width="6.3" fill="none"/><path d="M1038.2 649.3L1057 638.4L1038.2 627.5" stroke="#632523" stroke-width="6.8" fill="none" stroke-linejoin="miter" stroke-miterlimit="8" stroke-linecap="round"/><path d="M1257.8 637.4L1327 637.4" stroke="#632523" stroke-width="6.3" fill="none"/><path d="M1308.2 648.3L1327 637.4L1308.2 626.5" stroke="#632523" stroke-width="6.8" fill="none" stroke-linejoin="miter" stroke-miterlimit="8" stroke-linecap="round"/><path d="M987.8 655.5L1058 655.5" stroke="#D99694" stroke-width="5.4" fill="none"/><path d="M1041.7 664.9L1058 655.5L1041.7 646.1" stroke="#D99694" stroke-width="5.8" fill="none" stroke-linejoin="miter" stroke-miterlimit="8" stroke-linecap="round"/><path d="M1257.8 654.5L1328 654.5" stroke="#D99694" stroke-width="5.4" fill="none"/><path d="M1311.7 663.9L1328 654.5L1311.7 645.1" stroke="#D99694" stroke-width="5.8" fill="none" stroke-linejoin="miter" stroke-miterlimit="8" stroke-linecap="round"/><path d="M987.8 672.2L1058.2 672.2" stroke="#00B0F0" stroke-width="5.2" fill="none"/><path d="M1042.6 681.2L1058.2 672.2L1042.6 663.2" stroke="#00B0F0" stroke-width="5.6" fill="none" stroke-linejoin="miter" stroke-miterlimit="8" stroke-linecap="round"/><path d="M1257.8 671.2L1328.2 671.2" stroke="#00B0F0" stroke-width="5.2" fill="none"/><path d="M1312.6 680.2L1328.2 671.2L1312.6 662.2" stroke="#00B0F0" stroke-width="5.6" fill="none" stroke-linejoin="miter" stroke-miterlimit="8" stroke-linecap="round"/><path d="M987.8 688.6L1059.3 688.6" stroke="#808080" stroke-width="4.2" fill="none"/><path d="M1045.6 696.5L1059.3 688.6L1045.6 680.7" stroke="#808080" stroke-width="4.5" fill="none" stroke-linejoin="miter" stroke-miterlimit="8" stroke-linecap="round"/><path d="M1257.8 687.6L1329.3 687.6" stroke="#808080" stroke-width="4.2" fill="none"/><path d="M1315.6 695.5L1329.3 687.6L1315.6 679.7" stroke="#808080" stroke-width="4.5" fill="none" stroke-linejoin="miter" stroke-miterlimit="8" stroke-linecap="round"/><path d="M987.8 705.3L1059.3 705.3" stroke="#7030A0" stroke-width="4.2" fill="none"/><path d="M1045.1 713.5L1059.3 705.3L1045.1 697.1" stroke="#7030A0" stroke-width="4.5" fill="none" stroke-linejoin="miter" stroke-miterlimit="8" stroke-linecap="round"/><path d="M1257.8 704.3L1329.3 704.3" stroke="#7030A0" stroke-width="4.2" fill="none"/><path d="M1315.1 712.5L1329.3 704.3L1315.1 696.1" stroke="#7030A0" stroke-width="4.5" fill="none" stroke-linejoin="miter" stroke-miterlimit="8" stroke-linecap="round"/><path d="M987.8 725L1060.3 725" stroke="#FFFF00" stroke-width="3.2" fill="none"/><path d="M1047.5 732.4L1060.3 725L1047.5 717.6" stroke="#FFFF00" stroke-width="3.5" fill="none" stroke-linejoin="miter" stroke-miterlimit="8" stroke-linecap="round"/><path d="M1257.8 724L1330.3 724" stroke="#FFFF00" stroke-width="3.2" fill="none"/><path d="M1317.5 731.4L1330.3 724L1317.5 716.6" stroke="#FFFF00" stroke-width="3.5" fill="none" stroke-linejoin="miter" stroke-miterlimit="8" stroke-linecap="round"/><path d="M692 46.8L759.3 46.8" stroke="#000000" stroke-width="9.3" fill="none"/><path d="M728.3 64.7L759.3 46.8L728.3 28.9" stroke="#000000" stroke-width="10" fill="none" stroke-linejoin="miter" stroke-miterlimit="8" stroke-linecap="round"/><path d="M692 89.9L759.9 89.9" stroke="#C00000" stroke-width="9" fill="none"/><path d="M731.8 106.1L759.9 89.9L731.8 73.7" stroke="#C00000" stroke-width="9.7" fill="none" stroke-linejoin="miter" stroke-miterlimit="8" stroke-linecap="round"/><path d="M692 127.8L760.4 127.8" stroke="#00B050" stroke-width="8.5" fill="none"/><path d="M736.2 141.8L760.4 127.8L736.2 113.8" stroke="#00B050" stroke-width="9.2" fill="none" stroke-linejoin="miter" stroke-miterlimit="8" stroke-linecap="round"/><path d="M689 160.5L757.9 160.5" stroke="#0070C0" stroke-width="7.5" fill="none"/><path d="M737.4 172.4L757.9 160.5L737.4 148.6" stroke="#0070C0" stroke-width="8.1" fill="none" stroke-linejoin="miter" stroke-miterlimit="8" stroke-linecap="round"/><path d="M689 199.9L757.9 199.9" stroke="#002060" stroke-width="7.5" fill="none"/><path d="M737.4 211.8L757.9 199.9L737.4 188" stroke="#002060" stroke-width="8.1" fill="none" stroke-linejoin="miter" stroke-miterlimit="8" stroke-linecap="round"/><path d="M689.7 235.5L760.5 235.5" stroke="#E36C09" stroke-width="6" fill="none"/><path d="M741.7 246.3L760.5 235.5L741.7 224.7" stroke="#E36C09" stroke-width="6.5" fill="none" stroke-linejoin="miter" stroke-miterlimit="8" stroke-linecap="round"/><path d="M689 268.2L759 268.2" stroke="#632523" stroke-width="6.5" fill="none"/><path d="M740.5 278.9L759 268.2L740.5 257.5" stroke="#632523" stroke-width="7" fill="none" stroke-linejoin="miter" stroke-miterlimit="8" stroke-linecap="round"/><path d="M686 306.1L757.9 306.1" stroke="#D99694" stroke-width="5" fill="none"/><path d="M740.5 316.1L757.9 306.1L740.5 296.1" stroke="#D99694" stroke-width="5.4" fill="none" stroke-linejoin="miter" stroke-miterlimit="8" stroke-linecap="round"/><path d="M686 340.3L758.1 340.3" stroke="#00B0F0" stroke-width="4.8" fill="none"/><path d="M740.4 350.5L758.1 340.3L740.4 330.1" stroke="#00B0F0" stroke-width="5.2" fill="none" stroke-linejoin="miter" stroke-miterlimit="8" stroke-linecap="round"/><path d="M689 376.7L761.7 376.7" stroke="#808080" stroke-width="4" fill="none"/><path d="M747.7 384.8L761.7 376.7L747.7 368.6" stroke="#808080" stroke-width="4.3" fill="none" stroke-linejoin="miter" stroke-miterlimit="8" stroke-linecap="round"/><path d="M689 412.8L761.7 412.8" stroke="#7030A0" stroke-width="4" fill="none"/><path d="M747.7 420.9L761.7 412.8L747.7 404.7" stroke="#7030A0" stroke-width="4.3" fill="none" stroke-linejoin="miter" stroke-miterlimit="8" stroke-linecap="round"/><path d="M689.7 450L763.5 450" stroke="#FFFF00" stroke-width="3.2" fill="none"/><path d="M749.2 458.3L763.5 450L749.2 441.7" stroke="#FFFF00" stroke-width="3.5" fill="none" stroke-linejoin="miter" stroke-miterlimit="8" stroke-linecap="round"/><text x="788.3" y="62.7" font-size="27" font-weight="bold" stroke="#000" stroke-width="0.5" textLength="35" lengthAdjust="spacingAndGlyphs"># 1</text><text x="788.3" y="98.8" font-size="27" font-weight="bold" stroke="#000" stroke-width="0.5" textLength="35" lengthAdjust="spacingAndGlyphs"># 2</text><text x="788.3" y="137" font-size="27" font-weight="bold" stroke="#000" stroke-width="0.5" textLength="35" lengthAdjust="spacingAndGlyphs"># 3</text><text x="788.3" y="172.4" font-size="27" font-weight="bold" stroke="#000" stroke-width="0.5" textLength="35" lengthAdjust="spacingAndGlyphs"># 4</text><text x="788.3" y="207.7" font-size="27" font-weight="bold" stroke="#000" stroke-width="0.5" textLength="35" lengthAdjust="spacingAndGlyphs"># 5</text><text x="788.3" y="244" font-size="27" font-weight="bold" stroke="#000" stroke-width="0.5" textLength="35" lengthAdjust="spacingAndGlyphs"># 6</text><text x="788.3" y="280" font-size="27" font-weight="bold" stroke="#000" stroke-width="0.5" textLength="35" lengthAdjust="spacingAndGlyphs"># 7</text><text x="788.3" y="317.3" font-size="27" font-weight="bold" stroke="#000" stroke-width="0.5" textLength="35" lengthAdjust="spacingAndGlyphs"># 8</text><text x="788.3" y="352.6" font-size="27" font-weight="bold" stroke="#000" stroke-width="0.5" textLength="35" lengthAdjust="spacingAndGlyphs"># 9</text><text x="788.3" y="389.8" font-size="27" font-weight="bold" stroke="#000" stroke-width="0.5" textLength="45.4" lengthAdjust="spacingAndGlyphs">#10</text><text x="788.3" y="425.8" font-size="27" font-weight="bold" stroke="#000" stroke-width="0.5" textLength="45.4" lengthAdjust="spacingAndGlyphs">#11</text><text x="788.3" y="464" font-size="27" font-weight="bold" stroke="#000" stroke-width="0.5" textLength="45.4" lengthAdjust="spacingAndGlyphs">#12</text><text x="876.5" y="207.5" font-size="38" font-weight="bold" stroke="#000" stroke-width="1.1" textLength="52.5" lengthAdjust="spacingAndGlyphs">#1:</text><text x="940.6" y="207.5" font-size="38" font-weight="bold" stroke="#000" stroke-width="1.1" textLength="54.4" lengthAdjust="spacingAndGlyphs">LL1</text><text x="1053" y="207.5" font-size="38" font-weight="bold" stroke="#000" stroke-width="1.1" textLength="63.2" lengthAdjust="spacingAndGlyphs">LH1</text><text x="1175.3" y="207.5" font-size="38" font-weight="bold" stroke="#000" stroke-width="1.1" textLength="71.2" lengthAdjust="spacingAndGlyphs">HH2</text><text x="1304" y="207.5" font-size="38" font-weight="bold" stroke="#000" stroke-width="1.1" textLength="71.2" lengthAdjust="spacingAndGlyphs">HH3</text><text x="1433.9" y="207.5" font-size="38" font-weight="bold" stroke="#000" stroke-width="1.1" textLength="72.5" lengthAdjust="spacingAndGlyphs">HH4</text><text x="1563.6" y="207.5" font-size="38" font-weight="bold" stroke="#000" stroke-width="1.1" textLength="71.6" lengthAdjust="spacingAndGlyphs">HH5</text><path d="M996 195L1041.9 195" stroke="#000000" stroke-width="11" fill="none"/><path d="M1014.2 213L1041.9 195L1014.2 177" stroke="#000000" stroke-width="11.5" fill="none" stroke-linejoin="miter" stroke-miterlimit="8" stroke-linecap="round"/><path d="M1121.2 195L1164.8 195" stroke="#000000" stroke-width="11" fill="none"/><path d="M1137.2 213L1164.8 195L1137.2 177" stroke="#000000" stroke-width="11.5" fill="none" stroke-linejoin="miter" stroke-miterlimit="8" stroke-linecap="round"/><path d="M1245.8 195L1291.1 195" stroke="#000000" stroke-width="11" fill="none"/><path d="M1263.5 213L1291.1 195L1263.5 177" stroke="#000000" stroke-width="11.5" fill="none" stroke-linejoin="miter" stroke-miterlimit="8" stroke-linecap="round"/><path d="M1375 195L1420.9 195" stroke="#000000" stroke-width="11" fill="none"/><path d="M1393.2 213L1420.9 195L1393.2 177" stroke="#000000" stroke-width="11.5" fill="none" stroke-linejoin="miter" stroke-miterlimit="8" stroke-linecap="round"/><path d="M1505.7 195L1551.4 195" stroke="#000000" stroke-width="11" fill="none"/><path d="M1523.8 213L1551.4 195L1523.8 177" stroke="#000000" stroke-width="11.5" fill="none" stroke-linejoin="miter" stroke-miterlimit="8" stroke-linecap="round"/><text x="876.5" y="271.2" font-size="38" font-weight="bold" stroke="#000" stroke-width="1.1" textLength="52.5" lengthAdjust="spacingAndGlyphs">#2:</text><text x="940.6" y="271.2" font-size="38" font-weight="bold" stroke="#000" stroke-width="1.1" textLength="54.4" lengthAdjust="spacingAndGlyphs">LL1</text><text x="1053" y="271.2" font-size="38" font-weight="bold" stroke="#000" stroke-width="1.1" textLength="63.2" lengthAdjust="spacingAndGlyphs">HL1</text><text x="1175.3" y="271.2" font-size="38" font-weight="bold" stroke="#000" stroke-width="1.1" textLength="71.2" lengthAdjust="spacingAndGlyphs">HH2</text><text x="1304" y="271.2" font-size="38" font-weight="bold" stroke="#000" stroke-width="1.1" textLength="71.2" lengthAdjust="spacingAndGlyphs">HH3</text><text x="1433.9" y="271.2" font-size="38" font-weight="bold" stroke="#000" stroke-width="1.1" textLength="72.5" lengthAdjust="spacingAndGlyphs">HH4</text><text x="1563.6" y="271.2" font-size="38" font-weight="bold" stroke="#000" stroke-width="1.1" textLength="71.6" lengthAdjust="spacingAndGlyphs">HH5</text><path d="M996 254.5L1041.9 254.5" stroke="#C00000" stroke-width="11" fill="none"/><path d="M1014.2 272.5L1041.9 254.5L1014.2 236.5" stroke="#C00000" stroke-width="11.5" fill="none" stroke-linejoin="miter" stroke-miterlimit="8" stroke-linecap="round"/><path d="M1121.2 254.5L1164.8 254.5" stroke="#C00000" stroke-width="11" fill="none"/><path d="M1137.2 272.5L1164.8 254.5L1137.2 236.5" stroke="#C00000" stroke-width="11.5" fill="none" stroke-linejoin="miter" stroke-miterlimit="8" stroke-linecap="round"/><path d="M1245.8 254.5L1291.1 254.5" stroke="#C00000" stroke-width="11" fill="none"/><path d="M1263.5 272.5L1291.1 254.5L1263.5 236.5" stroke="#C00000" stroke-width="11.5" fill="none" stroke-linejoin="miter" stroke-miterlimit="8" stroke-linecap="round"/><path d="M1375 254.5L1420.9 254.5" stroke="#C00000" stroke-width="11" fill="none"/><path d="M1393.2 272.5L1420.9 254.5L1393.2 236.5" stroke="#C00000" stroke-width="11.5" fill="none" stroke-linejoin="miter" stroke-miterlimit="8" stroke-linecap="round"/><path d="M1505.7 254.5L1551.4 254.5" stroke="#C00000" stroke-width="11" fill="none"/><path d="M1523.8 272.5L1551.4 254.5L1523.8 236.5" stroke="#C00000" stroke-width="11.5" fill="none" stroke-linejoin="miter" stroke-miterlimit="8" stroke-linecap="round"/><text x="110.7" y="602" font-size="28.8" stroke="#000" stroke-width="0.6">LL1</text><text x="369.7" y="603.5" font-size="28.8" stroke="#000" stroke-width="0.6">HH1</text><text x="370.3" y="121.2" font-size="28.8" stroke="#000" stroke-width="0.6">LH2</text><text x="370" y="353.4" font-size="28.8" stroke="#000" stroke-width="0.6">LH1</text><text x="370" y="849.3" font-size="28.8" stroke="#000" stroke-width="0.6">HL1</text><text x="369.7" y="1091.7" font-size="28.8" stroke="#000" stroke-width="0.6">HL2</text><text x="627.8" y="603.5" font-size="28.8" stroke="#000" stroke-width="0.6">HH2</text><text x="890.9" y="603.5" font-size="28.8" stroke="#000" stroke-width="0.6">HH3</text><text x="1160.9" y="602.6" font-size="28.8" stroke="#000" stroke-width="0.6">HH4</text><text x="1425.9" y="602.6" font-size="28.8" stroke="#000" stroke-width="0.6">HH5</text><text x="702.8" y="1094.8" font-size="28.8" stroke="#000" stroke-width="0.6">HL3</text><svg x="0" y="0" width="1652" height="1238" style="overflow:hidden"><clipPath id="pc"><rect x="1028.9" y="797.2" width="480.5" height="352.79999999999995"/></clipPath><g clip-path="url(#pc)"><path d="M1032.0 1032.4V934.4H1033.5V945.7H1035.0V932.7H1036.5V931.4H1038.0V922.2H1039.5V945.2H1041.0V928.0H1042.5V921.2H1044.0V959.5H1045.5V949.5H1047.0V941.8H1048.5V935.3H1050.0V950.7H1051.5V921.9H1053.0V934.7H1054.5V954.6H1056.0V951.0H1057.5V946.1H1059.0V952.6H1060.5V947.3H1062.0V948.1H1063.5V936.7H1065.0V942.6H1066.5V863.8H1068.0V835.2H1069.5V819.1H1071.0V827.2H1072.5V843.7H1074.0V844.9H1075.5V831.0H1077.0V822.1H1078.5V817.8H1080.0V830.1H1081.5V845.4H1083.0V828.3H1084.5V831.3H1086.0V841.2H1087.5V829.5H1089.0V845.2H1090.5V832.6H1092.0V806.4H1093.5V832.3H1095.0V824.8H1096.5V837.4H1098.0V845.6H1099.5V840.3H1101.0V834.9H1102.5V816.5H1104.0V812.2H1105.5V841.8H1107.0V837.2H1108.5V841.6H1110.0V822.5H1111.5V829.2H1113.0V830.2H1114.5V839.6H1116.0V830.1H1117.5V818.3H1119.0V820.5H1120.5V831.8H1122.0V823.0H1123.5V833.4H1125.0V837.3H1126.5V831.0H1128.0V842.5H1129.5V817.3H1131.0V829.7H1132.5V839.8H1134.0V845.4H1135.5V829.1H1137.0V843.7H1138.5V832.1H1140.0V808.9H1141.5V828.9H1143.0V834.1H1144.5V842.2H1146.0V829.8H1147.5V844.6H1149.0V832.6H1150.5V827.7H1152.0V833.4H1153.5V847.0H1155.0V823.9H1156.5V824.9H1158.0V828.3H1159.5V834.5H1161.0V842.6H1162.5V817.3H1164.0V810.7H1165.5V836.2H1167.0V824.9H1168.5V844.5H1170.0V842.5H1171.5V838.8H1173.0V836.6H1174.5V841.6H1176.0V843.3H1177.5V846.0H1179.0V828.7H1180.5V840.3H1182.0V814.3H1183.5V816.7H1185.0V830.2H1186.5V828.3H1188.0V837.3H1189.5V810.8H1191.0V835.3H1192.5V831.6H1194.0V847.4H1195.5V831.3H1197.0V818.4H1198.5V820.4H1200.0V829.7H1201.5V844.9H1203.0V818.5H1204.5V830.9H1206.0V834.7H1207.5V828.7H1209.0V840.1H1210.5V823.9H1212.0V829.3H1213.5V829.2H1215.0V834.3H1216.5V840.5H1218.0V834.2H1219.5V840.7H1221.0V835.2H1222.5V831.0H1224.0V827.7H1225.5V836.0H1227.0V845.7H1228.5V830.7H1230.0V814.9H1231.5V839.1H1233.0V845.9H1234.5V845.6H1236.0V841.7H1237.5V829.8H1239.0V843.7H1240.5V841.4H1242.0V810.9H1243.5V837.3H1245.0V829.5H1246.5V843.6H1248.0V842.1H1249.5V843.7H1251.0V826.9H1252.5V833.6H1254.0V832.2H1255.5V833.2H1257.0V831.2H1258.5V813.7H1260.0V837.9H1261.5V833.9H1263.0V839.6H1264.5V835.4H1266.0V810.9H1267.5V840.3H1269.0V823.3H1270.5V820.8H1272.0V834.0H1273.5V843.6H1275.0V819.9H1276.5V839.0H1278.0V819.1H1279.5V838.3H1281.0V830.1H1282.5V847.0H1284.0V827.0H1285.5V816.7H1287.0V838.9H1288.5V829.1H1290.0V831.5H1291.5V843.6H1293.0V827.2H1294.5V822.4H1296.0V834.7H1297.5V827.7H1299.0V834.2H1300.5V840.7H1302.0V832.2H1303.5V825.9H1305.0V835.8H1306.5V810.1H1308.0V845.1H1309.5V841.6H1311.0V842.6H1312.5V830.4H1314.0V834.0H1315.5V837.0H1317.0V823.9H1318.5V829.7H1320.0V839.0H1321.5V843.9H1323.0V840.5H1324.5V834.4H1326.0V837.9H1327.5V829.9H1329.0V830.6H1330.5V845.0H1332.0V817.1H1333.5V830.3H1335.0V840.2H1336.5V837.1H1338.0V813.7H1339.5V827.2H1341.0V831.2H1342.5V840.2H1344.0V836.3H1345.5V838.5H1347.0V832.4H1348.5V831.1H1350.0V838.2H1351.5V829.9H1353.0V831.8H1354.5V828.8H1356.0V822.8H1357.5V819.7H1359.0V846.9H1360.5V813.2H1362.0V837.2H1363.5V838.6H1365.0V830.8H1366.5V819.7H1368.0V832.5H1369.5V842.0H1371.0V838.7H1372.5V834.0H1374.0V833.4H1375.5V844.9H1377.0V843.0H1378.5V836.8H1380.0V815.4H1381.5V842.4H1383.0V846.8H1384.5V830.1H1386.0V823.6H1387.5V835.4H1389.0V822.7H1390.5V829.9H1392.0V829.6H1393.5V830.3H1395.0V819.2H1396.5V842.5H1398.0V840.0H1399.5V829.1H1401.0V823.7H1402.5V830.4H1404.0V827.5H1405.5V845.8H1407.0V835.4H1408.5V845.3H1410.0V846.0H1411.5V836.2H1413.0V828.4H1414.5V835.4H1416.0V815.3H1417.5V821.8H1419.0V826.8H1420.5V827.0H1422.0V843.8H1423.5V827.8H1425.0V837.0H1426.5V814.5H1428.0V845.5H1429.5V831.4H1431.0V841.6H1432.5V820.1H1434.0V841.2H1435.5V835.6H1437.0V832.0H1438.5V834.0H1440.0V842.1H1441.5V834.7H1443.0V823.6H1444.5V827.5H1446.0V837.0H1447.5V846.8H1449.0V831.7H1450.5V828.1H1452.0V823.4H1453.5V822.8H1455.0V825.6H1456.5V834.8H1458.0V815.2H1459.5V839.7H1461.0V813.5H1462.5V813.2H1464.0V829.2H1465.5V835.9H1467.0V820.5H1468.5V838.3H1470.0V845.5H1471.5V845.7H1473.0V844.0H1474.5V843.6H1476.0V817.2H1477.5V838.4H1479.0V834.2H1480.5V836.1H1482.0V829.3H1483.5V843.6H1485.0V811.2H1486.5V829.1H1488.0V837.3H1489.5V842.1H1491.0V836.8H1492.5V824.5H1494.0V838.1H1495.5V831.6H1497.0V828.8H1498.5V826.0H1500.0V838.5H1501.5V844.9H1503.0V828.3H1504.5V843.4H1506.0V828.9H1507.5V823.9H1509.0V839.8H1510.5V880.2H1509.0V872.9H1507.5V872.8H1506.0V880.6H1504.5V905.3H1503.0V887.6H1501.5V889.1H1500.0V874.3H1498.5V881.6H1497.0V880.6H1495.5V886.8H1494.0V886.5H1492.5V897.8H1491.0V899.3H1489.5V884.4H1488.0V883.1H1486.5V890.0H1485.0V890.6H1483.5V887.5H1482.0V898.7H1480.5V874.9H1479.0V882.2H1477.5V888.1H1476.0V886.3H1474.5V889.5H1473.0V888.1H1471.5V884.4H1470.0V879.1H1468.5V882.3H1467.0V891.6H1465.5V887.3H1464.0V889.9H1462.5V888.2H1461.0V887.1H1459.5V887.7H1458.0V889.8H1456.5V889.1H1455.0V895.8H1453.5V879.9H1452.0V882.9H1450.5V888.1H1449.0V878.0H1447.5V886.6H1446.0V885.5H1444.5V895.9H1443.0V889.9H1441.5V882.9H1440.0V880.7H1438.5V891.1H1437.0V882.5H1435.5V876.4H1434.0V887.5H1432.5V877.0H1431.0V890.1H1429.5V912.2H1428.0V880.2H1426.5V877.5H1425.0V879.3H1423.5V900.2H1422.0V875.9H1420.5V873.3H1419.0V877.2H1417.5V880.1H1416.0V886.3H1414.5V890.9H1413.0V890.6H1411.5V881.9H1410.0V885.4H1408.5V883.8H1407.0V875.3H1405.5V888.6H1404.0V880.9H1402.5V872.7H1401.0V874.1H1399.5V908.6H1398.0V873.2H1396.5V872.7H1395.0V877.3H1393.5V887.9H1392.0V916.6H1390.5V874.6H1389.0V890.4H1387.5V875.4H1386.0V907.1H1384.5V912.8H1383.0V886.1H1381.5V888.3H1380.0V873.7H1378.5V897.8H1377.0V889.3H1375.5V885.9H1374.0V874.7H1372.5V907.8H1371.0V879.6H1369.5V882.5H1368.0V889.0H1366.5V882.8H1365.0V889.3H1363.5V885.5H1362.0V878.4H1360.5V873.3H1359.0V880.9H1357.5V889.4H1356.0V889.6H1354.5V881.4H1353.0V879.6H1351.5V877.9H1350.0V875.4H1348.5V879.5H1347.0V885.2H1345.5V874.8H1344.0V899.4H1342.5V874.4H1341.0V888.6H1339.5V876.0H1338.0V898.5H1336.5V872.9H1335.0V878.7H1333.5V873.9H1332.0V879.3H1330.5V890.5H1329.0V878.7H1327.5V878.2H1326.0V880.1H1324.5V881.3H1323.0V888.3H1321.5V882.8H1320.0V899.3H1318.5V885.0H1317.0V902.1H1315.5V876.5H1314.0V880.3H1312.5V874.2H1311.0V872.8H1309.5V885.9H1308.0V890.4H1306.5V882.3H1305.0V886.6H1303.5V876.3H1302.0V878.5H1300.5V881.5H1299.0V915.4H1297.5V874.0H1296.0V887.2H1294.5V875.9H1293.0V877.6H1291.5V879.4H1290.0V875.0H1288.5V890.2H1287.0V891.2H1285.5V891.1H1284.0V875.6H1282.5V885.1H1281.0V885.0H1279.5V880.5H1278.0V885.2H1276.5V885.5H1275.0V892.0H1273.5V885.9H1272.0V900.8H1270.5V889.7H1269.0V901.8H1267.5V876.1H1266.0V877.3H1264.5V888.8H1263.0V879.5H1261.5V891.4H1260.0V873.7H1258.5V890.9H1257.0V888.4H1255.5V889.1H1254.0V884.5H1252.5V887.0H1251.0V888.2H1249.5V896.2H1248.0V881.3H1246.5V874.4H1245.0V872.7H1243.5V909.9H1242.0V886.3H1240.5V874.2H1239.0V882.4H1237.5V878.6H1236.0V890.9H1234.5V887.0H1233.0V907.6H1231.5V882.8H1230.0V877.7H1228.5V916.6H1227.0V880.6H1225.5V906.7H1224.0V873.6H1222.5V888.2H1221.0V872.8H1219.5V880.1H1218.0V874.9H1216.5V891.9H1215.0V873.3H1213.5V886.5H1212.0V886.4H1210.5V882.3H1209.0V882.6H1207.5V883.0H1206.0V884.3H1204.5V881.8H1203.0V885.2H1201.5V881.6H1200.0V908.4H1198.5V879.2H1197.0V910.5H1195.5V881.4H1194.0V919.3H1192.5V873.2H1191.0V880.9H1189.5V875.6H1188.0V888.4H1186.5V879.4H1185.0V879.7H1183.5V888.4H1182.0V874.8H1180.5V876.1H1179.0V881.6H1177.5V896.4H1176.0V889.5H1174.5V876.2H1173.0V883.9H1171.5V873.8H1170.0V884.3H1168.5V884.0H1167.0V875.3H1165.5V873.7H1164.0V877.9H1162.5V882.2H1161.0V880.5H1159.5V884.8H1158.0V884.0H1156.5V878.4H1155.0V892.9H1153.5V886.9H1152.0V874.5H1150.5V888.8H1149.0V883.4H1147.5V876.6H1146.0V874.4H1144.5V878.0H1143.0V877.0H1141.5V887.9H1140.0V919.1H1138.5V879.7H1137.0V876.4H1135.5V877.8H1134.0V884.2H1132.5V885.7H1131.0V874.7H1129.5V878.5H1128.0V886.2H1126.5V886.0H1125.0V901.9H1123.5V887.1H1122.0V890.8H1120.5V909.8H1119.0V889.3H1117.5V884.1H1116.0V885.5H1114.5V880.3H1113.0V889.1H1111.5V887.3H1110.0V873.0H1108.5V889.0H1107.0V876.0H1105.5V890.9H1104.0V893.5H1102.5V917.3H1101.0V886.1H1099.5V875.7H1098.0V885.7H1096.5V883.7H1095.0V878.4H1093.5V880.9H1092.0V903.6H1090.5V890.4H1089.0V878.5H1087.5V890.0H1086.0V915.7H1084.5V881.6H1083.0V883.0H1081.5V887.9H1080.0V883.5H1078.5V896.9H1077.0V904.3H1075.5V888.9H1074.0V912.0H1072.5V875.8H1071.0V873.5H1069.5V877.2H1068.0V920.1H1066.5V1025.8H1065.0V1050.0H1063.5V1020.3H1062.0V1021.6H1060.5V1003.1H1059.0V1009.5H1057.5V1013.3H1056.0V1015.5H1054.5V1030.8H1053.0V1020.6H1051.5V1022.7H1050.0V1020.6H1048.5V1032.3H1047.0V1017.6H1045.5V1026.8H1044.0V1053.4H1042.5V1005.3H1041.0V1015.2H1039.5V1046.7H1038.0V1020.9H1036.5V1028.5H1035.0V1030.3H1033.5V1025.5H1032.0Z" fill="#ff0000"/><path d="M1029.4 1126.5V918.7M1030.4 1110.8V954.0" stroke="#ff0000" stroke-width="1.5"/><path d="M1038.1 965.4V871.3H1039.6V867.9H1041.1V883.2H1042.6V864.5H1044.1V869.4H1045.6V874.6H1047.1V874.3H1048.6V887.1H1050.1V884.6H1051.6V871.5H1053.1V882.2H1054.6V882.0H1056.1V891.4H1057.6V874.8H1059.1V871.1H1060.6V893.2H1062.1V865.1H1063.6V883.1H1065.1V871.6H1066.6V866.7H1068.1V881.0H1069.6V866.8H1071.1V887.5H1072.6V863.9H1074.1V872.0H1075.6V864.2H1077.1V884.6H1078.6V883.0H1080.1V888.0H1081.6V856.3H1083.1V891.3H1084.6V864.5H1086.1V891.4H1087.6V886.7H1089.1V852.7H1090.6V893.4H1092.1V866.5H1093.6V886.3H1095.1V871.1H1096.6V884.5H1098.1V888.8H1099.6V863.5H1101.1V873.5H1102.6V883.8H1104.1V878.0H1105.6V868.4H1107.1V859.4H1108.6V867.5H1110.1V858.5H1111.6V874.4H1113.1V886.9H1114.6V877.3H1116.1V866.8H1117.6V874.3H1119.1V878.2H1120.6V877.1H1122.1V882.8H1123.6V865.1H1125.1V885.9H1126.6V867.5H1128.1V855.0H1129.6V886.5H1131.1V886.9H1132.6V885.3H1134.1V876.7H1135.6V889.9H1137.1V857.3H1138.6V885.6H1140.1V876.8H1141.6V871.4H1143.1V865.8H1144.6V874.4H1146.1V864.7H1147.6V869.0H1149.1V875.3H1150.6V880.6H1152.1V869.0H1153.6V872.2H1155.1V890.6H1156.6V873.2H1158.1V876.8H1159.6V867.1H1161.1V880.4H1162.6V884.2H1164.1V868.4H1165.6V870.6H1167.1V874.6H1168.6V882.8H1170.1V892.1H1171.6V878.4H1173.1V850.9H1174.6V865.7H1176.1V873.3H1177.6V879.2H1179.1V870.1H1180.6V886.7H1182.1V871.3H1183.6V864.2H1185.1V881.2H1186.6V885.8H1188.1V862.0H1189.6V873.5H1191.1V868.9H1192.6V864.7H1194.1V876.9H1195.6V865.3H1197.1V871.1H1198.6V881.8H1200.1V879.1H1201.6V865.1H1203.1V864.9H1204.6V878.6H1206.1V877.9H1207.6V845.6H1209.1V864.1H1210.6V885.9H1212.1V873.1H1213.6V884.3H1215.1V869.5H1216.6V871.4H1218.1V889.4H1219.6V869.5H1221.1V875.5H1222.6V878.0H1224.1V884.1H1225.6V873.0H1227.1V882.3H1228.6V869.1H1230.1V870.4H1231.6V864.4H1233.1V869.1H1234.6V865.6H1236.1V866.7H1237.6V870.4H1239.1V877.0H1240.6V886.0H1242.1V891.4H1243.6V869.1H1245.1V885.5H1246.6V891.2H1248.1V872.6H1249.6V847.6H1251.1V876.2H1252.6V879.1H1254.1V883.2H1255.6V879.9H1257.1V872.3H1258.6V868.4H1260.1V861.6H1261.6V877.0H1263.1V869.0H1264.6V872.2H1266.1V888.6H1267.6V857.7H1269.1V867.0H1270.6V882.4H1272.1V873.7H1273.6V872.1H1275.1V857.0H1276.6V863.5H1278.1V884.4H1279.6V879.7H1281.1V891.3H1282.6V846.0H1284.1V879.9H1285.6V875.7H1287.1V875.9H1288.6V874.2H1290.1V870.6H1291.6V872.6H1293.1V867.5H1294.6V879.5H1296.1V875.9H1297.6V865.0H1299.1V870.2H1300.6V858.4H1302.1V878.5H1303.6V866.4H1305.1V870.3H1306.6V886.4H1308.1V873.0H1309.6V865.7H1311.1V867.9H1312.6V884.8H1314.1V878.4H1315.6V867.6H1317.1V868.4H1318.6V886.7H1320.1V882.4H1321.6V881.4H1323.1V867.7H1324.6V890.9H1326.1V860.2H1327.6V873.5H1329.1V870.2H1330.6V889.5H1332.1V881.1H1333.6V878.9H1335.1V875.1H1336.6V883.3H1338.1V876.6H1339.6V876.4H1341.1V868.0H1342.6V886.2H1344.1V865.6H1345.6V888.4H1347.1V888.7H1348.6V878.0H1350.1V868.3H1351.6V869.7H1353.1V849.1H1354.6V869.8H1356.1V856.2H1357.6V877.6H1359.1V873.0H1360.6V863.7H1362.1V882.1H1363.6V887.5H1365.1V878.0H1366.6V865.8H1368.1V850.6H1369.6V883.0H1371.1V873.4H1372.6V890.4H1374.1V879.2H1375.6V884.8H1377.1V878.3H1378.6V863.4H1380.1V885.4H1381.6V869.3H1383.1V867.9H1384.6V872.1H1386.1V865.9H1387.6V889.1H1389.1V867.4H1390.6V883.6H1392.1V887.6H1393.6V874.0H1395.1V890.0H1396.6V887.9H1398.1V851.1H1399.6V873.9H1401.1V872.0H1402.6V869.0H1404.1V888.6H1405.6V874.2H1407.1V886.8H1408.6V868.2H1410.1V865.4H1411.6V875.3H1413.1V884.4H1414.6V872.2H1416.1V871.5H1417.6V866.3H1419.1V876.3H1420.6V888.6H1422.1V857.2H1423.6V887.1H1425.1V876.8H1426.6V871.2H1428.1V887.4H1429.6V888.1H1431.1V870.6H1432.6V875.9H1434.1V874.7H1435.6V870.6H1437.1V887.0H1438.6V867.7H1440.1V872.5H1441.6V874.5H1443.1V864.4H1444.6V880.0H1446.1V875.7H1447.6V876.0H1449.1V880.3H1450.6V884.8H1452.1V882.1H1453.6V872.5H1455.1V871.5H1456.6V872.5H1458.1V877.6H1459.6V886.2H1461.1V867.4H1462.6V884.0H1464.1V891.4H1465.6V886.0H1467.1V875.7H1468.6V886.7H1470.1V887.7H1471.6V890.3H1473.1V877.4H1474.6V894.2H1476.1V888.6H1477.6V882.1H1479.1V884.1H1480.6V885.0H1482.1V893.8H1483.6V882.6H1485.1V888.5H1486.6V880.1H1488.1V882.0H1489.6V883.3H1491.1V875.9H1492.6V893.5H1494.1V874.0H1495.6V879.5H1497.1V870.8H1498.6V873.7H1500.1V885.6H1501.6V874.7H1503.1V890.1H1504.6V885.5H1506.1V893.1H1507.6V886.8H1509.1V893.5H1510.6V968.2H1509.1V993.8H1507.6V951.0H1506.1V937.2H1504.6V936.4H1503.1V949.0H1501.6V950.4H1500.1V954.0H1498.6V943.9H1497.1V945.4H1495.6V995.8H1494.1V982.8H1492.6V948.4H1491.1V939.8H1489.6V955.3H1488.1V940.4H1486.6V945.3H1485.1V939.3H1483.6V936.9H1482.1V951.0H1480.6V952.2H1479.1V945.6H1477.6V985.6H1476.1V952.3H1474.6V935.8H1473.1V945.5H1471.6V976.2H1470.1V953.5H1468.6V944.3H1467.1V946.5H1465.6V946.0H1464.1V981.2H1462.6V937.7H1461.1V949.5H1459.6V987.9H1458.1V927.5H1456.6V969.5H1455.1V949.2H1453.6V943.7H1452.1V947.2H1450.6V948.8H1449.1V960.1H1447.6V929.9H1446.1V931.8H1444.6V938.4H1443.1V972.4H1441.6V930.2H1440.1V967.2H1438.6V938.4H1437.1V938.2H1435.6V927.2H1434.1V950.5H1432.6V964.3H1431.1V950.0H1429.6V934.5H1428.1V974.9H1426.6V945.6H1425.1V941.1H1423.6V939.7H1422.1V949.8H1420.6V978.5H1419.1V945.1H1417.6V959.4H1416.1V941.9H1414.6V994.1H1413.1V961.9H1411.6V946.7H1410.1V930.5H1408.6V937.2H1407.1V943.3H1405.6V937.5H1404.1V936.1H1402.6V945.2H1401.1V964.8H1399.6V935.6H1398.1V951.1H1396.6V978.7H1395.1V950.5H1393.6V936.7H1392.1V946.9H1390.6V930.0H1389.1V933.5H1387.6V933.4H1386.1V952.6H1384.6V952.7H1383.1V946.3H1381.6V965.7H1380.1V943.0H1378.6V932.0H1377.1V972.3H1375.6V934.9H1374.1V939.0H1372.6V961.1H1371.1V949.6H1369.6V941.0H1368.1V958.6H1366.6V935.6H1365.1V992.5H1363.6V943.9H1362.1V935.0H1360.6V938.1H1359.1V936.6H1357.6V946.2H1356.1V931.2H1354.6V952.4H1353.1V947.3H1351.6V957.1H1350.1V941.6H1348.6V940.8H1347.1V934.1H1345.6V942.9H1344.1V981.4H1342.6V927.5H1341.1V951.3H1339.6V954.3H1338.1V933.5H1336.6V991.5H1335.1V953.2H1333.6V953.4H1332.1V949.8H1330.6V943.3H1329.1V953.5H1327.6V935.7H1326.1V991.7H1324.6V951.4H1323.1V955.7H1321.6V932.6H1320.1V984.0H1318.6V939.6H1317.1V950.6H1315.6V988.6H1314.1V975.1H1312.6V978.6H1311.1V932.4H1309.6V951.7H1308.1V938.1H1306.6V950.2H1305.1V933.6H1303.6V938.2H1302.1V988.4H1300.6V942.4H1299.1V945.0H1297.6V932.7H1296.1V931.9H1294.6V940.7H1293.1V944.5H1291.6V953.9H1290.1V964.8H1288.6V929.9H1287.1V956.2H1285.6V948.3H1284.1V932.6H1282.6V950.1H1281.1V969.5H1279.6V939.2H1278.1V969.6H1276.6V976.5H1275.1V930.4H1273.6V943.6H1272.1V954.2H1270.6V937.4H1269.1V950.6H1267.6V940.8H1266.1V939.0H1264.6V952.7H1263.1V957.2H1261.6V930.6H1260.1V981.4H1258.6V938.6H1257.1V943.1H1255.6V948.7H1254.1V943.1H1252.6V932.3H1251.1V950.1H1249.6V944.5H1248.1V936.3H1246.6V957.0H1245.1V950.4H1243.6V956.0H1242.1V953.9H1240.6V947.5H1239.1V931.0H1237.6V968.4H1236.1V962.6H1234.6V985.7H1233.1V942.6H1231.6V931.4H1230.1V950.7H1228.6V976.3H1227.1V951.7H1225.6V955.2H1224.1V931.6H1222.6V952.6H1221.1V962.8H1219.6V980.9H1218.1V938.1H1216.6V935.0H1215.1V954.5H1213.6V936.5H1212.1V980.7H1210.6V955.9H1209.1V950.4H1207.6V944.6H1206.1V951.8H1204.6V945.4H1203.1V955.9H1201.6V949.9H1200.1V959.0H1198.6V962.0H1197.1V953.4H1195.6V955.5H1194.1V939.3H1192.6V957.6H1191.1V975.7H1189.6V951.3H1188.1V983.7H1186.6V1001.0H1185.1V945.9H1183.6V960.1H1182.1V940.5H1180.6V965.7H1179.1V954.3H1177.6V980.2H1176.1V938.5H1174.6V938.0H1173.1V939.0H1171.6V962.7H1170.1V957.3H1168.6V955.8H1167.1V945.8H1165.6V945.2H1164.1V966.3H1162.6V993.6H1161.1V977.6H1159.6V981.3H1158.1V966.8H1156.6V935.4H1155.1V937.6H1153.6V980.0H1152.1V948.1H1150.6V940.5H1149.1V945.5H1147.6V935.1H1146.1V995.1H1144.6V932.9H1143.1V1002.5H1141.6V948.7H1140.1V948.3H1138.6V996.4H1137.1V970.6H1135.6V953.3H1134.1V958.3H1132.6V976.2H1131.1V939.0H1129.6V992.4H1128.1V934.0H1126.6V939.3H1125.1V992.9H1123.6V940.0H1122.1V977.6H1120.6V949.9H1119.1V939.2H1117.6V969.4H1116.1V946.7H1114.6V934.0H1113.1V937.7H1111.6V978.0H1110.1V958.6H1108.6V954.2H1107.1V935.5H1105.6V949.7H1104.1V934.3H1102.6V949.3H1101.1V1005.5H1099.6V993.3H1098.1V957.3H1096.6V969.1H1095.1V972.2H1093.6V942.6H1092.1V938.3H1090.6V985.3H1089.1V980.5H1087.6V941.5H1086.1V952.7H1084.6V942.8H1083.1V936.1H1081.6V947.0H1080.1V939.3H1078.6V945.6H1077.1V961.6H1075.6V941.3H1074.1V945.8H1072.6V998.4H1071.1V956.6H1069.6V947.7H1068.1V975.4H1066.6V941.7H1065.1V988.7H1063.6V981.9H1062.1V956.8H1060.6V966.4H1059.1V964.3H1057.6V956.4H1056.1V934.5H1054.6V954.4H1053.1V955.0H1051.6V977.2H1050.1V983.0H1048.6V989.5H1047.1V945.7H1045.6V962.0H1044.1V945.3H1042.6V963.1H1041.1V948.6H1039.6V985.2H1038.1Z" fill="#00ff00"/><path d="M1030.9 1110.8V1032.4M1034.0 1103.0V1052.0" stroke="#00ff00" stroke-width="1.5"/><path d="M1028.9 1110.8V1083.9H1030.4V1072.2H1031.9V1083.0H1033.4V1076.1H1034.9V1084.0H1036.4V1065.4H1037.9V1076.5H1039.4V1072.5H1040.9V1064.1H1042.4V1081.5H1043.9V1081.0H1045.4V1080.3H1046.9V1077.7H1048.4V1078.2H1049.9V1065.1H1051.4V1071.2H1052.9V1065.1H1054.4V1058.9H1055.9V1066.3H1057.4V1064.2H1058.9V1061.8H1060.4V1041.4H1061.9V1058.8H1063.4V1051.9H1064.9V1029.7H1066.4V1040.9H1067.9V1045.3H1069.4V1042.8H1070.9V1039.2H1072.4V1029.2H1073.9V1033.1H1075.4V1033.3H1076.9V1032.3H1078.4V1026.3H1079.9V1029.1H1081.4V1031.8H1082.9V1033.7H1084.4V1024.8H1085.9V1028.8H1087.4V1021.9H1088.9V1022.9H1090.4V1025.1H1091.9V1009.5H1093.4V1024.0H1094.9V1029.8H1096.4V1012.8H1097.9V1008.4H1099.4V1019.0H1100.9V1024.6H1102.4V1019.7H1103.9V1019.8H1105.4V1011.1H1106.9V998.3H1108.4V984.9H1109.9V989.1H1111.4V982.7H1112.9V980.9H1114.4V968.3H1115.9V957.3H1117.4V977.1H1118.9V959.0H1120.4V976.0H1121.9V966.6H1123.4V969.3H1124.9V956.5H1126.4V969.6H1127.9V972.1H1129.4V972.8H1130.9V969.5H1132.4V967.3H1133.9V980.1H1135.4V975.5H1136.9V962.2H1138.4V962.2H1139.9V978.9H1141.4V976.8H1142.9V963.7H1144.4V976.4H1145.9V975.2H1147.4V971.7H1148.9V978.0H1150.4V965.9H1151.9V972.9H1153.4V978.2H1154.9V973.2H1156.4V971.1H1157.9V957.2H1159.4V968.4H1160.9V969.4H1162.4V979.5H1163.9V973.4H1165.4V970.0H1166.9V978.0H1168.4V962.6H1169.9V969.8H1171.4V971.9H1172.9V966.1H1174.4V972.9H1175.9V972.9H1177.4V966.7H1178.9V974.7H1180.4V966.1H1181.9V968.4H1183.4V975.6H1184.9V970.8H1186.4V974.9H1187.9V972.2H1189.4V970.9H1190.9V972.4H1192.4V960.4H1193.9V964.0H1195.4V976.4H1196.9V972.8H1198.4V965.8H1199.9V972.4H1201.4V975.3H1202.9V973.9H1204.4V971.0H1205.9V969.2H1207.4V970.3H1208.9V964.1H1210.4V967.5H1211.9V966.7H1213.4V965.9H1214.9V962.2H1216.4V967.6H1217.9V971.3H1219.4V972.0H1220.9V973.3H1222.4V966.6H1223.9V949.3H1225.4V965.3H1226.9V955.2H1228.4V953.9H1229.9V959.9H1231.4V963.1H1232.9V963.1H1234.4V962.1H1235.9V963.0H1237.4V954.6H1238.9V960.7H1240.4V967.2H1241.9V962.5H1243.4V961.1H1244.9V970.8H1246.4V949.0H1247.9V962.4H1249.4V948.2H1250.9V960.2H1252.4V963.3H1253.9V966.8H1255.4V951.2H1256.9V965.3H1258.4V960.7H1259.9V959.8H1261.4V968.7H1262.9V956.8H1264.4V964.9H1265.9V961.9H1267.4V961.7H1268.9V967.7H1270.4V968.0H1271.9V973.1H1273.4V964.4H1274.9V963.6H1276.4V965.6H1277.9V958.0H1279.4V964.9H1280.9V965.6H1282.4V966.8H1283.9V972.5H1285.4V970.2H1286.9V961.4H1288.4V967.3H1289.9V950.3H1291.4V957.1H1292.9V957.3H1294.4V950.2H1295.9V965.3H1297.4V971.0H1298.9V957.2H1300.4V967.3H1301.9V973.6H1303.4V967.6H1304.9V974.4H1306.4V961.0H1307.9V954.7H1309.4V965.1H1310.9V966.3H1312.4V969.9H1313.9V967.2H1315.4V963.1H1316.9V958.7H1318.4V957.7H1319.9V971.5H1321.4V962.6H1322.9V966.9H1324.4V963.7H1325.9V973.7H1327.4V962.1H1328.9V963.4H1330.4V970.9H1331.9V964.6H1333.4V953.3H1334.9V970.3H1336.4V968.2H1337.9V971.2H1339.4V976.3H1340.9V972.5H1342.4V968.3H1343.9V973.2H1345.4V960.5H1346.9V972.2H1348.4V962.3H1349.9V973.5H1351.4V968.1H1352.9V967.8H1354.4V966.6H1355.9V976.2H1357.4V964.1H1358.9V963.0H1360.4V966.3H1361.9V957.9H1363.4V967.2H1364.9V960.2H1366.4V975.2H1367.9V964.9H1369.4V962.9H1370.9V961.6H1372.4V974.8H1373.9V960.7H1375.4V957.8H1376.9V970.2H1378.4V973.5H1379.9V963.8H1381.4V974.0H1382.9V974.8H1384.4V966.3H1385.9V973.8H1387.4V970.8H1388.9V963.6H1390.4V966.5H1391.9V963.7H1393.4V972.8H1394.9V963.2H1396.4V972.3H1397.9V962.9H1399.4V970.3H1400.9V967.6H1402.4V965.5H1403.9V957.6H1405.4V962.7H1406.9V960.1H1408.4V954.9H1409.9V948.0H1411.4V954.4H1412.9V955.4H1414.4V957.8H1415.9V948.3H1417.4V944.6H1418.9V945.7H1420.4V947.8H1421.9V951.4H1423.4V941.8H1424.9V926.2H1426.4V946.4H1427.9V946.1H1429.4V940.4H1430.9V937.8H1432.4V936.1H1433.9V930.5H1435.4V930.4H1436.9V932.8H1438.4V931.6H1439.9V930.6H1441.4V919.9H1442.9V932.9H1444.4V921.3H1445.9V920.2H1447.4V925.3H1448.9V923.8H1450.4V923.0H1451.9V919.5H1453.4V905.7H1454.9V908.0H1456.4V916.6H1457.9V919.8H1459.4V891.9H1460.9V908.1H1462.4V903.3H1463.9V896.2H1465.4V878.1H1466.9V850.6H1468.4V860.2H1469.9V851.4H1471.4V855.6H1472.9V863.2H1474.4V849.9H1475.9V851.4H1477.4V862.9H1478.9V864.9H1480.4V849.2H1481.9V859.4H1483.4V848.4H1484.9V864.0H1486.4V864.1H1487.9V847.4H1489.4V840.6H1490.9V858.2H1492.4V856.3H1493.9V861.2H1495.4V861.2H1496.9V861.6H1498.4V861.0H1499.9V849.3H1501.4V848.8H1502.9V857.9H1504.4V855.1H1505.9V862.8H1507.4V832.2H1508.9V851.9H1510.4V922.9H1508.9V898.2H1507.4V891.3H1505.9V913.7H1504.4V892.9H1502.9V897.4H1501.4V893.6H1499.9V904.0H1498.4V903.6H1496.9V912.2H1495.4V916.2H1493.9V896.0H1492.4V901.7H1490.9V900.8H1489.4V910.8H1487.9V890.6H1486.4V897.7H1484.9V896.0H1483.4V900.9H1481.9V908.4H1480.4V904.6H1478.9V896.4H1477.4V908.8H1475.9V895.4H1474.4V910.1H1472.9V897.9H1471.4V906.0H1469.9V902.2H1468.4V905.4H1466.9V913.3H1465.4V943.7H1463.9V954.1H1462.4V949.1H1460.9V944.3H1459.4V956.8H1457.9V961.5H1456.4V951.2H1454.9V957.8H1453.4V950.5H1451.9V954.2H1450.4V955.1H1448.9V960.3H1447.4V984.5H1445.9V957.8H1444.4V962.8H1442.9V967.8H1441.4V962.0H1439.9V967.8H1438.4V970.1H1436.9V969.1H1435.4V972.3H1433.9V978.5H1432.4V972.9H1430.9V980.6H1429.4V988.0H1427.9V976.8H1426.4V990.4H1424.9V997.6H1423.4V988.5H1421.9V980.1H1420.4V989.2H1418.9V979.3H1417.4V977.7H1415.9V983.7H1414.4V1003.1H1412.9V991.3H1411.4V990.1H1409.9V994.2H1408.4V997.3H1406.9V1003.7H1405.4V1001.0H1403.9V1006.6H1402.4V997.7H1400.9V994.3H1399.4V997.3H1397.9V997.7H1396.4V998.5H1394.9V1005.9H1393.4V1021.4H1391.9V1010.7H1390.4V997.2H1388.9V1005.9H1387.4V998.6H1385.9V1002.4H1384.4V996.2H1382.9V994.3H1381.4V998.7H1379.9V1005.6H1378.4V1010.0H1376.9V1009.9H1375.4V1004.0H1373.9V1001.1H1372.4V1004.7H1370.9V1007.3H1369.4V1000.7H1367.9V1005.8H1366.4V1016.7H1364.9V1008.5H1363.4V1008.6H1361.9V1010.3H1360.4V1001.9H1358.9V1002.8H1357.4V1006.5H1355.9V1002.9H1354.4V1003.8H1352.9V1009.8H1351.4V1002.8H1349.9V1004.1H1348.4V1026.5H1346.9V1001.5H1345.4V998.0H1343.9V1004.7H1342.4V1009.0H1340.9V1012.7H1339.4V1012.4H1337.9V1003.4H1336.4V1007.9H1334.9V997.2H1333.4V1002.1H1331.9V997.3H1330.4V1004.2H1328.9V1005.5H1327.4V1004.7H1325.9V1015.8H1324.4V996.1H1322.9V1013.3H1321.4V1014.9H1319.9V1006.5H1318.4V1003.0H1316.9V1009.1H1315.4V1013.0H1313.9V1004.9H1312.4V1002.8H1310.9V1012.6H1309.4V1003.4H1307.9V1001.3H1306.4V1006.9H1304.9V1015.3H1303.4V996.7H1301.9V1001.8H1300.4V1017.1H1298.9V1000.7H1297.4V994.3H1295.9V1019.2H1294.4V1004.2H1292.9V1009.9H1291.4V1004.4H1289.9V1004.6H1288.4V999.8H1286.9V1000.3H1285.4V1004.4H1283.9V1005.1H1282.4V1015.5H1280.9V1004.2H1279.4V994.6H1277.9V1006.1H1276.4V998.7H1274.9V1004.4H1273.4V1006.4H1271.9V1002.4H1270.4V1015.2H1268.9V997.0H1267.4V994.8H1265.9V995.1H1264.4V1013.9H1262.9V1015.0H1261.4V1000.6H1259.9V999.6H1258.4V999.2H1256.9V1004.4H1255.4V995.3H1253.9V1013.2H1252.4V1003.5H1250.9V995.7H1249.4V1009.5H1247.9V997.0H1246.4V1005.6H1244.9V1017.1H1243.4V997.8H1241.9V993.7H1240.4V1001.4H1238.9V1001.2H1237.4V999.3H1235.9V1002.0H1234.4V1000.3H1232.9V999.8H1231.4V999.4H1229.9V1003.1H1228.4V1002.0H1226.9V1000.5H1225.4V991.2H1223.9V993.8H1222.4V998.7H1220.9V1004.0H1219.4V1000.9H1217.9V1008.1H1216.4V999.9H1214.9V997.0H1213.4V1010.1H1211.9V1004.0H1210.4V1010.1H1208.9V1004.7H1207.4V994.6H1205.9V1012.7H1204.4V994.2H1202.9V1021.5H1201.4V1006.0H1199.9V998.6H1198.4V1003.4H1196.9V998.1H1195.4V996.6H1193.9V1014.0H1192.4V997.0H1190.9V1000.5H1189.4V1014.3H1187.9V1006.5H1186.4V1008.8H1184.9V998.7H1183.4V1009.8H1181.9V1009.9H1180.4V1021.1H1178.9V997.6H1177.4V1002.4H1175.9V1004.6H1174.4V1013.1H1172.9V1001.8H1171.4V1021.9H1169.9V1011.5H1168.4V999.7H1166.9V1019.9H1165.4V1008.4H1163.9V1000.9H1162.4V1007.9H1160.9V1024.7H1159.4V1008.4H1157.9V1004.0H1156.4V1002.2H1154.9V1001.2H1153.4V1000.1H1151.9V1002.2H1150.4V1003.3H1148.9V1004.5H1147.4V1014.6H1145.9V1011.2H1144.4V1003.0H1142.9V1011.4H1141.4V1000.5H1139.9V1003.6H1138.4V1028.1H1136.9V1006.3H1135.4V1024.2H1133.9V1008.3H1132.4V1001.6H1130.9V1013.0H1129.4V1023.5H1127.9V1005.6H1126.4V1016.8H1124.9V1019.8H1123.4V1010.3H1121.9V1002.0H1120.4V1020.6H1118.9V1011.3H1117.4V1005.7H1115.9V1017.2H1114.4V1011.3H1112.9V1029.2H1111.4V1030.1H1109.9V1048.6H1108.4V1041.8H1106.9V1047.6H1105.4V1048.6H1103.9V1058.6H1102.4V1072.0H1100.9V1055.8H1099.4V1055.8H1097.9V1057.9H1096.4V1054.9H1094.9V1056.2H1093.4V1051.9H1091.9V1058.6H1090.4V1058.7H1088.9V1056.5H1087.4V1051.8H1085.9V1074.5H1084.4V1057.6H1082.9V1057.6H1081.4V1064.2H1079.9V1062.0H1078.4V1061.9H1076.9V1062.7H1075.4V1055.4H1073.9V1062.7H1072.4V1068.8H1070.9V1076.3H1069.4V1076.1H1067.9V1080.5H1066.4V1079.1H1064.9V1078.7H1063.4V1085.3H1061.9V1081.1H1060.4V1081.3H1058.9V1083.8H1057.4V1103.3H1055.9V1095.0H1054.4V1101.3H1052.9V1101.3H1051.4V1094.4H1049.9V1117.0H1048.4V1099.0H1046.9V1099.7H1045.4V1119.3H1043.9V1106.9H1042.4V1099.1H1040.9V1105.1H1039.4V1114.7H1037.9V1100.6H1036.4V1116.7H1034.9V1109.6H1033.4V1116.7H1031.9V1105.6H1030.4V1102.3H1028.9Z" fill="#0000ff"/></g></svg><rect x="1028.9" y="797.2" width="480.5" height="352.8" fill="none" stroke="#000" stroke-width="2"/><path d="M1028.9 1150.0V1143.0M1028.9 797.2V804.2M1080.0 1150.0V1146.0M1080.0 797.2V801.2M1131.1 1150.0V1143.0M1131.1 797.2V804.2M1182.2 1150.0V1146.0M1182.2 797.2V801.2M1233.3 1150.0V1143.0M1233.3 797.2V804.2M1284.4 1150.0V1146.0M1284.4 797.2V801.2M1335.5 1150.0V1143.0M1335.5 797.2V804.2M1386.6 1150.0V1146.0M1386.6 797.2V801.2M1437.7 1150.0V1143.0M1437.7 797.2V804.2M1488.8 1150.0V1146.0M1488.8 797.2V801.2M1028.9 1150.0H1035.9M1509.4 1150.0H1502.4M1028.9 1110.8H1032.9M1509.4 1110.8H1505.4M1028.9 1071.6H1035.9M1509.4 1071.6H1502.4M1028.9 1032.4H1032.9M1509.4 1032.4H1505.4M1028.9 993.2H1035.9M1509.4 993.2H1502.4M1028.9 954.0H1032.9M1509.4 954.0H1505.4M1028.9 914.8H1035.9M1509.4 914.8H1502.4M1028.9 875.6H1032.9M1509.4 875.6H1505.4M1028.9 836.4H1035.9M1509.4 836.4H1502.4M1028.9 797.2H1032.9M1509.4 797.2H1505.4" stroke="#000" stroke-width="1.5" fill="none"/><text x="1020.5" y="1160.0" text-anchor="end" font-size="28.5">0.0</text><text x="1020.5" y="1081.6" text-anchor="end" font-size="28.5">0.2</text><text x="1020.5" y="1003.2" text-anchor="end" font-size="28.5">0.4</text><text x="1020.5" y="924.8" text-anchor="end" font-size="28.5">0.6</text><text x="1020.5" y="846.4" text-anchor="end" font-size="28.5">0.8</text><text x="1028.9" y="1181" text-anchor="middle" font-size="28.5">0</text><text x="1131.1" y="1181" text-anchor="middle" font-size="28.5">1</text><text x="1233.3" y="1181" text-anchor="middle" font-size="28.5">2</text><text x="1335.5" y="1181" text-anchor="middle" font-size="28.5">3</text><text x="1437.7" y="1181" text-anchor="middle" font-size="28.5">4</text><text x="917.5" y="968" font-size="38.5">Q(t)</text><text x="1243.5" y="1209.5" font-size="38.5">t(ms)</text><path d="M1356 1062H1414.8" stroke="#ff0000" stroke-width="2.5" stroke-linecap="round"/><text x="1419" y="1071.5" font-size="25.5">NMP</text><path d="M1356 1093.5H1414.8" stroke="#00ff00" stroke-width="2.5" stroke-linecap="round"/><text x="1419" y="1103.0" font-size="25.5">LID</text><path d="M1356 1125H1414.8" stroke="#0000ff" stroke-width="2.5" stroke-linecap="round"/><text x="1419" y="1134.5" font-size="25.5">CORE</text><text x="1032.5" y="1110.5" font-size="38" font-weight="bold" fill="#ff0000" stroke="#ff0000" stroke-width="0.8" textLength="20.5" lengthAdjust="spacingAndGlyphs">1</text><text x="1074.4" y="1058.9" font-size="38" font-weight="bold" fill="#ff0000" stroke="#ff0000" stroke-width="0.8" textLength="20.5" lengthAdjust="spacingAndGlyphs">2</text><text x="1232.7" y="996.0" font-size="38" font-weight="bold" fill="#ff0000" stroke="#ff0000" stroke-width="0.8" textLength="20.5" lengthAdjust="spacingAndGlyphs">3</text><text x="1427" y="952.1" font-size="38" font-weight="bold" fill="#ff0000" stroke="#ff0000" stroke-width="0.8" textLength="20.5" lengthAdjust="spacingAndGlyphs">4</text><text x="1467.3" y="889.2" font-size="38" font-weight="bold" fill="#ff0000" stroke="#ff0000" stroke-width="0.8" textLength="20.5" lengthAdjust="spacingAndGlyphs">5</text><path d="M1651 0V1238" stroke="#111" stroke-width="1.5"/></svg></body></html>
